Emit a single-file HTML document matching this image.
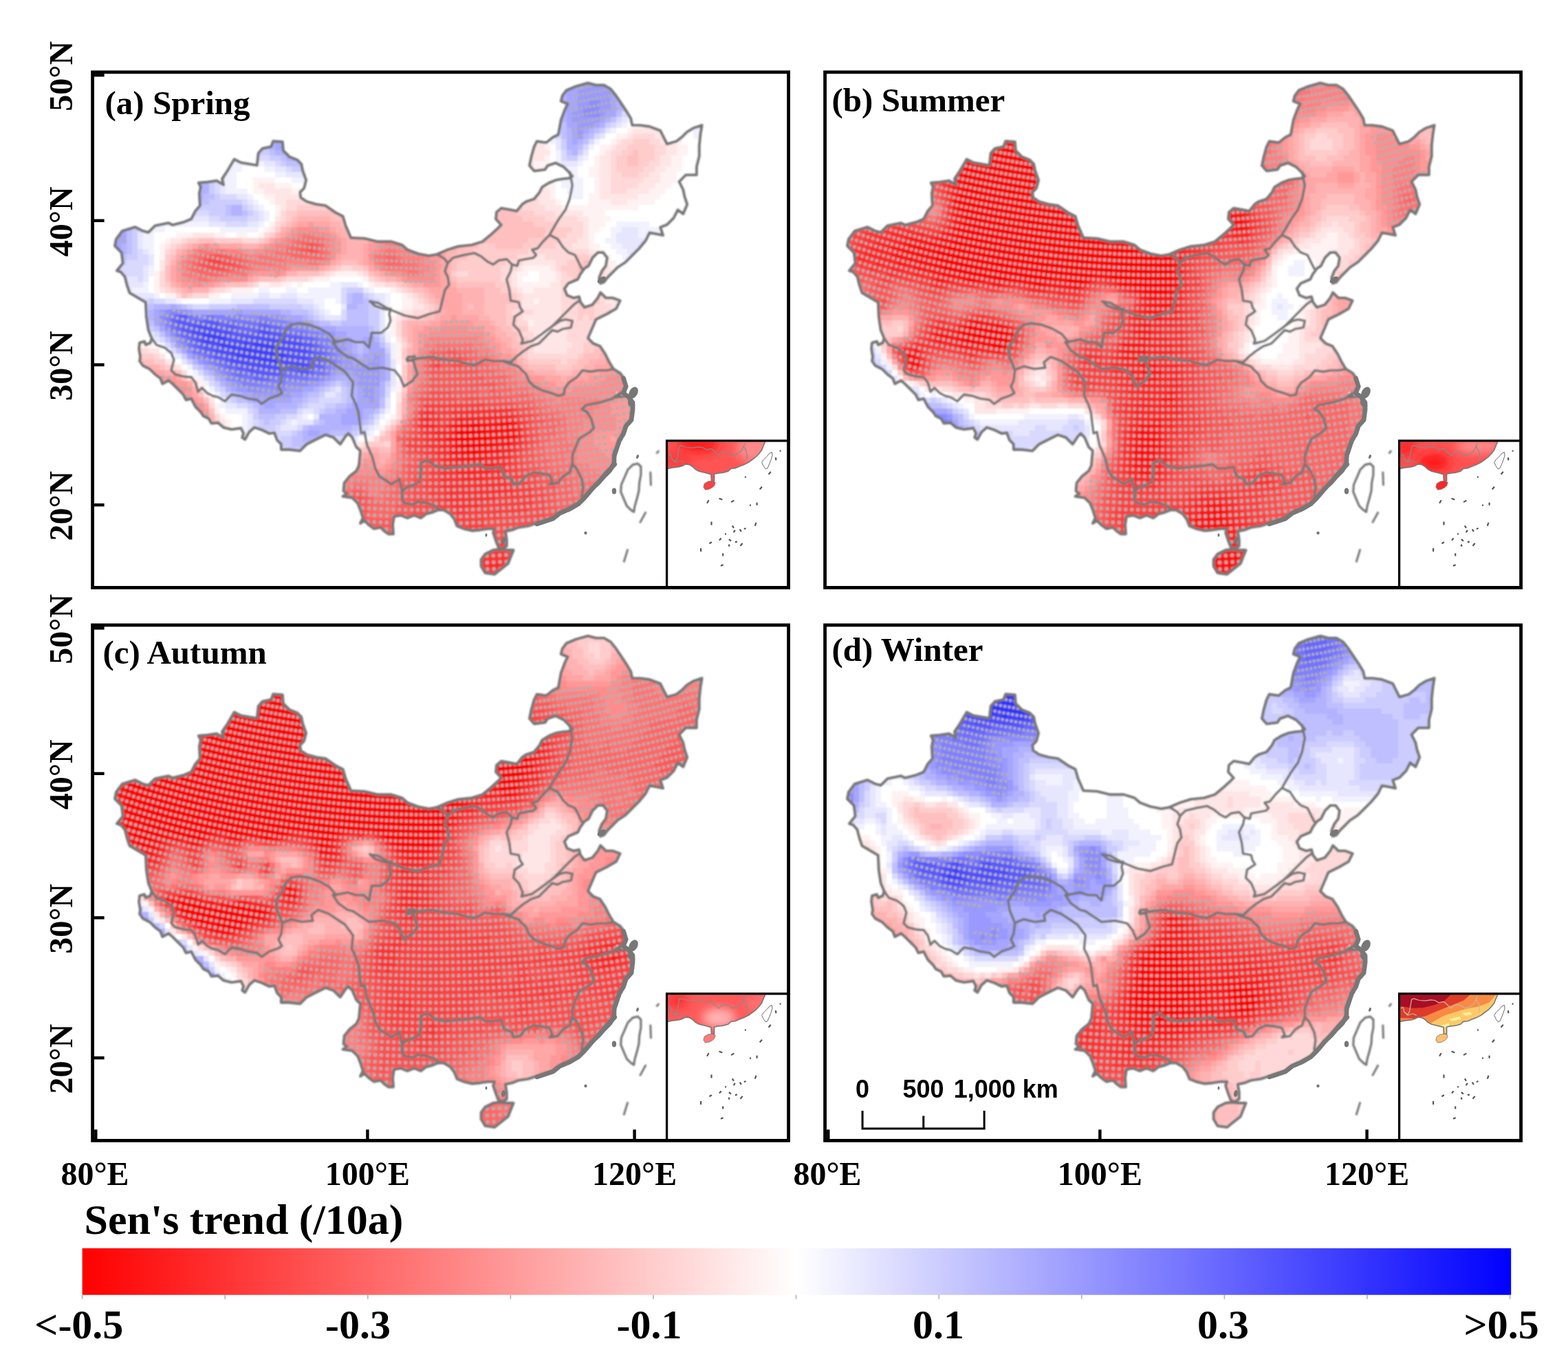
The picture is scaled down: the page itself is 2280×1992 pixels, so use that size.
<!DOCTYPE html>
<html lang="en"><head><meta charset="utf-8"><title>Sen's trend seasonal maps</title>
<style>html,body{margin:0;padding:0;background:#fff}svg{display:block}.ser{font-family:"Liberation Serif","Times New Roman",serif;font-weight:bold;fill:#000}.san{font-family:"Liberation Sans",Arial,sans-serif;font-weight:bold;fill:#000}</style></head><body>
<svg xmlns="http://www.w3.org/2000/svg" width="2280" height="1992" viewBox="0 0 2280 1992">
<rect width="2280" height="1992" fill="#fff"/>
<defs>
<clipPath id="cn"><path d="M215.8,480.0 212.9,460.8 211.9,439.4 188.5,425.7 184.6,414.0 181.7,402.3 175.8,395.5 170.0,393.6 178.8,382.8 176.8,367.2 167.1,357.5 169.0,347.7 177.8,336.0 196.3,330.2 208.0,336.0 215.8,338.0 225.6,328.2 235.3,326.3 245.1,324.3 250.9,327.2 266.5,323.3 278.2,318.5 284.1,306.8 290.9,299.0 289.9,281.4 291.9,271.7 288.9,265.8 301.6,264.8 315.3,262.9 325.0,268.7 323.1,260.0 330.9,248.3 340.6,231.7 350.4,236.6 373.8,240.5 375.7,222.9 381.6,216.1 394.3,213.2 397.2,205.4 410.8,206.3 411.8,219.0 420.6,227.8 432.3,232.7 438.1,238.5 440.1,248.3 445.0,261.9 442.0,273.6 436.2,279.5 437.2,287.3 445.9,293.1 459.6,297.0 473.2,299.0 488.8,309.7 498.6,314.6 502.5,328.2 510.3,345.8 530.0,346.7 549.5,351.4 569.0,351.4 584.6,356.3 592.4,363.1 608.0,369.0 623.6,371.9 635.3,369.9 650.9,363.1 666.5,358.2 686.0,356.3 701.6,351.4 713.3,341.7 725.0,330.9 728.9,327.0 721.1,318.3 722.1,308.5 728.9,302.7 741.7,305.0 751.5,307.0 759.3,297.2 765.1,293.3 776.8,289.4 784.6,279.7 788.5,271.9 798.3,266.0 808.0,262.1 817.8,260.2 827.5,259.2 832.4,256.3 827.5,250.4 819.7,242.6 808.0,236.8 796.3,240.7 792.4,246.5 776.8,248.5 770.0,240.7 772.9,227.0 776.8,213.4 780.7,205.6 794.4,207.5 804.1,199.7 811.9,195.8 815.8,174.4 821.7,158.8 825.6,151.0 815.8,147.1 817.8,139.3 823.6,131.5 837.3,125.6 854.8,120.7 866.5,123.7 878.2,123.7 888.0,129.5 895.8,139.3 903.6,151.0 911.4,162.7 917.2,172.4 919.2,182.2 930.9,182.2 944.5,184.1 960.1,190.0 964.0,197.8 969.9,209.5 983.5,205.6 991.3,199.7 999.1,191.9 1008.9,186.1 1020.6,182.2 1018.6,193.9 1016.7,211.4 1016.7,227.0 1012.8,242.6 1012.8,254.3 997.2,254.3 987.4,264.1 993.3,275.8 995.2,285.5 999.1,297.2 993.3,310.9 985.5,305.0 979.6,316.7 969.9,326.5 960.1,330.4 964.0,342.1 954.3,340.1 944.5,338.2 938.7,349.9 928.9,361.6 919.2,371.3 909.4,381.1 897.7,388.9 889.9,396.7 884.1,402.5 878.2,410.0 873.2,411.9 871.3,404.1 875.2,394.3 881.0,386.5 883.0,374.8 877.1,367.0 869.3,367.0 861.5,374.8 855.7,386.5 849.8,390.4 844.0,398.2 840.1,406.0 826.4,411.9 820.6,419.7 824.5,429.4 834.2,433.3 842.0,431.4 844.0,439.2 849.8,447.0 861.5,443.1 869.3,433.3 873.2,425.5 881.0,433.3 890.8,433.3 901.6,437.1 895.8,448.8 882.1,456.6 866.5,464.4 860.7,478.0 854.8,491.7 862.6,499.5 872.4,503.4 880.2,515.1 886.0,526.8 891.9,536.5 901.6,542.4 907.5,550.2 909.4,561.9 905.5,569.7 895.8,577.5 905.5,576.5 913.3,575.5 917.6,582.4 918.8,595.0 917.2,610.6 909.4,618.4 905.5,630.1 899.7,639.9 895.8,651.6 891.9,661.3 891.9,673.0 892.7,675.1 881.0,686.8 869.3,700.4 859.6,710.2 849.8,721.9 840.1,731.6 826.4,739.4 812.8,745.3 803.0,753.1 791.3,757.0 779.6,760.9 767.9,764.8 754.3,766.7 744.5,770.6 734.8,772.6 736.7,784.3 736.7,794.0 730.9,797.9 725.0,796.0 721.1,786.2 717.2,774.5 719.2,768.7 709.4,768.7 697.7,770.6 686.0,771.6 674.3,768.7 664.6,764.8 660.7,755.0 654.8,747.2 645.1,741.4 637.3,741.4 627.5,745.3 619.7,747.2 611.9,753.1 602.2,749.2 592.4,753.1 582.7,749.2 572.9,751.1 571.0,762.8 571.9,776.5 565.1,776.5 559.3,772.6 553.4,766.7 543.7,768.7 535.9,762.8 530.0,757.0 524.0,760.8 527.9,753.0 524.0,741.3 520.1,731.6 512.3,723.8 498.6,721.8 504.5,717.9 499.6,714.0 500.6,702.3 508.4,692.6 518.1,684.8 522.0,677.0 524.0,655.5 518.1,649.7 512.3,636.0 506.4,630.2 502.5,634.1 494.7,645.8 484.9,636.0 473.2,632.1 457.6,639.9 445.9,645.8 436.2,655.5 420.6,653.6 408.9,653.6 408.9,645.8 403.0,639.9 399.1,629.2 391.3,630.2 381.6,625.3 369.9,621.4 362.1,628.2 356.2,638.9 352.3,636.0 354.3,630.2 350.4,622.4 336.7,624.3 325.0,621.4 317.2,614.6 307.5,615.5 303.6,608.7 295.8,604.8 291.9,599.0 284.1,591.2 278.2,579.5 270.4,581.4 266.5,573.6 258.7,565.8 250.9,558.0 245.1,553.1 236.3,558.0 233.4,550.2 225.6,544.4 217.8,536.6 208.0,531.7 203.1,524.9 204.1,519.0 202.2,507.3 203.1,498.5 210.0,496.6 211.9,501.5 218.7,498.5 220.7,491.7Z"/><path d="M705.5,805.7 717.2,799.9 727.0,798.9 736.7,799.9 746.5,799.9 742.6,809.6 738.7,819.4 728.9,827.2 719.2,835.0 705.5,833.0 699.7,823.3 699.7,813.5Z"/></clipPath>
<clipPath id="fr"><rect x="134.6" y="104.9" width="1011.9999999999999" height="749.5"/></clipPath>
<filter id="ib" x="-50%" y="-50%" width="200%" height="200%"><feGaussianBlur stdDeviation="7"/></filter><filter id="sb" filterUnits="userSpaceOnUse" x="130" y="100" width="1020" height="760"><feGaussianBlur stdDeviation="0.9"/></filter>
</defs>
<g transform="translate(0,0)">
<g filter="url(#sb)">
<g clip-path="url(#cn)"><path fill="#ff0000" d="M680,618h16v8h-16zM664,626h40v8h-40zM664,634h48v8h-48zM672,642h32v8h-32zM680,650h16v8h-16z"/>
<path fill="#ff0d0d" d="M688,610h8v8h-8zM728,610h16v8h-16zM664,618h16v8h-16zM696,618h48v8h-48zM704,626h48v8h-48zM656,634h8v8h-8zM712,634h40v8h-40zM664,642h8v8h-8zM704,642h16v8h-16zM664,650h16v8h-16zM696,650h16v8h-16zM672,658h24v8h-24z"/>
<path fill="#ff1919" d="M664,610h24v8h-24zM696,610h32v8h-32zM744,610h8v8h-8zM656,618h8v8h-8zM744,618h8v8h-8zM656,626h8v8h-8zM648,634h8v8h-8zM656,642h8v8h-8zM720,642h24v8h-24zM656,650h8v8h-8zM712,650h16v8h-16zM656,658h16v8h-16zM696,658h16v8h-16zM664,666h40v8h-40z"/>
<path fill="#ff2626" d="M616,602h8v8h-8zM664,602h80v8h-80zM616,610h8v8h-8zM656,610h8v8h-8zM616,618h16v8h-16zM648,618h8v8h-8zM752,618h8v8h-8zM632,626h24v8h-24zM752,626h8v8h-8zM632,634h16v8h-16zM752,634h8v8h-8zM640,642h16v8h-16zM744,642h8v8h-8zM640,650h16v8h-16zM728,650h16v8h-16zM648,658h8v8h-8zM712,658h24v8h-24zM648,666h16v8h-16zM704,666h24v8h-24zM656,674h64v8h-64zM664,682h48v8h-48zM672,690h32v8h-32zM712,818h16v8h-16z"/>
<path fill="#ff3333" d="M616,594h16v8h-16zM656,594h88v8h-88zM608,602h8v8h-8zM624,602h16v8h-16zM656,602h8v8h-8zM744,602h8v8h-8zM608,610h8v8h-8zM624,610h16v8h-16zM648,610h8v8h-8zM752,610h8v8h-8zM608,618h8v8h-8zM632,618h16v8h-16zM616,626h16v8h-16zM616,634h16v8h-16zM616,642h24v8h-24zM752,642h8v8h-8zM624,650h16v8h-16zM744,650h8v8h-8zM632,658h16v8h-16zM736,658h8v8h-8zM640,666h8v8h-8zM728,666h16v8h-16zM640,674h16v8h-16zM720,674h16v8h-16zM640,682h24v8h-24zM712,682h24v8h-24zM640,690h32v8h-32zM704,690h32v8h-32zM640,698h96v8h-96zM640,706h104v8h-104zM648,714h104v8h-104zM648,722h72v8h-72zM656,730h40v8h-40zM664,738h16v8h-16zM704,802h32v8h-32zM696,810h48v8h-48zM696,818h16v8h-16zM728,818h16v8h-16zM696,826h32v8h-32zM712,834h8v8h-8z"/>
<path fill="#ff4040" d="M304,378h16v8h-16zM632,522h8v8h-8zM632,530h8v8h-8zM616,586h88v8h-88zM608,594h8v8h-8zM632,594h24v8h-24zM744,594h8v8h-8zM640,602h16v8h-16zM752,602h8v8h-8zM640,610h8v8h-8zM760,610h8v8h-8zM760,618h8v8h-8zM608,626h8v8h-8zM760,626h8v8h-8zM600,634h16v8h-16zM760,634h8v8h-8zM592,642h24v8h-24zM760,642h8v8h-8zM600,650h24v8h-24zM752,650h8v8h-8zM616,658h16v8h-16zM744,658h8v8h-8zM624,666h16v8h-16zM744,666h8v8h-8zM632,674h8v8h-8zM736,674h16v8h-16zM624,682h16v8h-16zM736,682h16v8h-16zM624,690h16v8h-16zM736,690h24v8h-24zM616,698h24v8h-24zM736,698h32v8h-32zM616,706h24v8h-24zM744,706h32v8h-32zM624,714h24v8h-24zM752,714h24v8h-24zM632,722h16v8h-16zM720,722h56v8h-56zM632,730h24v8h-24zM696,730h80v8h-80zM632,738h32v8h-32zM680,738h88v8h-88zM656,746h72v8h-72zM656,754h48v8h-48zM664,762h40v8h-40zM680,770h16v8h-16zM712,770h8v8h-8zM712,778h8v8h-8zM720,786h24v8h-24zM712,794h40v8h-40zM736,802h8v8h-8z"/>
<path fill="#ff4d4d" d="M448,354h8v8h-8zM448,362h8v8h-8zM304,370h16v8h-16zM296,378h8v8h-8zM320,378h24v8h-24zM304,386h24v8h-24zM640,514h8v8h-8zM656,514h16v8h-16zM624,522h8v8h-8zM640,522h32v8h-32zM624,530h8v8h-8zM656,530h16v8h-16zM624,570h32v8h-32zM616,578h48v8h-48zM672,578h24v8h-24zM704,586h48v8h-48zM752,594h16v8h-16zM760,602h16v8h-16zM600,610h8v8h-8zM768,610h8v8h-8zM600,618h8v8h-8zM768,618h8v8h-8zM600,626h8v8h-8zM768,626h8v8h-8zM592,634h8v8h-8zM768,634h8v8h-8zM768,642h8v8h-8zM592,650h8v8h-8zM760,650h8v8h-8zM608,658h8v8h-8zM752,658h8v8h-8zM608,666h16v8h-16zM752,666h8v8h-8zM608,674h24v8h-24zM752,674h8v8h-8zM608,682h16v8h-16zM752,682h16v8h-16zM600,690h24v8h-24zM760,690h24v8h-24zM600,698h16v8h-16zM768,698h16v8h-16zM600,706h16v8h-16zM776,706h16v8h-16zM600,714h24v8h-24zM776,714h16v8h-16zM520,722h8v8h-8zM600,722h32v8h-32zM776,722h16v8h-16zM600,730h32v8h-32zM776,730h16v8h-16zM600,738h32v8h-32zM768,738h24v8h-24zM600,746h24v8h-24zM728,746h64v8h-64zM704,754h96v8h-96zM704,762h72v8h-72zM720,770h24v8h-24zM720,778h16v8h-16z"/>
<path fill="#ff5959" d="M440,354h8v8h-8zM456,354h8v8h-8zM432,362h16v8h-16zM456,362h8v8h-8zM296,370h8v8h-8zM320,370h16v8h-16zM288,378h8v8h-8zM344,378h8v8h-8zM288,386h16v8h-16zM328,386h24v8h-24zM648,506h16v8h-16zM624,514h16v8h-16zM648,514h8v8h-8zM672,514h8v8h-8zM672,522h16v8h-16zM640,530h16v8h-16zM672,530h24v8h-24zM624,538h72v8h-72zM624,546h80v8h-80zM624,554h96v8h-96zM624,562h72v8h-72zM712,562h8v8h-8zM616,570h8v8h-8zM656,570h40v8h-40zM712,570h16v8h-16zM608,578h8v8h-8zM664,578h8v8h-8zM696,578h48v8h-48zM608,586h8v8h-8zM752,586h24v8h-24zM768,594h8v8h-8zM600,602h8v8h-8zM776,602h8v8h-8zM776,610h16v8h-16zM776,618h8v8h-8zM592,626h8v8h-8zM776,626h8v8h-8zM584,634h8v8h-8zM776,634h8v8h-8zM584,642h8v8h-8zM776,642h8v8h-8zM768,650h8v8h-8zM592,658h16v8h-16zM760,658h16v8h-16zM600,666h8v8h-8zM760,666h16v8h-16zM592,674h16v8h-16zM760,674h24v8h-24zM592,682h16v8h-16zM768,682h16v8h-16zM592,690h8v8h-8zM784,690h8v8h-8zM584,698h16v8h-16zM784,698h16v8h-16zM584,706h16v8h-16zM792,706h16v8h-16zM512,714h16v8h-16zM584,714h16v8h-16zM792,714h16v8h-16zM512,722h8v8h-8zM528,722h8v8h-8zM584,722h16v8h-16zM792,722h16v8h-16zM520,730h16v8h-16zM576,730h24v8h-24zM792,730h16v8h-16zM520,738h16v8h-16zM576,738h24v8h-24zM792,738h24v8h-24zM520,746h16v8h-16zM568,746h32v8h-32zM792,746h24v8h-24zM520,754h56v8h-56zM536,762h40v8h-40zM552,770h24v8h-24z"/>
<path fill="#ff6666" d="M432,346h32v8h-32zM424,354h16v8h-16zM464,354h8v8h-8zM416,362h16v8h-16zM464,362h8v8h-8zM288,370h8v8h-8zM336,370h16v8h-16zM424,370h48v8h-48zM560,370h16v8h-16zM280,378h8v8h-8zM352,378h8v8h-8zM560,378h24v8h-24zM280,386h8v8h-8zM352,386h8v8h-8zM288,394h48v8h-48zM624,506h24v8h-24zM664,506h24v8h-24zM680,514h16v8h-16zM616,522h8v8h-8zM688,522h16v8h-16zM616,530h8v8h-8zM696,530h16v8h-16zM616,538h8v8h-8zM696,538h24v8h-24zM704,546h32v8h-32zM616,554h8v8h-8zM720,554h16v8h-16zM616,562h8v8h-8zM696,562h16v8h-16zM720,562h24v8h-24zM608,570h8v8h-8zM696,570h16v8h-16zM728,570h40v8h-40zM744,578h32v8h-32zM776,586h8v8h-8zM600,594h8v8h-8zM776,594h16v8h-16zM784,602h24v8h-24zM592,610h8v8h-8zM792,610h24v8h-24zM592,618h8v8h-8zM784,618h24v8h-24zM584,626h8v8h-8zM784,626h24v8h-24zM576,634h8v8h-8zM784,634h16v8h-16zM784,642h8v8h-8zM584,650h8v8h-8zM776,650h16v8h-16zM584,658h8v8h-8zM776,658h16v8h-16zM592,666h8v8h-8zM776,666h24v8h-24zM584,674h8v8h-8zM784,674h16v8h-16zM584,682h8v8h-8zM784,682h32v8h-32zM576,690h16v8h-16zM792,690h32v8h-32zM576,698h8v8h-8zM800,698h32v8h-32zM512,706h16v8h-16zM576,706h8v8h-8zM808,706h24v8h-24zM504,714h8v8h-8zM528,714h8v8h-8zM568,714h16v8h-16zM808,714h24v8h-24zM504,722h8v8h-8zM536,722h8v8h-8zM560,722h24v8h-24zM808,722h32v8h-32zM536,730h40v8h-40zM808,730h32v8h-32zM536,738h40v8h-40zM816,738h16v8h-16zM536,746h32v8h-32z"/>
<path fill="#ff7373" d="M440,338h16v8h-16zM424,346h8v8h-8zM464,346h8v8h-8zM416,354h8v8h-8zM288,362h40v8h-40zM400,362h16v8h-16zM472,362h8v8h-8zM560,362h16v8h-16zM280,370h8v8h-8zM352,370h8v8h-8zM376,370h48v8h-48zM472,370h8v8h-8zM544,370h16v8h-16zM576,370h8v8h-8zM272,378h8v8h-8zM360,378h56v8h-56zM448,378h16v8h-16zM552,378h8v8h-8zM584,378h24v8h-24zM272,386h8v8h-8zM360,386h8v8h-8zM560,386h48v8h-48zM272,394h16v8h-16zM336,394h24v8h-24zM592,394h16v8h-16zM288,402h16v8h-16zM632,498h56v8h-56zM688,506h8v8h-8zM616,514h8v8h-8zM696,514h16v8h-16zM704,522h16v8h-16zM712,530h16v8h-16zM720,538h16v8h-16zM616,546h8v8h-8zM736,546h8v8h-8zM608,554h8v8h-8zM736,554h16v8h-16zM608,562h8v8h-8zM744,562h24v8h-24zM600,570h8v8h-8zM768,570h8v8h-8zM600,578h8v8h-8zM776,578h16v8h-16zM600,586h8v8h-8zM784,586h16v8h-16zM792,594h24v8h-24zM808,602h16v8h-16zM816,610h8v8h-8zM584,618h8v8h-8zM808,618h16v8h-16zM808,626h16v8h-16zM800,634h24v8h-24zM792,642h40v8h-40zM792,650h40v8h-40zM792,658h32v8h-32zM584,666h8v8h-8zM800,666h24v8h-24zM800,674h32v8h-32zM576,682h8v8h-8zM816,682h16v8h-16zM824,690h16v8h-16zM512,698h24v8h-24zM568,698h8v8h-8zM832,698h32v8h-32zM504,706h8v8h-8zM528,706h8v8h-8zM560,706h16v8h-16zM832,706h32v8h-32zM552,714h16v8h-16zM832,714h24v8h-24zM544,722h16v8h-16zM840,722h8v8h-8z"/>
<path fill="#ff8080" d="M432,338h8v8h-8zM456,338h16v8h-16zM416,346h8v8h-8zM472,346h8v8h-8zM400,354h16v8h-16zM472,354h8v8h-8zM560,354h32v8h-32zM280,362h8v8h-8zM328,362h24v8h-24zM384,362h16v8h-16zM552,362h8v8h-8zM576,362h32v8h-32zM272,370h8v8h-8zM360,370h16v8h-16zM584,370h32v8h-32zM264,378h8v8h-8zM416,378h32v8h-32zM464,378h8v8h-8zM544,378h8v8h-8zM608,378h8v8h-8zM264,386h8v8h-8zM368,386h48v8h-48zM552,386h8v8h-8zM608,386h16v8h-16zM264,394h8v8h-8zM584,394h8v8h-8zM608,394h8v8h-8zM272,402h16v8h-16zM304,402h16v8h-16zM624,490h72v8h-72zM616,498h16v8h-16zM688,498h16v8h-16zM616,506h8v8h-8zM696,506h16v8h-16zM608,514h8v8h-8zM712,514h8v8h-8zM608,522h8v8h-8zM720,522h8v8h-8zM608,530h8v8h-8zM728,530h16v8h-16zM608,538h8v8h-8zM736,538h16v8h-16zM608,546h8v8h-8zM744,546h8v8h-8zM752,554h16v8h-16zM600,562h8v8h-8zM768,562h16v8h-16zM776,570h16v8h-16zM592,578h8v8h-8zM792,578h16v8h-16zM816,578h56v8h-56zM800,586h72v8h-72zM816,594h48v8h-48zM592,602h8v8h-8zM824,602h32v8h-32zM824,610h24v8h-24zM824,618h24v8h-24zM576,626h8v8h-8zM824,626h16v8h-16zM824,634h16v8h-16zM576,642h8v8h-8zM832,642h8v8h-8zM576,650h8v8h-8zM832,650h8v8h-8zM576,658h8v8h-8zM824,658h16v8h-16zM576,666h8v8h-8zM824,666h16v8h-16zM576,674h8v8h-8zM832,674h24v8h-24zM568,682h8v8h-8zM832,682h40v8h-40zM512,690h40v8h-40zM560,690h16v8h-16zM840,690h40v8h-40zM504,698h8v8h-8zM536,698h32v8h-32zM864,698h8v8h-8zM496,706h8v8h-8zM536,706h24v8h-24zM496,714h8v8h-8zM536,714h16v8h-16z"/>
<path fill="#ff8c8c" d="M432,330h32v8h-32zM424,338h8v8h-8zM472,338h8v8h-8zM408,346h8v8h-8zM480,346h8v8h-8zM560,346h16v8h-16zM296,354h8v8h-8zM392,354h8v8h-8zM480,354h8v8h-8zM552,354h8v8h-8zM352,362h8v8h-8zM368,362h16v8h-16zM480,362h8v8h-8zM544,362h8v8h-8zM480,370h8v8h-8zM536,370h8v8h-8zM616,370h8v8h-8zM472,378h8v8h-8zM616,378h16v8h-16zM416,386h8v8h-8zM624,386h8v8h-8zM360,394h8v8h-8zM400,394h8v8h-8zM568,394h16v8h-16zM616,394h16v8h-16zM264,402h8v8h-8zM320,402h40v8h-40zM592,402h40v8h-40zM280,410h16v8h-16zM640,474h40v8h-40zM624,482h80v8h-80zM616,490h8v8h-8zM696,490h8v8h-8zM704,498h8v8h-8zM608,506h8v8h-8zM712,506h8v8h-8zM720,514h8v8h-8zM600,522h8v8h-8zM728,522h16v8h-16zM600,530h8v8h-8zM744,530h8v8h-8zM600,538h8v8h-8zM752,538h8v8h-8zM600,546h8v8h-8zM752,546h16v8h-16zM880,546h24v8h-24zM232,554h8v8h-8zM248,554h8v8h-8zM600,554h8v8h-8zM768,554h16v8h-16zM872,554h40v8h-40zM256,562h16v8h-16zM784,562h16v8h-16zM832,562h80v8h-80zM592,570h8v8h-8zM792,570h104v8h-104zM264,578h16v8h-16zM808,578h8v8h-8zM872,578h24v8h-24zM280,586h16v8h-16zM592,586h8v8h-8zM872,586h16v8h-16zM288,594h8v8h-8zM592,594h8v8h-8zM864,594h24v8h-24zM856,602h40v8h-40zM584,610h8v8h-8zM848,610h48v8h-48zM848,618h48v8h-48zM840,626h24v8h-24zM840,634h24v8h-24zM840,642h24v8h-24zM840,650h32v8h-32zM840,658h40v8h-40zM840,666h48v8h-48zM528,674h8v8h-8zM568,674h8v8h-8zM856,674h40v8h-40zM512,682h40v8h-40zM560,682h8v8h-8zM872,682h16v8h-16zM504,690h8v8h-8zM552,690h8v8h-8zM496,698h8v8h-8z"/>
<path fill="#ff9999" d="M448,322h8v8h-8zM424,330h8v8h-8zM464,330h16v8h-16zM416,338h8v8h-8zM480,338h8v8h-8zM400,346h8v8h-8zM488,346h8v8h-8zM544,346h16v8h-16zM288,354h8v8h-8zM304,354h16v8h-16zM384,354h8v8h-8zM488,354h8v8h-8zM536,354h16v8h-16zM272,362h8v8h-8zM360,362h8v8h-8zM488,362h8v8h-8zM536,362h8v8h-8zM632,362h8v8h-8zM264,370h8v8h-8zM624,370h16v8h-16zM256,378h8v8h-8zM536,378h8v8h-8zM632,378h8v8h-8zM256,386h8v8h-8zM424,386h40v8h-40zM544,386h8v8h-8zM632,386h8v8h-8zM256,394h8v8h-8zM368,394h32v8h-32zM408,394h8v8h-8zM560,394h8v8h-8zM632,394h8v8h-8zM256,402h8v8h-8zM584,402h8v8h-8zM632,402h8v8h-8zM264,410h16v8h-16zM296,410h16v8h-16zM616,410h24v8h-24zM656,458h8v8h-8zM640,466h48v8h-48zM616,474h24v8h-24zM680,474h24v8h-24zM608,482h16v8h-16zM704,482h8v8h-8zM608,490h8v8h-8zM704,490h16v8h-16zM608,498h8v8h-8zM712,498h16v8h-16zM720,506h8v8h-8zM600,514h8v8h-8zM728,514h16v8h-16zM744,522h8v8h-8zM872,538h32v8h-32zM224,546h32v8h-32zM768,546h24v8h-24zM856,546h24v8h-24zM904,546h8v8h-8zM256,554h16v8h-16zM784,554h24v8h-24zM824,554h48v8h-48zM272,562h8v8h-8zM592,562h8v8h-8zM800,562h32v8h-32zM264,570h16v8h-16zM904,570h16v8h-16zM280,578h8v8h-8zM896,578h24v8h-24zM888,586h32v8h-32zM296,594h8v8h-8zM888,594h32v8h-32zM296,602h8v8h-8zM896,602h24v8h-24zM896,610h24v8h-24zM576,618h8v8h-8zM896,618h16v8h-16zM864,626h48v8h-48zM864,634h24v8h-24zM896,634h8v8h-8zM864,642h40v8h-40zM872,650h24v8h-24zM568,658h8v8h-8zM880,658h16v8h-16zM528,666h16v8h-16zM568,666h8v8h-8zM888,666h8v8h-8zM520,674h8v8h-8zM536,674h8v8h-8zM560,674h8v8h-8zM552,682h8v8h-8z"/>
<path fill="#ffa6a6" d="M432,322h16v8h-16zM456,322h24v8h-24zM416,330h8v8h-8zM480,330h8v8h-8zM408,338h8v8h-8zM488,338h8v8h-8zM392,346h8v8h-8zM496,346h8v8h-8zM536,346h8v8h-8zM280,354h8v8h-8zM320,354h32v8h-32zM376,354h8v8h-8zM496,354h8v8h-8zM528,354h8v8h-8zM264,362h8v8h-8zM496,362h8v8h-8zM528,362h8v8h-8zM640,362h8v8h-8zM256,370h8v8h-8zM488,370h8v8h-8zM528,370h8v8h-8zM640,370h8v8h-8zM480,378h8v8h-8zM528,378h8v8h-8zM640,378h8v8h-8zM248,386h8v8h-8zM464,386h8v8h-8zM536,386h8v8h-8zM640,386h8v8h-8zM248,394h8v8h-8zM552,394h8v8h-8zM640,394h8v8h-8zM248,402h8v8h-8zM360,402h8v8h-8zM576,402h8v8h-8zM640,402h8v8h-8zM256,410h8v8h-8zM312,410h8v8h-8zM600,410h16v8h-16zM640,410h16v8h-16zM272,418h8v8h-8zM624,418h40v8h-40zM632,426h40v8h-40zM640,434h32v8h-32zM640,442h32v8h-32zM648,450h24v8h-24zM640,458h16v8h-16zM664,458h32v8h-32zM624,466h16v8h-16zM688,466h24v8h-24zM600,474h16v8h-16zM704,474h16v8h-16zM600,482h8v8h-8zM712,482h8v8h-8zM600,490h8v8h-8zM720,490h8v8h-8zM600,498h8v8h-8zM728,498h8v8h-8zM600,506h8v8h-8zM728,506h16v8h-16zM744,514h8v8h-8zM880,522h8v8h-8zM592,530h8v8h-8zM752,530h8v8h-8zM864,530h32v8h-32zM216,538h24v8h-24zM592,538h8v8h-8zM760,538h16v8h-16zM848,538h24v8h-24zM256,546h8v8h-8zM592,546h8v8h-8zM792,546h24v8h-24zM824,546h32v8h-32zM272,554h8v8h-8zM592,554h8v8h-8zM808,554h16v8h-16zM280,570h8v8h-8zM288,578h8v8h-8zM296,586h8v8h-8zM584,602h8v8h-8zM568,626h8v8h-8zM568,634h8v8h-8zM888,634h8v8h-8zM568,642h8v8h-8zM568,650h8v8h-8zM528,658h24v8h-24zM520,666h8v8h-8zM544,666h8v8h-8zM560,666h8v8h-8zM544,674h16v8h-16z"/>
<path fill="#ffb2b2" d="M432,314h48v8h-48zM424,322h8v8h-8zM480,322h16v8h-16zM408,330h8v8h-8zM488,330h24v8h-24zM400,338h8v8h-8zM496,338h16v8h-16zM504,346h32v8h-32zM272,354h8v8h-8zM352,354h24v8h-24zM504,354h24v8h-24zM656,354h16v8h-16zM256,362h8v8h-8zM504,362h24v8h-24zM648,362h16v8h-16zM496,370h32v8h-32zM648,370h8v8h-8zM248,378h8v8h-8zM488,378h8v8h-8zM520,378h8v8h-8zM648,378h8v8h-8zM472,386h8v8h-8zM648,386h8v8h-8zM416,394h16v8h-16zM544,394h8v8h-8zM648,394h8v8h-8zM368,402h8v8h-8zM560,402h16v8h-16zM648,402h8v8h-8zM248,410h8v8h-8zM320,410h8v8h-8zM592,410h8v8h-8zM656,410h8v8h-8zM264,418h8v8h-8zM280,418h24v8h-24zM616,418h8v8h-8zM664,418h40v8h-40zM624,426h8v8h-8zM672,426h32v8h-32zM632,434h8v8h-8zM672,434h32v8h-32zM672,442h8v8h-8zM688,442h16v8h-16zM632,450h16v8h-16zM672,450h32v8h-32zM632,458h8v8h-8zM696,458h16v8h-16zM592,466h32v8h-32zM712,466h8v8h-8zM592,474h8v8h-8zM720,474h8v8h-8zM592,482h8v8h-8zM720,482h16v8h-16zM592,490h8v8h-8zM728,490h16v8h-16zM736,498h8v8h-8zM592,506h8v8h-8zM744,506h8v8h-8zM592,514h8v8h-8zM872,514h16v8h-16zM592,522h8v8h-8zM752,522h8v8h-8zM856,522h24v8h-24zM208,530h24v8h-24zM760,530h8v8h-8zM848,530h16v8h-16zM240,538h16v8h-16zM776,538h32v8h-32zM832,538h16v8h-16zM816,546h8v8h-8zM280,562h8v8h-8zM584,578h8v8h-8zM584,586h8v8h-8zM584,594h8v8h-8zM304,602h8v8h-8zM304,610h8v8h-8zM536,650h16v8h-16zM520,658h8v8h-8zM552,658h16v8h-16zM552,666h8v8h-8z"/>
<path fill="#ffbfbf" d="M920,218h8v8h-8zM912,226h16v8h-16zM912,234h16v8h-16zM728,298h16v8h-16zM432,306h56v8h-56zM720,306h32v8h-32zM424,314h8v8h-8zM480,314h24v8h-24zM720,314h40v8h-40zM416,322h8v8h-8zM496,322h8v8h-8zM720,322h56v8h-56zM720,330h72v8h-72zM704,338h88v8h-88zM288,346h24v8h-24zM384,346h8v8h-8zM696,346h72v8h-72zM264,354h8v8h-8zM672,354h24v8h-24zM720,354h40v8h-40zM664,362h24v8h-24zM248,370h8v8h-8zM656,370h24v8h-24zM496,378h24v8h-24zM656,378h8v8h-8zM848,378h8v8h-8zM240,386h8v8h-8zM480,386h8v8h-8zM528,386h8v8h-8zM656,386h8v8h-8zM840,386h16v8h-16zM240,394h8v8h-8zM432,394h32v8h-32zM536,394h8v8h-8zM240,402h8v8h-8zM376,402h32v8h-32zM552,402h8v8h-8zM656,402h8v8h-8zM328,410h32v8h-32zM584,410h8v8h-8zM664,410h56v8h-56zM256,418h8v8h-8zM600,418h16v8h-16zM704,418h24v8h-24zM264,426h8v8h-8zM616,426h8v8h-8zM704,426h40v8h-40zM624,434h8v8h-8zM704,434h40v8h-40zM632,442h8v8h-8zM680,442h8v8h-8zM704,442h32v8h-32zM704,450h32v8h-32zM616,458h16v8h-16zM712,458h24v8h-24zM584,466h8v8h-8zM720,466h16v8h-16zM584,474h8v8h-8zM728,474h16v8h-16zM584,482h8v8h-8zM736,482h16v8h-16zM744,490h8v8h-8zM592,498h8v8h-8zM744,498h16v8h-16zM752,506h8v8h-8zM864,506h16v8h-16zM752,514h8v8h-8zM848,514h24v8h-24zM200,522h24v8h-24zM760,522h8v8h-8zM840,522h16v8h-16zM232,530h8v8h-8zM768,530h40v8h-40zM832,530h16v8h-16zM256,538h8v8h-8zM808,538h24v8h-24zM264,546h8v8h-8zM288,570h8v8h-8zM584,570h8v8h-8zM296,578h8v8h-8zM304,594h8v8h-8zM576,610h8v8h-8zM568,618h8v8h-8zM560,626h8v8h-8zM552,634h16v8h-16zM528,650h8v8h-8zM552,650h16v8h-16z"/>
<path fill="#ffcccc" d="M920,202h24v8h-24zM912,210h40v8h-40zM904,218h16v8h-16zM928,218h24v8h-24zM896,226h16v8h-16zM928,226h24v8h-24zM896,234h16v8h-16zM928,234h16v8h-16zM896,242h40v8h-40zM904,250h24v8h-24zM432,298h48v8h-48zM752,298h8v8h-8zM416,306h16v8h-16zM488,306h8v8h-8zM752,306h24v8h-24zM416,314h8v8h-8zM760,314h32v8h-32zM408,322h8v8h-8zM776,322h32v8h-32zM400,330h8v8h-8zM792,330h40v8h-40zM392,338h8v8h-8zM792,338h32v8h-32zM272,346h16v8h-16zM312,346h40v8h-40zM376,346h8v8h-8zM768,346h48v8h-48zM256,354h8v8h-8zM696,354h24v8h-24zM760,354h48v8h-48zM248,362h8v8h-8zM688,362h80v8h-80zM240,370h8v8h-8zM680,370h72v8h-72zM840,370h16v8h-16zM240,378h8v8h-8zM664,378h72v8h-72zM824,378h24v8h-24zM856,378h8v8h-8zM488,386h8v8h-8zM512,386h16v8h-16zM664,386h64v8h-64zM816,386h24v8h-24zM464,394h8v8h-8zM656,394h8v8h-8zM680,394h48v8h-48zM824,394h24v8h-24zM408,402h8v8h-8zM544,402h8v8h-8zM664,402h64v8h-64zM832,402h16v8h-16zM240,410h8v8h-8zM360,410h8v8h-8zM576,410h8v8h-8zM720,410h16v8h-16zM248,418h8v8h-8zM304,418h8v8h-8zM592,418h8v8h-8zM728,418h16v8h-16zM272,426h8v8h-8zM608,426h8v8h-8zM744,426h8v8h-8zM840,426h8v8h-8zM616,434h8v8h-8zM744,434h8v8h-8zM840,434h8v8h-8zM864,434h8v8h-8zM624,442h8v8h-8zM736,442h16v8h-16zM840,442h24v8h-24zM624,450h8v8h-8zM736,450h8v8h-8zM840,450h24v8h-24zM592,458h24v8h-24zM736,458h16v8h-16zM840,458h8v8h-8zM856,458h8v8h-8zM736,466h16v8h-16zM744,474h24v8h-24zM752,482h8v8h-8zM584,490h8v8h-8zM752,490h16v8h-16zM856,490h8v8h-8zM760,498h8v8h-8zM848,498h24v8h-24zM584,506h8v8h-8zM760,506h8v8h-8zM848,506h16v8h-16zM200,514h24v8h-24zM584,514h8v8h-8zM760,514h8v8h-8zM840,514h8v8h-8zM224,522h16v8h-16zM768,522h48v8h-48zM824,522h16v8h-16zM240,530h8v8h-8zM584,530h8v8h-8zM808,530h24v8h-24zM584,538h8v8h-8zM584,546h8v8h-8zM280,554h8v8h-8zM584,554h8v8h-8zM584,562h8v8h-8zM312,610h8v8h-8zM536,642h24v8h-24zM520,650h8v8h-8z"/>
<path fill="#ffd9d9" d="M920,194h32v8h-32zM904,202h16v8h-16zM944,202h16v8h-16zM896,210h16v8h-16zM952,210h16v8h-16zM888,218h16v8h-16zM952,218h16v8h-16zM888,226h8v8h-8zM952,226h8v8h-8zM888,234h8v8h-8zM944,234h16v8h-16zM888,242h8v8h-8zM936,242h16v8h-16zM888,250h16v8h-16zM928,250h16v8h-16zM888,258h48v8h-48zM888,266h40v8h-40zM888,274h24v8h-24zM416,290h48v8h-48zM760,290h24v8h-24zM416,298h16v8h-16zM760,298h32v8h-32zM408,306h8v8h-8zM776,306h32v8h-32zM408,314h8v8h-8zM792,314h48v8h-48zM400,322h8v8h-8zM808,322h40v8h-40zM832,330h16v8h-16zM384,338h8v8h-8zM824,338h24v8h-24zM264,346h8v8h-8zM352,346h24v8h-24zM816,346h24v8h-24zM248,354h8v8h-8zM808,354h24v8h-24zM240,362h8v8h-8zM768,362h88v8h-88zM752,370h24v8h-24zM792,370h48v8h-48zM856,370h8v8h-8zM736,378h24v8h-24zM808,378h16v8h-16zM496,386h16v8h-16zM728,386h24v8h-24zM808,386h8v8h-8zM872,386h8v8h-8zM232,394h8v8h-8zM472,394h8v8h-8zM528,394h8v8h-8zM664,394h16v8h-16zM728,394h16v8h-16zM816,394h8v8h-8zM872,394h8v8h-8zM232,402h8v8h-8zM416,402h32v8h-32zM536,402h8v8h-8zM728,402h16v8h-16zM816,402h16v8h-16zM872,402h8v8h-8zM232,410h8v8h-8zM368,410h8v8h-8zM560,410h16v8h-16zM736,410h8v8h-8zM816,410h16v8h-16zM872,410h8v8h-8zM240,418h8v8h-8zM312,418h16v8h-16zM584,418h8v8h-8zM744,418h8v8h-8zM816,418h8v8h-8zM256,426h8v8h-8zM280,426h24v8h-24zM600,426h8v8h-8zM752,426h8v8h-8zM816,426h24v8h-24zM864,426h16v8h-16zM608,434h8v8h-8zM752,434h8v8h-8zM816,434h24v8h-24zM872,434h8v8h-8zM616,442h8v8h-8zM752,442h8v8h-8zM816,442h24v8h-24zM864,442h24v8h-24zM600,450h24v8h-24zM744,450h32v8h-32zM816,450h24v8h-24zM864,450h24v8h-24zM584,458h8v8h-8zM752,458h8v8h-8zM816,458h24v8h-24zM848,458h8v8h-8zM864,458h16v8h-16zM576,466h8v8h-8zM752,466h16v8h-16zM824,466h48v8h-48zM576,474h8v8h-8zM824,474h40v8h-40zM576,482h8v8h-8zM760,482h16v8h-16zM824,482h40v8h-40zM768,490h8v8h-8zM824,490h32v8h-32zM584,498h8v8h-8zM768,498h8v8h-8zM832,498h16v8h-16zM200,506h16v8h-16zM768,506h8v8h-8zM824,506h24v8h-24zM224,514h8v8h-8zM768,514h72v8h-72zM584,522h8v8h-8zM816,522h8v8h-8zM248,530h8v8h-8zM264,538h8v8h-8zM272,546h8v8h-8zM288,562h8v8h-8zM304,586h8v8h-8zM576,586h8v8h-8zM576,594h8v8h-8zM312,602h8v8h-8zM576,602h8v8h-8zM568,610h8v8h-8zM320,618h8v8h-8zM560,618h8v8h-8zM552,626h8v8h-8zM544,634h8v8h-8zM528,642h8v8h-8zM560,642h8v8h-8z"/>
<path fill="#ffe6e6" d="M920,186h40v8h-40zM912,194h8v8h-8zM952,194h16v8h-16zM896,202h8v8h-8zM960,202h16v8h-16zM776,210h16v8h-16zM888,210h8v8h-8zM968,210h16v8h-16zM768,218h32v8h-32zM880,218h8v8h-8zM968,218h16v8h-16zM768,226h24v8h-24zM872,226h16v8h-16zM960,226h16v8h-16zM768,234h8v8h-8zM872,234h16v8h-16zM960,234h16v8h-16zM768,242h8v8h-8zM872,242h16v8h-16zM952,242h16v8h-16zM872,250h16v8h-16zM944,250h16v8h-16zM872,258h16v8h-16zM936,258h24v8h-24zM376,266h24v8h-24zM784,266h8v8h-8zM872,266h16v8h-16zM928,266h24v8h-24zM384,274h40v8h-40zM784,274h16v8h-16zM872,274h16v8h-16zM912,274h32v8h-32zM400,282h40v8h-40zM776,282h24v8h-24zM872,282h56v8h-56zM400,290h16v8h-16zM784,290h24v8h-24zM888,290h24v8h-24zM408,298h8v8h-8zM792,298h24v8h-24zM808,306h40v8h-40zM400,314h8v8h-8zM840,314h16v8h-16zM848,322h8v8h-8zM392,330h8v8h-8zM848,330h8v8h-8zM280,338h32v8h-32zM848,338h8v8h-8zM248,346h16v8h-16zM840,346h16v8h-16zM240,354h8v8h-8zM832,354h24v8h-24zM856,362h8v8h-8zM776,370h16v8h-16zM232,378h8v8h-8zM760,378h48v8h-48zM232,386h8v8h-8zM752,386h8v8h-8zM800,386h8v8h-8zM880,386h8v8h-8zM480,394h8v8h-8zM520,394h8v8h-8zM744,394h8v8h-8zM808,394h8v8h-8zM880,394h16v8h-16zM448,402h8v8h-8zM744,402h8v8h-8zM808,402h8v8h-8zM880,402h8v8h-8zM392,410h16v8h-16zM544,410h16v8h-16zM744,410h8v8h-8zM800,410h16v8h-16zM232,418h8v8h-8zM328,418h8v8h-8zM576,418h8v8h-8zM752,418h8v8h-8zM776,418h40v8h-40zM592,426h8v8h-8zM760,426h56v8h-56zM880,426h16v8h-16zM600,434h8v8h-8zM760,434h16v8h-16zM784,434h32v8h-32zM880,434h24v8h-24zM600,442h16v8h-16zM760,442h56v8h-56zM888,442h16v8h-16zM584,450h16v8h-16zM776,450h40v8h-40zM888,450h8v8h-8zM576,458h8v8h-8zM760,458h56v8h-56zM776,466h48v8h-48zM768,474h56v8h-56zM776,482h8v8h-8zM800,482h24v8h-24zM576,490h8v8h-8zM776,490h48v8h-48zM776,498h56v8h-56zM216,506h16v8h-16zM776,506h48v8h-48zM232,514h8v8h-8zM240,522h8v8h-8zM256,530h8v8h-8zM296,570h8v8h-8zM576,570h8v8h-8zM304,578h8v8h-8zM576,578h8v8h-8zM320,610h8v8h-8zM520,642h8v8h-8z"/>
<path fill="#fff2f2" d="M928,178h24v8h-24zM912,186h8v8h-8zM960,186h8v8h-8zM896,194h16v8h-16zM984,194h8v8h-8zM776,202h16v8h-16zM888,202h8v8h-8zM976,202h16v8h-16zM792,210h8v8h-8zM872,210h16v8h-16zM984,210h16v8h-16zM872,218h8v8h-8zM984,218h16v8h-16zM792,226h8v8h-8zM864,226h8v8h-8zM976,226h16v8h-16zM776,234h24v8h-24zM864,234h8v8h-8zM976,234h16v8h-16zM776,242h24v8h-24zM856,242h16v8h-16zM968,242h24v8h-24zM856,250h16v8h-16zM960,250h24v8h-24zM368,258h32v8h-32zM864,258h8v8h-8zM960,258h24v8h-24zM368,266h8v8h-8zM400,266h24v8h-24zM792,266h16v8h-16zM864,266h8v8h-8zM952,266h24v8h-24zM368,274h16v8h-16zM424,274h16v8h-16zM800,274h8v8h-8zM864,274h8v8h-8zM944,274h24v8h-24zM384,282h16v8h-16zM800,282h8v8h-8zM856,282h16v8h-16zM928,282h32v8h-32zM392,290h8v8h-8zM808,290h8v8h-8zM856,290h32v8h-32zM912,290h40v8h-40zM400,298h8v8h-8zM816,298h112v8h-112zM400,306h8v8h-8zM848,306h32v8h-32zM856,314h32v8h-32zM392,322h8v8h-8zM856,322h24v8h-24zM384,330h8v8h-8zM856,330h16v8h-16zM256,338h24v8h-24zM312,338h16v8h-16zM344,338h16v8h-16zM376,338h8v8h-8zM856,338h8v8h-8zM240,346h8v8h-8zM856,346h8v8h-8zM232,354h8v8h-8zM856,354h16v8h-16zM232,362h8v8h-8zM864,362h16v8h-16zM232,370h8v8h-8zM880,370h8v8h-8zM880,378h16v8h-16zM760,386h40v8h-40zM888,386h16v8h-16zM224,394h8v8h-8zM488,394h32v8h-32zM752,394h16v8h-16zM784,394h24v8h-24zM224,402h8v8h-8zM456,402h24v8h-24zM528,402h8v8h-8zM752,402h8v8h-8zM784,402h24v8h-24zM224,410h8v8h-8zM376,410h16v8h-16zM408,410h16v8h-16zM432,410h8v8h-8zM536,410h8v8h-8zM752,410h48v8h-48zM224,418h8v8h-8zM336,418h32v8h-32zM568,418h8v8h-8zM760,418h16v8h-16zM240,426h16v8h-16zM304,426h16v8h-16zM584,426h8v8h-8zM584,434h16v8h-16zM776,434h8v8h-8zM584,442h16v8h-16zM576,450h8v8h-8zM568,458h8v8h-8zM568,466h8v8h-8zM768,466h8v8h-8zM568,474h8v8h-8zM568,482h8v8h-8zM784,482h16v8h-16zM200,498h24v8h-24zM576,498h8v8h-8zM576,506h8v8h-8zM576,514h8v8h-8zM248,522h8v8h-8zM576,522h8v8h-8zM280,546h8v8h-8zM288,554h8v8h-8zM576,554h8v8h-8zM576,562h8v8h-8zM312,586h8v8h-8zM312,594h8v8h-8zM320,602h8v8h-8zM568,602h8v8h-8zM328,610h8v8h-8zM560,610h8v8h-8zM328,618h8v8h-8zM552,618h8v8h-8zM536,634h8v8h-8z"/>
<path fill="#ffffff" d="M912,178h16v8h-16zM896,186h16v8h-16zM992,186h16v8h-16zM880,194h16v8h-16zM992,194h16v8h-16zM792,202h8v8h-8zM872,202h16v8h-16zM992,202h24v8h-24zM800,210h8v8h-8zM864,210h8v8h-8zM1000,210h24v8h-24zM800,218h8v8h-8zM856,218h16v8h-16zM1000,218h24v8h-24zM800,226h8v8h-8zM856,226h8v8h-8zM992,226h24v8h-24zM800,234h8v8h-8zM848,234h16v8h-16zM992,234h24v8h-24zM352,242h32v8h-32zM840,242h16v8h-16zM992,242h24v8h-24zM344,250h56v8h-56zM840,250h16v8h-16zM984,250h32v8h-32zM344,258h24v8h-24zM400,258h24v8h-24zM800,258h16v8h-16zM848,258h16v8h-16zM984,258h8v8h-8zM344,266h24v8h-24zM424,266h24v8h-24zM808,266h8v8h-8zM848,266h16v8h-16zM976,266h16v8h-16zM360,274h8v8h-8zM808,274h16v8h-16zM848,274h16v8h-16zM968,274h32v8h-32zM368,282h16v8h-16zM808,282h24v8h-24zM848,282h8v8h-8zM960,282h40v8h-40zM376,290h16v8h-16zM816,290h40v8h-40zM952,290h48v8h-48zM384,298h16v8h-16zM928,298h72v8h-72zM392,306h8v8h-8zM880,306h120v8h-120zM392,314h8v8h-8zM888,314h96v8h-96zM384,322h8v8h-8zM880,322h16v8h-16zM944,322h32v8h-32zM240,330h80v8h-80zM376,330h8v8h-8zM872,330h16v8h-16zM224,338h32v8h-32zM328,338h16v8h-16zM360,338h16v8h-16zM864,338h24v8h-24zM224,346h16v8h-16zM864,346h16v8h-16zM224,354h8v8h-8zM872,354h16v8h-16zM224,362h8v8h-8zM880,362h16v8h-16zM224,370h8v8h-8zM888,370h16v8h-16zM224,378h8v8h-8zM896,378h16v8h-16zM224,386h8v8h-8zM768,394h16v8h-16zM216,402h8v8h-8zM480,402h48v8h-48zM760,402h24v8h-24zM216,410h8v8h-8zM424,410h8v8h-8zM440,410h40v8h-40zM528,410h8v8h-8zM216,418h8v8h-8zM368,418h8v8h-8zM392,418h24v8h-24zM432,418h16v8h-16zM544,418h24v8h-24zM232,426h8v8h-8zM320,426h16v8h-16zM568,426h16v8h-16zM264,434h40v8h-40zM472,434h16v8h-16zM568,434h16v8h-16zM472,442h24v8h-24zM568,442h16v8h-16zM480,450h16v8h-16zM560,450h16v8h-16zM560,458h8v8h-8zM560,466h8v8h-8zM560,474h8v8h-8zM208,490h8v8h-8zM568,490h8v8h-8zM224,498h8v8h-8zM232,506h8v8h-8zM240,514h8v8h-8zM256,522h8v8h-8zM264,530h8v8h-8zM576,530h8v8h-8zM272,538h8v8h-8zM576,538h8v8h-8zM576,546h8v8h-8zM296,562h8v8h-8zM304,570h8v8h-8zM568,570h8v8h-8zM312,578h8v8h-8zM568,578h8v8h-8zM568,586h8v8h-8zM320,594h8v8h-8zM568,594h8v8h-8zM328,602h24v8h-24zM448,602h8v8h-8zM560,602h8v8h-8zM336,610h16v8h-16zM552,610h8v8h-8zM336,618h16v8h-16zM544,626h8v8h-8zM352,634h8v8h-8zM520,634h16v8h-16zM512,642h8v8h-8z"/>
<path fill="#f2f2ff" d="M912,170h8v8h-8zM904,178h8v8h-8zM1008,178h16v8h-16zM888,186h8v8h-8zM1008,186h16v8h-16zM1008,194h16v8h-16zM800,202h8v8h-8zM864,202h8v8h-8zM1016,202h8v8h-8zM856,210h8v8h-8zM808,218h8v8h-8zM808,226h8v8h-8zM848,226h8v8h-8zM336,234h48v8h-48zM808,234h8v8h-8zM840,234h8v8h-8zM328,242h24v8h-24zM384,242h16v8h-16zM816,242h24v8h-24zM328,250h16v8h-16zM400,250h16v8h-16zM824,250h16v8h-16zM328,258h16v8h-16zM424,258h24v8h-24zM816,258h32v8h-32zM328,266h16v8h-16zM816,266h32v8h-32zM328,274h32v8h-32zM824,274h24v8h-24zM360,282h8v8h-8zM832,282h16v8h-16zM368,290h8v8h-8zM376,298h8v8h-8zM384,306h8v8h-8zM384,314h8v8h-8zM232,322h72v8h-72zM376,322h8v8h-8zM896,322h48v8h-48zM216,330h24v8h-24zM320,330h56v8h-56zM888,330h16v8h-16zM928,330h40v8h-40zM208,338h16v8h-16zM888,338h8v8h-8zM928,338h40v8h-40zM208,346h16v8h-16zM880,346h16v8h-16zM936,346h8v8h-8zM208,354h16v8h-16zM888,354h16v8h-16zM216,362h8v8h-8zM896,362h16v8h-16zM904,370h16v8h-16zM216,386h8v8h-8zM216,394h8v8h-8zM208,410h8v8h-8zM480,410h16v8h-16zM520,410h8v8h-8zM192,418h24v8h-24zM376,418h16v8h-16zM416,418h16v8h-16zM448,418h48v8h-48zM536,418h8v8h-8zM224,426h8v8h-8zM336,426h40v8h-40zM392,426h16v8h-16zM432,426h64v8h-64zM560,426h8v8h-8zM256,434h8v8h-8zM304,434h32v8h-32zM456,434h16v8h-16zM488,434h8v8h-8zM560,434h8v8h-8zM464,442h8v8h-8zM560,442h8v8h-8zM472,450h8v8h-8zM560,482h8v8h-8zM216,490h8v8h-8zM560,490h8v8h-8zM232,498h8v8h-8zM568,498h8v8h-8zM240,506h8v8h-8zM568,506h8v8h-8zM248,514h8v8h-8zM568,514h8v8h-8zM272,530h8v8h-8zM280,538h8v8h-8zM288,546h8v8h-8zM296,554h8v8h-8zM304,562h8v8h-8zM568,562h8v8h-8zM312,570h8v8h-8zM320,578h8v8h-8zM320,586h8v8h-8zM328,594h32v8h-32zM560,594h8v8h-8zM352,602h8v8h-8zM440,602h8v8h-8zM552,602h8v8h-8zM352,610h8v8h-8zM424,610h8v8h-8zM352,618h8v8h-8zM544,618h8v8h-8zM352,626h16v8h-16zM536,626h8v8h-8z"/>
<path fill="#e6e6ff" d="M912,162h8v8h-8zM904,170h8v8h-8zM896,178h8v8h-8zM880,186h8v8h-8zM800,194h8v8h-8zM872,194h8v8h-8zM808,202h8v8h-8zM808,210h8v8h-8zM848,218h8v8h-8zM336,226h8v8h-8zM368,226h8v8h-8zM840,226h8v8h-8zM384,234h16v8h-16zM816,234h24v8h-24zM400,242h16v8h-16zM320,250h8v8h-8zM416,250h32v8h-32zM320,258h8v8h-8zM320,266h8v8h-8zM320,274h8v8h-8zM344,282h16v8h-16zM360,290h8v8h-8zM368,298h8v8h-8zM376,306h8v8h-8zM272,314h32v8h-32zM376,314h8v8h-8zM224,322h8v8h-8zM304,322h24v8h-24zM360,322h16v8h-16zM208,330h8v8h-8zM904,330h24v8h-24zM200,338h8v8h-8zM896,338h32v8h-32zM200,346h8v8h-8zM896,346h40v8h-40zM200,354h8v8h-8zM904,354h32v8h-32zM208,362h8v8h-8zM912,362h16v8h-16zM216,370h8v8h-8zM216,378h8v8h-8zM208,386h8v8h-8zM208,394h8v8h-8zM176,402h24v8h-24zM208,402h8v8h-8zM184,410h24v8h-24zM496,410h24v8h-24zM184,418h8v8h-8zM528,418h8v8h-8zM192,426h32v8h-32zM376,426h16v8h-16zM408,426h24v8h-24zM544,426h16v8h-16zM240,434h16v8h-16zM336,434h32v8h-32zM432,434h24v8h-24zM552,434h8v8h-8zM456,442h8v8h-8zM496,442h8v8h-8zM552,442h8v8h-8zM464,450h8v8h-8zM552,450h8v8h-8zM472,458h24v8h-24zM552,458h8v8h-8zM552,466h8v8h-8zM552,474h8v8h-8zM216,482h8v8h-8zM224,490h8v8h-8zM256,514h8v8h-8zM264,522h8v8h-8zM568,522h8v8h-8zM568,530h8v8h-8zM568,538h8v8h-8zM568,546h8v8h-8zM568,554h8v8h-8zM488,562h8v8h-8zM472,570h16v8h-16zM560,578h8v8h-8zM328,586h16v8h-16zM560,586h8v8h-8zM440,594h16v8h-16zM360,602h8v8h-8zM432,602h8v8h-8zM456,602h8v8h-8zM360,610h8v8h-8zM416,610h8v8h-8zM432,610h24v8h-24zM544,610h8v8h-8zM360,618h8v8h-8zM408,618h24v8h-24zM536,618h8v8h-8zM528,626h8v8h-8zM512,634h8v8h-8zM488,642h8v8h-8z"/>
<path fill="#d9d9ff" d="M904,162h8v8h-8zM896,170h8v8h-8zM888,178h8v8h-8zM808,194h8v8h-8zM864,194h8v8h-8zM856,202h8v8h-8zM848,210h8v8h-8zM816,218h8v8h-8zM376,226h16v8h-16zM816,226h8v8h-8zM400,234h8v8h-8zM416,242h8v8h-8zM312,258h8v8h-8zM312,266h8v8h-8zM312,274h8v8h-8zM320,282h24v8h-24zM352,290h8v8h-8zM360,298h8v8h-8zM280,306h24v8h-24zM368,306h8v8h-8zM304,314h16v8h-16zM360,314h16v8h-16zM328,322h32v8h-32zM200,330h8v8h-8zM200,362h8v8h-8zM200,370h16v8h-16zM184,378h32v8h-32zM176,386h32v8h-32zM168,394h40v8h-40zM200,402h8v8h-8zM496,418h8v8h-8zM496,426h8v8h-8zM536,426h8v8h-8zM200,434h16v8h-16zM224,434h16v8h-16zM368,434h64v8h-64zM496,434h8v8h-8zM544,434h8v8h-8zM280,442h24v8h-24zM440,442h16v8h-16zM544,442h8v8h-8zM456,450h8v8h-8zM496,450h8v8h-8zM464,458h8v8h-8zM496,458h8v8h-8zM208,474h8v8h-8zM224,482h8v8h-8zM552,482h8v8h-8zM232,490h8v8h-8zM240,498h8v8h-8zM560,498h8v8h-8zM248,506h8v8h-8zM288,538h8v8h-8zM296,546h8v8h-8zM304,554h8v8h-8zM312,562h8v8h-8zM480,562h8v8h-8zM560,562h8v8h-8zM320,570h8v8h-8zM488,570h8v8h-8zM560,570h8v8h-8zM328,578h8v8h-8zM464,578h32v8h-32zM344,586h16v8h-16zM448,586h24v8h-24zM360,594h8v8h-8zM432,594h8v8h-8zM456,594h8v8h-8zM552,594h8v8h-8zM416,602h16v8h-16zM544,602h8v8h-8zM368,610h8v8h-8zM408,610h8v8h-8zM368,618h8v8h-8zM400,618h8v8h-8zM432,618h8v8h-8zM528,618h8v8h-8zM384,626h40v8h-40zM520,626h8v8h-8zM400,634h8v8h-8zM488,634h16v8h-16zM408,650h8v8h-8z"/>
<path fill="#ccccff" d="M808,178h8v8h-8zM880,178h8v8h-8zM808,186h8v8h-8zM872,186h8v8h-8zM816,202h8v8h-8zM816,210h8v8h-8zM376,218h16v8h-16zM840,218h8v8h-8zM392,226h16v8h-16zM824,226h16v8h-16zM408,234h8v8h-8zM424,242h16v8h-16zM304,258h8v8h-8zM304,266h8v8h-8zM304,274h8v8h-8zM312,282h8v8h-8zM304,290h48v8h-48zM280,298h48v8h-48zM352,298h8v8h-8zM304,306h24v8h-24zM360,306h8v8h-8zM320,314h40v8h-40zM192,330h8v8h-8zM192,338h8v8h-8zM192,346h8v8h-8zM192,354h8v8h-8zM192,362h8v8h-8zM184,370h16v8h-16zM176,378h8v8h-8zM168,386h8v8h-8zM504,418h24v8h-24zM528,426h8v8h-8zM216,434h8v8h-8zM536,434h8v8h-8zM208,442h8v8h-8zM272,442h8v8h-8zM304,442h40v8h-40zM392,442h48v8h-48zM536,442h8v8h-8zM208,450h8v8h-8zM448,450h8v8h-8zM536,450h16v8h-16zM208,458h8v8h-8zM456,458h8v8h-8zM536,458h16v8h-16zM208,466h8v8h-8zM480,466h16v8h-16zM536,466h16v8h-16zM216,474h8v8h-8zM544,474h8v8h-8zM552,490h8v8h-8zM560,506h8v8h-8zM264,514h8v8h-8zM272,522h8v8h-8zM280,530h8v8h-8zM304,546h8v8h-8zM312,554h8v8h-8zM488,554h8v8h-8zM560,554h8v8h-8zM320,562h8v8h-8zM472,562h8v8h-8zM496,562h8v8h-8zM328,570h8v8h-8zM464,570h8v8h-8zM496,570h8v8h-8zM336,578h8v8h-8zM448,578h16v8h-16zM496,578h8v8h-8zM360,586h8v8h-8zM440,586h8v8h-8zM472,586h16v8h-16zM368,594h8v8h-8zM464,594h8v8h-8zM368,602h8v8h-8zM400,602h16v8h-16zM376,610h8v8h-8zM392,610h16v8h-16zM456,610h8v8h-8zM536,610h8v8h-8zM376,618h24v8h-24zM520,618h8v8h-8zM424,626h8v8h-8zM512,626h8v8h-8zM408,634h16v8h-16zM480,634h8v8h-8zM408,642h16v8h-16zM416,650h24v8h-24z"/>
<path fill="#bfbfff" d="M904,154h8v8h-8zM896,162h8v8h-8zM888,170h8v8h-8zM816,178h8v8h-8zM816,186h8v8h-8zM864,186h8v8h-8zM816,194h8v8h-8zM856,194h8v8h-8zM848,202h8v8h-8zM376,210h16v8h-16zM840,210h8v8h-8zM392,218h8v8h-8zM824,218h8v8h-8zM408,226h8v8h-8zM416,234h24v8h-24zM296,258h8v8h-8zM296,282h16v8h-16zM288,290h16v8h-16zM328,298h8v8h-8zM328,306h8v8h-8zM352,306h8v8h-8zM184,330h8v8h-8zM184,338h8v8h-8zM184,346h8v8h-8zM184,354h8v8h-8zM184,362h8v8h-8zM176,370h8v8h-8zM504,426h8v8h-8zM504,434h8v8h-8zM528,434h8v8h-8zM216,442h8v8h-8zM264,442h8v8h-8zM344,442h48v8h-48zM520,442h16v8h-16zM424,450h24v8h-24zM504,450h32v8h-32zM448,458h8v8h-8zM504,458h32v8h-32zM216,466h8v8h-8zM464,466h16v8h-16zM496,466h40v8h-40zM224,474h8v8h-8zM536,474h8v8h-8zM232,482h8v8h-8zM544,482h8v8h-8zM240,490h8v8h-8zM248,498h8v8h-8zM520,498h8v8h-8zM552,498h8v8h-8zM256,506h8v8h-8zM520,506h8v8h-8zM560,514h8v8h-8zM560,522h8v8h-8zM288,530h8v8h-8zM560,530h8v8h-8zM296,538h8v8h-8zM480,554h8v8h-8zM496,554h8v8h-8zM464,562h8v8h-8zM504,562h8v8h-8zM336,570h8v8h-8zM448,570h16v8h-16zM504,570h8v8h-8zM344,578h16v8h-16zM440,578h8v8h-8zM504,578h8v8h-8zM552,578h8v8h-8zM368,586h8v8h-8zM432,586h8v8h-8zM488,586h16v8h-16zM552,586h8v8h-8zM408,594h24v8h-24zM472,594h16v8h-16zM544,594h8v8h-8zM376,602h24v8h-24zM536,602h8v8h-8zM384,610h8v8h-8zM464,610h8v8h-8zM528,610h8v8h-8zM440,618h8v8h-8zM512,618h8v8h-8zM432,626h8v8h-8zM480,626h32v8h-32zM424,634h16v8h-16zM464,634h8v8h-8zM424,642h32v8h-32z"/>
<path fill="#b2b2ff" d="M816,130h8v8h-8zM816,138h8v8h-8zM896,138h8v8h-8zM816,146h8v8h-8zM896,146h8v8h-8zM816,154h8v8h-8zM896,154h8v8h-8zM816,162h8v8h-8zM816,170h8v8h-8zM880,170h8v8h-8zM872,178h8v8h-8zM824,186h8v8h-8zM856,186h8v8h-8zM824,194h8v8h-8zM848,194h8v8h-8zM392,202h8v8h-8zM824,202h8v8h-8zM840,202h8v8h-8zM392,210h8v8h-8zM824,210h16v8h-16zM400,218h16v8h-16zM832,218h8v8h-8zM416,226h16v8h-16zM288,258h8v8h-8zM288,266h16v8h-16zM288,274h16v8h-16zM288,282h8v8h-8zM336,298h16v8h-16zM336,306h16v8h-16zM176,330h8v8h-8zM176,354h8v8h-8zM168,362h16v8h-16zM512,426h16v8h-16zM512,434h16v8h-16zM224,442h24v8h-24zM256,442h8v8h-8zM504,442h16v8h-16zM216,450h8v8h-8zM408,450h16v8h-16zM216,458h8v8h-8zM440,458h8v8h-8zM456,466h8v8h-8zM488,474h48v8h-48zM504,482h40v8h-40zM512,490h16v8h-16zM544,490h8v8h-8zM512,498h8v8h-8zM528,498h8v8h-8zM512,506h8v8h-8zM528,506h8v8h-8zM520,514h8v8h-8zM280,522h8v8h-8zM304,538h8v8h-8zM560,538h8v8h-8zM312,546h8v8h-8zM488,546h24v8h-24zM560,546h8v8h-8zM320,554h8v8h-8zM472,554h8v8h-8zM504,554h8v8h-8zM552,554h8v8h-8zM328,562h8v8h-8zM456,562h8v8h-8zM512,562h8v8h-8zM552,562h8v8h-8zM344,570h8v8h-8zM440,570h8v8h-8zM512,570h8v8h-8zM552,570h8v8h-8zM360,578h8v8h-8zM424,578h16v8h-16zM512,578h8v8h-8zM376,586h8v8h-8zM400,586h32v8h-32zM504,586h8v8h-8zM376,594h32v8h-32zM488,594h16v8h-16zM528,594h16v8h-16zM464,602h32v8h-32zM528,602h8v8h-8zM472,610h24v8h-24zM520,610h8v8h-8zM448,618h64v8h-64zM440,626h8v8h-8zM464,626h16v8h-16zM440,634h24v8h-24z"/>
<path fill="#a6a6ff" d="M848,114h8v8h-8zM824,122h24v8h-24zM880,122h8v8h-8zM824,130h16v8h-16zM888,130h8v8h-8zM824,138h16v8h-16zM888,138h8v8h-8zM824,146h16v8h-16zM888,146h8v8h-8zM824,154h16v8h-16zM888,154h8v8h-8zM824,162h8v8h-8zM880,162h16v8h-16zM824,170h8v8h-8zM872,170h8v8h-8zM824,178h16v8h-16zM864,178h8v8h-8zM832,186h8v8h-8zM848,186h8v8h-8zM832,194h8v8h-8zM400,202h16v8h-16zM832,202h8v8h-8zM400,210h16v8h-16zM176,338h8v8h-8zM168,346h16v8h-16zM160,354h16v8h-16zM248,442h8v8h-8zM224,450h8v8h-8zM280,450h64v8h-64zM352,450h56v8h-56zM224,458h8v8h-8zM416,458h24v8h-24zM224,466h8v8h-8zM448,466h8v8h-8zM232,474h8v8h-8zM464,474h24v8h-24zM240,482h8v8h-8zM488,482h16v8h-16zM248,490h8v8h-8zM496,490h16v8h-16zM528,490h8v8h-8zM504,498h8v8h-8zM536,498h16v8h-16zM264,506h8v8h-8zM504,506h8v8h-8zM536,506h24v8h-24zM272,514h8v8h-8zM512,514h8v8h-8zM528,514h16v8h-16zM552,514h8v8h-8zM512,522h24v8h-24zM552,522h8v8h-8zM296,530h8v8h-8zM552,530h8v8h-8zM488,538h24v8h-24zM552,538h8v8h-8zM320,546h8v8h-8zM480,546h8v8h-8zM512,546h8v8h-8zM552,546h8v8h-8zM328,554h8v8h-8zM464,554h8v8h-8zM512,554h8v8h-8zM336,562h8v8h-8zM440,562h16v8h-16zM520,562h8v8h-8zM544,562h8v8h-8zM352,570h16v8h-16zM424,570h16v8h-16zM520,570h8v8h-8zM544,570h8v8h-8zM368,578h56v8h-56zM520,578h16v8h-16zM544,578h8v8h-8zM384,586h16v8h-16zM512,586h40v8h-40zM504,594h24v8h-24zM496,602h32v8h-32zM496,610h24v8h-24zM448,626h16v8h-16z"/>
<path fill="#9999ff" d="M848,122h32v8h-32zM840,130h48v8h-48zM840,138h48v8h-48zM840,146h16v8h-16zM872,146h16v8h-16zM840,154h8v8h-8zM872,154h16v8h-16zM832,162h16v8h-16zM872,162h8v8h-8zM832,170h40v8h-40zM840,178h24v8h-24zM840,186h8v8h-8zM840,194h8v8h-8zM168,338h8v8h-8zM232,450h8v8h-8zM272,450h8v8h-8zM344,450h8v8h-8zM408,458h8v8h-8zM232,466h8v8h-8zM424,466h24v8h-24zM456,474h8v8h-8zM472,482h16v8h-16zM488,490h8v8h-8zM536,490h8v8h-8zM256,498h8v8h-8zM488,498h16v8h-16zM496,506h8v8h-8zM496,514h16v8h-16zM544,514h8v8h-8zM288,522h8v8h-8zM496,522h16v8h-16zM536,522h16v8h-16zM304,530h8v8h-8zM488,530h64v8h-64zM312,538h8v8h-8zM480,538h8v8h-8zM512,538h40v8h-40zM472,546h8v8h-8zM520,546h32v8h-32zM336,554h8v8h-8zM448,554h16v8h-16zM520,554h32v8h-32zM344,562h16v8h-16zM416,562h24v8h-24zM528,562h16v8h-16zM368,570h56v8h-56zM528,570h16v8h-16zM536,578h8v8h-8z"/>
<path fill="#8c8cff" d="M856,146h16v8h-16zM848,154h24v8h-24zM848,162h24v8h-24zM240,450h8v8h-8zM264,450h8v8h-8zM232,458h8v8h-8zM352,458h24v8h-24zM392,458h16v8h-16zM416,466h8v8h-8zM240,474h8v8h-8zM448,474h8v8h-8zM248,482h8v8h-8zM464,482h8v8h-8zM256,490h8v8h-8zM480,490h8v8h-8zM264,498h8v8h-8zM480,498h8v8h-8zM272,506h8v8h-8zM488,506h8v8h-8zM280,514h8v8h-8zM488,514h8v8h-8zM296,522h8v8h-8zM488,522h8v8h-8zM480,530h8v8h-8zM320,538h8v8h-8zM328,546h8v8h-8zM464,546h8v8h-8zM344,554h8v8h-8zM416,554h32v8h-32zM360,562h56v8h-56z"/>
<path fill="#8080ff" d="M248,450h16v8h-16zM240,458h8v8h-8zM288,458h8v8h-8zM312,458h40v8h-40zM376,458h16v8h-16zM240,466h8v8h-8zM400,466h16v8h-16zM424,474h24v8h-24zM448,482h16v8h-16zM464,490h16v8h-16zM472,498h8v8h-8zM480,506h8v8h-8zM288,514h8v8h-8zM480,514h8v8h-8zM304,522h8v8h-8zM480,522h8v8h-8zM312,530h8v8h-8zM472,530h8v8h-8zM328,538h8v8h-8zM472,538h8v8h-8zM336,546h8v8h-8zM448,546h16v8h-16zM352,554h64v8h-64z"/>
<path fill="#7373ff" d="M272,458h16v8h-16zM296,458h16v8h-16zM344,466h32v8h-32zM392,466h8v8h-8zM248,474h8v8h-8zM408,474h16v8h-16zM256,482h8v8h-8zM440,482h8v8h-8zM264,490h8v8h-8zM456,490h8v8h-8zM272,498h8v8h-8zM464,498h8v8h-8zM280,506h8v8h-8zM472,506h8v8h-8zM296,514h8v8h-8zM472,514h8v8h-8zM312,522h8v8h-8zM472,522h8v8h-8zM320,530h8v8h-8zM336,538h8v8h-8zM456,538h16v8h-16zM344,546h24v8h-24zM392,546h56v8h-56z"/>
<path fill="#6666ff" d="M248,458h8v8h-8zM248,466h8v8h-8zM320,466h24v8h-24zM376,466h16v8h-16zM256,474h8v8h-8zM344,474h32v8h-32zM392,474h16v8h-16zM264,482h8v8h-8zM416,482h24v8h-24zM272,490h8v8h-8zM440,490h16v8h-16zM280,498h8v8h-8zM456,498h8v8h-8zM288,506h8v8h-8zM456,506h16v8h-16zM304,514h8v8h-8zM464,514h8v8h-8zM320,522h8v8h-8zM464,522h8v8h-8zM328,530h16v8h-16zM456,530h16v8h-16zM344,538h16v8h-16zM408,538h24v8h-24zM448,538h8v8h-8zM368,546h24v8h-24z"/>
<path fill="#5959ff" d="M256,458h16v8h-16zM256,466h64v8h-64zM264,474h16v8h-16zM320,474h24v8h-24zM376,474h16v8h-16zM272,482h8v8h-8zM336,482h40v8h-40zM392,482h24v8h-24zM280,490h8v8h-8zM432,490h8v8h-8zM288,498h8v8h-8zM440,498h16v8h-16zM296,506h16v8h-16zM448,506h8v8h-8zM312,514h16v8h-16zM448,514h16v8h-16zM328,522h8v8h-8zM448,522h16v8h-16zM344,530h16v8h-16zM416,530h16v8h-16zM448,530h8v8h-8zM360,538h48v8h-48zM432,538h16v8h-16z"/>
<path fill="#4d4dff" d="M280,474h40v8h-40zM280,482h16v8h-16zM320,482h16v8h-16zM376,482h16v8h-16zM288,490h8v8h-8zM328,490h104v8h-104zM296,498h24v8h-24zM344,498h8v8h-8zM360,498h8v8h-8zM400,498h40v8h-40zM312,506h24v8h-24zM408,506h40v8h-40zM328,514h16v8h-16zM416,514h32v8h-32zM336,522h40v8h-40zM408,522h40v8h-40zM360,530h56v8h-56zM432,530h16v8h-16z"/>
<path fill="#4040ff" d="M296,482h24v8h-24zM296,490h32v8h-32zM320,498h24v8h-24zM352,498h8v8h-8zM368,498h32v8h-32zM336,506h72v8h-72zM344,514h72v8h-72zM376,522h32v8h-32z"/>
<path d="M840.7,128.4h0M846.6,127.4h0M852.4,126.3h0M858.3,125.2h0M864.1,124.0h0M836.5,139.0h0M842.4,138.0h0M848.3,137.0h0M854.2,135.9h0M860.1,134.7h0M866.0,133.6h0M871.9,132.4h0M877.8,131.2h0M883.7,130.0h0M832.1,149.7h0M838.1,148.6h0M844.1,147.6h0M850.0,146.5h0M856.0,145.5h0M861.9,144.3h0M867.9,143.2h0M873.8,142.0h0M879.8,140.8h0M885.7,139.5h0M891.6,138.3h0M833.7,159.3h0M839.7,158.3h0M845.8,157.2h0M851.8,156.1h0M857.8,155.0h0M863.8,153.9h0M869.8,152.7h0M875.8,151.5h0M881.7,150.3h0M887.7,149.1h0M893.7,147.8h0M835.3,168.9h0M841.4,167.9h0M847.5,166.8h0M853.5,165.7h0M859.6,164.6h0M865.6,163.5h0M871.7,162.3h0M877.7,161.1h0M883.7,159.9h0M889.7,158.6h0M895.8,157.3h0M836.9,178.5h0M843.0,177.5h0M849.1,176.4h0M855.3,175.3h0M861.4,174.2h0M867.4,173.1h0M873.5,171.9h0M879.6,170.7h0M885.7,169.4h0M832.3,189.1h0M838.5,188.1h0M844.7,187.1h0M850.8,186.0h0M857.0,184.9h0M863.1,183.8h0M833.9,198.8h0M840.1,197.7h0M846.3,196.7h0" fill="none" stroke="#b2aeae" stroke-width="4.5" stroke-linecap="round"/>
<path d="M453.9,330.5h0M460.8,331.4h0M467.7,332.2h0M474.5,333.0h0M425.0,336.4h0M431.9,337.4h0M438.9,338.4h0M445.8,339.3h0M452.7,340.2h0M459.6,341.1h0M466.5,341.9h0M473.4,342.7h0M480.4,343.4h0M487.3,344.2h0M416.7,345.0h0M423.6,346.1h0M430.6,347.1h0M437.5,348.0h0M444.5,349.0h0M451.4,349.9h0M458.4,350.7h0M465.4,351.6h0M472.4,352.4h0M479.3,353.1h0M486.3,353.9h0M493.3,354.6h0M549.3,358.9h0M556.3,359.3h0M563.3,359.6h0M570.3,360.0h0M577.3,360.2h0M584.4,360.5h0M401.3,352.4h0M408.2,353.6h0M415.2,354.6h0M422.2,355.7h0M429.2,356.7h0M436.2,357.7h0M443.2,358.6h0M450.2,359.5h0M457.2,360.4h0M464.2,361.3h0M471.3,362.1h0M478.3,362.8h0M485.3,363.6h0M492.4,364.3h0M541.7,368.2h0M548.7,368.6h0M555.8,369.0h0M562.8,369.4h0M569.9,369.7h0M577.0,370.0h0M584.0,370.2h0M591.1,370.4h0M598.2,370.6h0M605.2,370.8h0M612.3,370.9h0M385.7,359.7h0M392.7,360.9h0M399.7,362.1h0M406.7,363.2h0M413.7,364.3h0M420.8,365.3h0M427.8,366.4h0M434.9,367.3h0M441.9,368.3h0M449.0,369.2h0M456.0,370.1h0M463.1,370.9h0M470.2,371.8h0M477.3,372.5h0M484.3,373.3h0M541.1,377.9h0M548.2,378.4h0M555.3,378.8h0M562.4,379.1h0M569.5,379.4h0M576.6,379.7h0M583.7,380.0h0M590.8,380.2h0M597.9,380.4h0M605.1,380.5h0M612.2,380.6h0M619.3,380.7h0M626.4,380.7h0M633.5,380.7h0M313.7,355.4h0M348.8,362.8h0M355.8,364.2h0M362.8,365.5h0M369.9,366.8h0M376.9,368.1h0M384.0,369.3h0M391.1,370.5h0M398.1,371.7h0M405.2,372.8h0M412.3,373.9h0M419.4,375.0h0M426.5,376.0h0M433.5,377.0h0M440.6,378.0h0M447.8,378.9h0M454.9,379.8h0M462.0,380.6h0M469.1,381.4h0M476.2,382.2h0M547.6,388.1h0M554.8,388.5h0M561.9,388.9h0M569.1,389.2h0M576.2,389.5h0M583.4,389.7h0M590.6,389.9h0M597.7,390.1h0M604.9,390.3h0M612.0,390.4h0M619.2,390.5h0M626.4,390.5h0M633.5,390.5h0M290.5,360.0h0M297.5,361.7h0M304.6,363.3h0M311.6,364.9h0M318.6,366.5h0M325.7,368.0h0M332.7,369.5h0M339.8,370.9h0M346.9,372.4h0M354.0,373.7h0M361.0,375.1h0M368.1,376.4h0M375.2,377.7h0M382.3,378.9h0M389.4,380.1h0M396.6,381.3h0M403.7,382.5h0M410.8,383.6h0M417.9,384.6h0M425.1,385.7h0M432.2,386.7h0M439.4,387.6h0M446.5,388.6h0M453.7,389.5h0M460.8,390.3h0M561.5,398.6h0M568.7,398.9h0M575.9,399.2h0M583.1,399.5h0M590.3,399.7h0M597.5,399.9h0M604.7,400.0h0M611.9,400.1h0M619.1,400.2h0M626.3,400.2h0M633.6,400.2h0M274.1,366.1h0M281.2,367.8h0M288.2,369.5h0M295.3,371.2h0M302.4,372.8h0M309.5,374.4h0M316.5,376.0h0M323.6,377.5h0M330.7,379.0h0M337.9,380.5h0M345.0,381.9h0M352.1,383.3h0M359.2,384.7h0M366.4,386.0h0M373.5,387.3h0M380.7,388.5h0M387.8,389.8h0M395.0,390.9h0M402.2,392.1h0M409.3,393.2h0M590.0,409.4h0M597.3,409.6h0M604.5,409.8h0M611.8,409.9h0M619.0,410.0h0M626.3,410.0h0M633.6,410.0h0M173.4,347.3h0M180.4,349.5h0M264.7,373.7h0M271.8,375.5h0M278.9,377.3h0M286.0,379.0h0M293.1,380.7h0M300.2,382.3h0M307.3,383.9h0M314.5,385.5h0M321.6,387.1h0M328.8,388.6h0M335.9,390.1h0M343.1,391.5h0M350.3,392.9h0M357.4,394.3h0M364.6,395.6h0M371.8,396.9h0M393.4,400.6h0M400.6,401.7h0M262.3,383.2h0M269.4,385.0h0M276.5,386.7h0M283.7,388.5h0M290.9,390.2h0M298.0,391.8h0M305.2,393.5h0M312.4,395.0h0M319.6,396.6h0M326.8,398.1h0M334.0,399.6h0M341.2,401.1h0M348.4,402.5h0M355.6,403.8h0M259.9,392.6h0M267.0,394.4h0M274.2,396.2h0M281.4,398.0h0M288.6,399.7h0M295.8,401.3h0M303.1,403.0h0M310.3,404.6h0M317.5,406.1h0M324.8,407.7h0M332.0,409.2h0M264.7,403.9h0M271.9,405.7h0M279.2,407.4h0M286.4,409.2h0M293.7,410.8h0M300.9,412.5h0" fill="none" stroke="#b2aeae" stroke-width="4.75" stroke-linecap="round"/>
<path d="M276.9,416.9h0M648.8,468.4h0M656.3,468.3h0M663.9,468.1h0M671.4,468.0h0M679.0,467.7h0M339.2,450.3h0M346.6,451.8h0M369.1,455.8h0M376.5,457.1h0M384.0,458.3h0M391.5,459.5h0M399.1,460.7h0M406.6,461.8h0M414.1,462.9h0M421.6,463.9h0M444.2,466.9h0M451.8,467.8h0M626.1,478.2h0M633.7,478.2h0M641.3,478.2h0M648.9,478.1h0M656.5,478.0h0M664.1,477.9h0M671.7,477.7h0M679.3,477.5h0M686.9,477.2h0M694.4,476.9h0M702.0,476.6h0M307.3,453.8h0M329.8,458.4h0M337.3,459.9h0M344.8,461.3h0M352.3,462.7h0M359.9,464.1h0M367.4,465.4h0M374.9,466.7h0M382.5,467.9h0M390.0,469.1h0M397.6,470.3h0M405.1,471.4h0M412.7,472.5h0M420.3,473.6h0M427.9,474.6h0M435.4,475.6h0M443.0,476.6h0M450.6,477.5h0M458.2,478.3h0M610.8,487.9h0M618.4,487.9h0M626.1,488.0h0M633.7,488.0h0M641.3,488.0h0M649.0,487.9h0M656.6,487.8h0M664.3,487.6h0M671.9,487.5h0M679.6,487.2h0M687.2,487.0h0M694.8,486.7h0M702.5,486.3h0M710.1,486.0h0M252.8,451.2h0M260.3,453.0h0M267.8,454.8h0M275.3,456.6h0M282.8,458.4h0M290.3,460.1h0M297.8,461.7h0M305.3,463.3h0M312.8,464.9h0M320.4,466.5h0M327.9,468.0h0M335.5,469.5h0M343.0,470.9h0M350.6,472.3h0M358.2,473.7h0M365.7,475.0h0M373.3,476.3h0M380.9,477.6h0M388.5,478.8h0M396.1,480.0h0M403.7,481.1h0M411.3,482.2h0M419.0,483.3h0M426.6,484.3h0M434.2,485.3h0M441.8,486.2h0M449.5,487.1h0M457.1,488.0h0M464.8,488.9h0M472.4,489.7h0M480.1,490.4h0M487.7,491.2h0M495.4,491.8h0M503.1,492.5h0M541.4,495.2h0M610.6,497.6h0M618.3,497.7h0M626.0,497.7h0M633.7,497.7h0M641.4,497.7h0M649.1,497.6h0M656.8,497.5h0M664.5,497.4h0M672.2,497.2h0M679.9,497.0h0M687.6,496.7h0M695.3,496.4h0M702.9,496.1h0M710.6,495.7h0M235.5,456.8h0M243.0,458.7h0M250.5,460.6h0M258.0,462.5h0M265.5,464.3h0M273.1,466.1h0M280.6,467.9h0M288.1,469.6h0M295.7,471.2h0M303.3,472.9h0M310.8,474.5h0M318.4,476.0h0M326.0,477.6h0M333.6,479.1h0M341.2,480.5h0M348.8,481.9h0M356.5,483.3h0M364.1,484.6h0M371.7,485.9h0M379.4,487.2h0M387.0,488.4h0M394.6,489.6h0M402.3,490.7h0M410.0,491.8h0M417.6,492.9h0M425.3,494.0h0M433.0,495.0h0M440.7,495.9h0M448.3,496.8h0M456.0,497.7h0M463.7,498.6h0M471.4,499.4h0M479.1,500.1h0M486.8,500.9h0M494.6,501.6h0M502.3,502.2h0M610.5,507.4h0M618.3,507.4h0M626.0,507.5h0M633.7,507.5h0M641.5,507.5h0M649.2,507.4h0M657.0,507.3h0M664.7,507.1h0M672.4,507.0h0M680.2,506.7h0M687.9,506.5h0M695.7,506.2h0M703.4,505.8h0M711.1,505.5h0M718.9,505.0h0M225.5,464.3h0M233.0,466.2h0M240.6,468.2h0M248.1,470.1h0M255.7,472.0h0M263.3,473.8h0M270.8,475.6h0M278.4,477.4h0M286.0,479.1h0M293.6,480.8h0M301.2,482.4h0M308.9,484.0h0M316.5,485.6h0M324.1,487.1h0M331.8,488.6h0M339.4,490.1h0M347.1,491.5h0M354.7,492.9h0M362.4,494.2h0M370.1,495.5h0M377.8,496.8h0M385.5,498.0h0M393.2,499.2h0M400.9,500.4h0M408.6,501.5h0M416.3,502.6h0M424.0,503.6h0M431.7,504.6h0M439.5,505.6h0M447.2,506.5h0M455.0,507.4h0M462.7,508.3h0M470.4,509.1h0M478.2,509.8h0M486.0,510.6h0M493.7,511.3h0M501.5,511.9h0M509.2,512.5h0M540.3,514.6h0M548.1,515.1h0M555.9,515.5h0M602.6,517.0h0M610.4,517.1h0M618.2,517.2h0M626.0,517.2h0M633.8,517.2h0M641.5,517.2h0M649.3,517.1h0M657.1,517.0h0M664.9,516.9h0M672.7,516.7h0M680.5,516.5h0M688.3,516.2h0M696.1,515.9h0M703.8,515.6h0M711.6,515.2h0M719.4,514.8h0M727.2,514.3h0M245.8,479.6h0M253.4,481.4h0M261.0,483.3h0M268.6,485.1h0M276.2,486.9h0M283.9,488.6h0M291.5,490.3h0M299.2,491.9h0M306.9,493.6h0M314.5,495.1h0M322.2,496.7h0M329.9,498.2h0M337.6,499.7h0M345.3,501.1h0M353.0,502.5h0M360.8,503.8h0M368.5,505.2h0M376.2,506.4h0M384.0,507.7h0M391.7,508.9h0M399.5,510.0h0M407.2,511.2h0M415.0,512.2h0M422.7,513.3h0M430.5,514.3h0M438.3,515.3h0M446.1,516.2h0M453.9,517.1h0M461.7,517.9h0M469.5,518.8h0M477.3,519.5h0M485.1,520.3h0M492.9,521.0h0M500.7,521.6h0M508.5,522.3h0M516.3,522.9h0M524.1,523.4h0M531.9,523.9h0M539.8,524.4h0M547.6,524.8h0M602.4,526.7h0M610.3,526.9h0M618.1,526.9h0M625.9,527.0h0M633.8,527.0h0M641.6,527.0h0M649.4,526.9h0M657.3,526.8h0M665.1,526.6h0M673.0,526.4h0M680.8,526.2h0M688.6,526.0h0M696.5,525.7h0M704.3,525.3h0M712.1,524.9h0M719.9,524.5h0M727.8,524.0h0M735.6,523.6h0M743.4,523.0h0M251.0,490.9h0M258.7,492.8h0M266.4,494.6h0M274.1,496.4h0M281.8,498.1h0M289.5,499.8h0M297.2,501.5h0M304.9,503.1h0M312.6,504.7h0M320.3,506.3h0M328.1,507.8h0M335.8,509.2h0M343.6,510.7h0M351.3,512.1h0M359.1,513.4h0M366.9,514.8h0M374.7,516.1h0M382.4,517.3h0M390.2,518.5h0M398.0,519.7h0M405.8,520.8h0M413.7,521.9h0M421.5,523.0h0M429.3,524.0h0M437.1,524.9h0M444.9,525.9h0M452.8,526.8h0M460.6,527.6h0M468.5,528.5h0M476.3,529.2h0M484.2,530.0h0M492.0,530.7h0M499.9,531.4h0M507.7,532.0h0M515.6,532.6h0M523.5,533.1h0M531.3,533.6h0M539.2,534.1h0M547.1,534.5h0M602.2,536.5h0M610.1,536.6h0M618.0,536.7h0M625.9,536.7h0M633.8,536.7h0M641.7,536.7h0M649.6,536.6h0M657.4,536.5h0M665.3,536.4h0M673.2,536.2h0M681.1,536.0h0M689.0,535.7h0M696.9,535.4h0M704.7,535.0h0M712.6,534.7h0M720.5,534.2h0M728.4,533.8h0M736.2,533.3h0M744.1,532.7h0M752.0,532.2h0M256.4,502.3h0M264.2,504.1h0M271.9,505.9h0M279.6,507.6h0M287.4,509.3h0M295.1,511.0h0M302.9,512.7h0M310.7,514.3h0M318.4,515.8h0M326.2,517.3h0M334.0,518.8h0M341.8,520.3h0M349.6,521.7h0M357.4,523.1h0M365.3,524.4h0M373.1,525.7h0M380.9,526.9h0M388.8,528.1h0M396.6,529.3h0M404.5,530.5h0M412.3,531.6h0M420.2,532.6h0M428.1,533.6h0M435.9,534.6h0M443.8,535.6h0M451.7,536.5h0M459.6,537.3h0M467.5,538.2h0M475.4,538.9h0M483.3,539.7h0M491.2,540.4h0M499.1,541.1h0M507.0,541.7h0M514.9,542.3h0M522.8,542.9h0M530.7,543.4h0M538.6,543.8h0M546.6,544.3h0M554.5,544.7h0M602.1,546.2h0M610.0,546.4h0M617.9,546.4h0M625.9,546.5h0M633.8,546.5h0M641.7,546.5h0M649.7,546.4h0M657.6,546.3h0M665.5,546.1h0M673.5,545.9h0M681.4,545.7h0M689.3,545.4h0M697.3,545.1h0M705.2,544.8h0M713.1,544.4h0M721.0,544.0h0M729.0,543.5h0M736.9,543.0h0M744.8,542.5h0M752.7,541.9h0M285.3,518.9h0M293.1,520.6h0M300.9,522.2h0M308.7,523.8h0M316.5,525.4h0M324.4,526.9h0M332.2,528.4h0M340.1,529.9h0M347.9,531.3h0M355.8,532.7h0M363.7,534.0h0M371.5,535.3h0M379.4,536.6h0M387.3,537.8h0M395.2,539.0h0M403.1,540.1h0M411.0,541.2h0M418.9,542.3h0M426.8,543.3h0M434.7,544.3h0M442.7,545.2h0M450.6,546.2h0M458.5,547.0h0M466.5,547.9h0M474.4,548.7h0M514.2,552.0h0M522.2,552.6h0M530.1,553.1h0M538.1,553.6h0M546.1,554.0h0M601.9,556.0h0M609.9,556.1h0M617.9,556.2h0M625.8,556.2h0M633.8,556.2h0M641.8,556.2h0M649.8,556.1h0M657.8,556.0h0M665.7,555.9h0M673.7,555.7h0M681.7,555.5h0M689.7,555.2h0M697.7,554.9h0M705.6,554.5h0M713.6,554.1h0M721.6,553.7h0M729.6,553.2h0M737.5,552.7h0M745.5,552.2h0M753.4,551.6h0M761.4,551.0h0M769.4,550.3h0M306.8,533.4h0M314.6,534.9h0M322.5,536.5h0M330.4,538.0h0M338.3,539.5h0M346.2,540.9h0M354.1,542.3h0M362.0,543.6h0M370.0,544.9h0M377.9,546.2h0M385.8,547.4h0M393.8,548.6h0M401.7,549.8h0M409.7,550.9h0M417.6,551.9h0M425.6,553.0h0M433.6,554.0h0M441.5,554.9h0M449.5,555.8h0M457.5,556.7h0M521.5,562.3h0M529.5,562.8h0M537.5,563.3h0M545.5,563.8h0M601.7,565.7h0M609.7,565.9h0M617.8,565.9h0M625.8,566.0h0M633.8,566.0h0M641.9,566.0h0M649.9,565.9h0M657.9,565.8h0M666.0,565.6h0M674.0,565.4h0M682.0,565.2h0M690.0,564.9h0M698.1,564.6h0M706.1,564.3h0M714.1,563.9h0M722.1,563.4h0M730.1,563.0h0M738.2,562.5h0M746.2,561.9h0M754.2,561.3h0M762.2,560.7h0M770.2,560.0h0M778.2,559.3h0M786.2,558.6h0M794.2,557.8h0M865.9,549.0h0M873.8,547.8h0M881.8,546.6h0M889.7,545.3h0M897.6,544.0h0M312.8,544.5h0M320.7,546.1h0M328.6,547.6h0M336.6,549.0h0M344.5,550.5h0M352.5,551.9h0M360.4,553.2h0M368.4,554.5h0M376.4,555.8h0M384.4,557.1h0M392.4,558.3h0M400.3,559.4h0M408.3,560.5h0M416.4,561.6h0M424.4,562.7h0M432.4,563.7h0M440.4,564.6h0M528.9,572.6h0M537.0,573.0h0M545.0,573.5h0M593.5,575.3h0M601.5,575.5h0M609.6,575.6h0M617.7,575.7h0M625.8,575.7h0M633.9,575.7h0M641.9,575.7h0M650.0,575.6h0M658.1,575.5h0M666.2,575.4h0M674.2,575.2h0M682.3,574.9h0M690.4,574.7h0M698.5,574.4h0M706.5,574.0h0M714.6,573.6h0M722.7,573.2h0M730.7,572.7h0M738.8,572.2h0M746.9,571.6h0M754.9,571.1h0M763.0,570.4h0M771.0,569.7h0M779.1,569.0h0M787.1,568.3h0M795.2,567.5h0M803.2,566.7h0M811.2,565.8h0M819.2,564.9h0M827.3,563.9h0M835.3,563.0h0M843.3,561.9h0M851.3,560.9h0M859.3,559.7h0M867.3,558.6h0M875.3,557.4h0M883.3,556.2h0M891.3,554.9h0M899.2,553.6h0M907.2,552.3h0M334.8,558.6h0M342.8,560.1h0M350.8,561.5h0M358.8,562.8h0M366.8,564.2h0M374.9,565.5h0M382.9,566.7h0M390.9,567.9h0M399.0,569.1h0M407.0,570.2h0M415.1,571.3h0M423.1,572.3h0M528.3,582.3h0M536.4,582.8h0M544.5,583.2h0M593.2,585.1h0M601.4,585.2h0M609.5,585.4h0M617.6,585.4h0M625.7,585.5h0M633.9,585.5h0M642.0,585.5h0M650.1,585.4h0M658.3,585.3h0M666.4,585.1h0M674.5,584.9h0M682.6,584.7h0M690.7,584.4h0M698.9,584.1h0M707.0,583.7h0M715.1,583.4h0M723.2,582.9h0M731.3,582.4h0M739.4,581.9h0M747.6,581.4h0M755.7,580.8h0M763.8,580.1h0M771.9,579.5h0M780.0,578.7h0M788.0,578.0h0M796.1,577.2h0M804.2,576.4h0M812.3,575.5h0M820.4,574.6h0M828.4,573.6h0M836.5,572.6h0M844.6,571.6h0M852.6,570.5h0M860.7,569.4h0M868.7,568.2h0M876.8,567.1h0M884.8,565.8h0M892.8,564.6h0M900.8,563.2h0M908.8,561.9h0M237.1,547.7h0M245.1,549.7h0M365.3,573.8h0M373.3,575.1h0M381.4,576.3h0M389.5,577.5h0M397.6,578.7h0M405.7,579.9h0M413.8,580.9h0M544.0,593.0h0M593.0,594.8h0M601.2,595.0h0M609.4,595.1h0M617.5,595.2h0M625.7,595.2h0M633.9,595.2h0M642.1,595.2h0M650.2,595.1h0M658.4,595.0h0M666.6,594.9h0M674.8,594.7h0M682.9,594.4h0M691.1,594.2h0M699.3,593.8h0M707.4,593.5h0M715.6,593.1h0M723.8,592.7h0M731.9,592.2h0M740.1,591.7h0M748.2,591.1h0M756.4,590.5h0M764.5,589.9h0M772.7,589.2h0M780.8,588.5h0M789.0,587.7h0M797.1,586.9h0M805.2,586.1h0M813.4,585.2h0M821.5,584.3h0M829.6,583.3h0M837.7,582.3h0M845.8,581.3h0M853.9,580.2h0M862.0,579.1h0M870.1,577.9h0M878.2,576.7h0M886.3,575.5h0M894.4,574.2h0M258.8,562.9h0M266.8,564.7h0M274.9,566.5h0M380.0,586.0h0M518.9,601.2h0M592.8,604.6h0M601.0,604.7h0M609.2,604.9h0M617.5,604.9h0M625.7,605.0h0M633.9,605.0h0M642.1,605.0h0M650.4,604.9h0M658.6,604.8h0M666.8,604.6h0M675.0,604.4h0M683.2,604.2h0M691.5,603.9h0M699.7,603.6h0M707.9,603.2h0M716.1,602.8h0M724.3,602.4h0M732.5,601.9h0M740.7,601.4h0M748.9,600.8h0M757.1,600.2h0M765.3,599.6h0M773.5,598.9h0M781.7,598.2h0M789.9,597.4h0M798.1,596.6h0M806.3,595.8h0M814.4,594.9h0M822.6,593.9h0M830.8,593.0h0M838.9,592.0h0M847.1,590.9h0M855.2,589.8h0M863.4,588.7h0M871.5,587.5h0M879.7,586.3h0M887.8,585.1h0M895.9,583.8h0M904.0,582.5h0M912.1,581.1h0M272.8,576.0h0M584.3,614.1h0M592.6,614.3h0M600.8,614.5h0M609.1,614.6h0M617.4,614.7h0M625.7,614.7h0M633.9,614.7h0M642.2,614.7h0M650.5,614.6h0M658.7,614.5h0M667.0,614.4h0M675.3,614.2h0M683.5,613.9h0M691.8,613.6h0M700.1,613.3h0M708.3,613.0h0M716.6,612.6h0M724.9,612.1h0M733.1,611.6h0M741.4,611.1h0M749.6,610.5h0M757.9,609.9h0M766.1,609.3h0M774.4,608.6h0M782.6,607.9h0M790.8,607.1h0M799.1,606.3h0M807.3,605.5h0M815.5,604.6h0M823.7,603.6h0M831.9,602.7h0M840.2,601.6h0M848.4,600.6h0M856.6,599.5h0M864.8,598.4h0M872.9,597.2h0M881.1,596.0h0M889.3,594.7h0M897.5,593.4h0M905.6,592.1h0M913.8,590.7h0M287.0,589.0h0M295.1,590.7h0M584.0,623.8h0M592.3,624.1h0M600.7,624.2h0M609.0,624.4h0M617.3,624.4h0M625.6,624.5h0M633.9,624.5h0M642.3,624.5h0M650.6,624.4h0M658.9,624.3h0M667.2,624.1h0M675.5,623.9h0M683.8,623.7h0M692.2,623.4h0M700.5,623.1h0M708.8,622.7h0M717.1,622.3h0M725.4,621.9h0M733.7,621.4h0M742.0,620.8h0M750.3,620.3h0M758.6,619.7h0M766.9,619.0h0M775.2,618.3h0M783.5,617.6h0M791.8,616.8h0M800.0,616.0h0M808.3,615.1h0M816.6,614.3h0M824.9,613.3h0M833.1,612.3h0M841.4,611.3h0M849.6,610.3h0M857.9,609.2h0M866.1,608.0h0M874.3,606.8h0M882.6,605.6h0M890.8,604.4h0M899.0,603.1h0M907.2,601.7h0M915.4,600.3h0M293.2,600.2h0M301.4,601.9h0M583.8,633.6h0M592.1,633.8h0M600.5,634.0h0M608.9,634.1h0M617.2,634.2h0M625.6,634.2h0M634.0,634.2h0M642.3,634.2h0M650.7,634.1h0M659.1,634.0h0M667.4,633.9h0M675.8,633.7h0M684.2,633.4h0M692.5,633.1h0M700.9,632.8h0M709.2,632.4h0M717.6,632.0h0M726.0,631.6h0M734.3,631.1h0M742.7,630.6h0M751.0,630.0h0M759.3,629.4h0M767.7,628.7h0M776.0,628.0h0M784.4,627.3h0M792.7,626.5h0M801.0,625.7h0M809.3,624.8h0M817.7,623.9h0M826.0,623.0h0M834.3,622.0h0M842.6,621.0h0M850.9,619.9h0M859.2,618.8h0M867.5,617.7h0M875.8,616.5h0M884.0,615.3h0M892.3,614.0h0M900.6,612.7h0M908.8,611.3h0M917.1,609.9h0M583.5,643.3h0M591.9,643.6h0M600.3,643.7h0M608.7,643.9h0M617.1,643.9h0M625.6,644.0h0M634.0,644.0h0M642.4,644.0h0M650.8,643.9h0M659.2,643.8h0M667.6,643.6h0M676.0,643.4h0M684.5,643.2h0M692.9,642.9h0M701.3,642.6h0M709.7,642.2h0M718.1,641.8h0M726.5,641.3h0M734.9,640.8h0M743.3,640.3h0M751.7,639.7h0M760.1,639.1h0M768.5,638.4h0M776.9,637.7h0M785.2,637.0h0M793.6,636.2h0M802.0,635.4h0M810.4,634.5h0M818.7,633.6h0M827.1,632.7h0M835.5,631.7h0M843.8,630.7h0M852.2,629.6h0M860.5,628.5h0M868.8,627.3h0M877.2,626.1h0M885.5,624.9h0M893.8,623.6h0M902.1,622.3h0M583.2,653.1h0M591.7,653.3h0M600.1,653.5h0M608.6,653.6h0M617.1,653.7h0M625.5,653.7h0M634.0,653.7h0M642.5,653.7h0M650.9,653.6h0M659.4,653.5h0M667.8,653.4h0M676.3,653.2h0M684.8,652.9h0M693.2,652.6h0M701.7,652.3h0M710.1,651.9h0M718.6,651.5h0M727.0,651.1h0M735.5,650.6h0M743.9,650.0h0M752.4,649.4h0M760.8,648.8h0M769.3,648.2h0M777.7,647.5h0M786.1,646.7h0M794.6,645.9h0M803.0,645.1h0M811.4,644.2h0M819.8,643.3h0M828.2,642.4h0M836.6,641.4h0M845.0,640.3h0M853.4,639.3h0M861.8,638.1h0M870.2,637.0h0M878.6,635.8h0M895.3,633.3h0M903.7,631.9h0M582.9,662.8h0M591.5,663.0h0M600.0,663.2h0M608.5,663.4h0M617.0,663.4h0M625.5,663.5h0M634.0,663.5h0M642.5,663.5h0M651.0,663.4h0M659.5,663.3h0M668.1,663.1h0M676.6,662.9h0M685.1,662.7h0M693.6,662.4h0M702.1,662.0h0M710.6,661.7h0M719.1,661.2h0M727.6,660.8h0M736.1,660.3h0M744.6,659.8h0M753.1,659.2h0M761.6,658.6h0M770.0,657.9h0M778.5,657.2h0M787.0,656.4h0M795.5,655.6h0M804.0,654.8h0M812.4,653.9h0M820.9,653.0h0M829.3,652.1h0M837.8,651.1h0M846.2,650.0h0M854.7,648.9h0M863.1,647.8h0M871.6,646.6h0M880.0,645.4h0M531.4,670.4h0M574.1,672.3h0M582.7,672.6h0M591.2,672.8h0M599.8,673.0h0M608.3,673.1h0M616.9,673.2h0M625.5,673.2h0M634.0,673.2h0M642.6,673.2h0M651.1,673.1h0M659.7,673.0h0M668.3,672.8h0M676.8,672.6h0M685.4,672.4h0M693.9,672.1h0M702.5,671.8h0M711.0,671.4h0M719.6,671.0h0M728.1,670.5h0M736.7,670.0h0M745.2,669.5h0M753.8,668.9h0M762.3,668.3h0M770.8,667.6h0M779.4,666.9h0M787.9,666.1h0M796.4,665.3h0M804.9,664.5h0M813.4,663.6h0M822.0,662.7h0M830.5,661.7h0M839.0,660.7h0M847.5,659.7h0M855.9,658.6h0M864.4,657.5h0M872.9,656.3h0M881.4,655.1h0M889.9,653.8h0M522.2,679.6h0M530.8,680.1h0M539.4,680.6h0M573.8,682.1h0M582.4,682.3h0M591.0,682.5h0M599.6,682.7h0M608.2,682.9h0M616.8,682.9h0M625.4,683.0h0M634.0,683.0h0M642.7,683.0h0M651.3,682.9h0M659.9,682.8h0M668.5,682.6h0M677.1,682.4h0M685.7,682.1h0M694.3,681.9h0M702.9,681.5h0M711.5,681.1h0M720.1,680.7h0M728.7,680.3h0M737.3,679.8h0M745.9,679.2h0M754.5,678.6h0M763.0,678.0h0M771.6,677.3h0M780.2,676.6h0M788.8,675.8h0M797.3,675.0h0M805.9,674.2h0M814.5,673.3h0M823.0,672.4h0M831.6,671.4h0M840.1,670.4h0M848.7,669.4h0M857.2,668.3h0M865.7,667.1h0M874.3,665.9h0M882.8,664.7h0M891.3,663.5h0M521.6,689.3h0M530.2,689.9h0M538.9,690.3h0M547.5,690.8h0M556.2,691.2h0M564.8,691.5h0M573.5,691.8h0M582.1,692.1h0M590.8,692.3h0M599.4,692.5h0M608.1,692.6h0M616.7,692.7h0M625.4,692.7h0M634.1,692.7h0M642.7,692.7h0M651.4,692.6h0M660.0,692.5h0M668.7,692.3h0M677.3,692.1h0M686.0,691.9h0M694.6,691.6h0M703.3,691.3h0M711.9,690.9h0M720.6,690.5h0M729.2,690.0h0M737.9,689.5h0M746.5,688.9h0M755.1,688.4h0M763.8,687.7h0M772.4,687.0h0M781.0,686.3h0M789.7,685.6h0M798.3,684.8h0M806.9,683.9h0M815.5,683.0h0M824.1,682.1h0M832.7,681.1h0M841.3,680.1h0M849.9,679.0h0M858.5,677.9h0M867.1,676.8h0M875.6,675.6h0M884.2,674.4h0" fill="none" stroke="#b2aeae" stroke-width="5" stroke-linecap="round"/>
<path d="M512.3,698.5h0M521.0,699.1h0M529.7,699.6h0M538.4,700.1h0M547.1,700.5h0M555.8,700.9h0M564.5,701.2h0M573.2,701.6h0M581.9,701.8h0M590.6,702.0h0M599.3,702.2h0M608.0,702.3h0M616.7,702.4h0M625.4,702.5h0M634.1,702.5h0M642.8,702.5h0M651.5,702.4h0M660.2,702.3h0M668.9,702.1h0M677.6,701.9h0M686.3,701.6h0M695.0,701.3h0M703.7,701.0h0M712.4,700.6h0M721.1,700.2h0M729.8,699.7h0M738.5,699.2h0M747.1,698.7h0M755.8,698.1h0M764.5,697.4h0M773.2,696.8h0M781.9,696.0h0M790.5,695.3h0M799.2,694.5h0M807.9,693.6h0M816.5,692.7h0M825.2,691.8h0M833.8,690.8h0M842.5,689.8h0M851.1,688.7h0M859.7,687.6h0M868.4,686.5h0M877.0,685.3h0M502.9,707.6h0M511.7,708.2h0M520.4,708.8h0M529.1,709.3h0M537.9,709.8h0M546.6,710.2h0M555.3,710.6h0M564.1,711.0h0M572.8,711.3h0M581.6,711.6h0M590.3,711.8h0M599.1,712.0h0M607.8,712.1h0M616.6,712.2h0M625.3,712.2h0M634.1,712.2h0M642.8,712.2h0M651.6,712.1h0M660.4,712.0h0M669.1,711.8h0M677.9,711.6h0M686.6,711.4h0M695.3,711.1h0M704.1,710.7h0M712.8,710.4h0M721.6,709.9h0M730.3,709.5h0M739.1,709.0h0M747.8,708.4h0M756.5,707.8h0M765.3,707.2h0M774.0,706.5h0M782.7,705.7h0M791.4,705.0h0M800.1,704.2h0M808.8,703.3h0M817.5,702.4h0M826.3,701.5h0M834.9,700.5h0M843.6,699.5h0M852.3,698.4h0M861.0,697.3h0M869.7,696.1h0M511.0,718.0h0M519.8,718.5h0M528.6,719.1h0M537.3,719.5h0M546.1,720.0h0M554.9,720.4h0M563.7,720.7h0M572.5,721.0h0M581.3,721.3h0M590.1,721.5h0M598.9,721.7h0M607.7,721.8h0M616.5,721.9h0M625.3,722.0h0M634.1,722.0h0M642.9,722.0h0M651.7,721.9h0M660.5,721.8h0M669.3,721.6h0M678.1,721.4h0M686.9,721.1h0M695.7,720.8h0M704.5,720.5h0M713.3,720.1h0M722.1,719.7h0M730.9,719.2h0M739.7,718.7h0M748.4,718.1h0M757.2,717.5h0M766.0,716.9h0M774.8,716.2h0M783.5,715.5h0M792.3,714.7h0M801.1,713.9h0M809.8,713.0h0M818.6,712.1h0M827.3,711.2h0M836.1,710.2h0M844.8,709.1h0M853.5,708.1h0M862.3,706.9h0M519.2,728.3h0M528.0,728.8h0M536.8,729.3h0M545.7,729.7h0M554.5,730.1h0M563.4,730.5h0M572.2,730.8h0M581.0,731.1h0M589.9,731.3h0M598.7,731.5h0M607.6,731.6h0M616.4,731.7h0M625.3,731.7h0M634.1,731.7h0M643.0,731.7h0M651.8,731.6h0M660.7,731.5h0M669.5,731.3h0M678.4,731.1h0M687.2,730.9h0M696.1,730.6h0M704.9,730.2h0M713.7,729.8h0M722.6,729.4h0M731.4,728.9h0M740.2,728.4h0M749.1,727.9h0M757.9,727.3h0M766.7,726.6h0M775.6,725.9h0M784.4,725.2h0M793.2,724.4h0M802.0,723.6h0M810.8,722.7h0M819.6,721.8h0M828.4,720.8h0M837.2,719.9h0M846.0,718.8h0M527.4,738.5h0M536.3,739.0h0M545.2,739.5h0M554.1,739.9h0M563.0,740.2h0M571.9,740.5h0M580.8,740.8h0M589.7,741.0h0M598.6,741.2h0M607.5,741.3h0M616.4,741.4h0M625.2,741.5h0M634.1,741.5h0M651.9,741.4h0M660.8,741.3h0M669.7,741.1h0M678.6,740.9h0M687.5,740.6h0M696.4,740.3h0M705.3,740.0h0M714.2,739.6h0M723.1,739.1h0M732.0,738.7h0M740.8,738.2h0M749.7,737.6h0M758.6,737.0h0M767.5,736.3h0M776.3,735.6h0M785.2,734.9h0M794.1,734.1h0M802.9,733.3h0M811.8,732.4h0M820.6,731.5h0M829.5,730.5h0M838.3,729.5h0M526.9,748.3h0M535.8,748.7h0M544.7,749.2h0M553.7,749.6h0M562.6,750.0h0M571.6,750.3h0M589.4,750.8h0M607.3,751.1h0M661.0,751.0h0M669.9,750.8h0M678.9,750.6h0M687.8,750.4h0M696.8,750.1h0M705.7,749.7h0M714.6,749.3h0M723.6,748.9h0M732.5,748.4h0M741.4,747.9h0M750.4,747.3h0M759.3,746.7h0M768.2,746.0h0M777.1,745.3h0M786.0,744.6h0M794.9,743.8h0M803.9,743.0h0M812.8,742.1h0M821.7,741.2h0M526.3,758.0h0M535.3,758.5h0M544.3,758.9h0M553.3,759.3h0M562.3,759.7h0M571.2,760.0h0M670.1,760.6h0M679.1,760.4h0M688.1,760.1h0M697.1,759.8h0M706.1,759.5h0M715.1,759.1h0M724.1,758.6h0M733.0,758.1h0M742.0,757.6h0M751.0,757.0h0M760.0,756.4h0M768.9,755.8h0M777.9,755.1h0M786.9,754.3h0M795.8,753.5h0M543.8,768.7h0M561.9,769.4h0M570.9,769.8h0M688.4,769.8h0M697.5,769.5h0M724.6,768.4h0M733.6,767.9h0M742.6,767.3h0M751.6,766.8h0M725.1,778.1h0M734.1,777.6h0M725.6,787.8h0M734.7,787.3h0M708.1,808.2h0M717.3,807.8h0M726.6,807.3h0M735.8,806.8h0M708.5,817.9h0M717.8,817.5h0M727.1,817.0h0M736.3,816.5h0M708.9,827.6h0M718.2,827.2h0M727.6,826.8h0" fill="none" stroke="#b2aeae" stroke-width="5.25" stroke-linecap="round"/></g>
<path d="M537.8,438.2 549.5,440.2 561.2,447.0 569.0,450.9 588.5,458.7 608.0,462.6 623.6,456.7 639.2,452.8 643.1,437.2 647.0,421.6 652.9,413.8 650.9,402.1 647.0,394.3 650.9,382.6 658.7,374.8 674.3,370.9 689.9,368.0 699.7,372.9 709.4,380.7 717.2,384.6 725.0,378.7 736.7,376.8 744.5,384.6 742.6,394.3 736.7,406.0 740.6,421.6 742.6,437.2 754.3,439.2 756.2,447.0 760.1,452.8 748.4,460.6 746.5,472.3 754.3,480.1 760.1,493.8 758.2,499.6 773.8,495.7 787.4,486.0 803.0,474.3 812.8,464.5 822.5,454.8 834.2,443.1 842.0,437.2" fill="none" stroke="#777777" stroke-width="3.7" stroke-linejoin="round" stroke-linecap="round"/>
<path d="M537.8,438.2 545.6,445.0 557.3,448.9 569.0,450.9" fill="none" stroke="#777777" stroke-width="3.7" stroke-linejoin="round" stroke-linecap="round"/>
<path d="M828.4,250.0 832.3,269.5 828.4,289.0 822.5,304.6 812.8,318.3 806.9,328.0 799.1,341.7 789.4,351.4 781.6,361.2 773.8,363.1 779.6,370.9 775.7,374.8 754.3,378.7 752.3,386.5 744.5,384.6" fill="none" stroke="#777777" stroke-width="3.7" stroke-linejoin="round" stroke-linecap="round"/>
<path d="M799.1,341.7 810.8,347.5 818.6,359.2 826.4,367.0 836.2,370.9 842.0,382.6 845.9,390.4" fill="none" stroke="#777777" stroke-width="3.7" stroke-linejoin="round" stroke-linecap="round"/>
<path d="M742.6,526.9 750.4,519.1 760.1,511.3 771.8,503.5 783.5,499.6 793.3,489.9 803.0,480.1 810.8,482.1 818.6,478.2 830.3,476.2 832.3,466.5 822.5,464.5 814.7,466.5 803.0,474.3" fill="none" stroke="#777777" stroke-width="3.7" stroke-linejoin="round" stroke-linecap="round"/>
<path d="M592.4,525.0 608.0,521.1 627.5,519.1 647.0,523.0 666.5,525.0 678.2,528.9 689.9,530.8 705.5,523.0 717.2,525.0 732.8,525.0 742.6,526.9" fill="none" stroke="#777777" stroke-width="3.7" stroke-linejoin="round" stroke-linecap="round"/>
<path d="M484.1,497.5 495.8,495.6 505.5,493.6 517.2,497.5 528.9,497.5 536.7,505.3 538.7,493.6 540.6,483.9 554.3,483.9 564.0,476.1 567.9,466.3 566.0,456.6 567.9,448.8" fill="none" stroke="#777777" stroke-width="3.7" stroke-linejoin="round" stroke-linecap="round"/>
<path d="M484.1,497.5 491.9,509.2 505.5,519.0 513.3,520.9 525.0,528.7 536.7,536.5 556.2,534.6 573.8,538.5 581.6,548.2 587.4,561.9 599.1,554.1 606.9,544.3 601.1,524.8 591.3,522.9 593.3,519.0 603.0,518.6" fill="none" stroke="#777777" stroke-width="3.7" stroke-linejoin="round" stroke-linecap="round"/>
<path d="M413.9,536.5 423.6,532.6 439.2,536.5 454.8,534.6 452.9,526.8 462.6,519.0 478.2,524.8 489.9,532.6 501.6,540.4 513.3,556.0 511.4,575.5 517.2,587.2 521.1,598.9 523.1,614.5 525.0,630.1 529.9,628.2" fill="none" stroke="#777777" stroke-width="3.7" stroke-linejoin="round" stroke-linecap="round"/>
<path d="M220.7,491.7 227.5,501.5 239.2,505.4 249.0,513.2 252.9,522.9 249.0,538.5 254.8,544.4 266.5,547.3 278.2,548.3 284.1,556.1 288.0,569.7 293.8,563.9 301.6,571.7 309.4,575.6 317.2,577.5 327.0,583.4 336.7,573.6 348.4,575.6 360.1,579.5 373.8,581.4 380.6,587.3 391.3,579.5 403.0,575.6 409.9,571.7 405.0,561.9 408.9,554.1 410.8,538.5 403.0,519.0 401.1,505.4 410.8,491.7 412.8,483.9 422.5,472.2 434.2,470.2 449.8,472.2 465.4,478.0 479.1,485.9 488.8,497.6" fill="none" stroke="#777777" stroke-width="3.7" stroke-linejoin="round" stroke-linecap="round"/>
<path d="M530.0,628.3 533.9,647.8 541.7,665.3 545.6,680.9 551.5,692.6 561.2,698.5 569.0,704.3 580.7,696.5 584.6,714.1" fill="none" stroke="#777777" stroke-width="3.7" stroke-linejoin="round" stroke-linecap="round"/>
<path d="M611.9,673.1 611.9,686.8 610.0,700.4 604.1,704.3 592.4,708.2 584.6,714.1 584.6,725.8 588.5,731.6 600.2,733.6 608.0,729.7 621.7,731.6 631.4,735.5 639.2,741.4" fill="none" stroke="#777777" stroke-width="3.7" stroke-linejoin="round" stroke-linecap="round"/>
<path d="M611.9,673.1 621.7,669.2 631.4,677.0 647.0,680.9 666.5,679.0 686.0,677.0 697.7,675.1 705.5,680.9 717.2,680.9 728.9,679.0 732.8,692.6 744.5,696.5 746.5,704.3 756.2,702.4 764.0,692.6 775.7,686.8 789.4,688.7 799.1,690.7 803.0,700.4 799.1,704.3 810.8,702.4 818.6,692.6 828.4,686.8 832.3,675.1 832.3,661.4 838.1,647.8 842.0,638.0 857.6,628.3 863.5,622.4 859.6,608.8 853.7,599.0 845.9,595.1 851.8,589.3 871.3,585.4 890.8,579.5 900.6,571.7" fill="none" stroke="#777777" stroke-width="3.7" stroke-linejoin="round" stroke-linecap="round"/>
<path d="M832.3,675.1 838.1,680.9 845.9,696.5 847.9,708.2 845.9,721.9" fill="none" stroke="#777777" stroke-width="3.7" stroke-linejoin="round" stroke-linecap="round"/>
<path d="M730.0,524.8 741.7,528.7 753.4,532.6 765.1,544.3 769.0,554.1 776.8,561.9 788.5,567.7 802.2,571.6 811.9,575.5 819.7,573.6 821.7,563.8 827.5,556.0 839.2,548.2 847.0,538.5 858.7,540.4 870.4,538.5 882.1,538.5 891.9,536.5" fill="none" stroke="#777777" stroke-width="3.7" stroke-linejoin="round" stroke-linecap="round"/>
<path d="M650.9,382.6 647.0,376.8 639.2,371.9 635.3,369.9" fill="none" stroke="#777777" stroke-width="3.7" stroke-linejoin="round" stroke-linecap="round"/>
<path d="M215.8,480.0 212.9,460.8 211.9,439.4 188.5,425.7 184.6,414.0 181.7,402.3 175.8,395.5 170.0,393.6 178.8,382.8 176.8,367.2 167.1,357.5 169.0,347.7 177.8,336.0 196.3,330.2 208.0,336.0 215.8,338.0 225.6,328.2 235.3,326.3 245.1,324.3 250.9,327.2 266.5,323.3 278.2,318.5 284.1,306.8 290.9,299.0 289.9,281.4 291.9,271.7 288.9,265.8 301.6,264.8 315.3,262.9 325.0,268.7 323.1,260.0 330.9,248.3 340.6,231.7 350.4,236.6 373.8,240.5 375.7,222.9 381.6,216.1 394.3,213.2 397.2,205.4 410.8,206.3 411.8,219.0 420.6,227.8 432.3,232.7 438.1,238.5 440.1,248.3 445.0,261.9 442.0,273.6 436.2,279.5 437.2,287.3 445.9,293.1 459.6,297.0 473.2,299.0 488.8,309.7 498.6,314.6 502.5,328.2 510.3,345.8 530.0,346.7 549.5,351.4 569.0,351.4 584.6,356.3 592.4,363.1 608.0,369.0 623.6,371.9 635.3,369.9 650.9,363.1 666.5,358.2 686.0,356.3 701.6,351.4 713.3,341.7 725.0,330.9 728.9,327.0 721.1,318.3 722.1,308.5 728.9,302.7 741.7,305.0 751.5,307.0 759.3,297.2 765.1,293.3 776.8,289.4 784.6,279.7 788.5,271.9 798.3,266.0 808.0,262.1 817.8,260.2 827.5,259.2 832.4,256.3 827.5,250.4 819.7,242.6 808.0,236.8 796.3,240.7 792.4,246.5 776.8,248.5 770.0,240.7 772.9,227.0 776.8,213.4 780.7,205.6 794.4,207.5 804.1,199.7 811.9,195.8 815.8,174.4 821.7,158.8 825.6,151.0 815.8,147.1 817.8,139.3 823.6,131.5 837.3,125.6 854.8,120.7 866.5,123.7 878.2,123.7 888.0,129.5 895.8,139.3 903.6,151.0 911.4,162.7 917.2,172.4 919.2,182.2 930.9,182.2 944.5,184.1 960.1,190.0 964.0,197.8 969.9,209.5 983.5,205.6 991.3,199.7 999.1,191.9 1008.9,186.1 1020.6,182.2 1018.6,193.9 1016.7,211.4 1016.7,227.0 1012.8,242.6 1012.8,254.3 997.2,254.3 987.4,264.1 993.3,275.8 995.2,285.5 999.1,297.2 993.3,310.9 985.5,305.0 979.6,316.7 969.9,326.5 960.1,330.4 964.0,342.1 954.3,340.1 944.5,338.2 938.7,349.9 928.9,361.6 919.2,371.3 909.4,381.1 897.7,388.9 889.9,396.7 884.1,402.5 878.2,410.0 873.2,411.9 871.3,404.1 875.2,394.3 881.0,386.5 883.0,374.8 877.1,367.0 869.3,367.0 861.5,374.8 855.7,386.5 849.8,390.4 844.0,398.2 840.1,406.0 826.4,411.9 820.6,419.7 824.5,429.4 834.2,433.3 842.0,431.4 844.0,439.2 849.8,447.0 861.5,443.1 869.3,433.3 873.2,425.5 881.0,433.3 890.8,433.3 901.6,437.1 895.8,448.8 882.1,456.6 866.5,464.4 860.7,478.0 854.8,491.7 862.6,499.5 872.4,503.4 880.2,515.1 886.0,526.8 891.9,536.5 901.6,542.4 907.5,550.2 909.4,561.9 905.5,569.7 895.8,577.5 905.5,576.5 913.3,575.5 917.6,582.4 918.8,595.0 917.2,610.6 909.4,618.4 905.5,630.1 899.7,639.9 895.8,651.6 891.9,661.3 891.9,673.0 892.7,675.1 881.0,686.8 869.3,700.4 859.6,710.2 849.8,721.9 840.1,731.6 826.4,739.4 812.8,745.3 803.0,753.1 791.3,757.0 779.6,760.9 767.9,764.8 754.3,766.7 744.5,770.6 734.8,772.6 736.7,784.3 736.7,794.0 730.9,797.9 725.0,796.0 721.1,786.2 717.2,774.5 719.2,768.7 709.4,768.7 697.7,770.6 686.0,771.6 674.3,768.7 664.6,764.8 660.7,755.0 654.8,747.2 645.1,741.4 637.3,741.4 627.5,745.3 619.7,747.2 611.9,753.1 602.2,749.2 592.4,753.1 582.7,749.2 572.9,751.1 571.0,762.8 571.9,776.5 565.1,776.5 559.3,772.6 553.4,766.7 543.7,768.7 535.9,762.8 530.0,757.0 524.0,760.8 527.9,753.0 524.0,741.3 520.1,731.6 512.3,723.8 498.6,721.8 504.5,717.9 499.6,714.0 500.6,702.3 508.4,692.6 518.1,684.8 522.0,677.0 524.0,655.5 518.1,649.7 512.3,636.0 506.4,630.2 502.5,634.1 494.7,645.8 484.9,636.0 473.2,632.1 457.6,639.9 445.9,645.8 436.2,655.5 420.6,653.6 408.9,653.6 408.9,645.8 403.0,639.9 399.1,629.2 391.3,630.2 381.6,625.3 369.9,621.4 362.1,628.2 356.2,638.9 352.3,636.0 354.3,630.2 350.4,622.4 336.7,624.3 325.0,621.4 317.2,614.6 307.5,615.5 303.6,608.7 295.8,604.8 291.9,599.0 284.1,591.2 278.2,579.5 270.4,581.4 266.5,573.6 258.7,565.8 250.9,558.0 245.1,553.1 236.3,558.0 233.4,550.2 225.6,544.4 217.8,536.6 208.0,531.7 203.1,524.9 204.1,519.0 202.2,507.3 203.1,498.5 210.0,496.6 211.9,501.5 218.7,498.5 220.7,491.7Z" fill="none" stroke="#777777" stroke-width="4.1" stroke-linejoin="round"/>
<path d="M705.5,805.7 717.2,799.9 727.0,798.9 736.7,799.9 746.5,799.9 742.6,809.6 738.7,819.4 728.9,827.2 719.2,835.0 705.5,833.0 699.7,823.3 699.7,813.5Z" fill="none" stroke="#777777" stroke-width="4.1" stroke-linejoin="round"/>
<path d="M927.5,674.1 931.9,678.5 931.9,690.2 929.7,701.9 929.0,713.6 926.1,725.3 923.1,735.6 921.7,744.3 917.3,741.4 911.4,735.6 907.0,725.3 902.7,715.1 903.4,704.8 908.5,693.1 912.9,682.9 920.2,675.6Z" fill="none" stroke="#777777" stroke-width="3.2" stroke-linejoin="round"/>
<path d="M945.8,685.8 946.5,706.3" fill="none" stroke="#777777" stroke-width="3"/>
<path d="M939.2,744.3 930.4,760.4" fill="none" stroke="#777777" stroke-width="3"/>
<path d="M912.9,798.4 907.0,817.5" fill="none" stroke="#777777" stroke-width="3"/>
<path d="M958.2,655.1 954.6,659.5" fill="none" stroke="#777777" stroke-width="3"/>
</g>
<path d="M906.5,550.2 910.4,561.9 906.5,571.6 913.3,576.5 920.2,585.3 920.2,595.0 918.2,610.6 910.4,619.4 906.5,631.1 900.6,640.9 896.7,652.6 893.4,662.3 893.0,673.0 887.2,683.8 879.4,691.6 871.6,700.3" fill="none" stroke="#777777" stroke-width="6.5" stroke-linejoin="round" stroke-linecap="round" stroke-dasharray="9 2.5 5 1.5 12 3"/>
<path d="M893.9,675.1 882.2,687.7 870.5,701.6 860.8,711.3 851.0,723.0 841.3,732.8 827.6,740.6 814.0,746.4 804.2,754.2 792.5,758.1 780.8,762.0" fill="none" stroke="#777777" stroke-width="6.5" stroke-linejoin="round" stroke-linecap="round" stroke-dasharray="9 2.5 5 1.5 12 3"/>
<ellipse cx="921" cy="571" rx="6" ry="9" fill="#777777" transform="rotate(30 921 571)"/>
<ellipse cx="917" cy="585" rx="4" ry="6" fill="#777777" transform="rotate(0 917 585)"/>
<ellipse cx="875" cy="407" rx="7" ry="4" fill="#777777" transform="rotate(-30 875 407)"/>
<ellipse cx="893" cy="714" rx="3.2" ry="4.5" fill="#777777" transform="rotate(0 893 714)"/>
<ellipse cx="851.5" cy="775" rx="2.2" ry="2.2" fill="#777777" transform="rotate(0 851.5 775)"/>
<ellipse cx="732" cy="786" rx="3" ry="5" fill="#777777" transform="rotate(10 732 786)"/>
<ellipse cx="707" cy="778" rx="1.5" ry="2.5" fill="#777777" transform="rotate(0 707 778)"/>
<ellipse cx="927" cy="664" rx="1.8" ry="3" fill="#777777" transform="rotate(20 927 664)"/>
<rect x="969.6" y="640.9" width="176.9999999999999" height="213.5" fill="#fff"/>
<clipPath id="ila"><polygon points="971.3,642.5 1112.8,642.5 1110.2,648.0 1107.6,654.4 1103.8,659.5 1098.7,664.7 1093.5,668.5 1088.4,672.4 1082.0,675.6 1075.5,678.1 1069.1,680.7 1062.7,681.4 1058.9,685.2 1052.4,687.1 1047.3,687.8 1042.2,688.4 1038.6,689.3 1038.6,699.3 1034.5,699.3 1033.8,689.3 1031.9,689.1 1026.8,687.8 1021.6,686.5 1016.5,685.2 1011.4,682.6 1007.5,678.8 1002.4,675.6 997.2,674.9 993.4,676.9 988.2,678.8 983.1,679.4 976.7,680.1 971.3,681.4"/></clipPath>
<g clip-path="url(#ila)"><rect x="968" y="640" width="180" height="60" fill="#ff5454"/><ellipse cx="1015" cy="645" rx="30" ry="14" fill="#ff1c1c" filter="url(#ib)"/><ellipse cx="1100" cy="652" rx="30" ry="22" fill="#ff8888" filter="url(#ib)"/><ellipse cx="985" cy="668" rx="22" ry="14" fill="#ff3c3c" filter="url(#ib)"/>
<polyline points="971.3,662.1 975.4,660.8 976.7,667.2 981.8,671.1 984.4,667.2 987.6,649.3 990.8,648.0 998.5,650.5 1007.5,651.2 1015.2,649.9 1021.6,650.5 1026.8,653.8 1034.5,652.5 1039.6,657.0 1044.7,662.1 1049.9,657.6 1057.6,657.0 1065.3,662.1 1071.7,660.2 1078.1,655.7 1081.3,649.3 1083.3,644.1" fill="none" stroke="#8a8a8a" stroke-width="1.2"/>
<polyline points="1081.3,649.3 1085.2,655.7 1086.5,663.4 1085.2,668.5" fill="none" stroke="#8a8a8a" stroke-width="1.2"/>
<polyline points="976.7,667.2 981.8,672.4 989.5,669.8 994.7,672.4" fill="none" stroke="#8a8a8a" stroke-width="1.2"/>
</g>
<polyline points="1112.8,642.5 1110.2,648.0 1107.6,654.4 1103.8,659.5 1098.7,664.7 1093.5,668.5 1088.4,672.4 1082.0,675.6 1075.5,678.1 1069.1,680.7 1062.7,681.4 1058.9,685.2 1052.4,687.1 1047.3,687.8 1042.2,688.4 1038.6,689.3 1038.6,699.3 1034.5,699.3 1033.8,689.3 1031.9,689.1 1026.8,687.8 1021.6,686.5 1016.5,685.2 1011.4,682.6 1007.5,678.8 1002.4,675.6 997.2,674.9 993.4,676.9 988.2,678.8 983.1,679.4 976.7,680.1 971.3,681.4" fill="none" stroke="#777777" stroke-width="1.6" stroke-linejoin="round"/>
<polygon points="1024.2,703.2 1029.3,700.0 1035.7,699.3 1040.2,701.3 1039.0,705.7 1035.7,709.0 1030.6,711.5 1025.5,712.2 1022.9,708.3" fill="#ff4040" stroke="#777777" stroke-width="0.8"/>
<polygon points="1122.4,657.6 1123.1,662.1 1121.1,668.5 1118.6,674.9 1116.0,680.7 1113.4,682.0 1110.2,677.5 1107.6,672.4 1110.2,668.5 1115.3,663.4 1119.2,658.9" fill="none" stroke="#666" stroke-width="1"/>
<path d="M1028.1,731.7L1030.6,727.3M1045.6,724.8L1050.3,726.5M1063.1,730.1L1067.4,727.6M1090.0,734.6L1092.0,734.6M1100.6,730.7L1100.6,734.7M1104.8,711.5L1108.0,707.7M1117.6,689.7L1120.8,685.9M1082.9,693.6L1084.9,693.6M1127.8,665.3L1128.5,669.2M1133.6,655.7L1135.6,655.7M1034.5,758.5L1034.5,763.5M1064.9,764.4L1066.9,767.8M1066.8,774.2L1068.8,770.8M1075.8,769.5L1077.8,773.0M1082.0,769.4L1084.5,767.9M1097.8,764.6L1099.5,759.9M1054.0,776.4L1056.0,776.4M1046.0,785.6L1048.6,782.5M1031.4,790.2L1034.9,788.2M1059.9,784.1L1063.0,786.6M1059.6,791.6L1060.7,794.5M1069.0,788.4L1071.8,787.4M1076.5,793.7L1079.7,789.9M1019.1,797.0L1019.1,802.0M1051.2,804.5L1051.2,808.5M1048.0,822.6L1051.7,821.3" stroke="#555" stroke-width="2.2" fill="none"/>
<rect x="969.6" y="640.9" width="176.9999999999999" height="213.5" fill="none" stroke="#000" stroke-width="3.3"/>
<rect x="134.6" y="104.9" width="1011.9999999999999" height="749.5" fill="none" stroke="#000" stroke-width="4.8"/>
</g>
<g transform="translate(1065,0)">
<g filter="url(#sb)">
<g clip-path="url(#cn)"><path fill="#ff0000" d="M392,202h24v8h-24zM376,210h40v8h-40zM376,218h40v8h-40zM368,226h64v8h-64zM336,234h104v8h-104zM336,242h104v8h-104zM336,250h112v8h-112zM336,258h112v8h-112zM336,266h112v8h-112zM336,274h104v8h-104zM328,282h112v8h-112zM328,290h136v8h-136zM328,298h152v8h-152zM336,306h160v8h-160zM336,314h168v8h-168zM336,322h168v8h-168zM328,330h184v8h-184zM328,338h184v8h-184zM320,346h256v8h-256zM312,354h280v8h-280zM296,362h312v8h-312zM632,362h8v8h-8zM296,370h344v8h-344zM296,378h344v8h-344zM304,386h336v8h-336zM328,394h200v8h-200zM536,394h104v8h-104zM344,402h8v8h-8zM376,402h24v8h-24zM416,402h48v8h-48zM488,402h32v8h-32zM552,402h88v8h-88zM440,410h8v8h-8zM496,410h16v8h-16zM568,410h8v8h-8zM584,410h56v8h-56zM600,418h32v8h-32zM608,426h8v8h-8zM344,474h48v8h-48zM336,482h64v8h-64zM336,490h64v8h-64zM376,498h16v8h-16z"/>
<path fill="#ff0d0d" d="M336,226h8v8h-8zM328,242h8v8h-8zM328,250h8v8h-8zM328,258h8v8h-8zM328,266h8v8h-8zM328,274h8v8h-8zM320,290h8v8h-8zM328,306h8v8h-8zM328,314h8v8h-8zM720,314h24v8h-24zM328,322h8v8h-8zM720,322h24v8h-24zM320,330h8v8h-8zM736,330h8v8h-8zM320,338h8v8h-8zM304,346h16v8h-16zM256,354h56v8h-56zM248,362h48v8h-48zM640,362h8v8h-8zM256,370h40v8h-40zM640,370h8v8h-8zM272,378h24v8h-24zM640,378h8v8h-8zM288,386h16v8h-16zM640,386h8v8h-8zM304,394h24v8h-24zM528,394h8v8h-8zM640,394h8v8h-8zM336,402h8v8h-8zM352,402h24v8h-24zM400,402h16v8h-16zM464,402h24v8h-24zM544,402h8v8h-8zM640,402h8v8h-8zM432,410h8v8h-8zM448,410h8v8h-8zM480,410h16v8h-16zM560,410h8v8h-8zM576,410h8v8h-8zM640,410h8v8h-8zM592,418h8v8h-8zM632,418h8v8h-8zM600,426h8v8h-8zM616,426h24v8h-24zM608,434h8v8h-8zM624,442h8v8h-8zM344,466h16v8h-16zM336,474h8v8h-8zM392,474h8v8h-8zM304,482h8v8h-8zM328,482h8v8h-8zM328,490h8v8h-8zM336,498h40v8h-40zM392,498h8v8h-8zM256,514h8v8h-8zM256,522h16v8h-16zM264,530h8v8h-8zM592,626h24v8h-24zM592,634h24v8h-24zM592,642h24v8h-24zM584,650h24v8h-24zM584,658h24v8h-24zM592,666h16v8h-16zM696,738h16v8h-16zM688,746h24v8h-24zM688,754h24v8h-24zM696,762h8v8h-8zM712,794h8v8h-8zM704,802h24v8h-24zM696,810h40v8h-40zM696,818h40v8h-40zM696,826h32v8h-32zM712,834h8v8h-8z"/>
<path fill="#ff1919" d="M320,250h8v8h-8zM320,258h8v8h-8zM320,266h8v8h-8zM320,274h8v8h-8zM320,282h8v8h-8zM320,298h8v8h-8zM728,298h8v8h-8zM320,306h8v8h-8zM720,306h24v8h-24zM320,314h8v8h-8zM320,322h8v8h-8zM744,322h8v8h-8zM720,330h16v8h-16zM744,330h8v8h-8zM304,338h16v8h-16zM248,346h56v8h-56zM232,354h24v8h-24zM656,354h8v8h-8zM232,362h16v8h-16zM648,362h8v8h-8zM232,370h24v8h-24zM648,370h8v8h-8zM240,378h32v8h-32zM264,386h24v8h-24zM288,394h16v8h-16zM648,394h8v8h-8zM296,402h40v8h-40zM520,402h24v8h-24zM648,402h8v8h-8zM376,410h16v8h-16zM424,410h8v8h-8zM456,410h24v8h-24zM512,410h8v8h-8zM488,418h16v8h-16zM584,418h8v8h-8zM640,418h8v8h-8zM592,426h8v8h-8zM640,426h8v8h-8zM600,434h8v8h-8zM616,434h24v8h-24zM600,442h24v8h-24zM632,442h8v8h-8zM600,450h40v8h-40zM592,458h32v8h-32zM360,466h32v8h-32zM592,466h16v8h-16zM328,474h8v8h-8zM584,474h24v8h-24zM296,482h8v8h-8zM312,482h16v8h-16zM400,482h8v8h-8zM584,482h24v8h-24zM296,490h32v8h-32zM400,490h8v8h-8zM592,490h16v8h-16zM328,498h8v8h-8zM400,498h8v8h-8zM568,498h32v8h-32zM264,506h8v8h-8zM384,506h8v8h-8zM568,506h32v8h-32zM248,514h8v8h-8zM264,514h8v8h-8zM568,514h40v8h-40zM584,522h32v8h-32zM256,530h8v8h-8zM592,530h24v8h-24zM592,538h32v8h-32zM600,546h16v8h-16zM632,570h8v8h-8zM624,578h16v8h-16zM608,610h16v8h-16zM592,618h32v8h-32zM584,626h8v8h-8zM616,626h8v8h-8zM584,634h8v8h-8zM616,634h8v8h-8zM584,642h8v8h-8zM616,642h8v8h-8zM608,650h16v8h-16zM608,658h8v8h-8zM584,666h8v8h-8zM608,666h8v8h-8zM584,674h32v8h-32zM592,682h16v8h-16zM688,730h24v8h-24zM680,738h16v8h-16zM712,738h8v8h-8zM680,746h8v8h-8zM712,746h8v8h-8zM672,754h16v8h-16zM712,754h16v8h-16zM664,762h32v8h-32zM704,762h24v8h-24zM680,770h16v8h-16zM712,770h16v8h-16zM712,778h16v8h-16zM720,786h8v8h-8zM720,794h24v8h-24zM728,802h16v8h-16zM736,810h8v8h-8zM736,818h8v8h-8z"/>
<path fill="#ff2626" d="M312,258h8v8h-8zM312,266h8v8h-8zM312,274h8v8h-8zM736,298h8v8h-8zM744,306h8v8h-8zM744,314h8v8h-8zM312,330h8v8h-8zM232,338h48v8h-48zM288,338h16v8h-16zM728,338h24v8h-24zM208,346h40v8h-40zM200,354h32v8h-32zM664,354h8v8h-8zM192,362h40v8h-40zM656,362h8v8h-8zM184,370h48v8h-48zM656,370h8v8h-8zM208,378h32v8h-32zM648,378h8v8h-8zM232,386h32v8h-32zM648,386h8v8h-8zM264,394h24v8h-24zM288,402h8v8h-8zM296,410h16v8h-16zM344,410h32v8h-32zM392,410h32v8h-32zM552,410h8v8h-8zM648,410h8v8h-8zM432,418h24v8h-24zM472,418h16v8h-16zM504,418h8v8h-8zM576,418h8v8h-8zM648,418h8v8h-8zM648,426h8v8h-8zM592,434h8v8h-8zM640,434h8v8h-8zM592,442h8v8h-8zM640,442h8v8h-8zM592,450h8v8h-8zM640,450h8v8h-8zM584,458h8v8h-8zM624,458h24v8h-24zM336,466h8v8h-8zM584,466h8v8h-8zM608,466h32v8h-32zM296,474h32v8h-32zM400,474h8v8h-8zM608,474h16v8h-16zM288,482h8v8h-8zM608,482h16v8h-16zM288,490h8v8h-8zM584,490h8v8h-8zM608,490h24v8h-24zM296,498h32v8h-32zM600,498h40v8h-40zM248,506h16v8h-16zM336,506h48v8h-48zM392,506h8v8h-8zM560,506h8v8h-8zM600,506h40v8h-40zM560,514h8v8h-8zM608,514h40v8h-40zM248,522h8v8h-8zM568,522h16v8h-16zM616,522h32v8h-32zM568,530h24v8h-24zM616,530h32v8h-32zM576,538h16v8h-16zM624,538h24v8h-24zM576,546h24v8h-24zM616,546h32v8h-32zM584,554h64v8h-64zM584,562h64v8h-64zM592,570h40v8h-40zM640,570h8v8h-8zM592,578h32v8h-32zM640,578h8v8h-8zM584,586h64v8h-64zM584,594h64v8h-64zM584,602h56v8h-56zM584,610h24v8h-24zM624,610h16v8h-16zM576,618h16v8h-16zM624,618h16v8h-16zM576,626h8v8h-8zM624,626h8v8h-8zM576,634h8v8h-8zM624,634h8v8h-8zM576,642h8v8h-8zM624,642h8v8h-8zM576,650h8v8h-8zM624,650h8v8h-8zM576,658h8v8h-8zM616,658h16v8h-16zM576,666h8v8h-8zM616,666h16v8h-16zM576,674h8v8h-8zM616,674h8v8h-8zM576,682h16v8h-16zM608,682h16v8h-16zM584,690h32v8h-32zM600,698h8v8h-8zM680,722h40v8h-40zM672,730h16v8h-16zM712,730h16v8h-16zM664,738h16v8h-16zM720,738h8v8h-8zM656,746h24v8h-24zM720,746h16v8h-16zM656,754h16v8h-16zM728,754h8v8h-8zM728,762h16v8h-16zM728,770h16v8h-16zM728,778h8v8h-8zM728,786h16v8h-16zM744,794h8v8h-8z"/>
<path fill="#ff3333" d="M304,258h8v8h-8zM304,266h8v8h-8zM312,282h8v8h-8zM312,290h8v8h-8zM312,298h8v8h-8zM312,306h8v8h-8zM312,314h8v8h-8zM752,314h8v8h-8zM312,322h8v8h-8zM752,322h8v8h-8zM208,330h56v8h-56zM304,330h8v8h-8zM752,330h8v8h-8zM192,338h40v8h-40zM280,338h8v8h-8zM704,338h24v8h-24zM192,346h16v8h-16zM696,346h8v8h-8zM736,346h8v8h-8zM184,354h16v8h-16zM672,354h16v8h-16zM176,362h16v8h-16zM664,362h16v8h-16zM176,370h8v8h-8zM664,370h8v8h-8zM184,378h24v8h-24zM656,378h8v8h-8zM200,386h32v8h-32zM656,386h8v8h-8zM224,394h40v8h-40zM656,394h8v8h-8zM272,402h16v8h-16zM656,402h8v8h-8zM288,410h8v8h-8zM312,410h32v8h-32zM520,410h8v8h-8zM544,410h8v8h-8zM656,410h8v8h-8zM424,418h8v8h-8zM456,418h16v8h-16zM568,418h8v8h-8zM656,418h8v8h-8zM472,426h32v8h-32zM648,434h8v8h-8zM584,442h8v8h-8zM648,442h8v8h-8zM584,450h8v8h-8zM648,450h8v8h-8zM344,458h24v8h-24zM576,458h8v8h-8zM648,458h8v8h-8zM296,466h16v8h-16zM328,466h8v8h-8zM392,466h8v8h-8zM576,466h8v8h-8zM640,466h16v8h-16zM288,474h8v8h-8zM576,474h8v8h-8zM624,474h32v8h-32zM408,482h8v8h-8zM576,482h8v8h-8zM624,482h32v8h-32zM280,490h8v8h-8zM408,490h8v8h-8zM568,490h16v8h-16zM632,490h24v8h-24zM264,498h32v8h-32zM560,498h8v8h-8zM640,498h16v8h-16zM272,506h8v8h-8zM328,506h8v8h-8zM400,506h8v8h-8zM640,506h16v8h-16zM272,514h8v8h-8zM344,514h8v8h-8zM512,514h24v8h-24zM552,514h8v8h-8zM648,514h8v8h-8zM272,522h8v8h-8zM512,522h24v8h-24zM552,522h16v8h-16zM648,522h8v8h-8zM552,530h16v8h-16zM648,530h8v8h-8zM552,538h24v8h-24zM648,538h8v8h-8zM552,546h24v8h-24zM648,546h8v8h-8zM560,554h24v8h-24zM648,554h8v8h-8zM568,562h16v8h-16zM648,562h8v8h-8zM576,570h16v8h-16zM648,570h8v8h-8zM576,578h16v8h-16zM648,578h8v8h-8zM568,586h16v8h-16zM648,586h8v8h-8zM568,594h16v8h-16zM648,594h8v8h-8zM576,602h8v8h-8zM640,602h16v8h-16zM576,610h8v8h-8zM640,610h16v8h-16zM640,618h8v8h-8zM568,626h8v8h-8zM632,626h16v8h-16zM568,634h8v8h-8zM632,634h8v8h-8zM568,642h8v8h-8zM632,642h8v8h-8zM568,650h8v8h-8zM632,650h8v8h-8zM568,658h8v8h-8zM632,658h8v8h-8zM568,666h8v8h-8zM632,666h8v8h-8zM568,674h8v8h-8zM624,674h8v8h-8zM568,682h8v8h-8zM624,682h8v8h-8zM576,690h8v8h-8zM616,690h16v8h-16zM768,690h16v8h-16zM576,698h24v8h-24zM608,698h16v8h-16zM760,698h24v8h-24zM584,706h32v8h-32zM680,714h40v8h-40zM664,722h16v8h-16zM720,722h16v8h-16zM656,730h16v8h-16zM728,730h8v8h-8zM640,738h24v8h-24zM728,738h16v8h-16zM616,746h8v8h-8zM736,746h16v8h-16zM736,754h16v8h-16zM744,762h16v8h-16z"/>
<path fill="#ff4040" d="M296,258h8v8h-8zM304,274h8v8h-8zM304,282h8v8h-8zM752,298h8v8h-8zM752,306h8v8h-8zM760,314h8v8h-8zM224,322h40v8h-40zM304,322h8v8h-8zM760,322h8v8h-8zM184,330h24v8h-24zM264,330h40v8h-40zM760,330h8v8h-8zM176,338h16v8h-16zM752,338h8v8h-8zM176,346h16v8h-16zM704,346h32v8h-32zM744,346h8v8h-8zM168,354h16v8h-16zM688,354h24v8h-24zM168,362h8v8h-8zM680,362h16v8h-16zM672,370h8v8h-8zM176,378h8v8h-8zM664,378h8v8h-8zM184,386h16v8h-16zM664,386h8v8h-8zM200,394h24v8h-24zM664,394h8v8h-8zM216,402h56v8h-56zM664,402h16v8h-16zM272,410h16v8h-16zM528,410h16v8h-16zM664,410h16v8h-16zM288,418h24v8h-24zM368,418h24v8h-24zM416,418h8v8h-8zM512,418h8v8h-8zM560,418h8v8h-8zM664,418h8v8h-8zM456,426h16v8h-16zM504,426h8v8h-8zM584,426h8v8h-8zM656,426h8v8h-8zM488,434h16v8h-16zM656,434h8v8h-8zM656,442h8v8h-8zM576,450h8v8h-8zM656,450h8v8h-8zM336,458h8v8h-8zM368,458h16v8h-16zM656,458h16v8h-16zM288,466h8v8h-8zM312,466h16v8h-16zM400,466h8v8h-8zM568,466h8v8h-8zM656,466h8v8h-8zM280,474h8v8h-8zM408,474h8v8h-8zM568,474h8v8h-8zM656,474h8v8h-8zM280,482h8v8h-8zM568,482h8v8h-8zM656,482h8v8h-8zM272,490h8v8h-8zM656,490h8v8h-8zM256,498h8v8h-8zM408,498h8v8h-8zM656,498h8v8h-8zM240,506h8v8h-8zM280,506h48v8h-48zM512,506h24v8h-24zM552,506h8v8h-8zM656,506h8v8h-8zM240,514h8v8h-8zM336,514h8v8h-8zM352,514h8v8h-8zM384,514h16v8h-16zM536,514h16v8h-16zM656,514h16v8h-16zM504,522h8v8h-8zM536,522h16v8h-16zM656,522h16v8h-16zM248,530h8v8h-8zM272,530h8v8h-8zM504,530h48v8h-48zM656,530h16v8h-16zM504,538h48v8h-48zM656,538h16v8h-16zM496,546h56v8h-56zM656,546h16v8h-16zM496,554h64v8h-64zM656,554h16v8h-16zM552,562h16v8h-16zM656,562h16v8h-16zM560,570h16v8h-16zM656,570h8v8h-8zM560,578h16v8h-16zM656,578h16v8h-16zM560,586h8v8h-8zM656,586h16v8h-16zM560,594h8v8h-8zM656,594h16v8h-16zM568,602h8v8h-8zM656,602h24v8h-24zM568,610h8v8h-8zM656,610h24v8h-24zM568,618h8v8h-8zM648,618h32v8h-32zM648,626h24v8h-24zM640,634h24v8h-24zM640,642h24v8h-24zM640,650h24v8h-24zM640,658h16v8h-16zM560,666h8v8h-8zM640,666h8v8h-8zM560,674h8v8h-8zM632,674h16v8h-16zM560,682h8v8h-8zM632,682h8v8h-8zM760,682h16v8h-16zM560,690h16v8h-16zM632,690h8v8h-8zM744,690h24v8h-24zM784,690h8v8h-8zM568,698h8v8h-8zM624,698h8v8h-8zM744,698h16v8h-16zM784,698h8v8h-8zM560,706h24v8h-24zM616,706h16v8h-16zM672,706h120v8h-120zM560,714h72v8h-72zM656,714h24v8h-24zM720,714h56v8h-56zM560,722h104v8h-104zM736,722h32v8h-32zM560,730h96v8h-96zM736,730h32v8h-32zM552,738h88v8h-88zM744,738h24v8h-24zM552,746h64v8h-64zM752,746h24v8h-24zM552,754h24v8h-24zM752,754h32v8h-32zM560,762h16v8h-16zM760,762h16v8h-16zM560,770h16v8h-16z"/>
<path fill="#ff4d4d" d="M288,258h8v8h-8zM288,266h16v8h-16zM296,274h8v8h-8zM304,290h8v8h-8zM760,290h8v8h-8zM760,306h8v8h-8zM304,314h8v8h-8zM768,314h8v8h-8zM264,322h16v8h-16zM296,322h8v8h-8zM768,322h8v8h-8zM176,330h8v8h-8zM768,330h8v8h-8zM168,338h8v8h-8zM760,338h8v8h-8zM168,346h8v8h-8zM752,346h8v8h-8zM160,354h8v8h-8zM712,354h40v8h-40zM696,362h24v8h-24zM680,370h16v8h-16zM672,378h16v8h-16zM176,386h8v8h-8zM672,386h8v8h-8zM184,394h16v8h-16zM672,394h8v8h-8zM200,402h16v8h-16zM208,410h24v8h-24zM256,410h16v8h-16zM216,418h8v8h-8zM272,418h16v8h-16zM312,418h16v8h-16zM352,418h16v8h-16zM392,418h24v8h-24zM520,418h8v8h-8zM672,418h8v8h-8zM288,426h16v8h-16zM432,426h24v8h-24zM576,426h8v8h-8zM664,426h16v8h-16zM216,434h8v8h-8zM464,434h24v8h-24zM504,434h8v8h-8zM584,434h8v8h-8zM664,434h8v8h-8zM664,442h8v8h-8zM568,450h8v8h-8zM664,450h16v8h-16zM288,458h24v8h-24zM328,458h8v8h-8zM384,458h8v8h-8zM560,458h16v8h-16zM672,458h8v8h-8zM280,466h8v8h-8zM552,466h16v8h-16zM664,466h16v8h-16zM544,474h24v8h-24zM664,474h16v8h-16zM272,482h8v8h-8zM416,482h8v8h-8zM544,482h8v8h-8zM560,482h8v8h-8zM664,482h8v8h-8zM264,490h8v8h-8zM416,490h8v8h-8zM560,490h8v8h-8zM664,490h8v8h-8zM248,498h8v8h-8zM512,498h24v8h-24zM552,498h8v8h-8zM664,498h8v8h-8zM408,506h8v8h-8zM504,506h8v8h-8zM536,506h16v8h-16zM664,506h16v8h-16zM280,514h8v8h-8zM328,514h8v8h-8zM360,514h24v8h-24zM400,514h8v8h-8zM504,514h8v8h-8zM672,514h8v8h-8zM280,522h8v8h-8zM344,522h8v8h-8zM672,522h8v8h-8zM672,530h8v8h-8zM256,538h16v8h-16zM488,538h16v8h-16zM672,538h8v8h-8zM672,546h16v8h-16zM672,554h16v8h-16zM512,562h16v8h-16zM536,562h16v8h-16zM672,562h16v8h-16zM544,570h16v8h-16zM664,570h16v8h-16zM552,578h8v8h-8zM672,578h16v8h-16zM552,586h8v8h-8zM672,586h16v8h-16zM552,594h8v8h-8zM672,594h16v8h-16zM560,602h8v8h-8zM680,602h16v8h-16zM560,610h8v8h-8zM680,610h16v8h-16zM560,618h8v8h-8zM680,618h16v8h-16zM560,626h8v8h-8zM672,626h16v8h-16zM560,634h8v8h-8zM664,634h16v8h-16zM560,642h8v8h-8zM664,642h8v8h-8zM560,650h8v8h-8zM664,650h8v8h-8zM560,658h8v8h-8zM656,658h8v8h-8zM648,666h8v8h-8zM648,674h8v8h-8zM760,674h16v8h-16zM552,682h8v8h-8zM640,682h16v8h-16zM744,682h16v8h-16zM776,682h8v8h-8zM552,690h8v8h-8zM640,690h40v8h-40zM736,690h8v8h-8zM792,690h8v8h-8zM552,698h16v8h-16zM632,698h72v8h-72zM712,698h32v8h-32zM792,698h8v8h-8zM552,706h8v8h-8zM632,706h40v8h-40zM792,706h8v8h-8zM552,714h8v8h-8zM632,714h24v8h-24zM776,714h24v8h-24zM544,722h16v8h-16zM768,722h24v8h-24zM544,730h16v8h-16zM768,730h24v8h-24zM544,738h8v8h-8zM768,738h32v8h-32zM544,746h8v8h-8zM776,746h32v8h-32zM544,754h8v8h-8zM784,754h16v8h-16zM544,762h16v8h-16zM552,770h8v8h-8z"/>
<path fill="#ff5959" d="M288,274h8v8h-8zM296,282h8v8h-8zM768,290h8v8h-8zM304,298h8v8h-8zM760,298h24v8h-24zM304,306h8v8h-8zM768,306h16v8h-16zM776,314h8v8h-8zM280,322h16v8h-16zM776,322h8v8h-8zM776,330h8v8h-8zM768,338h8v8h-8zM760,346h8v8h-8zM752,354h8v8h-8zM720,362h32v8h-32zM696,370h48v8h-48zM688,378h16v8h-16zM168,386h8v8h-8zM680,386h16v8h-16zM168,394h16v8h-16zM680,394h8v8h-8zM184,402h16v8h-16zM680,402h8v8h-8zM200,410h8v8h-8zM232,410h24v8h-24zM680,410h8v8h-8zM200,418h16v8h-16zM224,418h8v8h-8zM264,418h8v8h-8zM328,418h24v8h-24zM528,418h8v8h-8zM552,418h8v8h-8zM680,418h8v8h-8zM200,426h32v8h-32zM272,426h16v8h-16zM304,426h8v8h-8zM424,426h8v8h-8zM512,426h8v8h-8zM568,426h8v8h-8zM208,434h8v8h-8zM280,434h24v8h-24zM456,434h8v8h-8zM672,434h8v8h-8zM216,442h8v8h-8zM288,442h8v8h-8zM488,442h16v8h-16zM576,442h8v8h-8zM672,442h16v8h-16zM280,450h32v8h-32zM344,450h32v8h-32zM560,450h8v8h-8zM280,458h8v8h-8zM312,458h16v8h-16zM392,458h8v8h-8zM552,458h8v8h-8zM408,466h8v8h-8zM544,466h8v8h-8zM272,474h8v8h-8zM416,474h8v8h-8zM680,474h8v8h-8zM536,482h8v8h-8zM552,482h8v8h-8zM672,482h16v8h-16zM520,490h24v8h-24zM672,490h8v8h-8zM416,498h8v8h-8zM504,498h8v8h-8zM536,498h16v8h-16zM672,498h8v8h-8zM232,506h8v8h-8zM680,506h8v8h-8zM288,514h40v8h-40zM408,514h8v8h-8zM496,514h8v8h-8zM680,514h8v8h-8zM240,522h8v8h-8zM336,522h8v8h-8zM352,522h8v8h-8zM496,522h8v8h-8zM680,522h16v8h-16zM280,530h8v8h-8zM488,530h16v8h-16zM680,530h16v8h-16zM272,538h8v8h-8zM680,538h24v8h-24zM488,546h8v8h-8zM688,546h24v8h-24zM488,554h8v8h-8zM688,554h16v8h-16zM496,562h16v8h-16zM528,562h8v8h-8zM688,562h16v8h-16zM680,570h16v8h-16zM688,578h16v8h-16zM688,586h16v8h-16zM688,594h24v8h-24zM696,602h24v8h-24zM832,602h8v8h-8zM696,610h32v8h-32zM696,618h32v8h-32zM688,626h24v8h-24zM680,634h32v8h-32zM672,642h40v8h-40zM672,650h8v8h-8zM696,650h8v8h-8zM768,650h8v8h-8zM664,658h8v8h-8zM760,658h24v8h-24zM552,666h8v8h-8zM656,666h16v8h-16zM752,666h32v8h-32zM552,674h8v8h-8zM656,674h24v8h-24zM736,674h24v8h-24zM776,674h24v8h-24zM544,682h8v8h-8zM656,682h32v8h-32zM728,682h16v8h-16zM784,682h56v8h-56zM544,690h8v8h-8zM680,690h16v8h-16zM712,690h24v8h-24zM800,690h48v8h-48zM544,698h8v8h-8zM704,698h8v8h-8zM800,698h48v8h-48zM544,706h8v8h-8zM800,706h48v8h-48zM544,714h8v8h-8zM800,714h48v8h-48zM536,722h8v8h-8zM792,722h56v8h-56zM536,730h8v8h-8zM792,730h48v8h-48zM536,738h8v8h-8zM800,738h32v8h-32zM536,746h8v8h-8zM808,746h8v8h-8zM528,754h16v8h-16zM536,762h8v8h-8z"/>
<path fill="#ff6666" d="M800,258h8v8h-8zM784,266h32v8h-32zM784,274h24v8h-24zM288,282h8v8h-8zM776,282h32v8h-32zM976,282h16v8h-16zM296,290h8v8h-8zM776,290h24v8h-24zM976,290h16v8h-16zM784,298h8v8h-8zM784,306h8v8h-8zM272,314h16v8h-16zM296,314h8v8h-8zM784,314h8v8h-8zM784,322h8v8h-8zM776,338h8v8h-8zM768,346h8v8h-8zM760,354h8v8h-8zM752,362h8v8h-8zM744,370h16v8h-16zM704,378h48v8h-48zM696,386h16v8h-16zM688,394h8v8h-8zM176,402h8v8h-8zM688,402h8v8h-8zM184,410h16v8h-16zM688,410h8v8h-8zM192,418h8v8h-8zM232,418h8v8h-8zM256,418h8v8h-8zM536,418h16v8h-16zM192,426h8v8h-8zM232,426h8v8h-8zM264,426h8v8h-8zM312,426h8v8h-8zM360,426h24v8h-24zM408,426h16v8h-16zM680,426h8v8h-8zM200,434h8v8h-8zM224,434h8v8h-8zM272,434h8v8h-8zM304,434h8v8h-8zM440,434h16v8h-16zM680,434h8v8h-8zM208,442h8v8h-8zM272,442h16v8h-16zM296,442h16v8h-16zM464,442h24v8h-24zM504,442h8v8h-8zM560,442h16v8h-16zM272,450h8v8h-8zM312,450h8v8h-8zM336,450h8v8h-8zM376,450h8v8h-8zM552,450h8v8h-8zM680,450h8v8h-8zM272,458h8v8h-8zM400,458h8v8h-8zM544,458h8v8h-8zM680,458h8v8h-8zM272,466h8v8h-8zM416,466h8v8h-8zM536,466h8v8h-8zM680,466h8v8h-8zM536,474h8v8h-8zM264,482h8v8h-8zM528,482h8v8h-8zM256,490h8v8h-8zM512,490h8v8h-8zM544,490h8v8h-8zM680,490h8v8h-8zM240,498h8v8h-8zM680,498h8v8h-8zM416,506h8v8h-8zM496,506h8v8h-8zM688,514h8v8h-8zM288,522h8v8h-8zM320,522h16v8h-16zM360,522h8v8h-8zM384,522h24v8h-24zM488,522h8v8h-8zM696,522h8v8h-8zM344,530h16v8h-16zM696,530h24v8h-24zM704,538h24v8h-24zM712,546h16v8h-16zM704,554h16v8h-16zM488,562h8v8h-8zM704,562h16v8h-16zM536,570h8v8h-8zM696,570h16v8h-16zM544,578h8v8h-8zM704,578h8v8h-8zM832,578h48v8h-48zM704,586h16v8h-16zM824,586h72v8h-72zM712,594h24v8h-24zM784,594h8v8h-8zM808,594h88v8h-88zM552,602h8v8h-8zM720,602h40v8h-40zM768,602h64v8h-64zM840,602h56v8h-56zM728,610h168v8h-168zM728,618h168v8h-168zM712,626h184v8h-184zM712,634h184v8h-184zM712,642h184v8h-184zM680,650h16v8h-16zM704,650h64v8h-64zM776,650h120v8h-120zM552,658h8v8h-8zM672,658h8v8h-8zM720,658h40v8h-40zM784,658h112v8h-112zM672,666h8v8h-8zM720,666h32v8h-32zM784,666h112v8h-112zM544,674h8v8h-8zM680,674h8v8h-8zM720,674h16v8h-16zM800,674h96v8h-96zM688,682h40v8h-40zM840,682h48v8h-48zM696,690h16v8h-16zM848,690h32v8h-32zM536,698h8v8h-8zM848,698h24v8h-24zM536,706h8v8h-8zM848,706h16v8h-16zM536,714h8v8h-8zM848,714h8v8h-8zM528,730h8v8h-8zM528,738h8v8h-8zM528,746h8v8h-8zM520,754h8v8h-8z"/>
<path fill="#ff7373" d="M848,114h8v8h-8zM824,122h24v8h-24zM816,130h24v8h-24zM816,138h16v8h-16zM776,210h8v8h-8zM768,218h16v8h-16zM768,226h8v8h-8zM768,234h8v8h-8zM768,242h32v8h-32zM808,258h8v8h-8zM968,266h24v8h-24zM968,274h32v8h-32zM968,282h8v8h-8zM992,282h8v8h-8zM288,290h8v8h-8zM800,290h8v8h-8zM968,290h8v8h-8zM992,290h8v8h-8zM792,298h16v8h-16zM968,298h32v8h-32zM792,306h8v8h-8zM968,306h32v8h-32zM288,314h8v8h-8zM792,314h8v8h-8zM784,330h8v8h-8zM784,338h8v8h-8zM776,346h8v8h-8zM768,354h8v8h-8zM760,362h8v8h-8zM760,370h8v8h-8zM752,378h8v8h-8zM712,386h40v8h-40zM696,394h16v8h-16zM696,402h8v8h-8zM184,418h8v8h-8zM240,418h16v8h-16zM688,418h8v8h-8zM240,426h8v8h-8zM256,426h8v8h-8zM320,426h24v8h-24zM352,426h8v8h-8zM384,426h24v8h-24zM520,426h8v8h-8zM560,426h8v8h-8zM688,426h8v8h-8zM232,434h8v8h-8zM264,434h8v8h-8zM312,434h8v8h-8zM360,434h8v8h-8zM432,434h8v8h-8zM512,434h8v8h-8zM568,434h16v8h-16zM224,442h8v8h-8zM264,442h8v8h-8zM312,442h8v8h-8zM352,442h24v8h-24zM456,442h8v8h-8zM552,442h8v8h-8zM688,442h8v8h-8zM320,450h16v8h-16zM384,450h16v8h-16zM488,450h16v8h-16zM544,450h8v8h-8zM688,450h8v8h-8zM408,458h8v8h-8zM536,458h8v8h-8zM688,458h8v8h-8zM688,466h8v8h-8zM264,474h8v8h-8zM424,474h8v8h-8zM688,474h8v8h-8zM424,482h8v8h-8zM520,482h8v8h-8zM688,482h8v8h-8zM424,490h8v8h-8zM504,490h8v8h-8zM552,490h8v8h-8zM688,490h8v8h-8zM424,498h8v8h-8zM496,498h8v8h-8zM688,498h8v8h-8zM688,506h8v8h-8zM232,514h8v8h-8zM488,514h8v8h-8zM696,514h8v8h-8zM296,522h24v8h-24zM368,522h8v8h-8zM704,522h8v8h-8zM288,530h8v8h-8zM328,530h16v8h-16zM360,530h8v8h-8zM480,530h8v8h-8zM720,530h8v8h-8zM280,538h8v8h-8zM480,538h8v8h-8zM728,538h8v8h-8zM480,546h8v8h-8zM728,546h8v8h-8zM480,554h8v8h-8zM720,554h16v8h-16zM720,562h8v8h-8zM512,570h24v8h-24zM712,570h16v8h-16zM832,570h56v8h-56zM712,578h16v8h-16zM824,578h8v8h-8zM880,578h24v8h-24zM544,586h8v8h-8zM720,586h32v8h-32zM784,586h8v8h-8zM808,586h16v8h-16zM896,586h24v8h-24zM736,594h48v8h-48zM792,594h16v8h-16zM896,594h24v8h-24zM760,602h8v8h-8zM896,602h24v8h-24zM552,610h8v8h-8zM896,610h24v8h-24zM552,618h8v8h-8zM896,618h16v8h-16zM552,626h8v8h-8zM896,626h16v8h-16zM552,634h8v8h-8zM896,634h8v8h-8zM896,642h8v8h-8zM552,650h8v8h-8zM680,658h8v8h-8zM704,658h16v8h-16zM544,666h8v8h-8zM680,666h8v8h-8zM704,666h16v8h-16zM688,674h32v8h-32zM536,682h8v8h-8zM536,690h8v8h-8zM528,706h8v8h-8zM528,714h8v8h-8zM528,722h8v8h-8zM520,730h8v8h-8zM520,738h8v8h-8zM520,746h8v8h-8z"/>
<path fill="#ff8080" d="M848,122h40v8h-40zM840,130h56v8h-56zM832,138h64v8h-64zM816,146h40v8h-40zM816,154h32v8h-32zM776,202h16v8h-16zM784,210h8v8h-8zM784,218h8v8h-8zM776,226h24v8h-24zM976,226h16v8h-16zM776,234h24v8h-24zM968,234h24v8h-24zM960,242h32v8h-32zM960,250h32v8h-32zM816,258h8v8h-8zM960,258h32v8h-32zM816,266h8v8h-8zM960,266h8v8h-8zM808,274h8v8h-8zM960,274h8v8h-8zM808,282h8v8h-8zM960,282h8v8h-8zM808,290h8v8h-8zM960,290h8v8h-8zM280,298h8v8h-8zM296,298h8v8h-8zM808,298h8v8h-8zM960,298h8v8h-8zM280,306h8v8h-8zM296,306h8v8h-8zM800,306h8v8h-8zM960,306h8v8h-8zM960,314h24v8h-24zM792,322h8v8h-8zM968,322h8v8h-8zM792,330h8v8h-8zM768,362h8v8h-8zM768,370h8v8h-8zM760,378h8v8h-8zM752,386h8v8h-8zM712,394h40v8h-40zM704,402h8v8h-8zM696,410h8v8h-8zM696,418h8v8h-8zM248,426h8v8h-8zM344,426h8v8h-8zM528,426h8v8h-8zM240,434h24v8h-24zM352,434h8v8h-8zM368,434h8v8h-8zM424,434h8v8h-8zM520,434h8v8h-8zM560,434h8v8h-8zM688,434h8v8h-8zM232,442h8v8h-8zM256,442h8v8h-8zM336,442h16v8h-16zM440,442h16v8h-16zM512,442h8v8h-8zM208,450h16v8h-16zM264,450h8v8h-8zM400,450h8v8h-8zM472,450h16v8h-16zM504,450h8v8h-8zM536,450h8v8h-8zM264,458h8v8h-8zM416,458h8v8h-8zM496,458h8v8h-8zM696,458h8v8h-8zM264,466h8v8h-8zM424,466h8v8h-8zM696,466h8v8h-8zM432,474h8v8h-8zM528,474h8v8h-8zM696,474h8v8h-8zM432,482h8v8h-8zM512,482h8v8h-8zM696,482h8v8h-8zM248,490h8v8h-8zM232,498h8v8h-8zM488,506h8v8h-8zM696,506h8v8h-8zM416,514h8v8h-8zM480,514h8v8h-8zM376,522h8v8h-8zM408,522h8v8h-8zM480,522h8v8h-8zM712,522h8v8h-8zM296,530h8v8h-8zM312,530h16v8h-16zM368,530h8v8h-8zM392,530h16v8h-16zM728,530h8v8h-8zM248,538h8v8h-8zM328,538h32v8h-32zM736,538h8v8h-8zM344,546h8v8h-8zM736,546h16v8h-16zM736,554h16v8h-16zM880,554h24v8h-24zM480,562h8v8h-8zM728,562h8v8h-8zM840,562h72v8h-72zM496,570h16v8h-16zM728,570h8v8h-8zM824,570h8v8h-8zM888,570h8v8h-8zM904,570h16v8h-16zM728,578h24v8h-24zM768,578h16v8h-16zM816,578h8v8h-8zM904,578h16v8h-16zM752,586h32v8h-32zM792,586h16v8h-16zM544,594h8v8h-8zM552,642h8v8h-8zM688,658h16v8h-16zM688,666h16v8h-16zM536,674h8v8h-8zM528,698h8v8h-8zM520,714h8v8h-8zM520,722h8v8h-8z"/>
<path fill="#ff8c8c" d="M896,138h8v8h-8zM856,146h40v8h-40zM848,154h16v8h-16zM816,162h32v8h-32zM816,170h8v8h-8zM936,194h24v8h-24zM792,202h8v8h-8zM936,202h32v8h-32zM792,210h8v8h-8zM936,210h48v8h-48zM792,218h8v8h-8zM936,218h64v8h-64zM800,226h8v8h-8zM936,226h40v8h-40zM992,226h8v8h-8zM800,234h8v8h-8zM944,234h24v8h-24zM992,234h8v8h-8zM944,242h16v8h-16zM992,242h8v8h-8zM944,250h16v8h-16zM992,250h16v8h-16zM944,258h16v8h-16zM944,266h16v8h-16zM816,274h8v8h-8zM944,274h16v8h-16zM816,282h8v8h-8zM944,282h16v8h-16zM816,290h8v8h-8zM944,290h16v8h-16zM288,298h8v8h-8zM816,298h8v8h-8zM952,298h8v8h-8zM288,306h8v8h-8zM808,306h8v8h-8zM952,306h8v8h-8zM800,314h8v8h-8zM952,314h8v8h-8zM800,322h8v8h-8zM952,322h16v8h-16zM960,330h8v8h-8zM792,338h8v8h-8zM960,338h8v8h-8zM784,346h8v8h-8zM776,354h8v8h-8zM752,394h8v8h-8zM712,402h32v8h-32zM704,410h8v8h-8zM536,426h8v8h-8zM696,426h8v8h-8zM320,434h32v8h-32zM376,434h8v8h-8zM392,434h32v8h-32zM528,434h8v8h-8zM240,442h16v8h-16zM320,442h16v8h-16zM376,442h32v8h-32zM432,442h8v8h-8zM520,442h32v8h-32zM696,442h8v8h-8zM224,450h8v8h-8zM256,450h8v8h-8zM408,450h8v8h-8zM464,450h8v8h-8zM512,450h8v8h-8zM528,450h8v8h-8zM696,450h8v8h-8zM424,458h16v8h-16zM488,458h8v8h-8zM504,458h8v8h-8zM528,458h8v8h-8zM432,466h8v8h-8zM528,466h8v8h-8zM520,474h8v8h-8zM256,482h8v8h-8zM504,482h8v8h-8zM432,490h8v8h-8zM496,490h8v8h-8zM696,490h8v8h-8zM432,498h8v8h-8zM456,498h8v8h-8zM488,498h8v8h-8zM696,498h8v8h-8zM424,506h8v8h-8zM480,506h8v8h-8zM704,514h8v8h-8zM720,522h8v8h-8zM240,530h8v8h-8zM304,530h8v8h-8zM376,530h16v8h-16zM408,530h8v8h-8zM736,530h8v8h-8zM288,538h8v8h-8zM320,538h8v8h-8zM360,538h16v8h-16zM392,538h8v8h-8zM744,538h8v8h-8zM328,546h16v8h-16zM352,546h8v8h-8zM880,546h32v8h-32zM344,554h8v8h-8zM752,554h8v8h-8zM840,554h40v8h-40zM904,554h8v8h-8zM736,562h8v8h-8zM832,562h8v8h-8zM488,570h8v8h-8zM736,570h8v8h-8zM760,570h24v8h-24zM816,570h8v8h-8zM536,578h8v8h-8zM752,578h16v8h-16zM784,578h32v8h-32zM544,602h8v8h-8zM544,658h8v8h-8zM528,690h8v8h-8zM520,706h8v8h-8zM512,714h8v8h-8zM512,722h8v8h-8z"/>
<path fill="#ff9999" d="M896,146h8v8h-8zM864,154h32v8h-32zM848,162h16v8h-16zM824,170h16v8h-16zM808,178h16v8h-16zM928,178h24v8h-24zM808,186h8v8h-8zM928,186h40v8h-40zM800,194h8v8h-8zM920,194h16v8h-16zM960,194h8v8h-8zM800,202h8v8h-8zM920,202h16v8h-16zM968,202h16v8h-16zM800,210h8v8h-8zM920,210h16v8h-16zM984,210h16v8h-16zM800,218h8v8h-8zM920,218h16v8h-16zM1000,218h8v8h-8zM928,226h8v8h-8zM1000,226h8v8h-8zM808,234h8v8h-8zM928,234h16v8h-16zM1000,234h16v8h-16zM816,242h8v8h-8zM928,242h16v8h-16zM1000,242h16v8h-16zM824,250h8v8h-8zM880,250h24v8h-24zM936,250h8v8h-8zM1008,250h8v8h-8zM824,258h8v8h-8zM880,258h24v8h-24zM936,258h8v8h-8zM824,266h8v8h-8zM936,266h8v8h-8zM824,274h8v8h-8zM936,274h8v8h-8zM824,282h8v8h-8zM936,282h8v8h-8zM824,290h8v8h-8zM936,290h8v8h-8zM824,298h8v8h-8zM936,298h16v8h-16zM816,306h16v8h-16zM944,306h8v8h-8zM808,314h16v8h-16zM944,314h8v8h-8zM808,322h8v8h-8zM944,322h8v8h-8zM800,330h8v8h-8zM952,330h8v8h-8zM952,338h8v8h-8zM776,362h8v8h-8zM768,378h8v8h-8zM760,386h8v8h-8zM744,402h8v8h-8zM712,410h8v8h-8zM704,418h8v8h-8zM544,426h16v8h-16zM704,426h8v8h-8zM384,434h8v8h-8zM536,434h8v8h-8zM696,434h8v8h-8zM408,442h8v8h-8zM424,442h8v8h-8zM232,450h24v8h-24zM416,450h48v8h-48zM520,450h8v8h-8zM704,450h8v8h-8zM208,458h8v8h-8zM256,458h8v8h-8zM440,458h16v8h-16zM472,458h16v8h-16zM512,458h8v8h-8zM704,458h8v8h-8zM440,466h8v8h-8zM496,466h16v8h-16zM704,466h8v8h-8zM256,474h8v8h-8zM440,474h8v8h-8zM504,474h16v8h-16zM704,474h8v8h-8zM440,482h16v8h-16zM704,482h8v8h-8zM240,490h8v8h-8zM440,490h32v8h-32zM488,490h8v8h-8zM464,498h24v8h-24zM432,506h8v8h-8zM472,506h8v8h-8zM704,506h8v8h-8zM424,514h8v8h-8zM472,514h8v8h-8zM416,522h8v8h-8zM472,522h8v8h-8zM472,530h8v8h-8zM296,538h24v8h-24zM376,538h16v8h-16zM400,538h8v8h-8zM472,538h8v8h-8zM888,538h16v8h-16zM264,546h32v8h-32zM320,546h8v8h-8zM360,546h8v8h-8zM376,546h32v8h-32zM472,546h8v8h-8zM752,546h8v8h-8zM864,546h16v8h-16zM336,554h8v8h-8zM352,554h8v8h-8zM384,554h24v8h-24zM472,554h8v8h-8zM760,554h8v8h-8zM832,554h8v8h-8zM472,562h8v8h-8zM744,562h40v8h-40zM824,562h8v8h-8zM480,570h8v8h-8zM744,570h16v8h-16zM784,570h8v8h-8zM808,570h8v8h-8zM520,578h16v8h-16zM544,626h8v8h-8zM544,650h8v8h-8zM536,666h8v8h-8zM528,682h8v8h-8zM520,690h8v8h-8zM520,698h8v8h-8zM512,706h8v8h-8zM504,714h8v8h-8zM504,722h8v8h-8z"/>
<path fill="#ffa6a6" d="M896,154h16v8h-16zM864,162h24v8h-24zM904,162h16v8h-16zM840,170h24v8h-24zM912,170h8v8h-8zM824,178h16v8h-16zM912,178h16v8h-16zM816,186h8v8h-8zM912,186h16v8h-16zM808,194h8v8h-8zM912,194h8v8h-8zM984,194h8v8h-8zM808,202h8v8h-8zM912,202h8v8h-8zM984,202h16v8h-16zM808,210h8v8h-8zM912,210h8v8h-8zM1000,210h8v8h-8zM808,218h8v8h-8zM912,218h8v8h-8zM1008,218h8v8h-8zM808,226h8v8h-8zM912,226h16v8h-16zM1008,226h8v8h-8zM816,234h8v8h-8zM912,234h16v8h-16zM824,242h8v8h-8zM872,242h32v8h-32zM912,242h16v8h-16zM832,250h8v8h-8zM864,250h16v8h-16zM904,250h8v8h-8zM920,250h16v8h-16zM832,258h48v8h-48zM904,258h8v8h-8zM920,258h16v8h-16zM832,266h16v8h-16zM880,266h24v8h-24zM928,266h8v8h-8zM832,274h16v8h-16zM920,274h16v8h-16zM832,282h8v8h-8zM920,282h16v8h-16zM832,290h8v8h-8zM928,290h8v8h-8zM832,298h8v8h-8zM928,298h8v8h-8zM832,306h8v8h-8zM936,306h8v8h-8zM824,314h8v8h-8zM936,314h8v8h-8zM816,322h8v8h-8zM936,322h8v8h-8zM808,330h8v8h-8zM936,330h16v8h-16zM800,338h8v8h-8zM944,338h8v8h-8zM792,346h8v8h-8zM784,354h8v8h-8zM760,394h8v8h-8zM752,402h8v8h-8zM720,410h24v8h-24zM712,418h8v8h-8zM712,426h8v8h-8zM544,434h16v8h-16zM704,434h8v8h-8zM880,434h24v8h-24zM416,442h8v8h-8zM704,442h8v8h-8zM880,442h24v8h-24zM880,450h16v8h-16zM216,458h16v8h-16zM456,458h16v8h-16zM520,458h8v8h-8zM712,458h8v8h-8zM256,466h8v8h-8zM448,466h48v8h-48zM512,466h16v8h-16zM712,466h8v8h-8zM448,474h16v8h-16zM712,474h8v8h-8zM456,482h16v8h-16zM496,482h8v8h-8zM232,490h8v8h-8zM472,490h16v8h-16zM704,490h8v8h-8zM224,498h8v8h-8zM440,498h16v8h-16zM704,498h8v8h-8zM224,506h8v8h-8zM456,506h16v8h-16zM464,514h8v8h-8zM712,514h8v8h-8zM232,522h8v8h-8zM728,522h8v8h-8zM416,530h8v8h-8zM744,530h8v8h-8zM888,530h8v8h-8zM408,538h8v8h-8zM752,538h8v8h-8zM872,538h16v8h-16zM256,546h8v8h-8zM296,546h24v8h-24zM368,546h8v8h-8zM408,546h8v8h-8zM760,546h8v8h-8zM840,546h24v8h-24zM328,554h8v8h-8zM376,554h8v8h-8zM408,554h8v8h-8zM768,554h8v8h-8zM824,554h8v8h-8zM384,562h32v8h-32zM784,562h8v8h-8zM816,562h8v8h-8zM464,570h16v8h-16zM792,570h16v8h-16zM512,578h8v8h-8zM528,586h16v8h-16zM536,594h8v8h-8zM544,610h8v8h-8zM544,618h8v8h-8zM544,634h8v8h-8zM544,642h8v8h-8zM536,658h8v8h-8zM528,674h8v8h-8zM512,698h8v8h-8zM504,706h8v8h-8zM496,714h8v8h-8z"/>
<path fill="#ffb2b2" d="M888,162h16v8h-16zM864,170h48v8h-48zM840,178h16v8h-16zM896,178h16v8h-16zM824,186h8v8h-8zM904,186h8v8h-8zM992,186h8v8h-8zM816,194h8v8h-8zM904,194h8v8h-8zM992,194h8v8h-8zM816,202h8v8h-8zM904,202h8v8h-8zM1000,202h8v8h-8zM816,210h8v8h-8zM904,210h8v8h-8zM1008,210h16v8h-16zM816,218h8v8h-8zM896,218h16v8h-16zM1016,218h8v8h-8zM816,226h8v8h-8zM888,226h24v8h-24zM824,234h16v8h-16zM872,234h40v8h-40zM832,242h40v8h-40zM904,242h8v8h-8zM840,250h24v8h-24zM912,250h8v8h-8zM912,258h8v8h-8zM848,266h32v8h-32zM904,266h24v8h-24zM848,274h72v8h-72zM840,282h24v8h-24zM904,282h16v8h-16zM840,290h16v8h-16zM904,290h24v8h-24zM840,298h16v8h-16zM912,298h16v8h-16zM840,306h8v8h-8zM920,306h16v8h-16zM832,314h8v8h-8zM928,314h8v8h-8zM824,322h16v8h-16zM928,322h8v8h-8zM816,330h8v8h-8zM928,330h8v8h-8zM808,338h8v8h-8zM928,338h16v8h-16zM800,346h8v8h-8zM936,346h8v8h-8zM776,370h8v8h-8zM768,386h8v8h-8zM760,402h8v8h-8zM744,410h8v8h-8zM720,418h24v8h-24zM720,426h16v8h-16zM880,426h16v8h-16zM712,434h8v8h-8zM872,434h8v8h-8zM712,442h8v8h-8zM872,442h8v8h-8zM712,450h8v8h-8zM872,450h8v8h-8zM232,458h24v8h-24zM864,458h16v8h-16zM720,466h8v8h-8zM864,466h8v8h-8zM464,474h40v8h-40zM720,474h8v8h-8zM248,482h8v8h-8zM472,482h24v8h-24zM712,482h8v8h-8zM712,490h8v8h-8zM712,498h8v8h-8zM440,506h16v8h-16zM712,506h8v8h-8zM432,514h8v8h-8zM456,514h8v8h-8zM720,514h8v8h-8zM424,522h8v8h-8zM464,522h8v8h-8zM736,522h8v8h-8zM464,530h8v8h-8zM880,530h8v8h-8zM416,538h8v8h-8zM760,538h8v8h-8zM856,538h16v8h-16zM768,546h8v8h-8zM832,546h8v8h-8zM320,554h8v8h-8zM360,554h16v8h-16zM464,554h8v8h-8zM776,554h16v8h-16zM816,554h8v8h-8zM344,562h8v8h-8zM376,562h8v8h-8zM416,562h8v8h-8zM464,562h8v8h-8zM792,562h24v8h-24zM384,570h40v8h-40zM440,570h24v8h-24zM488,578h24v8h-24zM520,586h8v8h-8zM528,594h8v8h-8zM536,602h8v8h-8zM528,666h8v8h-8zM520,682h8v8h-8zM512,690h8v8h-8zM504,698h8v8h-8zM496,706h8v8h-8z"/>
<path fill="#ffbfbf" d="M856,178h40v8h-40zM1008,178h16v8h-16zM832,186h16v8h-16zM880,186h24v8h-24zM1000,186h24v8h-24zM824,194h8v8h-8zM888,194h16v8h-16zM1000,194h24v8h-24zM824,202h8v8h-8zM888,202h16v8h-16zM1008,202h16v8h-16zM824,210h8v8h-8zM888,210h16v8h-16zM824,218h8v8h-8zM880,218h16v8h-16zM824,226h24v8h-24zM864,226h24v8h-24zM840,234h32v8h-32zM864,282h40v8h-40zM856,290h48v8h-48zM856,298h8v8h-8zM896,298h16v8h-16zM848,306h8v8h-8zM912,306h8v8h-8zM840,314h16v8h-16zM920,314h8v8h-8zM840,322h8v8h-8zM912,322h16v8h-16zM824,330h16v8h-16zM912,330h16v8h-16zM816,338h8v8h-8zM920,338h8v8h-8zM808,346h8v8h-8zM928,346h8v8h-8zM792,354h8v8h-8zM920,354h16v8h-16zM784,362h8v8h-8zM920,362h8v8h-8zM776,378h8v8h-8zM768,394h8v8h-8zM752,410h8v8h-8zM744,418h8v8h-8zM736,426h8v8h-8zM872,426h8v8h-8zM720,434h24v8h-24zM864,434h8v8h-8zM864,442h8v8h-8zM720,450h8v8h-8zM856,450h16v8h-16zM720,458h16v8h-16zM856,458h8v8h-8zM208,466h24v8h-24zM248,466h8v8h-8zM728,466h8v8h-8zM856,466h8v8h-8zM248,474h8v8h-8zM728,474h8v8h-8zM720,482h8v8h-8zM224,490h8v8h-8zM720,490h8v8h-8zM720,506h8v8h-8zM224,514h8v8h-8zM440,514h16v8h-16zM728,514h8v8h-8zM880,514h8v8h-8zM432,522h8v8h-8zM456,522h8v8h-8zM872,522h16v8h-16zM424,530h8v8h-8zM752,530h8v8h-8zM864,530h16v8h-16zM464,538h8v8h-8zM768,538h8v8h-8zM832,538h24v8h-24zM248,546h8v8h-8zM416,546h8v8h-8zM464,546h8v8h-8zM776,546h16v8h-16zM816,546h16v8h-16zM280,554h40v8h-40zM416,554h8v8h-8zM792,554h24v8h-24zM328,562h16v8h-16zM352,562h24v8h-24zM424,562h8v8h-8zM456,562h8v8h-8zM376,570h8v8h-8zM424,570h16v8h-16zM384,578h48v8h-48zM440,578h48v8h-48zM536,650h8v8h-8zM520,674h8v8h-8zM512,682h8v8h-8zM504,690h8v8h-8zM496,698h8v8h-8z"/>
<path fill="#ffcccc" d="M848,186h32v8h-32zM832,194h16v8h-16zM864,194h24v8h-24zM832,202h8v8h-8zM872,202h16v8h-16zM832,210h8v8h-8zM872,210h16v8h-16zM832,218h48v8h-48zM848,226h16v8h-16zM864,298h32v8h-32zM856,306h56v8h-56zM856,314h8v8h-8zM896,314h24v8h-24zM848,322h8v8h-8zM904,322h8v8h-8zM840,330h8v8h-8zM904,330h8v8h-8zM824,338h16v8h-16zM904,338h16v8h-16zM816,346h8v8h-8zM912,346h16v8h-16zM800,354h8v8h-8zM912,354h8v8h-8zM912,362h8v8h-8zM904,370h16v8h-16zM896,378h16v8h-16zM776,386h8v8h-8zM896,386h8v8h-8zM880,394h16v8h-16zM768,402h8v8h-8zM880,402h8v8h-8zM760,410h8v8h-8zM872,410h8v8h-8zM752,418h8v8h-8zM744,426h8v8h-8zM864,426h8v8h-8zM744,434h8v8h-8zM720,442h24v8h-24zM856,442h8v8h-8zM728,450h16v8h-16zM848,450h8v8h-8zM736,458h8v8h-8zM848,458h8v8h-8zM232,466h16v8h-16zM736,466h8v8h-8zM848,466h8v8h-8zM208,474h32v8h-32zM736,474h8v8h-8zM848,474h16v8h-16zM216,482h32v8h-32zM728,482h8v8h-8zM840,482h24v8h-24zM216,490h8v8h-8zM728,490h8v8h-8zM216,498h8v8h-8zM720,498h16v8h-16zM728,506h8v8h-8zM872,506h8v8h-8zM864,514h16v8h-16zM440,522h16v8h-16zM744,522h8v8h-8zM856,522h16v8h-16zM432,530h8v8h-8zM456,530h8v8h-8zM848,530h16v8h-16zM240,538h8v8h-8zM424,538h8v8h-8zM456,538h8v8h-8zM776,538h16v8h-16zM816,538h16v8h-16zM792,546h24v8h-24zM272,554h8v8h-8zM424,554h8v8h-8zM456,554h8v8h-8zM320,562h8v8h-8zM432,562h24v8h-24zM368,570h8v8h-8zM376,578h8v8h-8zM432,578h8v8h-8zM392,586h16v8h-16zM416,586h8v8h-8zM512,586h8v8h-8zM520,594h8v8h-8zM536,626h8v8h-8zM536,634h8v8h-8zM528,658h8v8h-8zM520,666h8v8h-8z"/>
<path fill="#ffd9d9" d="M848,194h16v8h-16zM840,202h32v8h-32zM840,210h32v8h-32zM864,314h32v8h-32zM856,322h16v8h-16zM880,322h24v8h-24zM848,330h8v8h-8zM888,330h16v8h-16zM840,338h8v8h-8zM896,338h8v8h-8zM824,346h8v8h-8zM904,346h8v8h-8zM808,354h16v8h-16zM904,354h8v8h-8zM792,362h8v8h-8zM896,362h16v8h-16zM784,370h8v8h-8zM888,370h16v8h-16zM880,378h16v8h-16zM872,386h24v8h-24zM776,394h8v8h-8zM872,394h8v8h-8zM872,402h8v8h-8zM768,410h8v8h-8zM760,418h8v8h-8zM752,426h8v8h-8zM752,434h8v8h-8zM744,442h8v8h-8zM848,442h8v8h-8zM744,450h8v8h-8zM840,450h8v8h-8zM744,458h8v8h-8zM840,458h8v8h-8zM744,466h8v8h-8zM840,466h8v8h-8zM240,474h8v8h-8zM744,474h8v8h-8zM832,474h16v8h-16zM736,482h8v8h-8zM832,482h8v8h-8zM736,490h8v8h-8zM832,490h32v8h-32zM736,498h8v8h-8zM856,498h16v8h-16zM216,506h8v8h-8zM848,506h24v8h-24zM736,514h8v8h-8zM832,514h32v8h-32zM752,522h8v8h-8zM832,522h24v8h-24zM232,530h8v8h-8zM440,530h16v8h-16zM760,530h24v8h-24zM816,530h32v8h-32zM432,538h8v8h-8zM792,538h24v8h-24zM424,546h8v8h-8zM456,546h8v8h-8zM432,554h8v8h-8zM304,562h16v8h-16zM336,570h32v8h-32zM368,578h8v8h-8zM368,586h24v8h-24zM408,586h8v8h-8zM424,586h8v8h-8zM448,586h24v8h-24zM488,586h24v8h-24zM528,602h8v8h-8zM536,610h8v8h-8zM536,618h8v8h-8zM536,642h8v8h-8zM528,650h8v8h-8zM520,658h8v8h-8z"/>
<path fill="#ffe6e6" d="M872,322h8v8h-8zM856,330h32v8h-32zM848,338h16v8h-16zM880,338h16v8h-16zM832,346h24v8h-24zM880,346h24v8h-24zM824,354h16v8h-16zM880,354h24v8h-24zM800,362h16v8h-16zM872,362h24v8h-24zM792,370h8v8h-8zM880,370h8v8h-8zM784,378h8v8h-8zM856,378h8v8h-8zM776,402h8v8h-8zM776,410h8v8h-8zM768,418h8v8h-8zM760,426h8v8h-8zM840,426h8v8h-8zM760,434h8v8h-8zM840,434h8v8h-8zM752,442h8v8h-8zM840,442h8v8h-8zM752,450h8v8h-8zM832,450h8v8h-8zM752,458h8v8h-8zM832,458h8v8h-8zM752,466h8v8h-8zM832,466h8v8h-8zM824,474h8v8h-8zM744,482h8v8h-8zM824,482h8v8h-8zM208,490h8v8h-8zM744,490h8v8h-8zM824,490h8v8h-8zM824,498h32v8h-32zM736,506h8v8h-8zM824,506h24v8h-24zM744,514h8v8h-8zM824,514h8v8h-8zM224,522h8v8h-8zM760,522h8v8h-8zM816,522h16v8h-16zM784,530h32v8h-32zM440,538h16v8h-16zM432,546h8v8h-8zM448,546h8v8h-8zM264,554h8v8h-8zM440,554h8v8h-8zM280,562h24v8h-24zM320,570h16v8h-16zM352,578h16v8h-16zM352,586h16v8h-16zM432,586h16v8h-16zM472,586h16v8h-16zM352,594h32v8h-32zM512,594h8v8h-8zM520,602h8v8h-8z"/>
<path fill="#fff2f2" d="M864,338h16v8h-16zM856,346h24v8h-24zM840,354h40v8h-40zM816,362h56v8h-56zM800,370h8v8h-8zM840,370h24v8h-24zM792,378h8v8h-8zM848,378h8v8h-8zM784,386h8v8h-8zM848,386h8v8h-8zM784,394h8v8h-8zM784,402h8v8h-8zM840,402h8v8h-8zM784,410h8v8h-8zM776,418h8v8h-8zM768,426h8v8h-8zM832,426h8v8h-8zM768,434h8v8h-8zM832,434h8v8h-8zM760,442h16v8h-16zM824,442h16v8h-16zM760,450h8v8h-8zM824,450h8v8h-8zM760,458h8v8h-8zM824,458h8v8h-8zM760,466h8v8h-8zM816,466h16v8h-16zM752,474h8v8h-8zM816,474h8v8h-8zM752,482h8v8h-8zM808,482h16v8h-16zM752,490h8v8h-8zM808,490h16v8h-16zM208,498h8v8h-8zM744,498h8v8h-8zM800,498h24v8h-24zM744,506h8v8h-8zM800,506h24v8h-24zM216,514h8v8h-8zM752,514h16v8h-16zM792,514h32v8h-32zM768,522h48v8h-48zM240,546h8v8h-8zM440,546h8v8h-8zM256,554h8v8h-8zM448,554h8v8h-8zM312,570h8v8h-8zM336,578h16v8h-16zM384,594h48v8h-48zM528,610h8v8h-8zM528,626h8v8h-8zM528,634h8v8h-8zM528,642h8v8h-8zM520,650h8v8h-8z"/>
<path fill="#ffffff" d="M808,370h32v8h-32zM800,378h16v8h-16zM832,378h16v8h-16zM792,386h16v8h-16zM832,386h16v8h-16zM792,394h16v8h-16zM832,394h16v8h-16zM792,402h48v8h-48zM792,410h40v8h-40zM784,418h40v8h-40zM776,426h16v8h-16zM800,426h32v8h-32zM776,434h8v8h-8zM808,434h24v8h-24zM776,442h8v8h-8zM816,442h8v8h-8zM768,450h16v8h-16zM808,450h16v8h-16zM768,458h24v8h-24zM808,458h16v8h-16zM768,466h48v8h-48zM760,474h56v8h-56zM760,482h48v8h-48zM760,490h48v8h-48zM752,498h8v8h-8zM768,498h32v8h-32zM752,506h48v8h-48zM768,514h24v8h-24zM232,538h8v8h-8zM248,554h8v8h-8zM272,562h8v8h-8zM280,570h8v8h-8zM296,570h16v8h-16zM320,578h16v8h-16zM336,586h16v8h-16zM344,594h8v8h-8zM432,594h80v8h-80zM352,602h72v8h-72zM512,602h8v8h-8zM520,610h8v8h-8zM520,618h16v8h-16zM520,626h8v8h-8zM520,634h8v8h-8zM520,642h8v8h-8z"/>
<path fill="#f2f2ff" d="M816,378h16v8h-16zM808,386h24v8h-24zM808,394h24v8h-24zM792,426h8v8h-8zM784,434h24v8h-24zM784,442h8v8h-8zM800,442h16v8h-16zM784,450h24v8h-24zM792,458h16v8h-16zM200,498h8v8h-8zM760,498h8v8h-8zM208,506h8v8h-8zM216,522h8v8h-8zM224,530h8v8h-8zM272,570h8v8h-8zM288,570h8v8h-8zM312,578h8v8h-8zM328,586h8v8h-8zM344,602h8v8h-8zM424,602h64v8h-64zM504,602h8v8h-8zM360,610h56v8h-56zM512,610h8v8h-8zM512,634h8v8h-8zM512,642h8v8h-8z"/>
<path fill="#e6e6ff" d="M792,442h8v8h-8zM208,514h8v8h-8zM232,546h8v8h-8zM256,562h16v8h-16zM304,578h8v8h-8zM320,586h8v8h-8zM336,594h8v8h-8zM488,602h16v8h-16zM352,610h8v8h-8zM416,610h72v8h-72zM360,618h80v8h-80zM456,618h24v8h-24zM512,618h8v8h-8zM408,626h24v8h-24zM512,626h8v8h-8zM488,642h8v8h-8zM432,650h8v8h-8z"/>
<path fill="#d9d9ff" d="M200,506h8v8h-8zM208,522h8v8h-8zM216,530h8v8h-8zM224,538h8v8h-8zM232,554h8v8h-8zM264,570h8v8h-8zM280,578h8v8h-8zM296,578h8v8h-8zM312,586h8v8h-8zM328,594h8v8h-8zM336,602h8v8h-8zM344,610h8v8h-8zM488,610h24v8h-24zM352,618h8v8h-8zM440,618h16v8h-16zM480,618h16v8h-16zM504,618h8v8h-8zM360,626h8v8h-8zM384,626h24v8h-24zM432,626h80v8h-80zM400,634h72v8h-72zM480,634h24v8h-24zM408,642h48v8h-48zM416,650h16v8h-16z"/>
<path fill="#ccccff" d="M200,514h8v8h-8zM200,522h8v8h-8zM208,530h8v8h-8zM224,546h8v8h-8zM272,578h8v8h-8zM288,578h8v8h-8zM304,586h8v8h-8zM320,594h8v8h-8zM336,610h8v8h-8zM344,618h8v8h-8zM496,618h8v8h-8zM352,626h8v8h-8zM408,650h8v8h-8z"/>
<path fill="#bfbfff" d="M216,538h8v8h-8zM264,578h8v8h-8zM288,586h16v8h-16zM328,602h8v8h-8zM328,610h8v8h-8zM336,618h8v8h-8zM352,634h8v8h-8z"/>
<path fill="#b2b2ff" d="M280,586h8v8h-8zM312,594h8v8h-8zM320,602h8v8h-8zM328,618h8v8h-8z"/>
<path fill="#a6a6ff" d="M288,594h24v8h-24zM320,610h8v8h-8z"/>
<path fill="#9999ff" d="M312,602h8v8h-8zM320,618h8v8h-8z"/>
<path fill="#8c8cff" d="M296,602h16v8h-16zM312,610h8v8h-8z"/>
<path fill="#8080ff" d="M304,610h8v8h-8z"/>
<path d="M828.9,130.4h0M834.8,129.4h0M840.7,128.4h0M846.6,127.4h0M852.4,126.3h0M858.3,125.2h0M864.1,124.0h0M818.7,142.0h0M824.6,141.0h0M830.5,140.0h0M836.5,139.0h0M842.4,138.0h0M848.3,137.0h0M854.2,135.9h0M860.1,134.7h0M866.0,133.6h0M871.9,132.4h0M877.8,131.2h0M883.7,130.0h0M826.1,150.6h0M832.1,149.7h0M838.1,148.6h0M844.1,147.6h0M850.0,146.5h0M856.0,145.5h0M861.9,144.3h0M867.9,143.2h0M873.8,142.0h0M879.8,140.8h0M885.7,139.5h0M891.6,138.3h0M821.7,161.2h0M827.7,160.3h0M833.7,159.3h0M839.7,158.3h0M845.8,157.2h0M851.8,156.1h0M857.8,155.0h0M863.8,153.9h0M869.8,152.7h0M875.8,151.5h0M881.7,150.3h0M887.7,149.1h0M893.7,147.8h0M899.6,146.5h0M817.1,171.8h0M823.2,170.9h0M829.2,169.9h0M835.3,168.9h0M841.4,167.9h0M847.5,166.8h0" fill="none" stroke="#b2aeae" stroke-width="4.5" stroke-linecap="round"/>
<path d="M778.9,216.2h0M785.2,215.5h0M791.5,214.7h0M797.8,213.9h0M941.1,186.8h0M397.9,213.4h0M404.2,214.5h0M410.5,215.6h0M773.6,226.6h0M780.0,225.9h0M786.3,225.2h0M792.7,224.4h0M799.0,223.6h0M805.4,222.7h0M931.0,199.3h0M937.3,197.8h0M943.5,196.3h0M949.7,194.7h0M383.5,220.6h0M389.9,221.8h0M396.2,223.0h0M402.5,224.1h0M408.9,225.2h0M415.2,226.3h0M774.7,236.3h0M781.1,235.6h0M787.5,234.8h0M793.9,234.0h0M800.3,233.2h0M806.7,232.4h0M933.3,208.8h0M939.6,207.3h0M945.8,205.7h0M952.1,204.1h0M958.3,202.5h0M375.3,228.9h0M381.7,230.1h0M388.1,231.4h0M394.4,232.5h0M400.8,233.7h0M407.2,234.8h0M413.6,235.9h0M420.0,237.0h0M426.4,238.0h0M432.8,239.0h0M775.8,246.0h0M782.2,245.3h0M788.7,244.5h0M941.9,216.7h0M948.2,215.2h0M954.5,213.6h0M960.8,212.0h0M967.0,210.3h0M973.3,208.7h0M379.8,239.7h0M386.3,240.9h0M392.7,242.1h0M399.1,243.3h0M405.6,244.4h0M412.0,245.5h0M418.5,246.6h0M424.9,247.6h0M431.4,248.6h0M437.8,249.6h0M937.8,227.7h0M944.2,226.2h0M950.5,224.6h0M956.9,223.0h0M963.2,221.4h0M969.5,219.8h0M975.8,218.1h0M982.2,216.4h0M339.3,241.2h0M345.7,242.7h0M352.2,244.0h0M358.6,245.4h0M365.1,246.7h0M371.5,248.0h0M378.0,249.3h0M384.5,250.5h0M390.9,251.7h0M397.4,252.9h0M403.9,254.0h0M410.4,255.1h0M416.9,256.2h0M423.4,257.3h0M429.9,258.3h0M436.4,259.2h0M442.9,260.2h0M817.2,260.5h0M830.2,258.6h0M940.1,237.2h0M946.5,235.7h0M952.9,234.1h0M959.3,232.5h0M965.6,230.9h0M972.0,229.2h0M978.4,227.5h0M984.7,225.8h0M991.1,224.0h0M997.4,222.2h0M330.7,249.3h0M337.2,250.7h0M343.6,252.2h0M350.1,253.6h0M356.6,254.9h0M363.1,256.3h0M369.6,257.6h0M376.1,258.9h0M382.7,260.1h0M389.2,261.3h0M395.7,262.5h0M402.2,263.6h0M408.8,264.8h0M415.3,265.8h0M421.9,266.9h0M428.4,267.9h0M435.0,268.9h0M441.6,269.8h0M792.2,273.6h0M798.8,272.7h0M805.4,271.9h0M811.9,271.0h0M818.5,270.1h0M825.1,269.2h0M831.6,268.2h0M948.8,245.1h0M955.2,243.6h0M961.7,241.9h0M968.1,240.3h0M974.5,238.6h0M980.9,236.9h0M987.3,235.2h0M993.7,233.4h0M328.5,258.8h0M335.0,260.3h0M341.6,261.7h0M348.1,263.1h0M354.6,264.5h0M361.2,265.8h0M367.7,267.2h0M374.3,268.4h0M380.9,269.7h0M387.4,270.9h0M394.0,272.1h0M400.6,273.3h0M407.2,274.4h0M413.8,275.5h0M420.4,276.5h0M427.0,277.5h0M433.6,278.5h0M786.7,284.0h0M793.4,283.2h0M800.0,282.4h0M806.6,281.6h0M813.3,280.7h0M819.9,279.8h0M944.6,256.2h0M951.1,254.6h0M957.6,253.0h0M964.1,251.4h0M970.5,249.7h0M977.0,248.0h0M983.5,246.3h0M989.9,244.6h0M996.3,242.8h0M313.2,265.2h0M319.8,266.8h0M326.3,268.3h0M332.9,269.8h0M339.5,271.2h0M346.1,272.6h0M352.6,274.0h0M359.2,275.4h0M365.8,276.7h0M372.4,278.0h0M379.1,279.3h0M385.7,280.5h0M392.3,281.7h0M398.9,282.9h0M405.6,284.0h0M412.2,285.1h0M418.8,286.1h0M425.5,287.2h0M432.2,288.2h0M438.8,289.1h0M761.1,296.5h0M767.8,295.9h0M774.5,295.2h0M781.2,294.5h0M787.8,293.7h0M794.5,292.9h0M801.2,292.1h0M807.9,291.2h0M814.6,290.3h0M821.2,289.4h0M946.9,265.7h0M953.4,264.1h0M959.9,262.5h0M966.5,260.8h0M973.0,259.2h0M979.5,257.5h0M986.0,255.7h0M992.5,254.0h0M999.0,252.2h0M1005.5,250.3h0M291.2,269.8h0M297.8,271.5h0M304.4,273.1h0M311.0,274.7h0M317.6,276.3h0M324.2,277.8h0M330.8,279.3h0M337.4,280.8h0M344.0,282.2h0M350.7,283.6h0M357.3,285.0h0M363.9,286.3h0M370.6,287.6h0M377.2,288.9h0M383.9,290.1h0M390.6,291.3h0M397.3,292.5h0M403.9,293.6h0M410.6,294.7h0M417.3,295.8h0M424.0,296.8h0M430.7,297.8h0M437.4,298.8h0M444.2,299.7h0M450.9,300.6h0M457.6,301.5h0M464.3,302.3h0M471.1,303.2h0M477.8,303.9h0M728.2,309.1h0M735.0,308.6h0M741.7,308.0h0M748.5,307.5h0M755.3,306.9h0M762.0,306.2h0M768.8,305.6h0M775.5,304.9h0M782.2,304.1h0M789.0,303.4h0M795.7,302.6h0M802.4,301.8h0M809.2,300.9h0M815.9,300.0h0M822.6,299.1h0M949.1,275.2h0M955.7,273.6h0M962.3,271.9h0M968.9,270.3h0M975.4,268.6h0M982.0,266.9h0M295.4,280.9h0M302.1,282.6h0M308.7,284.2h0M315.3,285.7h0M322.0,287.3h0M328.6,288.8h0M335.3,290.3h0M342.0,291.7h0M348.7,293.1h0M355.3,294.5h0M362.0,295.8h0M368.7,297.2h0M375.4,298.4h0M382.2,299.7h0M388.9,300.9h0M395.6,302.1h0M402.3,303.2h0M409.1,304.3h0M415.8,305.4h0M422.6,306.5h0M429.3,307.5h0M436.1,308.4h0M442.8,309.4h0M449.6,310.3h0M456.4,311.2h0M463.1,312.0h0M469.9,312.8h0M476.7,313.6h0M483.5,314.4h0M490.3,315.1h0M497.1,315.8h0M722.1,319.2h0M728.9,318.8h0M735.7,318.3h0M742.5,317.7h0M749.3,317.2h0M756.1,316.6h0M762.9,315.9h0M769.7,315.3h0M776.5,314.6h0M783.3,313.8h0M790.1,313.1h0M796.9,312.3h0M803.6,311.4h0M810.4,310.6h0M944.7,286.2h0M951.4,284.6h0M958.0,283.0h0M964.6,281.4h0M971.3,279.7h0M977.9,278.1h0M984.5,276.3h0M991.1,274.6h0M293.1,290.4h0M299.7,292.0h0M306.4,293.7h0M313.1,295.2h0M319.8,296.8h0M326.5,298.3h0M333.2,299.8h0M339.9,301.3h0M346.7,302.7h0M353.4,304.1h0M360.1,305.4h0M366.9,306.7h0M373.6,308.0h0M380.4,309.3h0M387.2,310.5h0M393.9,311.7h0M400.7,312.8h0M407.5,314.0h0M414.3,315.0h0M421.1,316.1h0M427.9,317.1h0M434.7,318.1h0M441.5,319.1h0M448.3,320.0h0M455.1,320.9h0M462.0,321.7h0M468.8,322.5h0M475.6,323.3h0M482.5,324.1h0M489.3,324.8h0M496.1,325.5h0M729.6,328.5h0M736.5,328.0h0M743.3,327.5h0M750.2,326.9h0M757.0,326.3h0M763.9,325.6h0M770.7,325.0h0M777.5,324.3h0M784.4,323.5h0M791.2,322.8h0M798.0,321.9h0M804.9,321.1h0M811.7,320.2h0M946.9,295.7h0M953.6,294.1h0M960.3,292.5h0M967.0,290.9h0M973.7,289.2h0M980.3,287.5h0M987.0,285.8h0M993.6,284.0h0M290.7,299.8h0M297.4,301.5h0M304.1,303.1h0M310.9,304.7h0M317.6,306.3h0M324.4,307.8h0M331.1,309.3h0M337.9,310.8h0M344.7,312.2h0M351.5,313.6h0M358.2,315.0h0M365.0,316.3h0M371.8,317.6h0M378.7,318.9h0M385.5,320.1h0M392.3,321.3h0M399.1,322.5h0M405.9,323.6h0M412.8,324.7h0M419.6,325.7h0M426.5,326.8h0M433.3,327.8h0M440.2,328.7h0M447.0,329.6h0M453.9,330.5h0M460.8,331.4h0M467.7,332.2h0M474.5,333.0h0M481.4,333.8h0M488.3,334.5h0M495.2,335.2h0M502.1,335.8h0M716.5,339.1h0M723.4,338.7h0M730.3,338.2h0M737.2,337.7h0M744.1,337.2h0M751.0,336.6h0M757.9,336.0h0M764.8,335.4h0M771.7,334.7h0M778.6,334.0h0M785.5,333.2h0M792.3,332.4h0M799.2,331.6h0M806.1,330.8h0M955.9,303.6h0M962.6,302.0h0M969.3,300.3h0M976.1,298.6h0M982.8,296.9h0M989.5,295.2h0M996.1,293.4h0M288.3,309.3h0M295.1,311.0h0M301.9,312.6h0M308.7,314.2h0M315.4,315.8h0M322.2,317.3h0M329.1,318.8h0M335.9,320.3h0M342.7,321.8h0M349.5,323.2h0M356.4,324.5h0M363.2,325.9h0M370.0,327.2h0M376.9,328.5h0M383.8,329.7h0M390.6,330.9h0M397.5,332.1h0M404.4,333.2h0M411.3,334.3h0M418.2,335.4h0M425.0,336.4h0M431.9,337.4h0M438.9,338.4h0M445.8,339.3h0M452.7,340.2h0M459.6,341.1h0M466.5,341.9h0M473.4,342.7h0M480.4,343.4h0M487.3,344.2h0M494.2,344.9h0M501.2,345.5h0M508.1,346.1h0M515.1,346.7h0M522.0,347.3h0M529.0,347.8h0M535.9,348.3h0M710.1,349.3h0M717.1,348.9h0M724.0,348.4h0M731.0,348.0h0M737.9,347.4h0M744.9,346.9h0M751.8,346.3h0M758.8,345.7h0M765.7,345.1h0M772.7,344.4h0M779.6,343.7h0M786.5,342.9h0M793.5,342.1h0M958.1,313.1h0M964.9,311.5h0M971.7,309.8h0M978.5,308.1h0M992.0,304.6h0M279.2,317.0h0M286.0,318.8h0M292.8,320.4h0M299.6,322.1h0M306.4,323.7h0M313.3,325.3h0M320.1,326.9h0M327.0,328.4h0M333.8,329.9h0M340.7,331.3h0M347.6,332.7h0M354.5,334.1h0M361.3,335.5h0M368.2,336.8h0M375.1,338.0h0M382.1,339.3h0M389.0,340.5h0M395.9,341.7h0M402.8,342.8h0M409.7,343.9h0M416.7,345.0h0M423.6,346.1h0M430.6,347.1h0M437.5,348.0h0M444.5,349.0h0M451.4,349.9h0M458.4,350.7h0M465.4,351.6h0M472.4,352.4h0M479.3,353.1h0M486.3,353.9h0M493.3,354.6h0M500.3,355.2h0M507.3,355.9h0M514.3,356.5h0M521.3,357.0h0M528.3,357.5h0M535.3,358.0h0M542.3,358.5h0M549.3,358.9h0M556.3,359.3h0M563.3,359.6h0M570.3,360.0h0M577.3,360.2h0M584.4,360.5h0M661.6,360.9h0M668.6,360.8h0M675.6,360.6h0M682.6,360.3h0M689.6,360.0h0M696.6,359.7h0M703.6,359.4h0M710.7,359.0h0M717.7,358.6h0M724.7,358.2h0M731.7,357.7h0M738.7,357.2h0M745.7,356.6h0M752.7,356.0h0M759.7,355.4h0M766.7,354.8h0M773.6,354.1h0M780.6,353.4h0M787.6,352.6h0M953.6,324.2h0M960.4,322.6h0M967.2,320.9h0M974.0,319.3h0M269.9,324.7h0M276.7,326.5h0M283.6,328.2h0M290.5,329.9h0M297.3,331.6h0M304.2,333.2h0M311.1,334.8h0M318.0,336.4h0M324.9,337.9h0M331.8,339.4h0M338.7,340.9h0M345.6,342.3h0M352.6,343.7h0M359.5,345.0h0M366.4,346.3h0M373.4,347.6h0M380.3,348.9h0M387.3,350.1h0M394.3,351.3h0M401.3,352.4h0M408.2,353.6h0M415.2,354.6h0M422.2,355.7h0M429.2,356.7h0M436.2,357.7h0M443.2,358.6h0M450.2,359.5h0M457.2,360.4h0M464.2,361.3h0M471.3,362.1h0M478.3,362.8h0M485.3,363.6h0M492.4,364.3h0M499.4,364.9h0M506.4,365.6h0M513.5,366.2h0M520.5,366.7h0M527.6,367.3h0M534.6,367.8h0M541.7,368.2h0M548.7,368.6h0M555.8,369.0h0M562.8,369.4h0M569.9,369.7h0M577.0,370.0h0M584.0,370.2h0M591.1,370.4h0M598.2,370.6h0M605.2,370.8h0M612.3,370.9h0M633.5,371.0h0M640.6,371.0h0M647.6,370.9h0M654.7,370.8h0M661.8,370.7h0M668.8,370.5h0M675.9,370.3h0M683.0,370.1h0M690.0,369.8h0M697.1,369.5h0M704.1,369.1h0M711.2,368.8h0M718.3,368.3h0M725.3,367.9h0M732.4,367.4h0M739.4,366.9h0M746.5,366.3h0M753.5,365.8h0M760.5,365.1h0M767.6,364.5h0M774.6,363.8h0M240.0,326.7h0M246.8,328.6h0M253.7,330.5h0M260.6,332.3h0M267.4,334.2h0M274.3,335.9h0M281.2,337.7h0M288.1,339.4h0M295.1,341.1h0M302.0,342.7h0M308.9,344.3h0M315.9,345.9h0M322.8,347.4h0M329.8,348.9h0M336.7,350.4h0M343.7,351.8h0M350.7,353.2h0M357.7,354.6h0M364.6,355.9h0M371.6,357.2h0M378.6,358.5h0M385.7,359.7h0M392.7,360.9h0M399.7,362.1h0M406.7,363.2h0M413.7,364.3h0M420.8,365.3h0M427.8,366.4h0M434.9,367.3h0M441.9,368.3h0M449.0,369.2h0M456.0,370.1h0M463.1,370.9h0M470.2,371.8h0M477.3,372.5h0M484.3,373.3h0M491.4,374.0h0M498.5,374.6h0M505.6,375.3h0M512.7,375.9h0M519.8,376.5h0M526.9,377.0h0M534.0,377.5h0M541.1,377.9h0M548.2,378.4h0M555.3,378.8h0M562.4,379.1h0M569.5,379.4h0M576.6,379.7h0M583.7,380.0h0M590.8,380.2h0M597.9,380.4h0M605.1,380.5h0M612.2,380.6h0M619.3,380.7h0M626.4,380.7h0M633.5,380.7h0M640.6,380.7h0M647.7,380.7h0M654.9,380.6h0M662.0,380.4h0M669.1,380.2h0M676.2,380.0h0M683.3,379.8h0M690.4,379.5h0M697.5,379.2h0M704.6,378.9h0M711.8,378.5h0M718.9,378.1h0M726.0,377.6h0M733.1,377.1h0M740.2,376.6h0M747.2,376.1h0M754.3,375.5h0M761.4,374.8h0M768.5,374.2h0M775.6,373.5h0M223.6,332.1h0M230.4,334.1h0M237.3,336.1h0M244.2,338.0h0M251.1,339.9h0M258.1,341.8h0M265.0,343.6h0M271.9,345.4h0M278.9,347.1h0M285.8,348.9h0M292.8,350.5h0M299.8,352.2h0M306.7,353.8h0M313.7,355.4h0M320.7,356.9h0M327.7,358.5h0M334.7,359.9h0M341.7,361.4h0M348.8,362.8h0M355.8,364.2h0M362.8,365.5h0M369.9,366.8h0M376.9,368.1h0M384.0,369.3h0M391.1,370.5h0M398.1,371.7h0M405.2,372.8h0M412.3,373.9h0M419.4,375.0h0M426.5,376.0h0M433.5,377.0h0M440.6,378.0h0M447.8,378.9h0M454.9,379.8h0M462.0,380.6h0M469.1,381.4h0M476.2,382.2h0M483.3,383.0h0M490.5,383.7h0M497.6,384.4h0M504.7,385.0h0M511.9,385.6h0M519.0,386.2h0M526.2,386.7h0M533.3,387.2h0M540.5,387.7h0M547.6,388.1h0M554.8,388.5h0M561.9,388.9h0M569.1,389.2h0M576.2,389.5h0M583.4,389.7h0M590.6,389.9h0M597.7,390.1h0M604.9,390.3h0M612.0,390.4h0M619.2,390.5h0M626.4,390.5h0M633.5,390.5h0M640.7,390.5h0M647.9,390.4h0M655.0,390.3h0M662.2,390.2h0M669.4,390.0h0M676.5,389.8h0M683.7,389.5h0M690.8,389.3h0M698.0,389.0h0M705.1,388.6h0M712.3,388.2h0M719.5,387.8h0M726.6,387.3h0M733.7,386.9h0M740.9,386.3h0M748.0,385.8h0M755.2,385.2h0M762.3,384.5h0M193.2,333.1h0M200.1,335.3h0M207.0,337.4h0M213.9,339.5h0M220.8,341.5h0M227.7,343.5h0M234.7,345.5h0M241.6,347.4h0M248.6,349.3h0M255.6,351.2h0M262.5,353.0h0M269.5,354.8h0M276.5,356.6h0M283.5,358.3h0M290.5,360.0h0M297.5,361.7h0M304.6,363.3h0M311.6,364.9h0M318.6,366.5h0M325.7,368.0h0M332.7,369.5h0M339.8,370.9h0M346.9,372.4h0M354.0,373.7h0M361.0,375.1h0M368.1,376.4h0M375.2,377.7h0M382.3,378.9h0M389.4,380.1h0M396.6,381.3h0M403.7,382.5h0M410.8,383.6h0M417.9,384.6h0M425.1,385.7h0M432.2,386.7h0M439.4,387.6h0M446.5,388.6h0M453.7,389.5h0M460.8,390.3h0M468.0,391.1h0M475.2,391.9h0M482.3,392.7h0M489.5,393.4h0M496.7,394.1h0M503.9,394.7h0M511.1,395.3h0M518.3,395.9h0M525.5,396.4h0M532.7,396.9h0M539.8,397.4h0M547.0,397.8h0M554.2,398.2h0M561.5,398.6h0M568.7,398.9h0M575.9,399.2h0M583.1,399.5h0M590.3,399.7h0M597.5,399.9h0M604.7,400.0h0M611.9,400.1h0M619.1,400.2h0M626.3,400.2h0M633.6,400.2h0M640.8,400.2h0M648.0,400.2h0M655.2,400.0h0M662.4,399.9h0M669.6,399.7h0M676.8,399.5h0M684.0,399.3h0M691.2,399.0h0M698.4,398.7h0M705.6,398.3h0M712.8,398.0h0M720.0,397.5h0M727.2,397.1h0M734.4,396.6h0M741.6,396.1h0M748.8,395.5h0M756.0,394.9h0M176.5,338.0h0M183.4,340.2h0M190.3,342.4h0M197.2,344.6h0M204.2,346.7h0M211.1,348.8h0M218.1,350.9h0M225.1,352.9h0M232.0,354.9h0M239.0,356.8h0M246.0,358.7h0M253.0,360.6h0M260.1,362.5h0M267.1,364.3h0M274.1,366.1h0M281.2,367.8h0M288.2,369.5h0M295.3,371.2h0M302.4,372.8h0M309.5,374.4h0M316.5,376.0h0M323.6,377.5h0M330.7,379.0h0M337.9,380.5h0M345.0,381.9h0M352.1,383.3h0M359.2,384.7h0M366.4,386.0h0M373.5,387.3h0M380.7,388.5h0M387.8,389.8h0M395.0,390.9h0M402.2,392.1h0M409.3,393.2h0M416.5,394.3h0M423.7,395.3h0M430.9,396.3h0M438.1,397.3h0M445.3,398.2h0M452.5,399.1h0M459.7,400.0h0M466.9,400.8h0M474.1,401.6h0M481.4,402.4h0M488.6,403.1h0M495.8,403.8h0M503.0,404.4h0M510.3,405.0h0M517.5,405.6h0M524.8,406.2h0M532.0,406.7h0M539.2,407.1h0M546.5,407.6h0M553.7,408.0h0M561.0,408.3h0M568.2,408.7h0M575.5,409.0h0M582.8,409.2h0M590.0,409.4h0M597.3,409.6h0M604.5,409.8h0M611.8,409.9h0M619.0,410.0h0M626.3,410.0h0M633.6,410.0h0M640.8,410.0h0M648.1,409.9h0M655.3,409.8h0M662.6,409.7h0M669.9,409.5h0M677.1,409.3h0M684.4,409.0h0M691.6,408.7h0M698.9,408.4h0M706.1,408.1h0M713.4,407.7h0M720.6,407.3h0M727.9,406.8h0M735.1,406.3h0M742.4,405.8h0M173.4,347.3h0M180.4,349.5h0M187.4,351.7h0M194.3,353.9h0M201.3,356.0h0M208.3,358.1h0M215.3,360.2h0M222.4,362.2h0M229.4,364.2h0M236.4,366.2h0M243.5,368.1h0M250.5,370.0h0M257.6,371.9h0M264.7,373.7h0M271.8,375.5h0M278.9,377.3h0M286.0,379.0h0M293.1,380.7h0M300.2,382.3h0M307.3,383.9h0M314.5,385.5h0M321.6,387.1h0M328.8,388.6h0M335.9,390.1h0M343.1,391.5h0M350.3,392.9h0M357.4,394.3h0M364.6,395.6h0M371.8,396.9h0M379.0,398.2h0M386.2,399.4h0M393.4,400.6h0M400.6,401.7h0M407.9,402.8h0M415.1,403.9h0M422.3,405.0h0M429.6,406.0h0M436.8,407.0h0M444.1,407.9h0M451.3,408.8h0M458.6,409.7h0M465.8,410.5h0M473.1,411.3h0M480.4,412.1h0M487.6,412.8h0M494.9,413.5h0M502.2,414.1h0M509.5,414.8h0M516.8,415.3h0M524.0,415.9h0M531.3,416.4h0M538.6,416.9h0M545.9,417.3h0M553.2,417.7h0M560.5,418.1h0M567.8,418.4h0M575.1,418.7h0M582.4,419.0h0M589.7,419.2h0M597.0,419.4h0M604.4,419.5h0M611.7,419.6h0M619.0,419.7h0M626.3,419.7h0M633.6,419.7h0M640.9,419.7h0M648.2,419.7h0M655.5,419.5h0M662.8,419.4h0M670.1,419.2h0M677.4,419.0h0M684.7,418.8h0M692.0,418.5h0M699.3,418.2h0M706.6,417.8h0M170.4,356.6h0M177.4,358.8h0M184.4,361.0h0M191.5,363.2h0M198.5,365.4h0M205.6,367.5h0M212.6,369.6h0M219.7,371.6h0M226.7,373.6h0M233.8,375.6h0M240.9,377.6h0M248.0,379.5h0M255.1,381.3h0M262.3,383.2h0M269.4,385.0h0M276.5,386.7h0M283.7,388.5h0M290.9,390.2h0M298.0,391.8h0M305.2,393.5h0M312.4,395.0h0M319.6,396.6h0M326.8,398.1h0M334.0,399.6h0M341.2,401.1h0M348.4,402.5h0M355.6,403.8h0M362.9,405.2h0M370.1,406.5h0M377.4,407.8h0M384.6,409.0h0M391.9,410.2h0M399.1,411.4h0M406.4,412.5h0M413.7,413.6h0M421.0,414.6h0M428.2,415.6h0M435.5,416.6h0M442.8,417.6h0M450.1,418.5h0M457.4,419.4h0M464.7,420.2h0M472.1,421.0h0M479.4,421.8h0M486.7,422.5h0M494.0,423.2h0M501.3,423.8h0M508.7,424.5h0M516.0,425.1h0M523.3,425.6h0M530.7,426.1h0M538.0,426.6h0M560.1,427.8h0M567.4,428.1h0M574.8,428.4h0M582.1,428.7h0M589.5,428.9h0M596.8,429.1h0M604.2,429.3h0M611.5,429.4h0M618.9,429.5h0M626.2,429.5h0M633.6,429.5h0M641.0,429.5h0M648.3,429.4h0M655.7,429.3h0M663.0,429.2h0M670.4,429.0h0M677.7,428.8h0M685.1,428.5h0M692.4,428.2h0M699.8,427.9h0M181.5,370.3h0M188.6,372.5h0M195.7,374.7h0M202.8,376.8h0M209.9,378.9h0M217.0,381.0h0M224.1,383.0h0M231.2,385.0h0M238.4,387.0h0M245.5,388.9h0M252.7,390.8h0M259.9,392.6h0M267.0,394.4h0M274.2,396.2h0M281.4,398.0h0M288.6,399.7h0M295.8,401.3h0M303.1,403.0h0M310.3,404.6h0M317.5,406.1h0M324.8,407.7h0M332.0,409.2h0M339.3,410.6h0M346.6,412.0h0M353.8,413.4h0M361.1,414.8h0M368.4,416.1h0M375.7,417.4h0M383.0,418.6h0M390.3,419.8h0M397.6,421.0h0M404.9,422.1h0M412.3,423.2h0M419.6,424.3h0M426.9,425.3h0M434.3,426.3h0M441.6,427.2h0M448.9,428.2h0M456.3,429.0h0M463.7,429.9h0M471.0,430.7h0M478.4,431.5h0M485.7,432.2h0M493.1,432.9h0M500.5,433.6h0M507.9,434.2h0M515.3,434.8h0M522.6,435.3h0M530.0,435.8h0M567.0,437.9h0M574.4,438.2h0M581.8,438.4h0M589.2,438.7h0M596.6,438.9h0M604.0,439.0h0M611.4,439.1h0M618.8,439.2h0M626.2,439.2h0M633.6,439.2h0M641.0,439.2h0M648.4,439.1h0M655.8,439.0h0M663.2,438.9h0M670.6,438.7h0M678.0,438.5h0M685.4,438.3h0M692.8,438.0h0M178.6,379.6h0M185.7,381.9h0M192.8,384.0h0M200.0,386.2h0M207.1,388.3h0M214.3,390.4h0M221.5,392.4h0M228.6,394.4h0M235.8,396.4h0M243.0,398.3h0M250.2,400.2h0M257.4,402.1h0M264.7,403.9h0M271.9,405.7h0M279.2,407.4h0M286.4,409.2h0M293.7,410.8h0M300.9,412.5h0M308.2,414.1h0M315.5,415.7h0M322.8,417.2h0M330.1,418.7h0M337.4,420.2h0M344.7,421.6h0M352.0,423.0h0M359.4,424.4h0M366.7,425.7h0M374.0,427.0h0M381.4,428.2h0M388.7,429.4h0M396.1,430.6h0M403.5,431.8h0M410.8,432.9h0M418.2,433.9h0M425.6,435.0h0M433.0,436.0h0M440.4,436.9h0M447.8,437.8h0M455.2,438.7h0M462.6,439.6h0M470.0,440.4h0M477.4,441.2h0M484.8,441.9h0M492.2,442.6h0M499.6,443.3h0M507.1,443.9h0M514.5,444.5h0M521.9,445.1h0M529.4,445.6h0M536.8,446.1h0M544.2,446.5h0M551.7,446.9h0M559.1,447.3h0M566.6,447.6h0M574.0,447.9h0M581.5,448.2h0M588.9,448.4h0M596.4,448.6h0M603.8,448.8h0M611.3,448.9h0M618.7,449.0h0M626.2,449.0h0M633.6,449.0h0M641.1,449.0h0M648.5,448.9h0M656.0,448.8h0M663.4,448.7h0M670.9,448.5h0M678.3,448.3h0M685.8,448.0h0M693.2,447.7h0M700.7,447.4h0" fill="none" stroke="#b2aeae" stroke-width="4.75" stroke-linecap="round"/>
<path d="M175.7,388.9h0M182.8,391.2h0M190.0,393.4h0M197.2,395.5h0M204.4,397.6h0M211.6,399.7h0M218.8,401.8h0M226.0,403.8h0M233.3,405.8h0M240.5,407.7h0M247.8,409.6h0M255.0,411.5h0M262.3,413.3h0M269.6,415.2h0M276.9,416.9h0M284.2,418.6h0M291.5,420.3h0M298.8,422.0h0M306.1,423.6h0M313.5,425.2h0M320.8,426.8h0M328.1,428.3h0M335.5,429.7h0M342.9,431.2h0M350.2,432.6h0M357.6,434.0h0M365.0,435.3h0M372.4,436.6h0M379.8,437.8h0M394.6,440.2h0M402.0,441.4h0M439.1,446.6h0M446.6,447.5h0M454.0,448.4h0M461.5,449.3h0M468.9,450.1h0M476.4,450.9h0M483.9,451.6h0M491.3,452.3h0M498.8,453.0h0M506.3,453.6h0M513.8,454.2h0M521.2,454.8h0M528.7,455.3h0M536.2,455.8h0M543.7,456.2h0M551.2,456.7h0M558.7,457.0h0M566.2,457.4h0M573.7,457.7h0M581.2,457.9h0M588.7,458.2h0M596.1,458.4h0M603.6,458.5h0M611.1,458.6h0M618.7,458.7h0M626.2,458.7h0M633.7,458.7h0M641.2,458.7h0M648.7,458.6h0M656.2,458.5h0M663.7,458.4h0M671.2,458.2h0M678.7,458.0h0M686.1,457.7h0M693.6,457.5h0M701.1,457.1h0M187.2,402.7h0M194.4,404.9h0M201.7,407.0h0M208.9,409.1h0M216.2,411.2h0M223.4,413.2h0M230.7,415.2h0M238.0,417.2h0M245.3,419.1h0M252.6,421.0h0M259.9,422.8h0M267.3,424.6h0M274.6,426.4h0M282.0,428.1h0M289.3,429.8h0M296.7,431.5h0M304.0,433.1h0M311.4,434.7h0M318.8,436.3h0M326.2,437.8h0M333.6,439.3h0M341.0,440.8h0M348.4,442.2h0M355.9,443.5h0M363.3,444.9h0M370.7,446.2h0M378.2,447.5h0M385.6,448.7h0M393.1,449.9h0M400.5,451.0h0M408.0,452.2h0M415.5,453.2h0M422.9,454.3h0M437.9,456.3h0M445.4,457.2h0M482.9,461.3h0M490.4,462.0h0M498.0,462.7h0M505.5,463.3h0M528.1,465.0h0M535.6,465.5h0M543.1,466.0h0M550.7,466.4h0M558.2,466.8h0M565.7,467.1h0M573.3,467.4h0M580.8,467.7h0M588.4,467.9h0M595.9,468.1h0M603.5,468.3h0M611.0,468.4h0M618.6,468.4h0M626.1,468.5h0M633.7,468.5h0M641.2,468.5h0M648.8,468.4h0M656.3,468.3h0M663.9,468.1h0M671.4,468.0h0M679.0,467.7h0M686.5,467.5h0M694.0,467.2h0M701.6,466.9h0M709.1,466.5h0M184.4,412.0h0M191.6,414.2h0M198.9,416.4h0M206.2,418.5h0M213.5,420.6h0M220.8,422.6h0M228.2,424.6h0M235.5,426.6h0M242.9,428.5h0M250.2,430.4h0M257.6,432.3h0M265.0,434.1h0M272.3,435.9h0M279.7,437.6h0M287.1,439.3h0M294.5,441.0h0M302.0,442.7h0M309.4,444.3h0M316.8,445.8h0M324.3,447.4h0M331.7,448.9h0M339.2,450.3h0M346.6,451.8h0M354.1,453.1h0M361.6,454.5h0M369.1,455.8h0M376.5,457.1h0M384.0,458.3h0M391.5,459.5h0M399.1,460.7h0M406.6,461.8h0M414.1,462.9h0M421.6,463.9h0M429.1,465.0h0M436.7,465.9h0M527.4,474.8h0M535.0,475.3h0M542.6,475.7h0M550.2,476.1h0M557.7,476.5h0M565.3,476.8h0M572.9,477.2h0M580.5,477.4h0M588.1,477.7h0M595.7,477.8h0M603.3,478.0h0M610.9,478.1h0M618.5,478.2h0M626.1,478.2h0M633.7,478.2h0M641.3,478.2h0M648.9,478.1h0M656.5,478.0h0M664.1,477.9h0M671.7,477.7h0M679.3,477.5h0M686.9,477.2h0M694.4,476.9h0M702.0,476.6h0M709.6,476.2h0M188.9,423.6h0M196.2,425.7h0M203.5,427.8h0M210.9,429.9h0M218.2,432.0h0M225.6,434.0h0M233.0,436.0h0M240.4,437.9h0M247.8,439.9h0M255.2,441.7h0M262.6,443.6h0M270.1,445.4h0M277.5,447.1h0M285.0,448.9h0M292.4,450.5h0M299.9,452.2h0M307.3,453.8h0M314.8,455.4h0M322.3,456.9h0M329.8,458.4h0M337.3,459.9h0M344.8,461.3h0M352.3,462.7h0M359.9,464.1h0M367.4,465.4h0M374.9,466.7h0M382.5,467.9h0M390.0,469.1h0M397.6,470.3h0M405.1,471.4h0M412.7,472.5h0M420.3,473.6h0M427.9,474.6h0M435.4,475.6h0M511.5,483.4h0M519.1,484.0h0M526.7,484.5h0M534.4,485.0h0M542.0,485.4h0M549.6,485.9h0M557.3,486.2h0M564.9,486.6h0M572.6,486.9h0M580.2,487.2h0M587.8,487.4h0M595.5,487.6h0M603.1,487.7h0M610.8,487.9h0M618.4,487.9h0M626.1,488.0h0M633.7,488.0h0M641.3,488.0h0M649.0,487.9h0M656.6,487.8h0M664.3,487.6h0M671.9,487.5h0M679.6,487.2h0M687.2,487.0h0M694.8,486.7h0M702.5,486.3h0M215.6,441.4h0M223.1,443.4h0M230.5,445.4h0M237.9,447.4h0M245.4,449.3h0M260.3,453.0h0M267.8,454.8h0M275.3,456.6h0M282.8,458.4h0M290.3,460.1h0M297.8,461.7h0M305.3,463.3h0M312.8,464.9h0M320.4,466.5h0M327.9,468.0h0M335.5,469.5h0M343.0,470.9h0M350.6,472.3h0M358.2,473.7h0M365.7,475.0h0M373.3,476.3h0M380.9,477.6h0M388.5,478.8h0M396.1,480.0h0M403.7,481.1h0M411.3,482.2h0M419.0,483.3h0M426.6,484.3h0M434.2,485.3h0M441.8,486.2h0M503.1,492.5h0M510.7,493.1h0M518.4,493.7h0M526.1,494.2h0M533.8,494.7h0M541.4,495.2h0M549.1,495.6h0M556.8,496.0h0M564.5,496.3h0M572.2,496.6h0M579.9,496.9h0M587.6,497.1h0M595.3,497.3h0M602.9,497.5h0M610.6,497.6h0M618.3,497.7h0M626.0,497.7h0M633.7,497.7h0M641.4,497.7h0M649.1,497.6h0M656.8,497.5h0M664.5,497.4h0M672.2,497.2h0M679.9,497.0h0M687.6,496.7h0M695.3,496.4h0M702.9,496.1h0M213.1,450.8h0M220.5,452.8h0M228.0,454.8h0M265.5,464.3h0M273.1,466.1h0M280.6,467.9h0M288.1,469.6h0M295.7,471.2h0M303.3,472.9h0M310.8,474.5h0M318.4,476.0h0M326.0,477.6h0M333.6,479.1h0M341.2,480.5h0M348.8,481.9h0M356.5,483.3h0M364.1,484.6h0M371.7,485.9h0M379.4,487.2h0M387.0,488.4h0M394.6,489.6h0M402.3,490.7h0M410.0,491.8h0M417.6,492.9h0M425.3,494.0h0M433.0,495.0h0M456.0,497.7h0M463.7,498.6h0M494.6,501.6h0M502.3,502.2h0M510.0,502.8h0M517.7,503.4h0M525.4,503.9h0M533.2,504.4h0M540.9,504.9h0M548.6,505.3h0M556.3,505.7h0M564.1,506.1h0M571.8,506.4h0M579.6,506.7h0M587.3,506.9h0M595.0,507.1h0M602.8,507.2h0M610.5,507.4h0M618.3,507.4h0M626.0,507.5h0M633.7,507.5h0M641.5,507.5h0M649.2,507.4h0M657.0,507.3h0M664.7,507.1h0M672.4,507.0h0M680.2,506.7h0M687.9,506.5h0M695.7,506.2h0M703.4,505.8h0M270.8,475.6h0M278.4,477.4h0M286.0,479.1h0M293.6,480.8h0M301.2,482.4h0M308.9,484.0h0M316.5,485.6h0M324.1,487.1h0M331.8,488.6h0M339.4,490.1h0M347.1,491.5h0M354.7,492.9h0M362.4,494.2h0M370.1,495.5h0M377.8,496.8h0M385.5,498.0h0M393.2,499.2h0M400.9,500.4h0M408.6,501.5h0M416.3,502.6h0M424.0,503.6h0M431.7,504.6h0M439.5,505.6h0M486.0,510.6h0M493.7,511.3h0M501.5,511.9h0M509.2,512.5h0M517.0,513.1h0M524.8,513.7h0M532.5,514.2h0M540.3,514.6h0M548.1,515.1h0M555.9,515.5h0M563.7,515.8h0M571.4,516.1h0M579.2,516.4h0M587.0,516.6h0M594.8,516.8h0M602.6,517.0h0M610.4,517.1h0M618.2,517.2h0M626.0,517.2h0M633.8,517.2h0M641.5,517.2h0M649.3,517.1h0M657.1,517.0h0M664.9,516.9h0M672.7,516.7h0M680.5,516.5h0M688.3,516.2h0M696.1,515.9h0M703.8,515.6h0M711.6,515.2h0M261.0,483.3h0M268.6,485.1h0M276.2,486.9h0M283.9,488.6h0M291.5,490.3h0M299.2,491.9h0M306.9,493.6h0M314.5,495.1h0M322.2,496.7h0M329.9,498.2h0M337.6,499.7h0M345.3,501.1h0M353.0,502.5h0M360.8,503.8h0M368.5,505.2h0M376.2,506.4h0M384.0,507.7h0M391.7,508.9h0M399.5,510.0h0M407.2,511.2h0M415.0,512.2h0M422.7,513.3h0M485.1,520.3h0M492.9,521.0h0M500.7,521.6h0M508.5,522.3h0M516.3,522.9h0M524.1,523.4h0M531.9,523.9h0M539.8,524.4h0M547.6,524.8h0M555.4,525.2h0M563.2,525.6h0M571.1,525.9h0M578.9,526.1h0M586.7,526.4h0M594.6,526.6h0M602.4,526.7h0M610.3,526.9h0M618.1,526.9h0M625.9,527.0h0M633.8,527.0h0M641.6,527.0h0M649.4,526.9h0M657.3,526.8h0M665.1,526.6h0M673.0,526.4h0M680.8,526.2h0M688.6,526.0h0M696.5,525.7h0M704.3,525.3h0M712.1,524.9h0M719.9,524.5h0M727.8,524.0h0M251.0,490.9h0M258.7,492.8h0M266.4,494.6h0M274.1,496.4h0M281.8,498.1h0M289.5,499.8h0M297.2,501.5h0M304.9,503.1h0M312.6,504.7h0M320.3,506.3h0M328.1,507.8h0M335.8,509.2h0M343.6,510.7h0M351.3,512.1h0M359.1,513.4h0M366.9,514.8h0M374.7,516.1h0M382.4,517.3h0M390.2,518.5h0M398.0,519.7h0M405.8,520.8h0M413.7,521.9h0M421.5,523.0h0M476.3,529.2h0M484.2,530.0h0M492.0,530.7h0M499.9,531.4h0M507.7,532.0h0M515.6,532.6h0M523.5,533.1h0M531.3,533.6h0M539.2,534.1h0M547.1,534.5h0M555.0,534.9h0M562.8,535.3h0M570.7,535.6h0M578.6,535.9h0M586.5,536.1h0M594.4,536.3h0M602.2,536.5h0M610.1,536.6h0M618.0,536.7h0M625.9,536.7h0M633.8,536.7h0M641.7,536.7h0M649.6,536.6h0M657.4,536.5h0M665.3,536.4h0M673.2,536.2h0M681.1,536.0h0M689.0,535.7h0M696.9,535.4h0M704.7,535.0h0M712.6,534.7h0M720.5,534.2h0M728.4,533.8h0M736.2,533.3h0M241.0,498.5h0M248.7,500.4h0M256.4,502.3h0M264.2,504.1h0M271.9,505.9h0M279.6,507.6h0M287.4,509.3h0M295.1,511.0h0M302.9,512.7h0M310.7,514.3h0M318.4,515.8h0M326.2,517.3h0M334.0,518.8h0M341.8,520.3h0M349.6,521.7h0M357.4,523.1h0M365.3,524.4h0M373.1,525.7h0M380.9,526.9h0M388.8,528.1h0M396.6,529.3h0M404.5,530.5h0M412.3,531.6h0M483.3,539.7h0M491.2,540.4h0M499.1,541.1h0M507.0,541.7h0M514.9,542.3h0M522.8,542.9h0M530.7,543.4h0M538.6,543.8h0M546.6,544.3h0M554.5,544.7h0M562.4,545.0h0M570.3,545.4h0M578.3,545.6h0M586.2,545.9h0M594.1,546.1h0M602.1,546.2h0M610.0,546.4h0M617.9,546.4h0M625.9,546.5h0M633.8,546.5h0M641.7,546.5h0M649.7,546.4h0M657.6,546.3h0M665.5,546.1h0M673.5,545.9h0M681.4,545.7h0M689.3,545.4h0M697.3,545.1h0M705.2,544.8h0M713.1,544.4h0M721.0,544.0h0M729.0,543.5h0M736.9,543.0h0M744.8,542.5h0M238.7,507.9h0M246.4,509.9h0M254.2,511.7h0M261.9,513.6h0M269.7,515.4h0M277.5,517.1h0M285.3,518.9h0M293.1,520.6h0M300.9,522.2h0M308.7,523.8h0M316.5,525.4h0M324.4,526.9h0M332.2,528.4h0M340.1,529.9h0M347.9,531.3h0M355.8,532.7h0M363.7,534.0h0M371.5,535.3h0M379.4,536.6h0M387.3,537.8h0M395.2,539.0h0M403.1,540.1h0M482.4,549.4h0M490.3,550.1h0M498.3,550.8h0M506.2,551.4h0M514.2,552.0h0M522.2,552.6h0M530.1,553.1h0M538.1,553.6h0M546.1,554.0h0M554.0,554.4h0M562.0,554.8h0M570.0,555.1h0M578.0,555.4h0M585.9,555.6h0M593.9,555.8h0M601.9,556.0h0M609.9,556.1h0M617.9,556.2h0M625.8,556.2h0M633.8,556.2h0M641.8,556.2h0M649.8,556.1h0M657.8,556.0h0M665.7,555.9h0M673.7,555.7h0M681.7,555.5h0M689.7,555.2h0M697.7,554.9h0M705.6,554.5h0M713.6,554.1h0M721.6,553.7h0M729.6,553.2h0M737.5,552.7h0M745.5,552.2h0M236.3,517.4h0M244.1,519.3h0M251.9,521.2h0M259.7,523.1h0M267.5,524.9h0M275.4,526.7h0M283.2,528.4h0M291.1,530.1h0M298.9,531.7h0M306.8,533.4h0M314.6,534.9h0M322.5,536.5h0M330.4,538.0h0M338.3,539.5h0M346.2,540.9h0M354.1,542.3h0M362.0,543.6h0M370.0,544.9h0M481.5,559.1h0M489.5,559.8h0M497.5,560.5h0M505.5,561.2h0M513.5,561.8h0M521.5,562.3h0M529.5,562.8h0M537.5,563.3h0M545.5,563.8h0M553.6,564.2h0M561.6,564.5h0M569.6,564.8h0M577.6,565.1h0M585.7,565.4h0M593.7,565.6h0M601.7,565.7h0M609.7,565.9h0M617.8,565.9h0M625.8,566.0h0M633.8,566.0h0M641.9,566.0h0M649.9,565.9h0M657.9,565.8h0M666.0,565.6h0M674.0,565.4h0M682.0,565.2h0M690.0,564.9h0M698.1,564.6h0M706.1,564.3h0M714.1,563.9h0M722.1,563.4h0M730.1,563.0h0M738.2,562.5h0M746.2,561.9h0M754.2,561.3h0M881.8,546.6h0M241.8,528.8h0M249.6,530.7h0M257.5,532.6h0M265.4,534.4h0M273.2,536.2h0M281.1,537.9h0M289.0,539.6h0M312.8,544.5h0M328.6,547.6h0M336.6,549.0h0M344.5,550.5h0M352.5,551.9h0M480.6,568.8h0M488.6,569.5h0M496.7,570.2h0M504.7,570.9h0M512.8,571.5h0M520.8,572.0h0M528.9,572.6h0M537.0,573.0h0M545.0,573.5h0M553.1,573.9h0M561.2,574.3h0M569.2,574.6h0M577.3,574.9h0M585.4,575.1h0M593.5,575.3h0M601.5,575.5h0M609.6,575.6h0M617.7,575.7h0M625.8,575.7h0M633.9,575.7h0M641.9,575.7h0M650.0,575.6h0M658.1,575.5h0M666.2,575.4h0M674.2,575.2h0M682.3,574.9h0M690.4,574.7h0M698.5,574.4h0M706.5,574.0h0M714.6,573.6h0M722.7,573.2h0M730.7,572.7h0M738.8,572.2h0M746.9,571.6h0M754.9,571.1h0M763.0,570.4h0M827.3,563.9h0M835.3,563.0h0M843.3,561.9h0M851.3,560.9h0M859.3,559.7h0M867.3,558.6h0M875.3,557.4h0M883.3,556.2h0M891.3,554.9h0M899.2,553.6h0M907.2,552.3h0M255.3,542.1h0M263.2,543.9h0M271.1,545.7h0M350.8,561.5h0M536.4,582.8h0M544.5,583.2h0M552.6,583.6h0M560.8,584.0h0M568.9,584.3h0M577.0,584.6h0M585.1,584.9h0M593.2,585.1h0M601.4,585.2h0M609.5,585.4h0M617.6,585.4h0M625.7,585.5h0M633.9,585.5h0M642.0,585.5h0M650.1,585.4h0M658.3,585.3h0M666.4,585.1h0M674.5,584.9h0M682.6,584.7h0M690.7,584.4h0M698.9,584.1h0M707.0,583.7h0M715.1,583.4h0M723.2,582.9h0M731.3,582.4h0M739.4,581.9h0M747.6,581.4h0M755.7,580.8h0M763.8,580.1h0M771.9,579.5h0M780.0,578.7h0M820.4,574.6h0M828.4,573.6h0M836.5,572.6h0M844.6,571.6h0M852.6,570.5h0M860.7,569.4h0M868.7,568.2h0M876.8,567.1h0M884.8,565.8h0M892.8,564.6h0M900.8,563.2h0M908.8,561.9h0M544.0,593.0h0M552.2,593.4h0M560.3,593.7h0M568.5,594.1h0M576.7,594.4h0M584.8,594.6h0M593.0,594.8h0M601.2,595.0h0M609.4,595.1h0M617.5,595.2h0M625.7,595.2h0M633.9,595.2h0M642.1,595.2h0M650.2,595.1h0M658.4,595.0h0M666.6,594.9h0M674.8,594.7h0M682.9,594.4h0M691.1,594.2h0M699.3,593.8h0M707.4,593.5h0M715.6,593.1h0M723.8,592.7h0M731.9,592.2h0M740.1,591.7h0M748.2,591.1h0M756.4,590.5h0M764.5,589.9h0M772.7,589.2h0M780.8,588.5h0M789.0,587.7h0M797.1,586.9h0M805.2,586.1h0M813.4,585.2h0M821.5,584.3h0M829.6,583.3h0M837.7,582.3h0M845.8,581.3h0M853.9,580.2h0M862.0,579.1h0M870.1,577.9h0M878.2,576.7h0M886.3,575.5h0M894.4,574.2h0M551.7,603.1h0M559.9,603.5h0M568.1,603.8h0M576.4,604.1h0M584.6,604.4h0M592.8,604.6h0M601.0,604.7h0M609.2,604.9h0M617.5,604.9h0M625.7,605.0h0M633.9,605.0h0M642.1,605.0h0M650.4,604.9h0M658.6,604.8h0M666.8,604.6h0M675.0,604.4h0M683.2,604.2h0M691.5,603.9h0M699.7,603.6h0M707.9,603.2h0M716.1,602.8h0M724.3,602.4h0M732.5,601.9h0M740.7,601.4h0M748.9,600.8h0M757.1,600.2h0M765.3,599.6h0M773.5,598.9h0M781.7,598.2h0M789.9,597.4h0M798.1,596.6h0M806.3,595.8h0M814.4,594.9h0M822.6,593.9h0M830.8,593.0h0M838.9,592.0h0M847.1,590.9h0M855.2,589.8h0M863.4,588.7h0M871.5,587.5h0M879.7,586.3h0M887.8,585.1h0M895.9,583.8h0M904.0,582.5h0M912.1,581.1h0M559.5,613.2h0M567.8,613.6h0M576.0,613.8h0M584.3,614.1h0M592.6,614.3h0M600.8,614.5h0M609.1,614.6h0M617.4,614.7h0M625.7,614.7h0M633.9,614.7h0M642.2,614.7h0M650.5,614.6h0M658.7,614.5h0M667.0,614.4h0M675.3,614.2h0M683.5,613.9h0M691.8,613.6h0M700.1,613.3h0M708.3,613.0h0M716.6,612.6h0M724.9,612.1h0M733.1,611.6h0M741.4,611.1h0M749.6,610.5h0M757.9,609.9h0M766.1,609.3h0M774.4,608.6h0M782.6,607.9h0M790.8,607.1h0M799.1,606.3h0M807.3,605.5h0M815.5,604.6h0M823.7,603.6h0M831.9,602.7h0M840.2,601.6h0M848.4,600.6h0M856.6,599.5h0M864.8,598.4h0M872.9,597.2h0M881.1,596.0h0M889.3,594.7h0M897.5,593.4h0M905.6,592.1h0M913.8,590.7h0M559.1,623.0h0M567.4,623.3h0M575.7,623.6h0M584.0,623.8h0M592.3,624.1h0M600.7,624.2h0M609.0,624.4h0M617.3,624.4h0M625.6,624.5h0M633.9,624.5h0M642.3,624.5h0M650.6,624.4h0M658.9,624.3h0M667.2,624.1h0M675.5,623.9h0M683.8,623.7h0M692.2,623.4h0M700.5,623.1h0M708.8,622.7h0M717.1,622.3h0M725.4,621.9h0M733.7,621.4h0M742.0,620.8h0M750.3,620.3h0M758.6,619.7h0M766.9,619.0h0M775.2,618.3h0M783.5,617.6h0M791.8,616.8h0M800.0,616.0h0M808.3,615.1h0M816.6,614.3h0M824.9,613.3h0M833.1,612.3h0M841.4,611.3h0M849.6,610.3h0M857.9,609.2h0M866.1,608.0h0M874.3,606.8h0M882.6,605.6h0M890.8,604.4h0M899.0,603.1h0M907.2,601.7h0M915.4,600.3h0M558.7,632.7h0M567.0,633.0h0M575.4,633.3h0M583.8,633.6h0M592.1,633.8h0M600.5,634.0h0M608.9,634.1h0M617.2,634.2h0M625.6,634.2h0M634.0,634.2h0M642.3,634.2h0M650.7,634.1h0M659.1,634.0h0M667.4,633.9h0M675.8,633.7h0M684.2,633.4h0M692.5,633.1h0M700.9,632.8h0M709.2,632.4h0M717.6,632.0h0M726.0,631.6h0M734.3,631.1h0M742.7,630.6h0M751.0,630.0h0M759.3,629.4h0M767.7,628.7h0M776.0,628.0h0M784.4,627.3h0M792.7,626.5h0M801.0,625.7h0M809.3,624.8h0M817.7,623.9h0M826.0,623.0h0M834.3,622.0h0M842.6,621.0h0M850.9,619.9h0M859.2,618.8h0M867.5,617.7h0M875.8,616.5h0M884.0,615.3h0M892.3,614.0h0M900.6,612.7h0M908.8,611.3h0M917.1,609.9h0M558.3,642.4h0M566.7,642.8h0M575.1,643.1h0M583.5,643.3h0M591.9,643.6h0M600.3,643.7h0M608.7,643.9h0M617.1,643.9h0M625.6,644.0h0M634.0,644.0h0M642.4,644.0h0M650.8,643.9h0M659.2,643.8h0M667.6,643.6h0M676.0,643.4h0M684.5,643.2h0M692.9,642.9h0M701.3,642.6h0M709.7,642.2h0M718.1,641.8h0M726.5,641.3h0M734.9,640.8h0M743.3,640.3h0M751.7,639.7h0M760.1,639.1h0M768.5,638.4h0M776.9,637.7h0M785.2,637.0h0M793.6,636.2h0M802.0,635.4h0M810.4,634.5h0M818.7,633.6h0M827.1,632.7h0M835.5,631.7h0M843.8,630.7h0M852.2,629.6h0M860.5,628.5h0M868.8,627.3h0M877.2,626.1h0M885.5,624.9h0M893.8,623.6h0M902.1,622.3h0M557.8,652.2h0M566.3,652.5h0M574.8,652.8h0M583.2,653.1h0M591.7,653.3h0M600.1,653.5h0M608.6,653.6h0M617.1,653.7h0M625.5,653.7h0M634.0,653.7h0M642.5,653.7h0M650.9,653.6h0M659.4,653.5h0M667.8,653.4h0M676.3,653.2h0M684.8,652.9h0M693.2,652.6h0M701.7,652.3h0M710.1,651.9h0M718.6,651.5h0M727.0,651.1h0M735.5,650.6h0M743.9,650.0h0M752.4,649.4h0M760.8,648.8h0M769.3,648.2h0M777.7,647.5h0M786.1,646.7h0M794.6,645.9h0M803.0,645.1h0M811.4,644.2h0M819.8,643.3h0M828.2,642.4h0M836.6,641.4h0M845.0,640.3h0M853.4,639.3h0M861.8,638.1h0M870.2,637.0h0M878.6,635.8h0M886.9,634.5h0M895.3,633.3h0M903.7,631.9h0M548.9,661.5h0M557.4,661.9h0M565.9,662.3h0M574.4,662.6h0M582.9,662.8h0M591.5,663.0h0M600.0,663.2h0M608.5,663.4h0M617.0,663.4h0M625.5,663.5h0M634.0,663.5h0M642.5,663.5h0M651.0,663.4h0M659.5,663.3h0M668.1,663.1h0M676.6,662.9h0M685.1,662.7h0M693.6,662.4h0M702.1,662.0h0M710.6,661.7h0M719.1,661.2h0M727.6,660.8h0M736.1,660.3h0M744.6,659.8h0M753.1,659.2h0M761.6,658.6h0M770.0,657.9h0M778.5,657.2h0M787.0,656.4h0M795.5,655.6h0M804.0,654.8h0M812.4,653.9h0M820.9,653.0h0M829.3,652.1h0M837.8,651.1h0M846.2,650.0h0M854.7,648.9h0M863.1,647.8h0M871.6,646.6h0M880.0,645.4h0M888.4,644.2h0M896.8,642.9h0M539.9,670.9h0M548.5,671.3h0M557.0,671.7h0M565.6,672.0h0M574.1,672.3h0M582.7,672.6h0M591.2,672.8h0M599.8,673.0h0M608.3,673.1h0M616.9,673.2h0M625.5,673.2h0M634.0,673.2h0M642.6,673.2h0M651.1,673.1h0M659.7,673.0h0M668.3,672.8h0M676.8,672.6h0M685.4,672.4h0M693.9,672.1h0M702.5,671.8h0M711.0,671.4h0M719.6,671.0h0M728.1,670.5h0M736.7,670.0h0M745.2,669.5h0M753.8,668.9h0M762.3,668.3h0M770.8,667.6h0M779.4,666.9h0M787.9,666.1h0M796.4,665.3h0M804.9,664.5h0M813.4,663.6h0M822.0,662.7h0M830.5,661.7h0M839.0,660.7h0M847.5,659.7h0M855.9,658.6h0M864.4,657.5h0M872.9,656.3h0M881.4,655.1h0M889.9,653.8h0M539.4,680.6h0M548.0,681.0h0M556.6,681.4h0M565.2,681.8h0M573.8,682.1h0M582.4,682.3h0M591.0,682.5h0M599.6,682.7h0M608.2,682.9h0M616.8,682.9h0M625.4,683.0h0M634.0,683.0h0M642.7,683.0h0M651.3,682.9h0M659.9,682.8h0M668.5,682.6h0M677.1,682.4h0M685.7,682.1h0M694.3,681.9h0M702.9,681.5h0M711.5,681.1h0M720.1,680.7h0M728.7,680.3h0M737.3,679.8h0M745.9,679.2h0M754.5,678.6h0M763.0,678.0h0M771.6,677.3h0M780.2,676.6h0M788.8,675.8h0M797.3,675.0h0M805.9,674.2h0M814.5,673.3h0M823.0,672.4h0M831.6,671.4h0M840.1,670.4h0M848.7,669.4h0M857.2,668.3h0M865.7,667.1h0M874.3,665.9h0M882.8,664.7h0M891.3,663.5h0M538.9,690.3h0M547.5,690.8h0M556.2,691.2h0M564.8,691.5h0M573.5,691.8h0M582.1,692.1h0M590.8,692.3h0M599.4,692.5h0M608.1,692.6h0M616.7,692.7h0M625.4,692.7h0M634.1,692.7h0M642.7,692.7h0M651.4,692.6h0M660.0,692.5h0M668.7,692.3h0M677.3,692.1h0M686.0,691.9h0M694.6,691.6h0M703.3,691.3h0M711.9,690.9h0M720.6,690.5h0M729.2,690.0h0M737.9,689.5h0M746.5,688.9h0M755.1,688.4h0M763.8,687.7h0M772.4,687.0h0M781.0,686.3h0M789.7,685.6h0M798.3,684.8h0M806.9,683.9h0M815.5,683.0h0M824.1,682.1h0M832.7,681.1h0M841.3,680.1h0M849.9,679.0h0M858.5,677.9h0M867.1,676.8h0M875.6,675.6h0M884.2,674.4h0" fill="none" stroke="#b2aeae" stroke-width="5" stroke-linecap="round"/>
<path d="M521.0,699.1h0M529.7,699.6h0M538.4,700.1h0M547.1,700.5h0M555.8,700.9h0M564.5,701.2h0M573.2,701.6h0M581.9,701.8h0M590.6,702.0h0M599.3,702.2h0M608.0,702.3h0M616.7,702.4h0M625.4,702.5h0M634.1,702.5h0M642.8,702.5h0M651.5,702.4h0M660.2,702.3h0M668.9,702.1h0M677.6,701.9h0M686.3,701.6h0M695.0,701.3h0M703.7,701.0h0M712.4,700.6h0M721.1,700.2h0M729.8,699.7h0M738.5,699.2h0M747.1,698.7h0M755.8,698.1h0M764.5,697.4h0M773.2,696.8h0M781.9,696.0h0M790.5,695.3h0M799.2,694.5h0M807.9,693.6h0M816.5,692.7h0M825.2,691.8h0M833.8,690.8h0M842.5,689.8h0M851.1,688.7h0M859.7,687.6h0M868.4,686.5h0M877.0,685.3h0M520.4,708.8h0M529.1,709.3h0M537.9,709.8h0M546.6,710.2h0M555.3,710.6h0M564.1,711.0h0M572.8,711.3h0M581.6,711.6h0M590.3,711.8h0M599.1,712.0h0M607.8,712.1h0M616.6,712.2h0M625.3,712.2h0M634.1,712.2h0M642.8,712.2h0M651.6,712.1h0M660.4,712.0h0M669.1,711.8h0M677.9,711.6h0M686.6,711.4h0M695.3,711.1h0M704.1,710.7h0M712.8,710.4h0M721.6,709.9h0M730.3,709.5h0M739.1,709.0h0M747.8,708.4h0M756.5,707.8h0M765.3,707.2h0M774.0,706.5h0M782.7,705.7h0M791.4,705.0h0M800.1,704.2h0M808.8,703.3h0M817.5,702.4h0M826.3,701.5h0M834.9,700.5h0M843.6,699.5h0M852.3,698.4h0M861.0,697.3h0M869.7,696.1h0M519.8,718.5h0M528.6,719.1h0M537.3,719.5h0M546.1,720.0h0M554.9,720.4h0M563.7,720.7h0M572.5,721.0h0M581.3,721.3h0M590.1,721.5h0M598.9,721.7h0M607.7,721.8h0M616.5,721.9h0M625.3,722.0h0M634.1,722.0h0M642.9,722.0h0M651.7,721.9h0M660.5,721.8h0M669.3,721.6h0M678.1,721.4h0M686.9,721.1h0M695.7,720.8h0M704.5,720.5h0M713.3,720.1h0M722.1,719.7h0M730.9,719.2h0M739.7,718.7h0M748.4,718.1h0M757.2,717.5h0M766.0,716.9h0M774.8,716.2h0M783.5,715.5h0M792.3,714.7h0M801.1,713.9h0M809.8,713.0h0M818.6,712.1h0M827.3,711.2h0M836.1,710.2h0M844.8,709.1h0M853.5,708.1h0M862.3,706.9h0M519.2,728.3h0M528.0,728.8h0M536.8,729.3h0M545.7,729.7h0M554.5,730.1h0M563.4,730.5h0M572.2,730.8h0M581.0,731.1h0M589.9,731.3h0M598.7,731.5h0M607.6,731.6h0M616.4,731.7h0M625.3,731.7h0M634.1,731.7h0M643.0,731.7h0M651.8,731.6h0M660.7,731.5h0M669.5,731.3h0M678.4,731.1h0M687.2,730.9h0M696.1,730.6h0M704.9,730.2h0M713.7,729.8h0M722.6,729.4h0M731.4,728.9h0M740.2,728.4h0M749.1,727.9h0M757.9,727.3h0M766.7,726.6h0M775.6,725.9h0M784.4,725.2h0M793.2,724.4h0M802.0,723.6h0M810.8,722.7h0M819.6,721.8h0M828.4,720.8h0M837.2,719.9h0M846.0,718.8h0M527.4,738.5h0M536.3,739.0h0M545.2,739.5h0M554.1,739.9h0M563.0,740.2h0M571.9,740.5h0M580.8,740.8h0M589.7,741.0h0M598.6,741.2h0M607.5,741.3h0M616.4,741.4h0M625.2,741.5h0M634.1,741.5h0M651.9,741.4h0M660.8,741.3h0M669.7,741.1h0M678.6,740.9h0M687.5,740.6h0M696.4,740.3h0M705.3,740.0h0M714.2,739.6h0M723.1,739.1h0M732.0,738.7h0M740.8,738.2h0M749.7,737.6h0M758.6,737.0h0M767.5,736.3h0M776.3,735.6h0M785.2,734.9h0M794.1,734.1h0M802.9,733.3h0M811.8,732.4h0M820.6,731.5h0M829.5,730.5h0M838.3,729.5h0M526.9,748.3h0M535.8,748.7h0M544.7,749.2h0M553.7,749.6h0M562.6,750.0h0M571.6,750.3h0M589.4,750.8h0M607.3,751.1h0M661.0,751.0h0M669.9,750.8h0M678.9,750.6h0M687.8,750.4h0M696.8,750.1h0M705.7,749.7h0M714.6,749.3h0M723.6,748.9h0M732.5,748.4h0M741.4,747.9h0M750.4,747.3h0M759.3,746.7h0M768.2,746.0h0M777.1,745.3h0M786.0,744.6h0M794.9,743.8h0M803.9,743.0h0M812.8,742.1h0M821.7,741.2h0M526.3,758.0h0M535.3,758.5h0M544.3,758.9h0M553.3,759.3h0M562.3,759.7h0M571.2,760.0h0M670.1,760.6h0M679.1,760.4h0M688.1,760.1h0M697.1,759.8h0M706.1,759.5h0M715.1,759.1h0M724.1,758.6h0M733.0,758.1h0M742.0,757.6h0M751.0,757.0h0M760.0,756.4h0M768.9,755.8h0M777.9,755.1h0M786.9,754.3h0M795.8,753.5h0M543.8,768.7h0M561.9,769.4h0M570.9,769.8h0M688.4,769.8h0M697.5,769.5h0M724.6,768.4h0M733.6,767.9h0M742.6,767.3h0M751.6,766.8h0M725.1,778.1h0M734.1,777.6h0M725.6,787.8h0M734.7,787.3h0M708.1,808.2h0M717.3,807.8h0M726.6,807.3h0M735.8,806.8h0M708.5,817.9h0M717.8,817.5h0M727.1,817.0h0M736.3,816.5h0M708.9,827.6h0M718.2,827.2h0M727.6,826.8h0" fill="none" stroke="#b2aeae" stroke-width="5.25" stroke-linecap="round"/></g>
<path d="M537.8,438.2 549.5,440.2 561.2,447.0 569.0,450.9 588.5,458.7 608.0,462.6 623.6,456.7 639.2,452.8 643.1,437.2 647.0,421.6 652.9,413.8 650.9,402.1 647.0,394.3 650.9,382.6 658.7,374.8 674.3,370.9 689.9,368.0 699.7,372.9 709.4,380.7 717.2,384.6 725.0,378.7 736.7,376.8 744.5,384.6 742.6,394.3 736.7,406.0 740.6,421.6 742.6,437.2 754.3,439.2 756.2,447.0 760.1,452.8 748.4,460.6 746.5,472.3 754.3,480.1 760.1,493.8 758.2,499.6 773.8,495.7 787.4,486.0 803.0,474.3 812.8,464.5 822.5,454.8 834.2,443.1 842.0,437.2" fill="none" stroke="#777777" stroke-width="3.7" stroke-linejoin="round" stroke-linecap="round"/>
<path d="M537.8,438.2 545.6,445.0 557.3,448.9 569.0,450.9" fill="none" stroke="#777777" stroke-width="3.7" stroke-linejoin="round" stroke-linecap="round"/>
<path d="M828.4,250.0 832.3,269.5 828.4,289.0 822.5,304.6 812.8,318.3 806.9,328.0 799.1,341.7 789.4,351.4 781.6,361.2 773.8,363.1 779.6,370.9 775.7,374.8 754.3,378.7 752.3,386.5 744.5,384.6" fill="none" stroke="#777777" stroke-width="3.7" stroke-linejoin="round" stroke-linecap="round"/>
<path d="M799.1,341.7 810.8,347.5 818.6,359.2 826.4,367.0 836.2,370.9 842.0,382.6 845.9,390.4" fill="none" stroke="#777777" stroke-width="3.7" stroke-linejoin="round" stroke-linecap="round"/>
<path d="M742.6,526.9 750.4,519.1 760.1,511.3 771.8,503.5 783.5,499.6 793.3,489.9 803.0,480.1 810.8,482.1 818.6,478.2 830.3,476.2 832.3,466.5 822.5,464.5 814.7,466.5 803.0,474.3" fill="none" stroke="#777777" stroke-width="3.7" stroke-linejoin="round" stroke-linecap="round"/>
<path d="M592.4,525.0 608.0,521.1 627.5,519.1 647.0,523.0 666.5,525.0 678.2,528.9 689.9,530.8 705.5,523.0 717.2,525.0 732.8,525.0 742.6,526.9" fill="none" stroke="#777777" stroke-width="3.7" stroke-linejoin="round" stroke-linecap="round"/>
<path d="M484.1,497.5 495.8,495.6 505.5,493.6 517.2,497.5 528.9,497.5 536.7,505.3 538.7,493.6 540.6,483.9 554.3,483.9 564.0,476.1 567.9,466.3 566.0,456.6 567.9,448.8" fill="none" stroke="#777777" stroke-width="3.7" stroke-linejoin="round" stroke-linecap="round"/>
<path d="M484.1,497.5 491.9,509.2 505.5,519.0 513.3,520.9 525.0,528.7 536.7,536.5 556.2,534.6 573.8,538.5 581.6,548.2 587.4,561.9 599.1,554.1 606.9,544.3 601.1,524.8 591.3,522.9 593.3,519.0 603.0,518.6" fill="none" stroke="#777777" stroke-width="3.7" stroke-linejoin="round" stroke-linecap="round"/>
<path d="M413.9,536.5 423.6,532.6 439.2,536.5 454.8,534.6 452.9,526.8 462.6,519.0 478.2,524.8 489.9,532.6 501.6,540.4 513.3,556.0 511.4,575.5 517.2,587.2 521.1,598.9 523.1,614.5 525.0,630.1 529.9,628.2" fill="none" stroke="#777777" stroke-width="3.7" stroke-linejoin="round" stroke-linecap="round"/>
<path d="M220.7,491.7 227.5,501.5 239.2,505.4 249.0,513.2 252.9,522.9 249.0,538.5 254.8,544.4 266.5,547.3 278.2,548.3 284.1,556.1 288.0,569.7 293.8,563.9 301.6,571.7 309.4,575.6 317.2,577.5 327.0,583.4 336.7,573.6 348.4,575.6 360.1,579.5 373.8,581.4 380.6,587.3 391.3,579.5 403.0,575.6 409.9,571.7 405.0,561.9 408.9,554.1 410.8,538.5 403.0,519.0 401.1,505.4 410.8,491.7 412.8,483.9 422.5,472.2 434.2,470.2 449.8,472.2 465.4,478.0 479.1,485.9 488.8,497.6" fill="none" stroke="#777777" stroke-width="3.7" stroke-linejoin="round" stroke-linecap="round"/>
<path d="M530.0,628.3 533.9,647.8 541.7,665.3 545.6,680.9 551.5,692.6 561.2,698.5 569.0,704.3 580.7,696.5 584.6,714.1" fill="none" stroke="#777777" stroke-width="3.7" stroke-linejoin="round" stroke-linecap="round"/>
<path d="M611.9,673.1 611.9,686.8 610.0,700.4 604.1,704.3 592.4,708.2 584.6,714.1 584.6,725.8 588.5,731.6 600.2,733.6 608.0,729.7 621.7,731.6 631.4,735.5 639.2,741.4" fill="none" stroke="#777777" stroke-width="3.7" stroke-linejoin="round" stroke-linecap="round"/>
<path d="M611.9,673.1 621.7,669.2 631.4,677.0 647.0,680.9 666.5,679.0 686.0,677.0 697.7,675.1 705.5,680.9 717.2,680.9 728.9,679.0 732.8,692.6 744.5,696.5 746.5,704.3 756.2,702.4 764.0,692.6 775.7,686.8 789.4,688.7 799.1,690.7 803.0,700.4 799.1,704.3 810.8,702.4 818.6,692.6 828.4,686.8 832.3,675.1 832.3,661.4 838.1,647.8 842.0,638.0 857.6,628.3 863.5,622.4 859.6,608.8 853.7,599.0 845.9,595.1 851.8,589.3 871.3,585.4 890.8,579.5 900.6,571.7" fill="none" stroke="#777777" stroke-width="3.7" stroke-linejoin="round" stroke-linecap="round"/>
<path d="M832.3,675.1 838.1,680.9 845.9,696.5 847.9,708.2 845.9,721.9" fill="none" stroke="#777777" stroke-width="3.7" stroke-linejoin="round" stroke-linecap="round"/>
<path d="M730.0,524.8 741.7,528.7 753.4,532.6 765.1,544.3 769.0,554.1 776.8,561.9 788.5,567.7 802.2,571.6 811.9,575.5 819.7,573.6 821.7,563.8 827.5,556.0 839.2,548.2 847.0,538.5 858.7,540.4 870.4,538.5 882.1,538.5 891.9,536.5" fill="none" stroke="#777777" stroke-width="3.7" stroke-linejoin="round" stroke-linecap="round"/>
<path d="M650.9,382.6 647.0,376.8 639.2,371.9 635.3,369.9" fill="none" stroke="#777777" stroke-width="3.7" stroke-linejoin="round" stroke-linecap="round"/>
<path d="M215.8,480.0 212.9,460.8 211.9,439.4 188.5,425.7 184.6,414.0 181.7,402.3 175.8,395.5 170.0,393.6 178.8,382.8 176.8,367.2 167.1,357.5 169.0,347.7 177.8,336.0 196.3,330.2 208.0,336.0 215.8,338.0 225.6,328.2 235.3,326.3 245.1,324.3 250.9,327.2 266.5,323.3 278.2,318.5 284.1,306.8 290.9,299.0 289.9,281.4 291.9,271.7 288.9,265.8 301.6,264.8 315.3,262.9 325.0,268.7 323.1,260.0 330.9,248.3 340.6,231.7 350.4,236.6 373.8,240.5 375.7,222.9 381.6,216.1 394.3,213.2 397.2,205.4 410.8,206.3 411.8,219.0 420.6,227.8 432.3,232.7 438.1,238.5 440.1,248.3 445.0,261.9 442.0,273.6 436.2,279.5 437.2,287.3 445.9,293.1 459.6,297.0 473.2,299.0 488.8,309.7 498.6,314.6 502.5,328.2 510.3,345.8 530.0,346.7 549.5,351.4 569.0,351.4 584.6,356.3 592.4,363.1 608.0,369.0 623.6,371.9 635.3,369.9 650.9,363.1 666.5,358.2 686.0,356.3 701.6,351.4 713.3,341.7 725.0,330.9 728.9,327.0 721.1,318.3 722.1,308.5 728.9,302.7 741.7,305.0 751.5,307.0 759.3,297.2 765.1,293.3 776.8,289.4 784.6,279.7 788.5,271.9 798.3,266.0 808.0,262.1 817.8,260.2 827.5,259.2 832.4,256.3 827.5,250.4 819.7,242.6 808.0,236.8 796.3,240.7 792.4,246.5 776.8,248.5 770.0,240.7 772.9,227.0 776.8,213.4 780.7,205.6 794.4,207.5 804.1,199.7 811.9,195.8 815.8,174.4 821.7,158.8 825.6,151.0 815.8,147.1 817.8,139.3 823.6,131.5 837.3,125.6 854.8,120.7 866.5,123.7 878.2,123.7 888.0,129.5 895.8,139.3 903.6,151.0 911.4,162.7 917.2,172.4 919.2,182.2 930.9,182.2 944.5,184.1 960.1,190.0 964.0,197.8 969.9,209.5 983.5,205.6 991.3,199.7 999.1,191.9 1008.9,186.1 1020.6,182.2 1018.6,193.9 1016.7,211.4 1016.7,227.0 1012.8,242.6 1012.8,254.3 997.2,254.3 987.4,264.1 993.3,275.8 995.2,285.5 999.1,297.2 993.3,310.9 985.5,305.0 979.6,316.7 969.9,326.5 960.1,330.4 964.0,342.1 954.3,340.1 944.5,338.2 938.7,349.9 928.9,361.6 919.2,371.3 909.4,381.1 897.7,388.9 889.9,396.7 884.1,402.5 878.2,410.0 873.2,411.9 871.3,404.1 875.2,394.3 881.0,386.5 883.0,374.8 877.1,367.0 869.3,367.0 861.5,374.8 855.7,386.5 849.8,390.4 844.0,398.2 840.1,406.0 826.4,411.9 820.6,419.7 824.5,429.4 834.2,433.3 842.0,431.4 844.0,439.2 849.8,447.0 861.5,443.1 869.3,433.3 873.2,425.5 881.0,433.3 890.8,433.3 901.6,437.1 895.8,448.8 882.1,456.6 866.5,464.4 860.7,478.0 854.8,491.7 862.6,499.5 872.4,503.4 880.2,515.1 886.0,526.8 891.9,536.5 901.6,542.4 907.5,550.2 909.4,561.9 905.5,569.7 895.8,577.5 905.5,576.5 913.3,575.5 917.6,582.4 918.8,595.0 917.2,610.6 909.4,618.4 905.5,630.1 899.7,639.9 895.8,651.6 891.9,661.3 891.9,673.0 892.7,675.1 881.0,686.8 869.3,700.4 859.6,710.2 849.8,721.9 840.1,731.6 826.4,739.4 812.8,745.3 803.0,753.1 791.3,757.0 779.6,760.9 767.9,764.8 754.3,766.7 744.5,770.6 734.8,772.6 736.7,784.3 736.7,794.0 730.9,797.9 725.0,796.0 721.1,786.2 717.2,774.5 719.2,768.7 709.4,768.7 697.7,770.6 686.0,771.6 674.3,768.7 664.6,764.8 660.7,755.0 654.8,747.2 645.1,741.4 637.3,741.4 627.5,745.3 619.7,747.2 611.9,753.1 602.2,749.2 592.4,753.1 582.7,749.2 572.9,751.1 571.0,762.8 571.9,776.5 565.1,776.5 559.3,772.6 553.4,766.7 543.7,768.7 535.9,762.8 530.0,757.0 524.0,760.8 527.9,753.0 524.0,741.3 520.1,731.6 512.3,723.8 498.6,721.8 504.5,717.9 499.6,714.0 500.6,702.3 508.4,692.6 518.1,684.8 522.0,677.0 524.0,655.5 518.1,649.7 512.3,636.0 506.4,630.2 502.5,634.1 494.7,645.8 484.9,636.0 473.2,632.1 457.6,639.9 445.9,645.8 436.2,655.5 420.6,653.6 408.9,653.6 408.9,645.8 403.0,639.9 399.1,629.2 391.3,630.2 381.6,625.3 369.9,621.4 362.1,628.2 356.2,638.9 352.3,636.0 354.3,630.2 350.4,622.4 336.7,624.3 325.0,621.4 317.2,614.6 307.5,615.5 303.6,608.7 295.8,604.8 291.9,599.0 284.1,591.2 278.2,579.5 270.4,581.4 266.5,573.6 258.7,565.8 250.9,558.0 245.1,553.1 236.3,558.0 233.4,550.2 225.6,544.4 217.8,536.6 208.0,531.7 203.1,524.9 204.1,519.0 202.2,507.3 203.1,498.5 210.0,496.6 211.9,501.5 218.7,498.5 220.7,491.7Z" fill="none" stroke="#777777" stroke-width="4.1" stroke-linejoin="round"/>
<path d="M705.5,805.7 717.2,799.9 727.0,798.9 736.7,799.9 746.5,799.9 742.6,809.6 738.7,819.4 728.9,827.2 719.2,835.0 705.5,833.0 699.7,823.3 699.7,813.5Z" fill="none" stroke="#777777" stroke-width="4.1" stroke-linejoin="round"/>
<path d="M927.5,674.1 931.9,678.5 931.9,690.2 929.7,701.9 929.0,713.6 926.1,725.3 923.1,735.6 921.7,744.3 917.3,741.4 911.4,735.6 907.0,725.3 902.7,715.1 903.4,704.8 908.5,693.1 912.9,682.9 920.2,675.6Z" fill="none" stroke="#777777" stroke-width="3.2" stroke-linejoin="round"/>
<path d="M945.8,685.8 946.5,706.3" fill="none" stroke="#777777" stroke-width="3"/>
<path d="M939.2,744.3 930.4,760.4" fill="none" stroke="#777777" stroke-width="3"/>
<path d="M912.9,798.4 907.0,817.5" fill="none" stroke="#777777" stroke-width="3"/>
<path d="M958.2,655.1 954.6,659.5" fill="none" stroke="#777777" stroke-width="3"/>
</g>
<path d="M906.5,550.2 910.4,561.9 906.5,571.6 913.3,576.5 920.2,585.3 920.2,595.0 918.2,610.6 910.4,619.4 906.5,631.1 900.6,640.9 896.7,652.6 893.4,662.3 893.0,673.0 887.2,683.8 879.4,691.6 871.6,700.3" fill="none" stroke="#777777" stroke-width="6.5" stroke-linejoin="round" stroke-linecap="round" stroke-dasharray="9 2.5 5 1.5 12 3"/>
<path d="M893.9,675.1 882.2,687.7 870.5,701.6 860.8,711.3 851.0,723.0 841.3,732.8 827.6,740.6 814.0,746.4 804.2,754.2 792.5,758.1 780.8,762.0" fill="none" stroke="#777777" stroke-width="6.5" stroke-linejoin="round" stroke-linecap="round" stroke-dasharray="9 2.5 5 1.5 12 3"/>
<ellipse cx="921" cy="571" rx="6" ry="9" fill="#777777" transform="rotate(30 921 571)"/>
<ellipse cx="917" cy="585" rx="4" ry="6" fill="#777777" transform="rotate(0 917 585)"/>
<ellipse cx="875" cy="407" rx="7" ry="4" fill="#777777" transform="rotate(-30 875 407)"/>
<ellipse cx="893" cy="714" rx="3.2" ry="4.5" fill="#777777" transform="rotate(0 893 714)"/>
<ellipse cx="851.5" cy="775" rx="2.2" ry="2.2" fill="#777777" transform="rotate(0 851.5 775)"/>
<ellipse cx="732" cy="786" rx="3" ry="5" fill="#777777" transform="rotate(10 732 786)"/>
<ellipse cx="707" cy="778" rx="1.5" ry="2.5" fill="#777777" transform="rotate(0 707 778)"/>
<ellipse cx="927" cy="664" rx="1.8" ry="3" fill="#777777" transform="rotate(20 927 664)"/>
<rect x="969.6" y="640.9" width="176.9999999999999" height="213.5" fill="#fff"/>
<clipPath id="ilb"><polygon points="971.3,642.5 1112.8,642.5 1110.2,648.0 1107.6,654.4 1103.8,659.5 1098.7,664.7 1093.5,668.5 1088.4,672.4 1082.0,675.6 1075.5,678.1 1069.1,680.7 1062.7,681.4 1058.9,685.2 1052.4,687.1 1047.3,687.8 1042.2,688.4 1038.6,689.3 1038.6,699.3 1034.5,699.3 1033.8,689.3 1031.9,689.1 1026.8,687.8 1021.6,686.5 1016.5,685.2 1011.4,682.6 1007.5,678.8 1002.4,675.6 997.2,674.9 993.4,676.9 988.2,678.8 983.1,679.4 976.7,680.1 971.3,681.4"/></clipPath>
<g clip-path="url(#ilb)"><rect x="968" y="640" width="180" height="60" fill="#ff5050"/><ellipse cx="1020" cy="672" rx="22" ry="12" fill="#ff1616" filter="url(#ib)"/><ellipse cx="980" cy="650" rx="14" ry="14" fill="#ff2828" filter="url(#ib)"/><ellipse cx="1085" cy="648" rx="34" ry="12" fill="#ff8a8a" filter="url(#ib)"/>
<polyline points="971.3,662.1 975.4,660.8 976.7,667.2 981.8,671.1 984.4,667.2 987.6,649.3 990.8,648.0 998.5,650.5 1007.5,651.2 1015.2,649.9 1021.6,650.5 1026.8,653.8 1034.5,652.5 1039.6,657.0 1044.7,662.1 1049.9,657.6 1057.6,657.0 1065.3,662.1 1071.7,660.2 1078.1,655.7 1081.3,649.3 1083.3,644.1" fill="none" stroke="#8a8a8a" stroke-width="1.2"/>
<polyline points="1081.3,649.3 1085.2,655.7 1086.5,663.4 1085.2,668.5" fill="none" stroke="#8a8a8a" stroke-width="1.2"/>
<polyline points="976.7,667.2 981.8,672.4 989.5,669.8 994.7,672.4" fill="none" stroke="#8a8a8a" stroke-width="1.2"/>
</g>
<polyline points="1112.8,642.5 1110.2,648.0 1107.6,654.4 1103.8,659.5 1098.7,664.7 1093.5,668.5 1088.4,672.4 1082.0,675.6 1075.5,678.1 1069.1,680.7 1062.7,681.4 1058.9,685.2 1052.4,687.1 1047.3,687.8 1042.2,688.4 1038.6,689.3 1038.6,699.3 1034.5,699.3 1033.8,689.3 1031.9,689.1 1026.8,687.8 1021.6,686.5 1016.5,685.2 1011.4,682.6 1007.5,678.8 1002.4,675.6 997.2,674.9 993.4,676.9 988.2,678.8 983.1,679.4 976.7,680.1 971.3,681.4" fill="none" stroke="#777777" stroke-width="1.6" stroke-linejoin="round"/>
<polygon points="1024.2,703.2 1029.3,700.0 1035.7,699.3 1040.2,701.3 1039.0,705.7 1035.7,709.0 1030.6,711.5 1025.5,712.2 1022.9,708.3" fill="#ff2626" stroke="#777777" stroke-width="0.8"/>
<polygon points="1122.4,657.6 1123.1,662.1 1121.1,668.5 1118.6,674.9 1116.0,680.7 1113.4,682.0 1110.2,677.5 1107.6,672.4 1110.2,668.5 1115.3,663.4 1119.2,658.9" fill="none" stroke="#666" stroke-width="1"/>
<path d="M1028.1,731.7L1030.6,727.3M1045.6,724.8L1050.3,726.5M1063.1,730.1L1067.4,727.6M1090.0,734.6L1092.0,734.6M1100.6,730.7L1100.6,734.7M1104.8,711.5L1108.0,707.7M1117.6,689.7L1120.8,685.9M1082.9,693.6L1084.9,693.6M1127.8,665.3L1128.5,669.2M1133.6,655.7L1135.6,655.7M1034.5,758.5L1034.5,763.5M1064.9,764.4L1066.9,767.8M1066.8,774.2L1068.8,770.8M1075.8,769.5L1077.8,773.0M1082.0,769.4L1084.5,767.9M1097.8,764.6L1099.5,759.9M1054.0,776.4L1056.0,776.4M1046.0,785.6L1048.6,782.5M1031.4,790.2L1034.9,788.2M1059.9,784.1L1063.0,786.6M1059.6,791.6L1060.7,794.5M1069.0,788.4L1071.8,787.4M1076.5,793.7L1079.7,789.9M1019.1,797.0L1019.1,802.0M1051.2,804.5L1051.2,808.5M1048.0,822.6L1051.7,821.3" stroke="#555" stroke-width="2.2" fill="none"/>
<rect x="969.6" y="640.9" width="176.9999999999999" height="213.5" fill="none" stroke="#000" stroke-width="3.3"/>
<rect x="134.6" y="104.9" width="1011.9999999999999" height="749.5" fill="none" stroke="#000" stroke-width="4.8"/>
</g>
<g transform="translate(0,804)">
<g filter="url(#sb)">
<g clip-path="url(#cn)"><path fill="#ff0000" d="M392,202h24v8h-24zM376,210h40v8h-40zM376,218h40v8h-40zM336,226h8v8h-8zM368,226h64v8h-64zM336,234h104v8h-104zM328,242h112v8h-112zM320,250h128v8h-128zM288,258h160v8h-160zM288,266h160v8h-160zM288,274h152v8h-152zM288,282h152v8h-152zM288,290h176v8h-176zM280,298h200v8h-200zM728,298h16v8h-16zM752,298h16v8h-16zM280,306h216v8h-216zM720,306h48v8h-48zM272,314h232v8h-232zM720,314h40v8h-40zM224,322h280v8h-280zM720,322h40v8h-40zM184,330h328v8h-328zM720,330h32v8h-32zM184,338h328v8h-328zM728,338h24v8h-24zM184,346h392v8h-392zM184,354h408v8h-408zM656,354h8v8h-8zM184,362h424v8h-424zM632,362h32v8h-32zM184,370h472v8h-472zM184,378h464v8h-464zM184,386h464v8h-464zM184,394h456v8h-456zM192,402h112v8h-112zM328,402h96v8h-96zM448,402h40v8h-40zM520,402h8v8h-8zM544,402h96v8h-96zM192,410h40v8h-40zM272,410h24v8h-24zM384,410h8v8h-8zM464,410h16v8h-16zM560,410h72v8h-72zM200,418h24v8h-24zM464,418h16v8h-16zM576,418h48v8h-48zM264,506h32v8h-32zM264,514h120v8h-120zM264,522h120v8h-120zM288,530h72v8h-72zM312,538h40v8h-40z"/>
<path fill="#ff0d0d" d="M760,290h16v8h-16zM768,298h8v8h-8zM768,306h8v8h-8zM760,314h8v8h-8zM176,330h8v8h-8zM752,330h8v8h-8zM168,338h16v8h-16zM704,338h24v8h-24zM168,346h16v8h-16zM728,346h16v8h-16zM168,354h16v8h-16zM664,354h16v8h-16zM176,362h8v8h-8zM664,362h8v8h-8zM176,370h8v8h-8zM656,370h8v8h-8zM176,378h8v8h-8zM648,378h8v8h-8zM176,386h8v8h-8zM648,386h8v8h-8zM176,394h8v8h-8zM640,394h8v8h-8zM184,402h8v8h-8zM304,402h24v8h-24zM424,402h24v8h-24zM488,402h8v8h-8zM528,402h16v8h-16zM184,410h8v8h-8zM232,410h16v8h-16zM256,410h16v8h-16zM336,410h16v8h-16zM376,410h8v8h-8zM392,410h24v8h-24zM456,410h8v8h-8zM480,410h8v8h-8zM632,410h8v8h-8zM192,418h8v8h-8zM224,418h8v8h-8zM280,418h8v8h-8zM568,418h8v8h-8zM624,418h8v8h-8zM200,426h24v8h-24zM464,426h16v8h-16zM584,426h40v8h-40zM464,434h16v8h-16zM416,482h8v8h-8zM416,490h16v8h-16zM256,506h8v8h-8zM344,506h8v8h-8zM384,522h8v8h-8zM280,530h8v8h-8zM360,530h16v8h-16zM296,538h16v8h-16zM312,546h32v8h-32z"/>
<path fill="#ff1919" d="M776,282h8v8h-8zM776,290h8v8h-8zM776,298h8v8h-8zM768,314h8v8h-8zM760,322h8v8h-8zM760,330h8v8h-8zM752,338h8v8h-8zM696,346h24v8h-24zM744,346h8v8h-8zM160,354h8v8h-8zM680,354h16v8h-16zM168,362h8v8h-8zM672,362h8v8h-8zM664,370h8v8h-8zM656,378h8v8h-8zM168,386h8v8h-8zM656,386h8v8h-8zM168,394h8v8h-8zM648,394h8v8h-8zM176,402h8v8h-8zM496,402h24v8h-24zM640,402h8v8h-8zM248,410h8v8h-8zM296,410h8v8h-8zM328,410h8v8h-8zM352,410h24v8h-24zM448,410h8v8h-8zM488,410h8v8h-8zM552,410h8v8h-8zM184,418h8v8h-8zM232,418h8v8h-8zM272,418h8v8h-8zM288,418h8v8h-8zM456,418h8v8h-8zM480,418h8v8h-8zM632,418h8v8h-8zM192,426h8v8h-8zM224,426h8v8h-8zM480,426h8v8h-8zM576,426h8v8h-8zM624,426h8v8h-8zM208,434h16v8h-16zM480,434h8v8h-8zM584,434h40v8h-40zM592,442h24v8h-24zM240,498h48v8h-48zM416,498h16v8h-16zM248,506h8v8h-8zM296,506h16v8h-16zM320,506h24v8h-24zM352,506h8v8h-8zM256,514h8v8h-8zM384,514h8v8h-8zM272,530h8v8h-8zM376,530h8v8h-8zM288,538h8v8h-8zM352,538h8v8h-8zM304,546h8v8h-8zM344,546h8v8h-8zM888,586h8v8h-8z"/>
<path fill="#ff2626" d="M784,274h8v8h-8zM784,282h8v8h-8zM784,290h8v8h-8zM784,298h8v8h-8zM776,306h8v8h-8zM776,314h8v8h-8zM768,322h16v8h-16zM768,330h16v8h-16zM760,338h8v8h-8zM720,346h8v8h-8zM752,346h8v8h-8zM696,354h56v8h-56zM680,362h16v8h-16zM672,370h16v8h-16zM664,378h8v8h-8zM664,386h8v8h-8zM656,394h8v8h-8zM648,402h8v8h-8zM304,410h24v8h-24zM416,410h32v8h-32zM640,410h8v8h-8zM240,418h8v8h-8zM256,418h16v8h-16zM560,418h8v8h-8zM640,418h8v8h-8zM232,426h8v8h-8zM632,426h8v8h-8zM200,434h8v8h-8zM224,434h8v8h-8zM488,434h8v8h-8zM576,434h8v8h-8zM624,434h8v8h-8zM208,442h24v8h-24zM472,442h16v8h-16zM584,442h8v8h-8zM616,442h16v8h-16zM584,450h32v8h-32zM584,458h24v8h-24zM584,466h24v8h-24zM592,474h8v8h-8zM424,482h8v8h-8zM592,482h24v8h-24zM408,490h8v8h-8zM584,490h24v8h-24zM288,498h8v8h-8zM408,498h8v8h-8zM584,498h24v8h-24zM312,506h8v8h-8zM360,506h24v8h-24zM416,506h8v8h-8zM584,506h24v8h-24zM592,514h16v8h-16zM256,522h8v8h-8zM592,522h16v8h-16zM264,530h8v8h-8zM384,530h8v8h-8zM360,538h8v8h-8zM296,546h8v8h-8zM320,554h16v8h-16zM880,570h16v8h-16zM864,578h40v8h-40zM864,586h24v8h-24zM896,586h8v8h-8zM872,594h16v8h-16z"/>
<path fill="#ff3333" d="M768,242h8v8h-8zM784,266h16v8h-16zM792,274h8v8h-8zM792,282h8v8h-8zM792,290h8v8h-8zM792,298h8v8h-8zM784,306h8v8h-8zM784,314h8v8h-8zM768,338h8v8h-8zM760,346h8v8h-8zM752,354h8v8h-8zM696,362h40v8h-40zM688,370h8v8h-8zM672,378h16v8h-16zM672,386h8v8h-8zM496,410h8v8h-8zM520,410h8v8h-8zM544,410h8v8h-8zM648,410h8v8h-8zM248,418h8v8h-8zM296,418h8v8h-8zM328,418h24v8h-24zM448,418h8v8h-8zM488,418h8v8h-8zM272,426h16v8h-16zM456,426h8v8h-8zM488,426h8v8h-8zM568,426h8v8h-8zM640,426h8v8h-8zM232,434h8v8h-8zM632,434h16v8h-16zM464,442h8v8h-8zM488,442h8v8h-8zM576,442h8v8h-8zM632,442h8v8h-8zM216,450h16v8h-16zM344,450h8v8h-8zM472,450h8v8h-8zM576,450h8v8h-8zM616,450h16v8h-16zM576,458h8v8h-8zM608,458h16v8h-16zM576,466h8v8h-8zM608,466h16v8h-16zM576,474h16v8h-16zM600,474h24v8h-24zM408,482h8v8h-8zM576,482h16v8h-16zM616,482h8v8h-8zM576,490h8v8h-8zM608,490h16v8h-16zM576,498h8v8h-8zM608,498h16v8h-16zM240,506h8v8h-8zM384,506h8v8h-8zM408,506h8v8h-8zM424,506h8v8h-8zM576,506h8v8h-8zM608,506h16v8h-16zM248,514h8v8h-8zM392,514h8v8h-8zM576,514h16v8h-16zM608,514h16v8h-16zM392,522h8v8h-8zM584,522h8v8h-8zM608,522h8v8h-8zM584,530h24v8h-24zM280,538h8v8h-8zM368,538h8v8h-8zM352,546h8v8h-8zM312,554h8v8h-8zM336,554h8v8h-8zM576,554h16v8h-16zM568,562h24v8h-24zM872,562h32v8h-32zM552,570h32v8h-32zM856,570h24v8h-24zM904,570h8v8h-8zM544,578h32v8h-32zM848,578h16v8h-16zM904,578h16v8h-16zM552,586h24v8h-24zM848,586h16v8h-16zM904,586h16v8h-16zM552,594h24v8h-24zM848,594h24v8h-24zM888,594h24v8h-24zM560,602h8v8h-8zM856,602h32v8h-32zM744,634h16v8h-16zM784,634h8v8h-8zM576,650h24v8h-24zM576,658h24v8h-24zM624,682h8v8h-8zM616,690h16v8h-16zM624,698h8v8h-8z"/>
<path fill="#ff4040" d="M768,234h16v8h-16zM776,242h16v8h-16zM800,258h8v8h-8zM800,266h16v8h-16zM800,274h8v8h-8zM800,282h8v8h-8zM800,290h8v8h-8zM800,298h8v8h-8zM792,306h8v8h-8zM792,314h8v8h-8zM784,322h8v8h-8zM784,330h8v8h-8zM776,338h8v8h-8zM768,346h8v8h-8zM760,354h8v8h-8zM736,362h16v8h-16zM696,370h32v8h-32zM688,378h8v8h-8zM680,386h8v8h-8zM664,394h8v8h-8zM656,402h8v8h-8zM504,410h16v8h-16zM656,410h8v8h-8zM304,418h24v8h-24zM384,418h24v8h-24zM440,418h8v8h-8zM648,418h8v8h-8zM240,426h8v8h-8zM264,426h8v8h-8zM288,426h8v8h-8zM648,426h8v8h-8zM272,434h16v8h-16zM568,434h8v8h-8zM648,434h16v8h-16zM232,442h8v8h-8zM280,442h8v8h-8zM640,442h16v8h-16zM208,450h8v8h-8zM280,450h8v8h-8zM384,450h8v8h-8zM464,450h8v8h-8zM480,450h8v8h-8zM632,450h16v8h-16zM384,458h8v8h-8zM568,458h8v8h-8zM624,458h24v8h-24zM568,466h8v8h-8zM624,466h16v8h-16zM416,474h16v8h-16zM568,474h8v8h-8zM624,474h16v8h-16zM432,482h8v8h-8zM568,482h8v8h-8zM624,482h16v8h-16zM240,490h40v8h-40zM432,490h8v8h-8zM624,490h16v8h-16zM232,498h8v8h-8zM296,498h8v8h-8zM400,498h8v8h-8zM432,498h8v8h-8zM624,498h8v8h-8zM392,506h16v8h-16zM568,506h8v8h-8zM624,506h16v8h-16zM400,514h24v8h-24zM568,514h8v8h-8zM624,514h24v8h-24zM568,522h16v8h-16zM616,522h32v8h-32zM392,530h8v8h-8zM576,530h8v8h-8zM608,530h48v8h-48zM376,538h8v8h-8zM568,538h96v8h-96zM288,546h8v8h-8zM360,546h8v8h-8zM568,546h112v8h-112zM296,554h16v8h-16zM344,554h8v8h-8zM560,554h16v8h-16zM592,554h120v8h-120zM872,554h40v8h-40zM552,562h16v8h-16zM592,562h120v8h-120zM856,562h16v8h-16zM904,562h8v8h-8zM544,570h8v8h-8zM584,570h136v8h-136zM840,570h16v8h-16zM912,570h8v8h-8zM576,578h144v8h-144zM744,578h8v8h-8zM784,578h8v8h-8zM816,578h32v8h-32zM544,586h8v8h-8zM576,586h184v8h-184zM776,586h24v8h-24zM808,586h40v8h-40zM544,594h8v8h-8zM576,594h272v8h-272zM912,594h8v8h-8zM544,602h16v8h-16zM568,602h160v8h-160zM752,602h16v8h-16zM824,602h32v8h-32zM888,602h32v8h-32zM544,610h184v8h-184zM752,610h16v8h-16zM832,610h88v8h-88zM552,618h184v8h-184zM744,618h32v8h-32zM784,618h24v8h-24zM840,618h72v8h-72zM560,626h256v8h-256zM824,626h88v8h-88zM560,634h184v8h-184zM760,634h24v8h-24zM792,634h48v8h-48zM856,634h48v8h-48zM560,642h136v8h-136zM720,642h96v8h-96zM872,642h24v8h-24zM560,650h16v8h-16zM600,650h88v8h-88zM752,650h24v8h-24zM792,650h16v8h-16zM560,658h16v8h-16zM600,658h88v8h-88zM752,658h16v8h-16zM800,658h8v8h-8zM560,666h128v8h-128zM744,666h24v8h-24zM848,666h8v8h-8zM560,674h120v8h-120zM568,682h56v8h-56zM632,682h24v8h-24zM576,690h40v8h-40zM632,690h24v8h-24zM576,698h48v8h-48zM632,698h16v8h-16zM584,706h56v8h-56zM608,714h16v8h-16z"/>
<path fill="#ff4d4d" d="M768,218h8v8h-8zM768,226h24v8h-24zM784,234h16v8h-16zM792,242h8v8h-8zM808,258h16v8h-16zM816,266h8v8h-8zM808,274h8v8h-8zM808,282h8v8h-8zM808,290h8v8h-8zM808,298h8v8h-8zM800,306h16v8h-16zM800,314h8v8h-8zM792,322h8v8h-8zM776,346h8v8h-8zM768,354h8v8h-8zM752,362h8v8h-8zM728,370h24v8h-24zM696,378h16v8h-16zM688,386h8v8h-8zM672,394h8v8h-8zM664,402h8v8h-8zM528,410h16v8h-16zM352,418h8v8h-8zM376,418h8v8h-8zM408,418h32v8h-32zM496,418h8v8h-8zM552,418h8v8h-8zM656,418h8v8h-8zM248,426h16v8h-16zM328,426h16v8h-16zM448,426h8v8h-8zM560,426h8v8h-8zM656,426h8v8h-8zM240,434h8v8h-8zM272,442h8v8h-8zM344,442h8v8h-8zM496,442h8v8h-8zM568,442h8v8h-8zM656,442h8v8h-8zM232,450h8v8h-8zM488,450h8v8h-8zM512,450h8v8h-8zM568,450h8v8h-8zM648,450h16v8h-16zM208,458h24v8h-24zM464,458h24v8h-24zM512,458h8v8h-8zM648,458h8v8h-8zM560,466h8v8h-8zM640,466h16v8h-16zM560,474h8v8h-8zM640,474h16v8h-16zM560,482h8v8h-8zM640,482h8v8h-8zM232,490h8v8h-8zM280,490h8v8h-8zM400,490h8v8h-8zM568,490h8v8h-8zM640,490h8v8h-8zM304,498h24v8h-24zM344,498h16v8h-16zM392,498h8v8h-8zM568,498h8v8h-8zM632,498h16v8h-16zM432,506h8v8h-8zM640,506h16v8h-16zM424,514h8v8h-8zM560,514h8v8h-8zM648,514h40v8h-40zM400,522h16v8h-16zM560,522h8v8h-8zM648,522h40v8h-40zM560,530h16v8h-16zM656,530h32v8h-32zM272,538h8v8h-8zM384,538h8v8h-8zM560,538h8v8h-8zM664,538h64v8h-64zM560,546h8v8h-8zM680,546h56v8h-56zM880,546h32v8h-32zM352,554h8v8h-8zM552,554h8v8h-8zM712,554h32v8h-32zM856,554h16v8h-16zM320,562h24v8h-24zM544,562h8v8h-8zM712,562h40v8h-40zM840,562h16v8h-16zM720,570h48v8h-48zM776,570h24v8h-24zM808,570h32v8h-32zM536,578h8v8h-8zM720,578h24v8h-24zM752,578h32v8h-32zM792,578h24v8h-24zM536,586h8v8h-8zM760,586h16v8h-16zM800,586h8v8h-8zM536,594h8v8h-8zM440,602h8v8h-8zM536,602h8v8h-8zM728,602h24v8h-24zM768,602h56v8h-56zM536,610h8v8h-8zM728,610h24v8h-24zM768,610h64v8h-64zM536,618h16v8h-16zM736,618h8v8h-8zM776,618h8v8h-8zM808,618h32v8h-32zM544,626h16v8h-16zM816,626h8v8h-8zM544,634h16v8h-16zM840,634h16v8h-16zM544,642h16v8h-16zM696,642h24v8h-24zM816,642h56v8h-56zM896,642h8v8h-8zM544,650h16v8h-16zM688,650h64v8h-64zM776,650h16v8h-16zM808,650h88v8h-88zM544,658h16v8h-16zM688,658h64v8h-64zM768,658h32v8h-32zM808,658h88v8h-88zM544,666h16v8h-16zM688,666h56v8h-56zM768,666h80v8h-80zM856,666h40v8h-40zM544,674h16v8h-16zM680,674h216v8h-216zM544,682h24v8h-24zM656,682h64v8h-64zM744,682h48v8h-48zM832,682h32v8h-32zM552,690h24v8h-24zM656,690h48v8h-48zM744,690h8v8h-8zM776,690h8v8h-8zM840,690h16v8h-16zM552,698h24v8h-24zM648,698h32v8h-32zM552,706h32v8h-32zM640,706h24v8h-24zM552,714h56v8h-56zM624,714h32v8h-32zM552,722h96v8h-96zM552,730h72v8h-72zM552,738h56v8h-56zM552,746h8v8h-8z"/>
<path fill="#ff5959" d="M776,210h8v8h-8zM776,218h24v8h-24zM792,226h16v8h-16zM800,234h24v8h-24zM816,242h16v8h-16zM824,250h8v8h-8zM824,258h8v8h-8zM824,266h8v8h-8zM984,266h8v8h-8zM816,274h16v8h-16zM976,274h24v8h-24zM816,282h16v8h-16zM968,282h32v8h-32zM816,290h16v8h-16zM960,290h40v8h-40zM816,298h16v8h-16zM960,298h40v8h-40zM816,306h16v8h-16zM952,306h48v8h-48zM808,314h16v8h-16zM960,314h24v8h-24zM800,322h16v8h-16zM968,322h8v8h-8zM792,330h8v8h-8zM784,338h8v8h-8zM760,362h16v8h-16zM752,370h8v8h-8zM712,378h24v8h-24zM696,386h8v8h-8zM680,394h8v8h-8zM672,402h8v8h-8zM664,410h8v8h-8zM360,418h16v8h-16zM296,426h8v8h-8zM320,426h8v8h-8zM344,426h8v8h-8zM664,426h8v8h-8zM264,434h8v8h-8zM288,434h8v8h-8zM328,434h16v8h-16zM456,434h8v8h-8zM496,434h8v8h-8zM664,434h8v8h-8zM240,442h8v8h-8zM288,442h8v8h-8zM336,442h8v8h-8zM456,442h8v8h-8zM664,442h8v8h-8zM272,450h8v8h-8zM288,450h8v8h-8zM336,450h8v8h-8zM352,450h8v8h-8zM496,450h16v8h-16zM520,450h8v8h-8zM560,450h8v8h-8zM664,450h8v8h-8zM376,458h8v8h-8zM488,458h8v8h-8zM504,458h8v8h-8zM520,458h8v8h-8zM560,458h8v8h-8zM656,458h8v8h-8zM216,466h8v8h-8zM512,466h8v8h-8zM656,466h8v8h-8zM408,474h8v8h-8zM432,474h8v8h-8zM656,474h16v8h-16zM648,482h16v8h-16zM224,490h8v8h-8zM288,490h8v8h-8zM560,490h8v8h-8zM648,490h8v8h-8zM224,498h8v8h-8zM328,498h16v8h-16zM360,498h16v8h-16zM648,498h16v8h-16zM232,506h8v8h-8zM560,506h8v8h-8zM656,506h32v8h-32zM240,514h8v8h-8zM720,514h8v8h-8zM248,522h8v8h-8zM416,522h8v8h-8zM688,522h8v8h-8zM712,522h16v8h-16zM256,530h8v8h-8zM400,530h8v8h-8zM688,530h48v8h-48zM392,538h8v8h-8zM552,538h8v8h-8zM728,538h16v8h-16zM888,538h16v8h-16zM280,546h8v8h-8zM368,546h8v8h-8zM552,546h8v8h-8zM736,546h16v8h-16zM864,546h16v8h-16zM360,554h8v8h-8zM544,554h8v8h-8zM744,554h16v8h-16zM848,554h8v8h-8zM312,562h8v8h-8zM344,562h8v8h-8zM752,562h88v8h-88zM536,570h8v8h-8zM768,570h8v8h-8zM800,570h8v8h-8zM528,578h8v8h-8zM528,586h8v8h-8zM528,594h8v8h-8zM432,602h8v8h-8zM448,602h24v8h-24zM520,602h16v8h-16zM432,610h24v8h-24zM520,610h16v8h-16zM424,618h16v8h-16zM520,618h16v8h-16zM512,626h32v8h-32zM512,634h32v8h-32zM520,642h24v8h-24zM520,650h24v8h-24zM536,658h8v8h-8zM536,666h8v8h-8zM536,674h8v8h-8zM536,682h8v8h-8zM720,682h24v8h-24zM792,682h40v8h-40zM864,682h24v8h-24zM536,690h16v8h-16zM704,690h24v8h-24zM752,690h24v8h-24zM832,690h8v8h-8zM856,690h24v8h-24zM536,698h16v8h-16zM680,698h32v8h-32zM840,698h32v8h-32zM544,706h8v8h-8zM664,706h32v8h-32zM544,714h8v8h-8zM656,714h32v8h-32zM544,722h8v8h-8zM648,722h32v8h-32zM536,730h16v8h-16zM624,730h40v8h-40zM536,738h16v8h-16zM608,738h48v8h-48zM536,746h16v8h-16zM560,746h64v8h-64zM544,754h32v8h-32zM544,762h32v8h-32z"/>
<path fill="#ff6666" d="M776,202h16v8h-16zM784,210h24v8h-24zM800,218h24v8h-24zM992,218h16v8h-16zM808,226h40v8h-40zM984,226h32v8h-32zM824,234h24v8h-24zM984,234h32v8h-32zM832,242h16v8h-16zM944,242h72v8h-72zM832,250h16v8h-16zM944,250h72v8h-72zM832,258h16v8h-16zM936,258h56v8h-56zM832,266h16v8h-16zM928,266h56v8h-56zM832,274h24v8h-24zM880,274h8v8h-8zM920,274h56v8h-56zM832,282h32v8h-32zM872,282h16v8h-16zM912,282h56v8h-56zM832,290h128v8h-128zM832,298h128v8h-128zM832,306h120v8h-120zM824,314h40v8h-40zM880,314h24v8h-24zM912,314h48v8h-48zM816,322h40v8h-40zM912,322h56v8h-56zM800,330h24v8h-24zM920,330h48v8h-48zM792,338h8v8h-8zM920,338h48v8h-48zM784,346h8v8h-8zM928,346h16v8h-16zM776,354h8v8h-8zM928,354h8v8h-8zM736,378h8v8h-8zM704,386h16v8h-16zM688,394h8v8h-8zM680,402h8v8h-8zM672,410h8v8h-8zM664,418h8v8h-8zM304,426h16v8h-16zM440,426h8v8h-8zM496,426h8v8h-8zM248,434h16v8h-16zM344,434h8v8h-8zM560,434h8v8h-8zM264,442h8v8h-8zM328,442h8v8h-8zM352,442h8v8h-8zM504,442h8v8h-8zM560,442h8v8h-8zM672,442h8v8h-8zM240,450h8v8h-8zM264,450h8v8h-8zM376,450h8v8h-8zM456,450h8v8h-8zM672,450h8v8h-8zM232,458h8v8h-8zM280,458h8v8h-8zM344,458h8v8h-8zM392,458h8v8h-8zM456,458h8v8h-8zM496,458h8v8h-8zM552,458h8v8h-8zM664,458h16v8h-16zM208,466h8v8h-8zM224,466h8v8h-8zM464,466h24v8h-24zM504,466h8v8h-8zM520,466h8v8h-8zM552,466h8v8h-8zM664,466h16v8h-16zM216,474h16v8h-16zM440,474h8v8h-8zM552,474h8v8h-8zM672,474h8v8h-8zM224,482h16v8h-16zM256,482h24v8h-24zM400,482h8v8h-8zM440,482h8v8h-8zM552,482h8v8h-8zM664,482h16v8h-16zM440,490h8v8h-8zM656,490h24v8h-24zM376,498h16v8h-16zM440,498h8v8h-8zM560,498h8v8h-8zM664,498h24v8h-24zM440,506h8v8h-8zM688,506h8v8h-8zM432,514h8v8h-8zM552,514h8v8h-8zM688,514h8v8h-8zM712,514h8v8h-8zM424,522h8v8h-8zM552,522h8v8h-8zM696,522h16v8h-16zM728,522h8v8h-8zM408,530h8v8h-8zM552,530h8v8h-8zM736,530h8v8h-8zM888,530h8v8h-8zM264,538h8v8h-8zM744,538h8v8h-8zM880,538h8v8h-8zM376,546h8v8h-8zM544,546h8v8h-8zM752,546h8v8h-8zM848,546h16v8h-16zM288,554h8v8h-8zM760,554h88v8h-88zM304,562h8v8h-8zM352,562h8v8h-8zM536,562h8v8h-8zM336,570h16v8h-16zM464,586h32v8h-32zM520,586h8v8h-8zM440,594h56v8h-56zM512,594h16v8h-16zM472,602h24v8h-24zM512,602h8v8h-8zM416,610h16v8h-16zM456,610h32v8h-32zM512,610h8v8h-8zM408,618h16v8h-16zM440,618h16v8h-16zM464,618h24v8h-24zM504,618h16v8h-16zM408,626h40v8h-40zM472,626h8v8h-8zM488,626h24v8h-24zM408,634h16v8h-16zM496,634h8v8h-8zM512,642h8v8h-8zM520,658h16v8h-16zM528,666h8v8h-8zM528,674h8v8h-8zM528,682h8v8h-8zM528,690h8v8h-8zM728,690h16v8h-16zM784,690h16v8h-16zM816,690h16v8h-16zM528,698h8v8h-8zM712,698h16v8h-16zM832,698h8v8h-8zM536,706h8v8h-8zM696,706h16v8h-16zM840,706h24v8h-24zM536,714h8v8h-8zM688,714h16v8h-16zM536,722h8v8h-8zM680,722h16v8h-16zM528,730h8v8h-8zM664,730h32v8h-32zM528,738h8v8h-8zM656,738h24v8h-24zM528,746h8v8h-8zM656,746h16v8h-16zM528,754h16v8h-16zM656,754h8v8h-8zM536,762h8v8h-8zM552,770h24v8h-24zM704,802h16v8h-16zM696,810h32v8h-32zM696,818h40v8h-40zM696,826h32v8h-32zM712,834h8v8h-8z"/>
<path fill="#ff7373" d="M920,186h32v8h-32zM920,194h32v8h-32zM792,202h16v8h-16zM920,202h40v8h-40zM976,202h48v8h-48zM808,210h56v8h-56zM920,210h104v8h-104zM824,218h40v8h-40zM928,218h64v8h-64zM1008,218h16v8h-16zM848,226h16v8h-16zM928,226h56v8h-56zM848,234h24v8h-24zM920,234h64v8h-64zM848,242h24v8h-24zM920,242h24v8h-24zM848,250h40v8h-40zM904,250h40v8h-40zM848,258h88v8h-88zM848,266h80v8h-80zM856,274h24v8h-24zM888,274h32v8h-32zM864,282h8v8h-8zM888,282h24v8h-24zM864,314h16v8h-16zM904,314h8v8h-8zM856,322h56v8h-56zM824,330h96v8h-96zM800,338h120v8h-120zM872,346h40v8h-40zM920,346h8v8h-8zM872,354h24v8h-24zM904,354h24v8h-24zM872,362h56v8h-56zM760,370h8v8h-8zM880,370h40v8h-40zM744,378h8v8h-8zM888,378h24v8h-24zM720,386h8v8h-8zM896,386h8v8h-8zM696,394h8v8h-8zM688,402h8v8h-8zM504,418h8v8h-8zM544,418h8v8h-8zM672,418h8v8h-8zM352,426h8v8h-8zM392,426h8v8h-8zM432,426h8v8h-8zM552,426h8v8h-8zM672,426h8v8h-8zM320,434h8v8h-8zM448,434h8v8h-8zM672,434h8v8h-8zM248,442h16v8h-16zM512,442h8v8h-8zM256,450h8v8h-8zM328,450h8v8h-8zM360,450h16v8h-16zM392,450h8v8h-8zM528,450h8v8h-8zM552,450h8v8h-8zM264,458h16v8h-16zM288,458h8v8h-8zM336,458h8v8h-8zM352,458h8v8h-8zM528,458h8v8h-8zM232,466h8v8h-8zM384,466h8v8h-8zM416,466h24v8h-24zM456,466h8v8h-8zM496,466h8v8h-8zM680,466h8v8h-8zM208,474h8v8h-8zM232,474h8v8h-8zM512,474h8v8h-8zM680,474h8v8h-8zM216,482h8v8h-8zM248,482h8v8h-8zM280,482h8v8h-8zM448,482h8v8h-8zM680,482h8v8h-8zM216,490h8v8h-8zM296,490h8v8h-8zM392,490h8v8h-8zM552,490h8v8h-8zM680,490h8v8h-8zM688,498h8v8h-8zM552,506h8v8h-8zM440,514h8v8h-8zM696,514h16v8h-16zM728,514h8v8h-8zM432,522h8v8h-8zM416,530h8v8h-8zM744,530h8v8h-8zM880,530h8v8h-8zM400,538h8v8h-8zM544,538h8v8h-8zM752,538h8v8h-8zM856,538h24v8h-24zM760,546h88v8h-88zM368,554h8v8h-8zM536,554h8v8h-8zM360,562h8v8h-8zM328,570h8v8h-8zM352,570h16v8h-16zM528,570h8v8h-8zM464,578h40v8h-40zM512,578h16v8h-16zM448,586h16v8h-16zM496,586h24v8h-24zM432,594h8v8h-8zM496,594h16v8h-16zM424,602h8v8h-8zM496,602h16v8h-16zM400,610h16v8h-16zM488,610h24v8h-24zM392,618h16v8h-16zM456,618h8v8h-8zM488,618h16v8h-16zM400,626h8v8h-8zM448,626h24v8h-24zM480,626h8v8h-8zM400,634h8v8h-8zM424,634h48v8h-48zM480,634h16v8h-16zM408,642h8v8h-8zM488,642h8v8h-8zM520,666h8v8h-8zM520,674h8v8h-8zM520,690h8v8h-8zM800,690h16v8h-16zM520,698h8v8h-8zM728,698h32v8h-32zM824,698h8v8h-8zM520,706h16v8h-16zM712,706h8v8h-8zM832,706h8v8h-8zM528,714h8v8h-8zM704,714h8v8h-8zM840,714h16v8h-16zM528,722h8v8h-8zM696,722h16v8h-16zM520,730h8v8h-8zM696,730h8v8h-8zM520,738h8v8h-8zM680,738h16v8h-16zM520,746h8v8h-8zM672,746h16v8h-16zM520,754h8v8h-8zM664,754h16v8h-16zM664,762h16v8h-16zM680,770h8v8h-8zM720,786h8v8h-8zM712,794h24v8h-24zM720,802h24v8h-24zM728,810h16v8h-16zM736,818h8v8h-8z"/>
<path fill="#ff8080" d="M904,178h48v8h-48zM1008,178h16v8h-16zM904,186h16v8h-16zM952,186h16v8h-16zM992,186h32v8h-32zM800,194h16v8h-16zM896,194h24v8h-24zM952,194h16v8h-16zM984,194h40v8h-40zM808,202h64v8h-64zM904,202h16v8h-16zM960,202h16v8h-16zM864,210h16v8h-16zM904,210h16v8h-16zM864,218h16v8h-16zM912,218h16v8h-16zM864,226h16v8h-16zM912,226h16v8h-16zM872,234h16v8h-16zM904,234h16v8h-16zM872,242h48v8h-48zM888,250h16v8h-16zM792,346h16v8h-16zM816,346h56v8h-56zM912,346h8v8h-8zM784,354h8v8h-8zM856,354h16v8h-16zM896,354h8v8h-8zM776,362h8v8h-8zM864,362h8v8h-8zM768,370h8v8h-8zM856,370h8v8h-8zM752,378h8v8h-8zM880,378h8v8h-8zM728,386h8v8h-8zM872,386h24v8h-24zM704,394h8v8h-8zM888,394h8v8h-8zM680,410h8v8h-8zM384,426h8v8h-8zM400,426h32v8h-32zM296,434h8v8h-8zM312,434h8v8h-8zM352,434h8v8h-8zM440,434h8v8h-8zM504,434h8v8h-8zM552,434h8v8h-8zM680,434h8v8h-8zM296,442h8v8h-8zM320,442h8v8h-8zM376,442h16v8h-16zM448,442h8v8h-8zM520,442h8v8h-8zM552,442h8v8h-8zM680,442h8v8h-8zM248,450h8v8h-8zM296,450h8v8h-8zM320,450h8v8h-8zM536,450h16v8h-16zM680,450h8v8h-8zM240,458h8v8h-8zM256,458h8v8h-8zM328,458h8v8h-8zM360,458h16v8h-16zM536,458h16v8h-16zM680,458h8v8h-8zM264,466h16v8h-16zM376,466h8v8h-8zM440,466h8v8h-8zM488,466h8v8h-8zM528,466h24v8h-24zM256,474h24v8h-24zM448,474h32v8h-32zM504,474h8v8h-8zM544,474h8v8h-8zM240,482h8v8h-8zM288,482h8v8h-8zM392,482h8v8h-8zM456,482h16v8h-16zM544,482h8v8h-8zM688,482h8v8h-8zM304,490h24v8h-24zM448,490h16v8h-16zM536,490h16v8h-16zM688,490h8v8h-8zM448,498h16v8h-16zM528,498h32v8h-32zM696,498h8v8h-8zM224,506h8v8h-8zM448,506h8v8h-8zM528,506h24v8h-24zM696,506h8v8h-8zM720,506h8v8h-8zM872,506h8v8h-8zM544,514h8v8h-8zM864,514h24v8h-24zM544,522h8v8h-8zM736,522h8v8h-8zM864,522h24v8h-24zM424,530h8v8h-8zM544,530h8v8h-8zM752,530h8v8h-8zM848,530h32v8h-32zM408,538h8v8h-8zM760,538h40v8h-40zM808,538h24v8h-24zM848,538h8v8h-8zM272,546h8v8h-8zM384,546h8v8h-8zM536,546h8v8h-8zM296,562h8v8h-8zM368,562h8v8h-8zM528,562h8v8h-8zM320,570h8v8h-8zM368,570h16v8h-16zM464,570h40v8h-40zM512,570h16v8h-16zM344,578h24v8h-24zM448,578h16v8h-16zM504,578h8v8h-8zM440,586h8v8h-8zM392,602h32v8h-32zM384,610h16v8h-16zM384,618h8v8h-8zM392,626h8v8h-8zM416,642h40v8h-40zM408,650h16v8h-16zM432,650h8v8h-8zM512,682h16v8h-16zM504,690h16v8h-16zM496,698h24v8h-24zM760,698h64v8h-64zM496,706h24v8h-24zM720,706h16v8h-16zM824,706h8v8h-8zM496,714h32v8h-32zM712,714h8v8h-8zM832,714h8v8h-8zM504,722h24v8h-24zM712,722h8v8h-8zM832,722h16v8h-16zM704,730h8v8h-8zM696,738h16v8h-16zM688,746h16v8h-16zM680,754h24v8h-24zM680,762h24v8h-24zM688,770h8v8h-8zM712,778h16v8h-16zM728,786h8v8h-8zM736,794h8v8h-8z"/>
<path fill="#ff8c8c" d="M912,162h8v8h-8zM904,170h16v8h-16zM896,178h8v8h-8zM808,186h16v8h-16zM888,186h16v8h-16zM816,194h80v8h-80zM872,202h32v8h-32zM880,210h24v8h-24zM880,218h32v8h-32zM880,226h32v8h-32zM888,234h16v8h-16zM808,346h8v8h-8zM792,354h8v8h-8zM824,354h32v8h-32zM840,362h24v8h-24zM840,370h16v8h-16zM760,378h8v8h-8zM848,378h16v8h-16zM736,386h16v8h-16zM712,394h16v8h-16zM872,394h16v8h-16zM696,402h8v8h-8zM872,402h16v8h-16zM688,410h8v8h-8zM512,418h8v8h-8zM680,418h8v8h-8zM360,426h24v8h-24zM504,426h8v8h-8zM680,426h8v8h-8zM888,426h8v8h-8zM304,434h8v8h-8zM384,434h8v8h-8zM896,434h8v8h-8zM312,442h8v8h-8zM360,442h16v8h-16zM544,442h8v8h-8zM880,442h24v8h-24zM304,450h16v8h-16zM448,450h8v8h-8zM880,450h16v8h-16zM248,458h8v8h-8zM296,458h8v8h-8zM320,458h8v8h-8zM440,458h16v8h-16zM240,466h8v8h-8zM256,466h8v8h-8zM280,466h8v8h-8zM392,466h8v8h-8zM408,466h8v8h-8zM448,466h8v8h-8zM688,466h8v8h-8zM240,474h16v8h-16zM280,474h8v8h-8zM392,474h16v8h-16zM496,474h8v8h-8zM536,474h8v8h-8zM688,474h8v8h-8zM848,474h16v8h-16zM472,482h8v8h-8zM504,482h16v8h-16zM536,482h8v8h-8zM696,482h8v8h-8zM848,482h16v8h-16zM328,490h8v8h-8zM384,490h8v8h-8zM464,490h8v8h-8zM512,490h24v8h-24zM696,490h8v8h-8zM856,490h8v8h-8zM216,498h8v8h-8zM464,498h8v8h-8zM512,498h16v8h-16zM704,498h8v8h-8zM856,498h16v8h-16zM456,506h16v8h-16zM520,506h8v8h-8zM704,506h16v8h-16zM728,506h8v8h-8zM856,506h16v8h-16zM232,514h8v8h-8zM448,514h8v8h-8zM528,514h16v8h-16zM856,514h8v8h-8zM240,522h8v8h-8zM440,522h8v8h-8zM536,522h8v8h-8zM744,522h16v8h-16zM840,522h24v8h-24zM248,530h8v8h-8zM432,530h8v8h-8zM536,530h8v8h-8zM776,530h16v8h-16zM808,530h40v8h-40zM256,538h8v8h-8zM416,538h8v8h-8zM536,538h8v8h-8zM800,538h8v8h-8zM832,538h16v8h-16zM392,546h16v8h-16zM376,554h8v8h-8zM376,562h8v8h-8zM488,562h8v8h-8zM520,562h8v8h-8zM312,570h8v8h-8zM456,570h8v8h-8zM504,570h8v8h-8zM336,578h8v8h-8zM368,578h16v8h-16zM432,586h8v8h-8zM384,594h16v8h-16zM424,594h8v8h-8zM384,602h8v8h-8zM376,610h8v8h-8zM384,626h8v8h-8zM424,650h8v8h-8zM736,706h24v8h-24zM784,706h8v8h-8zM808,706h16v8h-16zM720,714h8v8h-8zM824,714h8v8h-8zM720,722h8v8h-8zM824,722h8v8h-8zM712,730h8v8h-8zM816,730h24v8h-24zM712,738h8v8h-8zM816,738h16v8h-16zM704,746h8v8h-8zM704,754h8v8h-8zM704,762h16v8h-16zM712,770h16v8h-16zM728,778h8v8h-8zM736,786h8v8h-8zM744,794h8v8h-8z"/>
<path fill="#ff9999" d="M904,154h8v8h-8zM896,162h16v8h-16zM888,170h16v8h-16zM808,178h16v8h-16zM888,178h8v8h-8zM824,186h64v8h-64zM800,354h8v8h-8zM816,354h8v8h-8zM784,362h8v8h-8zM824,362h16v8h-16zM776,370h8v8h-8zM832,370h8v8h-8zM840,378h8v8h-8zM752,386h8v8h-8zM848,386h8v8h-8zM728,394h16v8h-16zM704,402h8v8h-8zM872,410h8v8h-8zM520,418h8v8h-8zM536,418h8v8h-8zM688,418h8v8h-8zM544,426h8v8h-8zM864,426h24v8h-24zM392,434h8v8h-8zM432,434h8v8h-8zM512,434h8v8h-8zM544,434h8v8h-8zM688,434h8v8h-8zM864,434h32v8h-32zM304,442h8v8h-8zM392,442h8v8h-8zM440,442h8v8h-8zM528,442h16v8h-16zM688,442h8v8h-8zM864,442h16v8h-16zM400,450h8v8h-8zM440,450h8v8h-8zM688,450h8v8h-8zM856,450h24v8h-24zM304,458h16v8h-16zM400,458h8v8h-8zM416,458h24v8h-24zM688,458h8v8h-8zM848,458h32v8h-32zM248,466h8v8h-8zM288,466h16v8h-16zM320,466h24v8h-24zM368,466h8v8h-8zM840,466h32v8h-32zM288,474h8v8h-8zM384,474h8v8h-8zM480,474h16v8h-16zM528,474h8v8h-8zM696,474h8v8h-8zM840,474h8v8h-8zM296,482h8v8h-8zM312,482h16v8h-16zM384,482h8v8h-8zM496,482h8v8h-8zM520,482h16v8h-16zM704,482h8v8h-8zM840,482h8v8h-8zM208,490h8v8h-8zM336,490h48v8h-48zM472,490h40v8h-40zM704,490h16v8h-16zM840,490h16v8h-16zM472,498h40v8h-40zM712,498h24v8h-24zM840,498h16v8h-16zM472,506h24v8h-24zM504,506h16v8h-16zM840,506h16v8h-16zM456,514h32v8h-32zM520,514h8v8h-8zM736,514h8v8h-8zM816,514h40v8h-40zM448,522h8v8h-8zM528,522h8v8h-8zM760,522h8v8h-8zM784,522h56v8h-56zM440,530h8v8h-8zM760,530h16v8h-16zM792,530h16v8h-16zM424,538h8v8h-8zM408,546h8v8h-8zM528,546h8v8h-8zM280,554h8v8h-8zM528,554h8v8h-8zM288,562h8v8h-8zM464,562h24v8h-24zM496,562h24v8h-24zM384,570h8v8h-8zM448,570h8v8h-8zM328,578h8v8h-8zM384,578h8v8h-8zM440,578h8v8h-8zM344,586h56v8h-56zM376,594h8v8h-8zM400,594h24v8h-24zM376,602h8v8h-8zM376,618h8v8h-8zM760,706h24v8h-24zM792,706h16v8h-16zM728,714h8v8h-8zM808,714h16v8h-16zM808,722h16v8h-16zM720,730h8v8h-8zM800,730h16v8h-16zM720,738h8v8h-8zM800,738h16v8h-16zM712,746h8v8h-8zM800,746h16v8h-16zM712,754h8v8h-8zM720,762h8v8h-8zM728,770h8v8h-8z"/>
<path fill="#ffa6a6" d="M816,154h8v8h-8zM896,154h8v8h-8zM816,162h8v8h-8zM888,162h8v8h-8zM816,170h16v8h-16zM880,170h8v8h-8zM824,178h24v8h-24zM864,178h24v8h-24zM808,354h8v8h-8zM816,362h8v8h-8zM824,370h8v8h-8zM768,378h8v8h-8zM760,386h8v8h-8zM840,386h8v8h-8zM744,394h8v8h-8zM712,402h16v8h-16zM696,410h8v8h-8zM528,418h8v8h-8zM688,426h8v8h-8zM360,434h24v8h-24zM400,434h32v8h-32zM840,442h24v8h-24zM840,450h16v8h-16zM408,458h8v8h-8zM832,458h16v8h-16zM304,466h16v8h-16zM344,466h24v8h-24zM400,466h8v8h-8zM696,466h8v8h-8zM832,466h8v8h-8zM296,474h40v8h-40zM376,474h8v8h-8zM520,474h8v8h-8zM704,474h8v8h-8zM832,474h8v8h-8zM304,482h8v8h-8zM328,482h8v8h-8zM480,482h16v8h-16zM712,482h16v8h-16zM832,482h8v8h-8zM728,490h16v8h-16zM832,490h8v8h-8zM736,498h8v8h-8zM824,498h16v8h-16zM496,506h8v8h-8zM736,506h8v8h-8zM808,506h32v8h-32zM488,514h32v8h-32zM744,514h32v8h-32zM784,514h32v8h-32zM456,522h32v8h-32zM520,522h8v8h-8zM768,522h16v8h-16zM448,530h8v8h-8zM528,530h8v8h-8zM432,538h8v8h-8zM528,538h8v8h-8zM264,546h8v8h-8zM416,546h8v8h-8zM384,554h24v8h-24zM472,554h40v8h-40zM384,562h16v8h-16zM448,562h16v8h-16zM304,570h8v8h-8zM392,570h8v8h-8zM440,570h8v8h-8zM320,578h8v8h-8zM392,578h8v8h-8zM432,578h8v8h-8zM400,586h8v8h-8zM424,586h8v8h-8zM352,594h24v8h-24zM368,602h8v8h-8zM368,610h8v8h-8zM368,618h8v8h-8zM736,714h72v8h-72zM728,722h8v8h-8zM776,722h32v8h-32zM728,730h8v8h-8zM776,730h24v8h-24zM784,738h16v8h-16zM720,746h8v8h-8zM784,746h16v8h-16zM720,754h8v8h-8zM784,754h16v8h-16zM728,762h8v8h-8zM736,770h8v8h-8z"/>
<path fill="#ffb2b2" d="M816,130h8v8h-8zM816,138h16v8h-16zM896,138h8v8h-8zM816,146h16v8h-16zM888,146h16v8h-16zM824,154h16v8h-16zM888,154h8v8h-8zM824,162h24v8h-24zM880,162h8v8h-8zM832,170h24v8h-24zM864,170h16v8h-16zM848,178h16v8h-16zM792,362h24v8h-24zM784,370h8v8h-8zM816,370h8v8h-8zM776,378h8v8h-8zM832,378h8v8h-8zM752,394h8v8h-8zM840,394h8v8h-8zM728,402h16v8h-16zM840,402h8v8h-8zM704,410h8v8h-8zM696,418h8v8h-8zM512,426h8v8h-8zM832,426h16v8h-16zM520,434h8v8h-8zM832,434h16v8h-16zM400,442h8v8h-8zM432,442h8v8h-8zM832,442h8v8h-8zM408,450h16v8h-16zM432,450h8v8h-8zM696,450h8v8h-8zM832,450h8v8h-8zM696,458h8v8h-8zM824,458h8v8h-8zM704,466h8v8h-8zM824,466h8v8h-8zM336,474h8v8h-8zM368,474h8v8h-8zM712,474h32v8h-32zM824,474h8v8h-8zM368,482h16v8h-16zM728,482h16v8h-16zM824,482h8v8h-8zM720,490h8v8h-8zM744,490h8v8h-8zM816,490h16v8h-16zM744,498h8v8h-8zM800,498h24v8h-24zM744,506h64v8h-64zM224,514h8v8h-8zM776,514h8v8h-8zM232,522h8v8h-8zM488,522h32v8h-32zM456,530h48v8h-48zM520,530h8v8h-8zM440,538h16v8h-16zM472,538h24v8h-24zM424,546h24v8h-24zM472,546h40v8h-40zM520,546h8v8h-8zM408,554h8v8h-8zM440,554h32v8h-32zM512,554h16v8h-16zM400,562h8v8h-8zM440,562h8v8h-8zM400,570h8v8h-8zM432,570h8v8h-8zM312,578h8v8h-8zM400,578h8v8h-8zM328,586h16v8h-16zM408,586h16v8h-16zM360,602h8v8h-8zM360,610h8v8h-8zM736,722h40v8h-40zM768,730h8v8h-8zM728,738h8v8h-8zM776,738h8v8h-8zM728,746h8v8h-8zM776,746h8v8h-8zM728,754h8v8h-8zM776,754h8v8h-8zM736,762h16v8h-16zM768,762h8v8h-8z"/>
<path fill="#ffbfbf" d="M824,122h16v8h-16zM824,130h16v8h-16zM888,130h8v8h-8zM832,138h16v8h-16zM888,138h8v8h-8zM832,146h16v8h-16zM840,154h16v8h-16zM880,154h8v8h-8zM848,162h32v8h-32zM856,170h8v8h-8zM808,370h8v8h-8zM784,378h8v8h-8zM816,378h16v8h-16zM768,386h8v8h-8zM824,386h16v8h-16zM760,394h8v8h-8zM832,394h8v8h-8zM744,402h8v8h-8zM832,402h8v8h-8zM712,410h8v8h-8zM728,410h16v8h-16zM704,418h8v8h-8zM520,426h8v8h-8zM536,426h8v8h-8zM696,426h8v8h-8zM824,426h8v8h-8zM528,434h16v8h-16zM696,434h8v8h-8zM824,434h8v8h-8zM408,442h24v8h-24zM696,442h8v8h-8zM824,442h8v8h-8zM424,450h8v8h-8zM816,450h16v8h-16zM704,458h8v8h-8zM816,458h8v8h-8zM712,466h40v8h-40zM816,466h8v8h-8zM352,474h16v8h-16zM744,474h8v8h-8zM808,474h16v8h-16zM336,482h8v8h-8zM352,482h16v8h-16zM744,482h16v8h-16zM800,482h24v8h-24zM752,490h16v8h-16zM792,490h24v8h-24zM208,498h8v8h-8zM752,498h48v8h-48zM216,506h8v8h-8zM240,530h8v8h-8zM504,530h16v8h-16zM248,538h8v8h-8zM456,538h16v8h-16zM496,538h32v8h-32zM256,546h8v8h-8zM448,546h24v8h-24zM512,546h8v8h-8zM272,554h8v8h-8zM416,554h24v8h-24zM408,562h32v8h-32zM296,570h8v8h-8zM408,570h8v8h-8zM424,570h8v8h-8zM408,578h24v8h-24zM320,586h8v8h-8zM344,594h8v8h-8zM352,602h8v8h-8zM360,618h8v8h-8zM360,626h8v8h-8zM736,730h32v8h-32zM736,738h8v8h-8zM760,738h16v8h-16zM736,746h8v8h-8zM760,746h16v8h-16zM736,754h16v8h-16zM760,754h16v8h-16zM752,762h16v8h-16z"/>
<path fill="#ffcccc" d="M848,114h8v8h-8zM840,122h48v8h-48zM840,130h16v8h-16zM872,130h16v8h-16zM848,138h8v8h-8zM872,138h16v8h-16zM848,146h16v8h-16zM872,146h16v8h-16zM856,154h24v8h-24zM792,370h16v8h-16zM808,378h8v8h-8zM776,386h8v8h-8zM816,386h8v8h-8zM824,394h8v8h-8zM752,402h16v8h-16zM824,402h8v8h-8zM720,410h8v8h-8zM744,410h16v8h-16zM816,410h16v8h-16zM736,418h8v8h-8zM808,418h16v8h-16zM528,426h8v8h-8zM704,426h8v8h-8zM808,426h16v8h-16zM704,434h8v8h-8zM808,434h16v8h-16zM704,442h8v8h-8zM808,442h16v8h-16zM704,450h16v8h-16zM736,450h8v8h-8zM808,450h8v8h-8zM712,458h40v8h-40zM808,458h8v8h-8zM752,466h8v8h-8zM800,466h16v8h-16zM344,474h8v8h-8zM752,474h16v8h-16zM792,474h16v8h-16zM344,482h8v8h-8zM760,482h8v8h-8zM784,482h16v8h-16zM768,490h24v8h-24zM280,562h8v8h-8zM416,570h8v8h-8zM336,594h8v8h-8zM344,602h8v8h-8zM352,610h8v8h-8zM744,738h16v8h-16zM744,746h16v8h-16zM752,754h8v8h-8z"/>
<path fill="#ffd9d9" d="M856,130h16v8h-16zM856,138h16v8h-16zM864,146h8v8h-8zM792,378h16v8h-16zM784,386h16v8h-16zM808,386h8v8h-8zM768,394h16v8h-16zM816,394h8v8h-8zM768,402h8v8h-8zM808,402h16v8h-16zM760,410h8v8h-8zM800,410h16v8h-16zM712,418h24v8h-24zM744,418h24v8h-24zM800,418h8v8h-8zM712,426h8v8h-8zM728,426h40v8h-40zM800,426h8v8h-8zM712,434h48v8h-48zM800,434h8v8h-8zM712,442h40v8h-40zM800,442h8v8h-8zM720,450h16v8h-16zM744,450h8v8h-8zM792,450h16v8h-16zM752,458h16v8h-16zM792,458h16v8h-16zM760,466h40v8h-40zM768,474h24v8h-24zM768,482h16v8h-16zM288,570h8v8h-8zM304,578h8v8h-8zM312,586h8v8h-8zM328,594h8v8h-8zM344,610h8v8h-8zM352,618h8v8h-8zM352,626h8v8h-8z"/>
<path fill="#ffe6e6" d="M800,386h8v8h-8zM784,394h32v8h-32zM776,402h32v8h-32zM768,410h32v8h-32zM768,418h32v8h-32zM720,426h8v8h-8zM768,426h32v8h-32zM760,434h40v8h-40zM752,442h48v8h-48zM752,450h40v8h-40zM768,458h24v8h-24zM200,498h8v8h-8zM224,522h8v8h-8zM232,530h8v8h-8zM248,546h8v8h-8zM264,554h8v8h-8zM320,594h8v8h-8zM336,602h8v8h-8zM344,618h8v8h-8zM352,634h8v8h-8z"/>
<path fill="#fff2f2" d="M208,506h8v8h-8zM216,514h8v8h-8zM280,570h8v8h-8zM296,578h8v8h-8zM312,594h8v8h-8zM328,602h8v8h-8zM336,610h8v8h-8z"/>
<path fill="#ffffff" d="M240,538h8v8h-8zM256,554h8v8h-8zM272,562h8v8h-8zM304,586h8v8h-8zM320,602h8v8h-8zM328,610h8v8h-8zM336,618h8v8h-8z"/>
<path fill="#f2f2ff" d="M200,506h8v8h-8zM224,530h8v8h-8zM248,554h8v8h-8zM288,578h8v8h-8zM312,602h8v8h-8zM320,610h8v8h-8zM328,618h8v8h-8z"/>
<path fill="#e6e6ff" d="M208,514h8v8h-8zM216,522h8v8h-8zM240,546h8v8h-8zM272,570h8v8h-8zM280,578h8v8h-8zM296,586h8v8h-8zM304,594h8v8h-8z"/>
<path fill="#d9d9ff" d="M232,538h8v8h-8zM264,562h8v8h-8zM312,610h8v8h-8zM320,618h8v8h-8z"/>
<path fill="#ccccff" d="M200,514h8v8h-8zM216,530h8v8h-8zM256,562h8v8h-8zM304,602h8v8h-8z"/>
<path fill="#bfbfff" d="M224,538h8v8h-8zM264,570h8v8h-8zM272,578h8v8h-8zM296,594h8v8h-8z"/>
<path fill="#b2b2ff" d="M200,522h16v8h-16zM216,538h8v8h-8zM232,546h8v8h-8zM280,586h16v8h-16z"/>
<path fill="#a6a6ff" d="M208,530h8v8h-8zM232,554h8v8h-8zM264,578h8v8h-8zM288,594h8v8h-8zM296,602h8v8h-8zM304,610h8v8h-8z"/>
<path fill="#9999ff" d="M224,546h8v8h-8z"/>
<path d="M813.8,192.0h0M906.0,175.0h0M912.1,173.7h0M802.8,203.4h0M809.0,202.5h0M815.2,201.6h0M821.5,200.7h0M827.7,199.8h0M833.9,198.8h0M840.1,197.7h0M846.3,196.7h0M852.5,195.6h0M858.7,194.5h0M889.6,188.5h0M895.8,187.2h0M902.0,185.9h0M908.1,184.5h0M914.3,183.2h0" fill="none" stroke="#b2aeae" stroke-width="4.5" stroke-linecap="round"/>
<path d="M778.9,216.2h0M785.2,215.5h0M791.5,214.7h0M797.8,213.9h0M804.1,213.0h0M810.4,212.2h0M816.6,211.3h0M822.9,210.3h0M829.2,209.4h0M835.5,208.4h0M841.7,207.4h0M848.0,206.3h0M854.2,205.2h0M860.5,204.1h0M866.7,203.0h0M885.4,199.3h0M891.6,198.1h0M897.8,196.8h0M904.0,195.4h0M910.2,194.1h0M916.4,192.7h0M922.6,191.2h0M928.8,189.8h0M935.0,188.3h0M941.1,186.8h0M947.3,185.2h0M397.9,213.4h0M404.2,214.5h0M410.5,215.6h0M773.6,226.6h0M780.0,225.9h0M786.3,225.2h0M792.7,224.4h0M799.0,223.6h0M805.4,222.7h0M811.7,221.8h0M818.0,220.9h0M824.4,220.0h0M830.7,219.0h0M837.0,218.0h0M843.3,217.0h0M849.6,215.9h0M855.9,214.8h0M862.2,213.7h0M868.5,212.5h0M874.8,211.4h0M881.1,210.1h0M887.3,208.9h0M893.6,207.6h0M899.9,206.3h0M906.1,205.0h0M912.4,203.6h0M918.6,202.2h0M924.8,200.7h0M931.0,199.3h0M937.3,197.8h0M943.5,196.3h0M949.7,194.7h0M955.9,193.1h0M383.5,220.6h0M389.9,221.8h0M396.2,223.0h0M402.5,224.1h0M408.9,225.2h0M415.2,226.3h0M774.7,236.3h0M781.1,235.6h0M787.5,234.8h0M793.9,234.0h0M800.3,233.2h0M806.7,232.4h0M813.1,231.5h0M819.4,230.6h0M825.8,229.6h0M832.2,228.7h0M838.6,227.6h0M844.9,226.6h0M851.3,225.5h0M857.6,224.4h0M864.0,223.3h0M870.3,222.1h0M876.6,220.9h0M882.9,219.7h0M895.6,217.2h0M901.9,215.8h0M908.2,214.5h0M914.5,213.1h0M920.8,211.7h0M927.0,210.2h0M933.3,208.8h0M939.6,207.3h0M945.8,205.7h0M952.1,204.1h0M958.3,202.5h0M964.5,200.9h0M1001.8,190.5h0M1007.9,188.6h0M1014.1,186.8h0M375.3,228.9h0M381.7,230.1h0M388.1,231.4h0M394.4,232.5h0M400.8,233.7h0M407.2,234.8h0M413.6,235.9h0M420.0,237.0h0M426.4,238.0h0M432.8,239.0h0M775.8,246.0h0M782.2,245.3h0M788.7,244.5h0M820.9,240.2h0M827.3,239.3h0M833.7,238.3h0M840.1,237.3h0M846.5,236.2h0M852.9,235.1h0M859.3,234.0h0M865.7,232.9h0M872.1,231.7h0M878.5,230.5h0M884.8,229.3h0M910.2,224.0h0M916.6,222.6h0M922.9,221.2h0M929.2,219.7h0M935.6,218.2h0M941.9,216.7h0M948.2,215.2h0M954.5,213.6h0M960.8,212.0h0M967.0,210.3h0M973.3,208.7h0M979.6,207.0h0M985.8,205.2h0M992.1,203.5h0M998.3,201.7h0M1004.5,199.8h0M1010.8,198.0h0M1017.0,196.1h0M379.8,239.7h0M386.3,240.9h0M392.7,242.1h0M399.1,243.3h0M405.6,244.4h0M412.0,245.5h0M418.5,246.6h0M424.9,247.6h0M431.4,248.6h0M437.8,249.6h0M828.7,248.9h0M835.2,247.9h0M841.7,246.9h0M848.1,245.8h0M854.6,244.8h0M861.0,243.6h0M867.4,242.5h0M873.9,241.3h0M880.3,240.1h0M886.7,238.8h0M893.1,237.6h0M899.5,236.2h0M905.9,234.9h0M912.3,233.5h0M918.7,232.1h0M925.1,230.7h0M931.5,229.2h0M937.8,227.7h0M944.2,226.2h0M950.5,224.6h0M956.9,223.0h0M963.2,221.4h0M969.5,219.8h0M975.8,218.1h0M982.2,216.4h0M988.5,214.6h0M994.7,212.8h0M1001.0,211.0h0M1007.3,209.2h0M1013.6,207.3h0M339.3,241.2h0M345.7,242.7h0M352.2,244.0h0M358.6,245.4h0M365.1,246.7h0M371.5,248.0h0M378.0,249.3h0M384.5,250.5h0M390.9,251.7h0M397.4,252.9h0M403.9,254.0h0M410.4,255.1h0M416.9,256.2h0M423.4,257.3h0M429.9,258.3h0M436.4,259.2h0M442.9,260.2h0M817.2,260.5h0M830.2,258.6h0M836.7,257.6h0M843.2,256.5h0M849.7,255.5h0M856.2,254.4h0M862.7,253.2h0M869.2,252.1h0M875.6,250.9h0M882.1,249.7h0M888.6,248.4h0M895.0,247.1h0M901.5,245.8h0M907.9,244.4h0M914.4,243.1h0M920.8,241.6h0M927.2,240.2h0M933.7,238.7h0M940.1,237.2h0M946.5,235.7h0M952.9,234.1h0M959.3,232.5h0M965.6,230.9h0M972.0,229.2h0M978.4,227.5h0M984.7,225.8h0M991.1,224.0h0M997.4,222.2h0M1003.8,220.4h0M1010.1,218.5h0M1016.4,216.6h0M330.7,249.3h0M337.2,250.7h0M343.6,252.2h0M350.1,253.6h0M356.6,254.9h0M363.1,256.3h0M369.6,257.6h0M376.1,258.9h0M382.7,260.1h0M389.2,261.3h0M395.7,262.5h0M402.2,263.6h0M408.8,264.8h0M415.3,265.8h0M421.9,266.9h0M428.4,267.9h0M435.0,268.9h0M441.6,269.8h0M792.2,273.6h0M798.8,272.7h0M805.4,271.9h0M811.9,271.0h0M818.5,270.1h0M825.1,269.2h0M831.6,268.2h0M838.2,267.2h0M844.8,266.1h0M851.3,265.1h0M857.8,264.0h0M864.4,262.8h0M870.9,261.7h0M877.4,260.5h0M884.0,259.2h0M890.5,258.0h0M897.0,256.7h0M903.5,255.3h0M910.0,254.0h0M916.5,252.6h0M922.9,251.2h0M929.4,249.7h0M935.9,248.2h0M942.3,246.7h0M948.8,245.1h0M955.2,243.6h0M961.7,241.9h0M968.1,240.3h0M974.5,238.6h0M980.9,236.9h0M987.3,235.2h0M993.7,233.4h0M1000.1,231.6h0M1006.5,229.7h0M1012.8,227.9h0M328.5,258.8h0M335.0,260.3h0M341.6,261.7h0M348.1,263.1h0M354.6,264.5h0M361.2,265.8h0M367.7,267.2h0M374.3,268.4h0M380.9,269.7h0M387.4,270.9h0M394.0,272.1h0M400.6,273.3h0M407.2,274.4h0M413.8,275.5h0M420.4,276.5h0M427.0,277.5h0M433.6,278.5h0M786.7,284.0h0M793.4,283.2h0M800.0,282.4h0M806.6,281.6h0M813.3,280.7h0M819.9,279.8h0M826.5,278.8h0M833.1,277.8h0M839.7,276.8h0M846.3,275.8h0M852.9,274.7h0M859.5,273.6h0M866.1,272.4h0M872.7,271.3h0M879.2,270.1h0M885.8,268.8h0M892.4,267.5h0M898.9,266.2h0M905.5,264.9h0M912.0,263.5h0M918.5,262.1h0M925.1,260.7h0M931.6,259.2h0M938.1,257.7h0M944.6,256.2h0M951.1,254.6h0M957.6,253.0h0M964.1,251.4h0M970.5,249.7h0M977.0,248.0h0M983.5,246.3h0M989.9,244.6h0M996.3,242.8h0M1002.8,241.0h0M1009.2,239.1h0M313.2,265.2h0M319.8,266.8h0M326.3,268.3h0M332.9,269.8h0M339.5,271.2h0M346.1,272.6h0M352.6,274.0h0M359.2,275.4h0M365.8,276.7h0M372.4,278.0h0M379.1,279.3h0M385.7,280.5h0M392.3,281.7h0M398.9,282.9h0M405.6,284.0h0M412.2,285.1h0M418.8,286.1h0M425.5,287.2h0M432.2,288.2h0M438.8,289.1h0M761.1,296.5h0M767.8,295.9h0M774.5,295.2h0M781.2,294.5h0M787.8,293.7h0M794.5,292.9h0M801.2,292.1h0M807.9,291.2h0M814.6,290.3h0M821.2,289.4h0M827.9,288.5h0M834.6,287.5h0M841.2,286.5h0M847.9,285.4h0M854.5,284.3h0M861.1,283.2h0M867.8,282.0h0M874.4,280.9h0M881.0,279.6h0M887.6,278.4h0M894.2,277.1h0M900.8,275.8h0M907.4,274.4h0M914.0,273.1h0M920.6,271.6h0M927.2,270.2h0M933.7,268.7h0M940.3,267.2h0M946.9,265.7h0M953.4,264.1h0M959.9,262.5h0M966.5,260.8h0M973.0,259.2h0M979.5,257.5h0M986.0,255.7h0M992.5,254.0h0M999.0,252.2h0M1005.5,250.3h0M1011.9,248.5h0M291.2,269.8h0M297.8,271.5h0M304.4,273.1h0M311.0,274.7h0M317.6,276.3h0M324.2,277.8h0M330.8,279.3h0M337.4,280.8h0M344.0,282.2h0M350.7,283.6h0M357.3,285.0h0M363.9,286.3h0M370.6,287.6h0M377.2,288.9h0M383.9,290.1h0M390.6,291.3h0M397.3,292.5h0M403.9,293.6h0M410.6,294.7h0M417.3,295.8h0M424.0,296.8h0M430.7,297.8h0M437.4,298.8h0M444.2,299.7h0M450.9,300.6h0M457.6,301.5h0M464.3,302.3h0M471.1,303.2h0M477.8,303.9h0M728.2,309.1h0M735.0,308.6h0M741.7,308.0h0M748.5,307.5h0M755.3,306.9h0M762.0,306.2h0M768.8,305.6h0M775.5,304.9h0M782.2,304.1h0M789.0,303.4h0M795.7,302.6h0M802.4,301.8h0M809.2,300.9h0M815.9,300.0h0M822.6,299.1h0M829.3,298.1h0M836.0,297.1h0M842.7,296.1h0M849.4,295.0h0M856.1,293.9h0M862.8,292.8h0M869.5,291.6h0M876.1,290.4h0M882.8,289.2h0M889.5,288.0h0M896.1,286.7h0M902.8,285.3h0M909.4,284.0h0M916.0,282.6h0M922.7,281.2h0M929.3,279.7h0M935.9,278.2h0M942.5,276.7h0M949.1,275.2h0M955.7,273.6h0M962.3,271.9h0M968.9,270.3h0M975.4,268.6h0M982.0,266.9h0M295.4,280.9h0M302.1,282.6h0M308.7,284.2h0M315.3,285.7h0M322.0,287.3h0M328.6,288.8h0M335.3,290.3h0M342.0,291.7h0M348.7,293.1h0M355.3,294.5h0M362.0,295.8h0M368.7,297.2h0M375.4,298.4h0M382.2,299.7h0M388.9,300.9h0M395.6,302.1h0M402.3,303.2h0M409.1,304.3h0M415.8,305.4h0M422.6,306.5h0M429.3,307.5h0M436.1,308.4h0M442.8,309.4h0M449.6,310.3h0M456.4,311.2h0M463.1,312.0h0M469.9,312.8h0M476.7,313.6h0M483.5,314.4h0M490.3,315.1h0M497.1,315.8h0M722.1,319.2h0M728.9,318.8h0M735.7,318.3h0M742.5,317.7h0M749.3,317.2h0M756.1,316.6h0M762.9,315.9h0M769.7,315.3h0M776.5,314.6h0M783.3,313.8h0M790.1,313.1h0M796.9,312.3h0M803.6,311.4h0M810.4,310.6h0M817.2,309.7h0M824.0,308.7h0M830.7,307.8h0M837.5,306.8h0M844.2,305.7h0M851.0,304.7h0M857.7,303.5h0M864.4,302.4h0M871.2,301.2h0M877.9,300.0h0M884.6,298.8h0M891.3,297.5h0M898.0,296.2h0M904.7,294.9h0M911.4,293.5h0M918.1,292.1h0M924.7,290.7h0M931.4,289.2h0M938.1,287.7h0M944.7,286.2h0M951.4,284.6h0M958.0,283.0h0M964.6,281.4h0M971.3,279.7h0M977.9,278.1h0M984.5,276.3h0M991.1,274.6h0M293.1,290.4h0M299.7,292.0h0M306.4,293.7h0M313.1,295.2h0M319.8,296.8h0M326.5,298.3h0M333.2,299.8h0M339.9,301.3h0M346.7,302.7h0M353.4,304.1h0M360.1,305.4h0M366.9,306.7h0M373.6,308.0h0M380.4,309.3h0M387.2,310.5h0M393.9,311.7h0M400.7,312.8h0M407.5,314.0h0M414.3,315.0h0M421.1,316.1h0M427.9,317.1h0M434.7,318.1h0M441.5,319.1h0M448.3,320.0h0M455.1,320.9h0M462.0,321.7h0M468.8,322.5h0M475.6,323.3h0M482.5,324.1h0M489.3,324.8h0M496.1,325.5h0M729.6,328.5h0M736.5,328.0h0M743.3,327.5h0M750.2,326.9h0M757.0,326.3h0M763.9,325.6h0M770.7,325.0h0M777.5,324.3h0M784.4,323.5h0M791.2,322.8h0M798.0,321.9h0M804.9,321.1h0M811.7,320.2h0M818.5,319.3h0M825.3,318.4h0M832.1,317.4h0M838.9,316.4h0M845.7,315.4h0M852.5,314.3h0M859.3,313.2h0M866.1,312.0h0M872.8,310.8h0M879.6,309.6h0M886.4,308.4h0M893.1,307.1h0M899.9,305.8h0M906.6,304.5h0M913.4,303.1h0M920.1,301.7h0M926.8,300.2h0M933.5,298.8h0M940.2,297.2h0M946.9,295.7h0M953.6,294.1h0M960.3,292.5h0M967.0,290.9h0M973.7,289.2h0M980.3,287.5h0M987.0,285.8h0M993.6,284.0h0M290.7,299.8h0M297.4,301.5h0M304.1,303.1h0M310.9,304.7h0M317.6,306.3h0M324.4,307.8h0M331.1,309.3h0M337.9,310.8h0M344.7,312.2h0M351.5,313.6h0M358.2,315.0h0M365.0,316.3h0M371.8,317.6h0M378.7,318.9h0M385.5,320.1h0M392.3,321.3h0M399.1,322.5h0M405.9,323.6h0M412.8,324.7h0M419.6,325.7h0M426.5,326.8h0M433.3,327.8h0M440.2,328.7h0M447.0,329.6h0M453.9,330.5h0M460.8,331.4h0M467.7,332.2h0M474.5,333.0h0M481.4,333.8h0M488.3,334.5h0M495.2,335.2h0M502.1,335.8h0M716.5,339.1h0M723.4,338.7h0M730.3,338.2h0M737.2,337.7h0M744.1,337.2h0M751.0,336.6h0M757.9,336.0h0M764.8,335.4h0M771.7,334.7h0M778.6,334.0h0M785.5,333.2h0M792.3,332.4h0M799.2,331.6h0M806.1,330.8h0M812.9,329.9h0M819.8,329.0h0M826.7,328.0h0M833.5,327.1h0M840.4,326.0h0M847.2,325.0h0M854.1,323.9h0M860.9,322.8h0M867.7,321.6h0M874.5,320.4h0M881.4,319.2h0M888.2,318.0h0M895.0,316.7h0M901.8,315.4h0M908.6,314.0h0M915.3,312.6h0M922.1,311.2h0M928.9,309.8h0M935.6,308.3h0M942.4,306.7h0M949.1,305.2h0M955.9,303.6h0M962.6,302.0h0M969.3,300.3h0M976.1,298.6h0M982.8,296.9h0M989.5,295.2h0M996.1,293.4h0M288.3,309.3h0M295.1,311.0h0M301.9,312.6h0M308.7,314.2h0M315.4,315.8h0M322.2,317.3h0M329.1,318.8h0M335.9,320.3h0M342.7,321.8h0M349.5,323.2h0M356.4,324.5h0M363.2,325.9h0M370.0,327.2h0M376.9,328.5h0M383.8,329.7h0M390.6,330.9h0M397.5,332.1h0M404.4,333.2h0M411.3,334.3h0M418.2,335.4h0M425.0,336.4h0M431.9,337.4h0M438.9,338.4h0M445.8,339.3h0M452.7,340.2h0M459.6,341.1h0M466.5,341.9h0M473.4,342.7h0M480.4,343.4h0M487.3,344.2h0M494.2,344.9h0M501.2,345.5h0M508.1,346.1h0M515.1,346.7h0M522.0,347.3h0M529.0,347.8h0M535.9,348.3h0M710.1,349.3h0M717.1,348.9h0M724.0,348.4h0M731.0,348.0h0M737.9,347.4h0M744.9,346.9h0M751.8,346.3h0M758.8,345.7h0M765.7,345.1h0M772.7,344.4h0M779.6,343.7h0M786.5,342.9h0M793.5,342.1h0M800.4,341.3h0M807.3,340.5h0M814.2,339.6h0M821.1,338.6h0M828.0,337.7h0M834.9,336.7h0M841.8,335.7h0M848.7,334.6h0M855.6,333.5h0M862.5,332.4h0M869.4,331.2h0M876.2,330.0h0M883.1,328.8h0M889.9,327.6h0M896.8,326.3h0M903.6,324.9h0M910.5,323.6h0M917.3,322.2h0M924.1,320.7h0M931.0,319.3h0M937.8,317.8h0M944.6,316.3h0M951.4,314.7h0M958.1,313.1h0M964.9,311.5h0M971.7,309.8h0M978.5,308.1h0M992.0,304.6h0M279.2,317.0h0M286.0,318.8h0M292.8,320.4h0M299.6,322.1h0M306.4,323.7h0M313.3,325.3h0M320.1,326.9h0M327.0,328.4h0M333.8,329.9h0M340.7,331.3h0M347.6,332.7h0M354.5,334.1h0M361.3,335.5h0M368.2,336.8h0M375.1,338.0h0M382.1,339.3h0M389.0,340.5h0M395.9,341.7h0M402.8,342.8h0M409.7,343.9h0M416.7,345.0h0M423.6,346.1h0M430.6,347.1h0M437.5,348.0h0M444.5,349.0h0M451.4,349.9h0M458.4,350.7h0M465.4,351.6h0M472.4,352.4h0M479.3,353.1h0M486.3,353.9h0M493.3,354.6h0M500.3,355.2h0M507.3,355.9h0M514.3,356.5h0M521.3,357.0h0M528.3,357.5h0M535.3,358.0h0M542.3,358.5h0M549.3,358.9h0M556.3,359.3h0M563.3,359.6h0M570.3,360.0h0M577.3,360.2h0M584.4,360.5h0M661.6,360.9h0M668.6,360.8h0M675.6,360.6h0M682.6,360.3h0M689.6,360.0h0M696.6,359.7h0M703.6,359.4h0M710.7,359.0h0M717.7,358.6h0M724.7,358.2h0M731.7,357.7h0M738.7,357.2h0M745.7,356.6h0M752.7,356.0h0M759.7,355.4h0M766.7,354.8h0M773.6,354.1h0M780.6,353.4h0M787.6,352.6h0M794.6,351.8h0M801.5,351.0h0M808.5,350.1h0M815.5,349.2h0M822.4,348.3h0M829.4,347.3h0M836.3,346.3h0M843.3,345.3h0M850.2,344.3h0M857.2,343.2h0M864.1,342.0h0M871.0,340.9h0M877.9,339.7h0M884.8,338.4h0M891.7,337.1h0M898.6,335.8h0M905.5,334.5h0M912.4,333.1h0M919.3,331.7h0M926.2,330.3h0M933.0,328.8h0M939.9,327.3h0M946.7,325.8h0M953.6,324.2h0M960.4,322.6h0M967.2,320.9h0M974.0,319.3h0M269.9,324.7h0M276.7,326.5h0M283.6,328.2h0M290.5,329.9h0M297.3,331.6h0M304.2,333.2h0M311.1,334.8h0M318.0,336.4h0M324.9,337.9h0M331.8,339.4h0M338.7,340.9h0M345.6,342.3h0M352.6,343.7h0M359.5,345.0h0M366.4,346.3h0M373.4,347.6h0M380.3,348.9h0M387.3,350.1h0M394.3,351.3h0M401.3,352.4h0M408.2,353.6h0M415.2,354.6h0M422.2,355.7h0M429.2,356.7h0M436.2,357.7h0M443.2,358.6h0M450.2,359.5h0M457.2,360.4h0M464.2,361.3h0M471.3,362.1h0M478.3,362.8h0M485.3,363.6h0M492.4,364.3h0M499.4,364.9h0M506.4,365.6h0M513.5,366.2h0M520.5,366.7h0M527.6,367.3h0M534.6,367.8h0M541.7,368.2h0M548.7,368.6h0M555.8,369.0h0M562.8,369.4h0M569.9,369.7h0M577.0,370.0h0M584.0,370.2h0M591.1,370.4h0M598.2,370.6h0M605.2,370.8h0M612.3,370.9h0M633.5,371.0h0M640.6,371.0h0M647.6,370.9h0M654.7,370.8h0M661.8,370.7h0M668.8,370.5h0M675.9,370.3h0M683.0,370.1h0M690.0,369.8h0M697.1,369.5h0M704.1,369.1h0M711.2,368.8h0M718.3,368.3h0M725.3,367.9h0M732.4,367.4h0M739.4,366.9h0M746.5,366.3h0M753.5,365.8h0M760.5,365.1h0M767.6,364.5h0M774.6,363.8h0M781.6,363.1h0M837.7,356.0h0M844.7,355.0h0M851.7,353.9h0M858.7,352.8h0M865.7,351.6h0M872.7,350.5h0M879.6,349.3h0M886.6,348.0h0M893.5,346.7h0M900.5,345.4h0M907.4,344.1h0M914.3,342.7h0M921.3,341.3h0M928.2,339.8h0M935.1,338.3h0M942.0,336.8h0M948.9,335.3h0M955.8,333.7h0M240.0,326.7h0M246.8,328.6h0M253.7,330.5h0M260.6,332.3h0M267.4,334.2h0M274.3,335.9h0M281.2,337.7h0M288.1,339.4h0M295.1,341.1h0M302.0,342.7h0M308.9,344.3h0M315.9,345.9h0M322.8,347.4h0M329.8,348.9h0M336.7,350.4h0M343.7,351.8h0M350.7,353.2h0M357.7,354.6h0M364.6,355.9h0M371.6,357.2h0M378.6,358.5h0M385.7,359.7h0M392.7,360.9h0M399.7,362.1h0M406.7,363.2h0M413.7,364.3h0M420.8,365.3h0M427.8,366.4h0M434.9,367.3h0M441.9,368.3h0M449.0,369.2h0M456.0,370.1h0M463.1,370.9h0M470.2,371.8h0M477.3,372.5h0M484.3,373.3h0M491.4,374.0h0M498.5,374.6h0M505.6,375.3h0M512.7,375.9h0M519.8,376.5h0M526.9,377.0h0M534.0,377.5h0M541.1,377.9h0M548.2,378.4h0M555.3,378.8h0M562.4,379.1h0M569.5,379.4h0M576.6,379.7h0M583.7,380.0h0M590.8,380.2h0M597.9,380.4h0M605.1,380.5h0M612.2,380.6h0M619.3,380.7h0M626.4,380.7h0M633.5,380.7h0M640.6,380.7h0M647.7,380.7h0M654.9,380.6h0M662.0,380.4h0M669.1,380.2h0M676.2,380.0h0M683.3,379.8h0M690.4,379.5h0M697.5,379.2h0M704.6,378.9h0M711.8,378.5h0M718.9,378.1h0M726.0,377.6h0M733.1,377.1h0M740.2,376.6h0M747.2,376.1h0M754.3,375.5h0M761.4,374.8h0M768.5,374.2h0M775.6,373.5h0M846.2,364.6h0M860.3,362.4h0M867.3,361.3h0M874.3,360.1h0M881.3,358.9h0M888.3,357.6h0M895.3,356.3h0M902.3,355.0h0M909.3,353.6h0M916.3,352.2h0M923.2,350.8h0M930.2,349.4h0M937.2,347.9h0M223.6,332.1h0M230.4,334.1h0M237.3,336.1h0M244.2,338.0h0M251.1,339.9h0M258.1,341.8h0M265.0,343.6h0M271.9,345.4h0M278.9,347.1h0M285.8,348.9h0M292.8,350.5h0M299.8,352.2h0M306.7,353.8h0M313.7,355.4h0M320.7,356.9h0M327.7,358.5h0M334.7,359.9h0M341.7,361.4h0M348.8,362.8h0M355.8,364.2h0M362.8,365.5h0M369.9,366.8h0M376.9,368.1h0M384.0,369.3h0M391.1,370.5h0M398.1,371.7h0M405.2,372.8h0M412.3,373.9h0M419.4,375.0h0M426.5,376.0h0M433.5,377.0h0M440.6,378.0h0M447.8,378.9h0M454.9,379.8h0M462.0,380.6h0M469.1,381.4h0M476.2,382.2h0M483.3,383.0h0M490.5,383.7h0M497.6,384.4h0M504.7,385.0h0M511.9,385.6h0M519.0,386.2h0M526.2,386.7h0M533.3,387.2h0M540.5,387.7h0M547.6,388.1h0M554.8,388.5h0M561.9,388.9h0M569.1,389.2h0M576.2,389.5h0M583.4,389.7h0M590.6,389.9h0M597.7,390.1h0M604.9,390.3h0M612.0,390.4h0M619.2,390.5h0M626.4,390.5h0M633.5,390.5h0M640.7,390.5h0M647.9,390.4h0M655.0,390.3h0M662.2,390.2h0M669.4,390.0h0M676.5,389.8h0M683.7,389.5h0M690.8,389.3h0M698.0,389.0h0M705.1,388.6h0M712.3,388.2h0M719.5,387.8h0M726.6,387.3h0M733.7,386.9h0M740.9,386.3h0M748.0,385.8h0M755.2,385.2h0M762.3,384.5h0M840.6,375.3h0M847.6,374.2h0M854.7,373.2h0M861.8,372.0h0M883.0,368.5h0M890.1,367.2h0M897.1,365.9h0M904.1,364.6h0M911.2,363.2h0M918.2,361.8h0M925.2,360.4h0M193.2,333.1h0M200.1,335.3h0M207.0,337.4h0M213.9,339.5h0M220.8,341.5h0M227.7,343.5h0M234.7,345.5h0M241.6,347.4h0M248.6,349.3h0M255.6,351.2h0M262.5,353.0h0M269.5,354.8h0M276.5,356.6h0M283.5,358.3h0M290.5,360.0h0M297.5,361.7h0M304.6,363.3h0M311.6,364.9h0M318.6,366.5h0M325.7,368.0h0M332.7,369.5h0M339.8,370.9h0M346.9,372.4h0M354.0,373.7h0M361.0,375.1h0M368.1,376.4h0M375.2,377.7h0M382.3,378.9h0M389.4,380.1h0M396.6,381.3h0M403.7,382.5h0M410.8,383.6h0M417.9,384.6h0M425.1,385.7h0M432.2,386.7h0M439.4,387.6h0M446.5,388.6h0M453.7,389.5h0M460.8,390.3h0M468.0,391.1h0M475.2,391.9h0M482.3,392.7h0M489.5,393.4h0M496.7,394.1h0M503.9,394.7h0M511.1,395.3h0M518.3,395.9h0M525.5,396.4h0M532.7,396.9h0M539.8,397.4h0M547.0,397.8h0M554.2,398.2h0M561.5,398.6h0M568.7,398.9h0M575.9,399.2h0M583.1,399.5h0M590.3,399.7h0M597.5,399.9h0M604.7,400.0h0M611.9,400.1h0M619.1,400.2h0M626.3,400.2h0M633.6,400.2h0M640.8,400.2h0M648.0,400.2h0M655.2,400.0h0M662.4,399.9h0M669.6,399.7h0M676.8,399.5h0M684.0,399.3h0M691.2,399.0h0M698.4,398.7h0M705.6,398.3h0M712.8,398.0h0M856.2,382.8h0M884.7,378.1h0M891.8,376.8h0M898.9,375.5h0M906.0,374.1h0M913.1,372.8h0M176.5,338.0h0M183.4,340.2h0M190.3,342.4h0M197.2,344.6h0M204.2,346.7h0M211.1,348.8h0M218.1,350.9h0M225.1,352.9h0M232.0,354.9h0M239.0,356.8h0M246.0,358.7h0M253.0,360.6h0M260.1,362.5h0M267.1,364.3h0M274.1,366.1h0M281.2,367.8h0M288.2,369.5h0M295.3,371.2h0M302.4,372.8h0M309.5,374.4h0M316.5,376.0h0M323.6,377.5h0M330.7,379.0h0M337.9,380.5h0M345.0,381.9h0M352.1,383.3h0M359.2,384.7h0M366.4,386.0h0M373.5,387.3h0M380.7,388.5h0M387.8,389.8h0M395.0,390.9h0M402.2,392.1h0M409.3,393.2h0M416.5,394.3h0M423.7,395.3h0M430.9,396.3h0M438.1,397.3h0M445.3,398.2h0M452.5,399.1h0M459.7,400.0h0M466.9,400.8h0M474.1,401.6h0M481.4,402.4h0M488.6,403.1h0M495.8,403.8h0M503.0,404.4h0M510.3,405.0h0M517.5,405.6h0M524.8,406.2h0M532.0,406.7h0M539.2,407.1h0M546.5,407.6h0M553.7,408.0h0M561.0,408.3h0M568.2,408.7h0M575.5,409.0h0M582.8,409.2h0M590.0,409.4h0M597.3,409.6h0M604.5,409.8h0M611.8,409.9h0M619.0,410.0h0M626.3,410.0h0M633.6,410.0h0M640.8,410.0h0M648.1,409.9h0M655.3,409.8h0M662.6,409.7h0M669.9,409.5h0M677.1,409.3h0M684.4,409.0h0M691.6,408.7h0M698.9,408.4h0M879.2,388.9h0M886.4,387.7h0M893.5,386.4h0M900.7,385.1h0M173.4,347.3h0M180.4,349.5h0M187.4,351.7h0M194.3,353.9h0M201.3,356.0h0M208.3,358.1h0M215.3,360.2h0M222.4,362.2h0M229.4,364.2h0M236.4,366.2h0M243.5,368.1h0M250.5,370.0h0M257.6,371.9h0M264.7,373.7h0M271.8,375.5h0M278.9,377.3h0M286.0,379.0h0M293.1,380.7h0M300.2,382.3h0M307.3,383.9h0M314.5,385.5h0M321.6,387.1h0M328.8,388.6h0M335.9,390.1h0M343.1,391.5h0M350.3,392.9h0M357.4,394.3h0M364.6,395.6h0M371.8,396.9h0M379.0,398.2h0M386.2,399.4h0M393.4,400.6h0M400.6,401.7h0M407.9,402.8h0M415.1,403.9h0M422.3,405.0h0M429.6,406.0h0M436.8,407.0h0M444.1,407.9h0M451.3,408.8h0M458.6,409.7h0M465.8,410.5h0M473.1,411.3h0M480.4,412.1h0M487.6,412.8h0M494.9,413.5h0M502.2,414.1h0M509.5,414.8h0M516.8,415.3h0M524.0,415.9h0M531.3,416.4h0M538.6,416.9h0M545.9,417.3h0M553.2,417.7h0M560.5,418.1h0M567.8,418.4h0M575.1,418.7h0M582.4,419.0h0M589.7,419.2h0M597.0,419.4h0M604.4,419.5h0M611.7,419.6h0M619.0,419.7h0M626.3,419.7h0M633.6,419.7h0M640.9,419.7h0M648.2,419.7h0M655.5,419.5h0M662.8,419.4h0M670.1,419.2h0M677.4,419.0h0M684.7,418.8h0M873.7,399.7h0M880.9,398.5h0M888.1,397.3h0M170.4,356.6h0M177.4,358.8h0M184.4,361.0h0M191.5,363.2h0M198.5,365.4h0M205.6,367.5h0M212.6,369.6h0M219.7,371.6h0M226.7,373.6h0M233.8,375.6h0M240.9,377.6h0M248.0,379.5h0M255.1,381.3h0M262.3,383.2h0M269.4,385.0h0M276.5,386.7h0M283.7,388.5h0M290.9,390.2h0M298.0,391.8h0M305.2,393.5h0M312.4,395.0h0M319.6,396.6h0M326.8,398.1h0M334.0,399.6h0M341.2,401.1h0M348.4,402.5h0M355.6,403.8h0M362.9,405.2h0M370.1,406.5h0M377.4,407.8h0M384.6,409.0h0M391.9,410.2h0M399.1,411.4h0M406.4,412.5h0M413.7,413.6h0M421.0,414.6h0M428.2,415.6h0M435.5,416.6h0M442.8,417.6h0M450.1,418.5h0M457.4,419.4h0M464.7,420.2h0M472.1,421.0h0M479.4,421.8h0M486.7,422.5h0M494.0,423.2h0M501.3,423.8h0M508.7,424.5h0M516.0,425.1h0M552.7,427.4h0M560.1,427.8h0M567.4,428.1h0M574.8,428.4h0M582.1,428.7h0M589.5,428.9h0M596.8,429.1h0M604.2,429.3h0M611.5,429.4h0M618.9,429.5h0M626.2,429.5h0M633.6,429.5h0M641.0,429.5h0M648.3,429.4h0M655.7,429.3h0M663.0,429.2h0M670.4,429.0h0M677.7,428.8h0M685.1,428.5h0M181.5,370.3h0M188.6,372.5h0M195.7,374.7h0M202.8,376.8h0M209.9,378.9h0M217.0,381.0h0M224.1,383.0h0M231.2,385.0h0M238.4,387.0h0M245.5,388.9h0M252.7,390.8h0M259.9,392.6h0M267.0,394.4h0M274.2,396.2h0M281.4,398.0h0M288.6,399.7h0M295.8,401.3h0M303.1,403.0h0M310.3,404.6h0M317.5,406.1h0M324.8,407.7h0M332.0,409.2h0M339.3,410.6h0M346.6,412.0h0M353.8,413.4h0M361.1,414.8h0M368.4,416.1h0M375.7,417.4h0M383.0,418.6h0M390.3,419.8h0M397.6,421.0h0M404.9,422.1h0M412.3,423.2h0M419.6,424.3h0M426.9,425.3h0M434.3,426.3h0M441.6,427.2h0M448.9,428.2h0M456.3,429.0h0M463.7,429.9h0M471.0,430.7h0M478.4,431.5h0M485.7,432.2h0M493.1,432.9h0M500.5,433.6h0M507.9,434.2h0M552.2,437.2h0M559.6,437.5h0M567.0,437.9h0M574.4,438.2h0M581.8,438.4h0M589.2,438.7h0M596.6,438.9h0M604.0,439.0h0M611.4,439.1h0M618.8,439.2h0M626.2,439.2h0M633.6,439.2h0M641.0,439.2h0M648.4,439.1h0M655.8,439.0h0M663.2,438.9h0M670.6,438.7h0M678.0,438.5h0M685.4,438.3h0M178.6,379.6h0M185.7,381.9h0M192.8,384.0h0M200.0,386.2h0M207.1,388.3h0M214.3,390.4h0M221.5,392.4h0M228.6,394.4h0M235.8,396.4h0M243.0,398.3h0M250.2,400.2h0M257.4,402.1h0M264.7,403.9h0M271.9,405.7h0M279.2,407.4h0M286.4,409.2h0M293.7,410.8h0M300.9,412.5h0M308.2,414.1h0M315.5,415.7h0M322.8,417.2h0M330.1,418.7h0M337.4,420.2h0M344.7,421.6h0M352.0,423.0h0M359.4,424.4h0M366.7,425.7h0M381.4,428.2h0M388.7,429.4h0M396.1,430.6h0M403.5,431.8h0M410.8,432.9h0M418.2,433.9h0M440.4,436.9h0M447.8,437.8h0M455.2,438.7h0M462.6,439.6h0M470.0,440.4h0M477.4,441.2h0M484.8,441.9h0M492.2,442.6h0M499.6,443.3h0M507.1,443.9h0M514.5,444.5h0M521.9,445.1h0M559.1,447.3h0M566.6,447.6h0M574.0,447.9h0M581.5,448.2h0M588.9,448.4h0M596.4,448.6h0M603.8,448.8h0M611.3,448.9h0M618.7,449.0h0M626.2,449.0h0M633.6,449.0h0M641.1,449.0h0M648.5,448.9h0M656.0,448.8h0M663.4,448.7h0M670.9,448.5h0M678.3,448.3h0M685.8,448.0h0" fill="none" stroke="#b2aeae" stroke-width="4.75" stroke-linecap="round"/>
<path d="M175.7,388.9h0M182.8,391.2h0M190.0,393.4h0M197.2,395.5h0M204.4,397.6h0M211.6,399.7h0M218.8,401.8h0M226.0,403.8h0M233.3,405.8h0M240.5,407.7h0M247.8,409.6h0M255.0,411.5h0M262.3,413.3h0M269.6,415.2h0M276.9,416.9h0M284.2,418.6h0M291.5,420.3h0M298.8,422.0h0M306.1,423.6h0M313.5,425.2h0M320.8,426.8h0M328.1,428.3h0M335.5,429.7h0M342.9,431.2h0M350.2,432.6h0M357.6,434.0h0M454.0,448.4h0M461.5,449.3h0M468.9,450.1h0M476.4,450.9h0M483.9,451.6h0M491.3,452.3h0M498.8,453.0h0M506.3,453.6h0M513.8,454.2h0M521.2,454.8h0M528.7,455.3h0M536.2,455.8h0M543.7,456.2h0M551.2,456.7h0M558.7,457.0h0M566.2,457.4h0M573.7,457.7h0M581.2,457.9h0M588.7,458.2h0M596.1,458.4h0M603.6,458.5h0M611.1,458.6h0M618.7,458.7h0M626.2,458.7h0M633.7,458.7h0M641.2,458.7h0M648.7,458.6h0M656.2,458.5h0M663.7,458.4h0M671.2,458.2h0M678.7,458.0h0M686.1,457.7h0M187.2,402.7h0M194.4,404.9h0M201.7,407.0h0M208.9,409.1h0M216.2,411.2h0M223.4,413.2h0M230.7,415.2h0M238.0,417.2h0M245.3,419.1h0M252.6,421.0h0M259.9,422.8h0M267.3,424.6h0M274.6,426.4h0M282.0,428.1h0M289.3,429.8h0M296.7,431.5h0M304.0,433.1h0M318.8,436.3h0M326.2,437.8h0M333.6,439.3h0M341.0,440.8h0M348.4,442.2h0M355.9,443.5h0M363.3,444.9h0M370.7,446.2h0M378.2,447.5h0M385.6,448.7h0M452.9,458.1h0M460.4,459.0h0M467.9,459.8h0M475.4,460.6h0M482.9,461.3h0M490.4,462.0h0M498.0,462.7h0M505.5,463.3h0M513.0,463.9h0M520.5,464.5h0M528.1,465.0h0M535.6,465.5h0M543.1,466.0h0M550.7,466.4h0M558.2,466.8h0M565.7,467.1h0M573.3,467.4h0M580.8,467.7h0M588.4,467.9h0M595.9,468.1h0M603.5,468.3h0M611.0,468.4h0M618.6,468.4h0M626.1,468.5h0M633.7,468.5h0M641.2,468.5h0M648.8,468.4h0M656.3,468.3h0M663.9,468.1h0M671.4,468.0h0M679.0,467.7h0M686.5,467.5h0M694.0,467.2h0M896.5,445.3h0M184.4,412.0h0M191.6,414.2h0M198.9,416.4h0M206.2,418.5h0M213.5,420.6h0M220.8,422.6h0M228.2,424.6h0M235.5,426.6h0M242.9,428.5h0M250.2,430.4h0M257.6,432.3h0M265.0,434.1h0M272.3,435.9h0M279.7,437.6h0M287.1,439.3h0M294.5,441.0h0M302.0,442.7h0M316.8,445.8h0M324.3,447.4h0M331.7,448.9h0M339.2,450.3h0M346.6,451.8h0M354.1,453.1h0M361.6,454.5h0M369.1,455.8h0M376.5,457.1h0M384.0,458.3h0M391.5,459.5h0M399.1,460.7h0M444.2,466.9h0M451.8,467.8h0M459.3,468.6h0M466.9,469.5h0M474.4,470.3h0M482.0,471.0h0M489.5,471.7h0M497.1,472.4h0M504.7,473.1h0M512.2,473.7h0M519.8,474.2h0M542.6,475.7h0M550.2,476.1h0M557.7,476.5h0M565.3,476.8h0M572.9,477.2h0M580.5,477.4h0M588.1,477.7h0M595.7,477.8h0M603.3,478.0h0M610.9,478.1h0M618.5,478.2h0M626.1,478.2h0M633.7,478.2h0M641.3,478.2h0M648.9,478.1h0M656.5,478.0h0M664.1,477.9h0M671.7,477.7h0M679.3,477.5h0M686.9,477.2h0M694.4,476.9h0M188.9,423.6h0M196.2,425.7h0M203.5,427.8h0M210.9,429.9h0M218.2,432.0h0M225.6,434.0h0M233.0,436.0h0M240.4,437.9h0M247.8,439.9h0M255.2,441.7h0M262.6,443.6h0M270.1,445.4h0M277.5,447.1h0M285.0,448.9h0M292.4,450.5h0M299.9,452.2h0M314.8,455.4h0M322.3,456.9h0M329.8,458.4h0M337.3,459.9h0M344.8,461.3h0M352.3,462.7h0M359.9,464.1h0M367.4,465.4h0M382.5,467.9h0M390.0,469.1h0M397.6,470.3h0M412.7,472.5h0M420.3,473.6h0M427.9,474.6h0M435.4,475.6h0M443.0,476.6h0M450.6,477.5h0M458.2,478.3h0M465.8,479.2h0M473.4,480.0h0M511.5,483.4h0M519.1,484.0h0M542.0,485.4h0M549.6,485.9h0M557.3,486.2h0M564.9,486.6h0M572.6,486.9h0M580.2,487.2h0M587.8,487.4h0M595.5,487.6h0M603.1,487.7h0M610.8,487.9h0M618.4,487.9h0M626.1,488.0h0M633.7,488.0h0M641.3,488.0h0M649.0,487.9h0M656.6,487.8h0M664.3,487.6h0M671.9,487.5h0M679.6,487.2h0M687.2,487.0h0M694.8,486.7h0M215.6,441.4h0M223.1,443.4h0M230.5,445.4h0M237.9,447.4h0M245.4,449.3h0M252.8,451.2h0M260.3,453.0h0M267.8,454.8h0M275.3,456.6h0M282.8,458.4h0M290.3,460.1h0M297.8,461.7h0M403.7,481.1h0M411.3,482.2h0M419.0,483.3h0M426.6,484.3h0M434.2,485.3h0M441.8,486.2h0M449.5,487.1h0M457.1,488.0h0M464.8,488.9h0M526.1,494.2h0M533.8,494.7h0M541.4,495.2h0M549.1,495.6h0M556.8,496.0h0M564.5,496.3h0M572.2,496.6h0M579.9,496.9h0M587.6,497.1h0M595.3,497.3h0M602.9,497.5h0M610.6,497.6h0M618.3,497.7h0M626.0,497.7h0M633.7,497.7h0M641.4,497.7h0M649.1,497.6h0M656.8,497.5h0M664.5,497.4h0M672.2,497.2h0M679.9,497.0h0M687.6,496.7h0M695.3,496.4h0M702.9,496.1h0M213.1,450.8h0M220.5,452.8h0M228.0,454.8h0M235.5,456.8h0M243.0,458.7h0M250.5,460.6h0M258.0,462.5h0M265.5,464.3h0M273.1,466.1h0M394.6,489.6h0M402.3,490.7h0M410.0,491.8h0M417.6,492.9h0M425.3,494.0h0M433.0,495.0h0M440.7,495.9h0M448.3,496.8h0M456.0,497.7h0M463.7,498.6h0M471.4,499.4h0M525.4,503.9h0M533.2,504.4h0M540.9,504.9h0M548.6,505.3h0M556.3,505.7h0M564.1,506.1h0M571.8,506.4h0M579.6,506.7h0M587.3,506.9h0M595.0,507.1h0M602.8,507.2h0M610.5,507.4h0M618.3,507.4h0M626.0,507.5h0M633.7,507.5h0M641.5,507.5h0M649.2,507.4h0M657.0,507.3h0M664.7,507.1h0M672.4,507.0h0M680.2,506.7h0M687.9,506.5h0M695.7,506.2h0M703.4,505.8h0M218.0,462.2h0M225.5,464.3h0M233.0,466.2h0M240.6,468.2h0M263.3,473.8h0M270.8,475.6h0M278.4,477.4h0M385.5,498.0h0M393.2,499.2h0M400.9,500.4h0M408.6,501.5h0M416.3,502.6h0M424.0,503.6h0M431.7,504.6h0M439.5,505.6h0M447.2,506.5h0M455.0,507.4h0M462.7,508.3h0M524.8,513.7h0M540.3,514.6h0M548.1,515.1h0M555.9,515.5h0M563.7,515.8h0M571.4,516.1h0M579.2,516.4h0M587.0,516.6h0M594.8,516.8h0M602.6,517.0h0M610.4,517.1h0M618.2,517.2h0M626.0,517.2h0M633.8,517.2h0M641.5,517.2h0M649.3,517.1h0M657.1,517.0h0M664.9,516.9h0M672.7,516.7h0M680.5,516.5h0M688.3,516.2h0M696.1,515.9h0M703.8,515.6h0M711.6,515.2h0M719.4,514.8h0M727.2,514.3h0M734.9,513.8h0M858.9,500.7h0M215.4,471.7h0M223.0,473.7h0M230.6,475.7h0M238.2,477.6h0M245.8,479.6h0M261.0,483.3h0M268.6,485.1h0M276.2,486.9h0M283.9,488.6h0M291.5,490.3h0M299.2,491.9h0M306.9,493.6h0M314.5,495.1h0M322.2,496.7h0M329.9,498.2h0M337.6,499.7h0M345.3,501.1h0M353.0,502.5h0M360.8,503.8h0M368.5,505.2h0M376.2,506.4h0M384.0,507.7h0M391.7,508.9h0M399.5,510.0h0M407.2,511.2h0M415.0,512.2h0M422.7,513.3h0M430.5,514.3h0M438.3,515.3h0M446.1,516.2h0M453.9,517.1h0M539.8,524.4h0M547.6,524.8h0M555.4,525.2h0M563.2,525.6h0M571.1,525.9h0M578.9,526.1h0M586.7,526.4h0M594.6,526.6h0M602.4,526.7h0M610.3,526.9h0M618.1,526.9h0M625.9,527.0h0M633.8,527.0h0M641.6,527.0h0M649.4,526.9h0M657.3,526.8h0M665.1,526.6h0M673.0,526.4h0M680.8,526.2h0M688.6,526.0h0M696.5,525.7h0M704.3,525.3h0M712.1,524.9h0M719.9,524.5h0M727.8,524.0h0M735.6,523.6h0M743.4,523.0h0M751.2,522.4h0M860.3,510.4h0M868.0,509.2h0M220.5,483.1h0M228.1,485.1h0M235.7,487.1h0M243.4,489.0h0M251.0,490.9h0M258.7,492.8h0M266.4,494.6h0M274.1,496.4h0M281.8,498.1h0M289.5,499.8h0M297.2,501.5h0M304.9,503.1h0M312.6,504.7h0M320.3,506.3h0M328.1,507.8h0M335.8,509.2h0M343.6,510.7h0M351.3,512.1h0M359.1,513.4h0M366.9,514.8h0M374.7,516.1h0M382.4,517.3h0M390.2,518.5h0M398.0,519.7h0M405.8,520.8h0M413.7,521.9h0M421.5,523.0h0M429.3,524.0h0M437.1,524.9h0M444.9,525.9h0M539.2,534.1h0M547.1,534.5h0M555.0,534.9h0M562.8,535.3h0M570.7,535.6h0M578.6,535.9h0M586.5,536.1h0M594.4,536.3h0M602.2,536.5h0M610.1,536.6h0M618.0,536.7h0M625.9,536.7h0M633.8,536.7h0M641.7,536.7h0M649.6,536.6h0M657.4,536.5h0M665.3,536.4h0M673.2,536.2h0M681.1,536.0h0M689.0,535.7h0M696.9,535.4h0M704.7,535.0h0M712.6,534.7h0M720.5,534.2h0M728.4,533.8h0M736.2,533.3h0M744.1,532.7h0M752.0,532.2h0M759.8,531.5h0M861.7,520.0h0M869.5,518.9h0M877.3,517.7h0M225.6,494.6h0M233.3,496.5h0M241.0,498.5h0M248.7,500.4h0M256.4,502.3h0M264.2,504.1h0M271.9,505.9h0M279.6,507.6h0M287.4,509.3h0M295.1,511.0h0M302.9,512.7h0M310.7,514.3h0M318.4,515.8h0M326.2,517.3h0M334.0,518.8h0M341.8,520.3h0M349.6,521.7h0M357.4,523.1h0M365.3,524.4h0M373.1,525.7h0M380.9,526.9h0M388.8,528.1h0M396.6,529.3h0M404.5,530.5h0M412.3,531.6h0M420.2,532.6h0M428.1,533.6h0M435.9,534.6h0M538.6,543.8h0M546.6,544.3h0M554.5,544.7h0M562.4,545.0h0M570.3,545.4h0M578.3,545.6h0M586.2,545.9h0M594.1,546.1h0M602.1,546.2h0M610.0,546.4h0M617.9,546.4h0M625.9,546.5h0M633.8,546.5h0M641.7,546.5h0M649.7,546.4h0M657.6,546.3h0M665.5,546.1h0M673.5,545.9h0M681.4,545.7h0M689.3,545.4h0M697.3,545.1h0M705.2,544.8h0M713.1,544.4h0M721.0,544.0h0M729.0,543.5h0M736.9,543.0h0M744.8,542.5h0M752.7,541.9h0M760.6,541.3h0M768.5,540.6h0M776.4,539.9h0M784.3,539.2h0M792.2,538.4h0M831.6,533.9h0M839.5,532.9h0M847.4,531.9h0M855.2,530.8h0M863.1,529.7h0M870.9,528.5h0M878.8,527.3h0M223.2,504.0h0M230.9,506.0h0M238.7,507.9h0M246.4,509.9h0M254.2,511.7h0M261.9,513.6h0M269.7,515.4h0M277.5,517.1h0M285.3,518.9h0M293.1,520.6h0M300.9,522.2h0M308.7,523.8h0M316.5,525.4h0M324.4,526.9h0M332.2,528.4h0M340.1,529.9h0M347.9,531.3h0M355.8,532.7h0M363.7,534.0h0M371.5,535.3h0M379.4,536.6h0M387.3,537.8h0M395.2,539.0h0M403.1,540.1h0M411.0,541.2h0M418.9,542.3h0M538.1,553.6h0M546.1,554.0h0M554.0,554.4h0M562.0,554.8h0M570.0,555.1h0M578.0,555.4h0M585.9,555.6h0M593.9,555.8h0M601.9,556.0h0M609.9,556.1h0M617.9,556.2h0M625.8,556.2h0M633.8,556.2h0M641.8,556.2h0M649.8,556.1h0M657.8,556.0h0M665.7,555.9h0M673.7,555.7h0M681.7,555.5h0M689.7,555.2h0M697.7,554.9h0M705.6,554.5h0M713.6,554.1h0M721.6,553.7h0M729.6,553.2h0M737.5,552.7h0M745.5,552.2h0M753.4,551.6h0M761.4,551.0h0M769.4,550.3h0M777.3,549.6h0M785.3,548.9h0M793.2,548.1h0M801.1,547.3h0M809.1,546.4h0M817.0,545.5h0M824.9,544.6h0M832.9,543.6h0M840.8,542.6h0M848.7,541.5h0M856.6,540.4h0M864.5,539.3h0M872.4,538.1h0M880.3,536.9h0M888.2,535.7h0M236.3,517.4h0M244.1,519.3h0M251.9,521.2h0M259.7,523.1h0M267.5,524.9h0M275.4,526.7h0M283.2,528.4h0M291.1,530.1h0M298.9,531.7h0M306.8,533.4h0M314.6,534.9h0M322.5,536.5h0M330.4,538.0h0M338.3,539.5h0M346.2,540.9h0M354.1,542.3h0M362.0,543.6h0M370.0,544.9h0M377.9,546.2h0M385.8,547.4h0M393.8,548.6h0M529.5,562.8h0M537.5,563.3h0M545.5,563.8h0M553.6,564.2h0M561.6,564.5h0M569.6,564.8h0M577.6,565.1h0M585.7,565.4h0M593.7,565.6h0M601.7,565.7h0M609.7,565.9h0M617.8,565.9h0M625.8,566.0h0M633.8,566.0h0M641.9,566.0h0M649.9,565.9h0M657.9,565.8h0M666.0,565.6h0M674.0,565.4h0M682.0,565.2h0M690.0,564.9h0M698.1,564.6h0M706.1,564.3h0M714.1,563.9h0M722.1,563.4h0M730.1,563.0h0M738.2,562.5h0M746.2,561.9h0M754.2,561.3h0M762.2,560.7h0M770.2,560.0h0M778.2,559.3h0M786.2,558.6h0M794.2,557.8h0M802.2,557.0h0M810.1,556.1h0M818.1,555.2h0M826.1,554.3h0M834.1,553.3h0M842.0,552.3h0M850.0,551.2h0M858.0,550.1h0M865.9,549.0h0M873.8,547.8h0M881.8,546.6h0M889.7,545.3h0M897.6,544.0h0M241.8,528.8h0M249.6,530.7h0M257.5,532.6h0M265.4,534.4h0M273.2,536.2h0M281.1,537.9h0M289.0,539.6h0M296.9,541.3h0M304.8,542.9h0M312.8,544.5h0M320.7,546.1h0M328.6,547.6h0M336.6,549.0h0M344.5,550.5h0M352.5,551.9h0M360.4,553.2h0M368.4,554.5h0M376.4,555.8h0M496.7,570.2h0M504.7,570.9h0M512.8,571.5h0M520.8,572.0h0M528.9,572.6h0M537.0,573.0h0M545.0,573.5h0M553.1,573.9h0M561.2,574.3h0M569.2,574.6h0M577.3,574.9h0M585.4,575.1h0M593.5,575.3h0M601.5,575.5h0M609.6,575.6h0M617.7,575.7h0M625.8,575.7h0M633.9,575.7h0M641.9,575.7h0M650.0,575.6h0M658.1,575.5h0M666.2,575.4h0M674.2,575.2h0M682.3,574.9h0M690.4,574.7h0M698.5,574.4h0M706.5,574.0h0M714.6,573.6h0M722.7,573.2h0M730.7,572.7h0M738.8,572.2h0M746.9,571.6h0M754.9,571.1h0M763.0,570.4h0M771.0,569.7h0M779.1,569.0h0M787.1,568.3h0M795.2,567.5h0M803.2,566.7h0M811.2,565.8h0M819.2,564.9h0M827.3,563.9h0M835.3,563.0h0M843.3,561.9h0M851.3,560.9h0M859.3,559.7h0M867.3,558.6h0M875.3,557.4h0M883.3,556.2h0M891.3,554.9h0M899.2,553.6h0M907.2,552.3h0M263.2,543.9h0M271.1,545.7h0M279.0,547.4h0M287.0,549.2h0M294.9,550.8h0M302.9,552.5h0M310.9,554.1h0M318.8,555.6h0M326.8,557.2h0M334.8,558.6h0M342.8,560.1h0M350.8,561.5h0M358.8,562.8h0M366.8,564.2h0M374.9,565.5h0M382.9,566.7h0M463.5,577.0h0M471.6,577.8h0M479.7,578.5h0M487.8,579.3h0M495.9,579.9h0M504.0,580.6h0M512.1,581.2h0M520.2,581.8h0M528.3,582.3h0M536.4,582.8h0M544.5,583.2h0M552.6,583.6h0M560.8,584.0h0M568.9,584.3h0M577.0,584.6h0M585.1,584.9h0M593.2,585.1h0M601.4,585.2h0M609.5,585.4h0M617.6,585.4h0M625.7,585.5h0M633.9,585.5h0M642.0,585.5h0M650.1,585.4h0M658.3,585.3h0M666.4,585.1h0M674.5,584.9h0M682.6,584.7h0M690.7,584.4h0M698.9,584.1h0M707.0,583.7h0M715.1,583.4h0M723.2,582.9h0M731.3,582.4h0M739.4,581.9h0M747.6,581.4h0M755.7,580.8h0M763.8,580.1h0M771.9,579.5h0M780.0,578.7h0M788.0,578.0h0M796.1,577.2h0M804.2,576.4h0M812.3,575.5h0M820.4,574.6h0M828.4,573.6h0M836.5,572.6h0M844.6,571.6h0M852.6,570.5h0M860.7,569.4h0M868.7,568.2h0M876.8,567.1h0M884.8,565.8h0M892.8,564.6h0M900.8,563.2h0M908.8,561.9h0M292.9,560.4h0M300.9,562.0h0M309.0,563.6h0M317.0,565.2h0M325.0,566.7h0M333.1,568.2h0M341.1,569.7h0M349.1,571.1h0M357.2,572.5h0M365.3,573.8h0M373.3,575.1h0M381.4,576.3h0M454.4,585.8h0M462.5,586.7h0M470.6,587.5h0M478.8,588.2h0M486.9,589.0h0M495.1,589.7h0M503.2,590.3h0M511.4,590.9h0M519.5,591.5h0M527.7,592.0h0M535.8,592.5h0M544.0,593.0h0M552.2,593.4h0M560.3,593.7h0M568.5,594.1h0M576.7,594.4h0M584.8,594.6h0M593.0,594.8h0M601.2,595.0h0M609.4,595.1h0M617.5,595.2h0M625.7,595.2h0M633.9,595.2h0M642.1,595.2h0M650.2,595.1h0M658.4,595.0h0M666.6,594.9h0M674.8,594.7h0M682.9,594.4h0M691.1,594.2h0M699.3,593.8h0M707.4,593.5h0M715.6,593.1h0M723.8,592.7h0M731.9,592.2h0M740.1,591.7h0M748.2,591.1h0M756.4,590.5h0M764.5,589.9h0M772.7,589.2h0M780.8,588.5h0M789.0,587.7h0M797.1,586.9h0M805.2,586.1h0M813.4,585.2h0M821.5,584.3h0M829.6,583.3h0M837.7,582.3h0M845.8,581.3h0M853.9,580.2h0M862.0,579.1h0M870.1,577.9h0M878.2,576.7h0M886.3,575.5h0M894.4,574.2h0M315.1,574.8h0M323.2,576.3h0M331.3,577.8h0M339.4,579.3h0M347.5,580.7h0M355.6,582.1h0M363.7,583.4h0M371.8,584.7h0M380.0,586.0h0M437.0,593.7h0M445.2,594.6h0M453.3,595.5h0M461.5,596.4h0M469.7,597.2h0M477.9,597.9h0M486.1,598.7h0M494.3,599.4h0M502.5,600.0h0M510.7,600.6h0M518.9,601.2h0M527.1,601.8h0M535.3,602.2h0M543.5,602.7h0M551.7,603.1h0M559.9,603.5h0M568.1,603.8h0M576.4,604.1h0M584.6,604.4h0M592.8,604.6h0M601.0,604.7h0M609.2,604.9h0M617.5,604.9h0M625.7,605.0h0M633.9,605.0h0M642.1,605.0h0M650.4,604.9h0M658.6,604.8h0M666.8,604.6h0M675.0,604.4h0M683.2,604.2h0M691.5,603.9h0M699.7,603.6h0M707.9,603.2h0M716.1,602.8h0M724.3,602.4h0M732.5,601.9h0M740.7,601.4h0M748.9,600.8h0M757.1,600.2h0M765.3,599.6h0M773.5,598.9h0M781.7,598.2h0M789.9,597.4h0M798.1,596.6h0M806.3,595.8h0M814.4,594.9h0M822.6,593.9h0M830.8,593.0h0M838.9,592.0h0M847.1,590.9h0M855.2,589.8h0M863.4,588.7h0M871.5,587.5h0M879.7,586.3h0M887.8,585.1h0M895.9,583.8h0M904.0,582.5h0M912.1,581.1h0M427.6,602.4h0M435.9,603.3h0M444.1,604.3h0M452.3,605.2h0M460.5,606.1h0M468.8,606.9h0M477.0,607.7h0M485.2,608.4h0M493.5,609.1h0M501.7,609.8h0M510.0,610.4h0M518.2,611.0h0M526.5,611.5h0M534.7,612.0h0M543.0,612.4h0M551.2,612.9h0M559.5,613.2h0M567.8,613.6h0M576.0,613.8h0M584.3,614.1h0M592.6,614.3h0M600.8,614.5h0M609.1,614.6h0M617.4,614.7h0M625.7,614.7h0M633.9,614.7h0M642.2,614.7h0M650.5,614.6h0M658.7,614.5h0M667.0,614.4h0M675.3,614.2h0M683.5,613.9h0M691.8,613.6h0M700.1,613.3h0M708.3,613.0h0M716.6,612.6h0M724.9,612.1h0M733.1,611.6h0M741.4,611.1h0M749.6,610.5h0M757.9,609.9h0M766.1,609.3h0M774.4,608.6h0M782.6,607.9h0M790.8,607.1h0M799.1,606.3h0M807.3,605.5h0M815.5,604.6h0M823.7,603.6h0M831.9,602.7h0M840.2,601.6h0M848.4,600.6h0M856.6,599.5h0M864.8,598.4h0M872.9,597.2h0M881.1,596.0h0M889.3,594.7h0M897.5,593.4h0M905.6,592.1h0M913.8,590.7h0M385.2,606.5h0M393.5,607.7h0M401.7,608.8h0M410.0,609.9h0M418.2,611.0h0M426.5,612.0h0M434.7,613.0h0M443.0,614.0h0M451.3,614.9h0M459.5,615.8h0M467.8,616.6h0M476.1,617.4h0M484.4,618.1h0M492.7,618.8h0M501.0,619.5h0M509.3,620.1h0M517.6,620.7h0M525.9,621.2h0M534.2,621.7h0M542.5,622.2h0M550.8,622.6h0M559.1,623.0h0M567.4,623.3h0M575.7,623.6h0M584.0,623.8h0M592.3,624.1h0M600.7,624.2h0M609.0,624.4h0M617.3,624.4h0M625.6,624.5h0M633.9,624.5h0M642.3,624.5h0M650.6,624.4h0M658.9,624.3h0M667.2,624.1h0M675.5,623.9h0M683.8,623.7h0M692.2,623.4h0M700.5,623.1h0M708.8,622.7h0M717.1,622.3h0M725.4,621.9h0M733.7,621.4h0M742.0,620.8h0M750.3,620.3h0M758.6,619.7h0M766.9,619.0h0M775.2,618.3h0M783.5,617.6h0M791.8,616.8h0M800.0,616.0h0M808.3,615.1h0M816.6,614.3h0M824.9,613.3h0M833.1,612.3h0M841.4,611.3h0M849.6,610.3h0M857.9,609.2h0M866.1,608.0h0M874.3,606.8h0M882.6,605.6h0M890.8,604.4h0M899.0,603.1h0M907.2,601.7h0M915.4,600.3h0M392.1,617.3h0M400.4,618.5h0M408.7,619.6h0M417.0,620.7h0M425.3,621.7h0M433.6,622.7h0M441.9,623.7h0M450.2,624.6h0M458.5,625.5h0M466.9,626.3h0M475.2,627.1h0M483.5,627.8h0M491.9,628.5h0M500.2,629.2h0M508.6,629.8h0M516.9,630.4h0M525.3,630.9h0M533.6,631.4h0M542.0,631.9h0M550.3,632.3h0M558.7,632.7h0M567.0,633.0h0M575.4,633.3h0M583.8,633.6h0M592.1,633.8h0M600.5,634.0h0M608.9,634.1h0M617.2,634.2h0M625.6,634.2h0M634.0,634.2h0M642.3,634.2h0M650.7,634.1h0M659.1,634.0h0M667.4,633.9h0M675.8,633.7h0M684.2,633.4h0M692.5,633.1h0M700.9,632.8h0M709.2,632.4h0M717.6,632.0h0M726.0,631.6h0M734.3,631.1h0M742.7,630.6h0M751.0,630.0h0M759.3,629.4h0M767.7,628.7h0M776.0,628.0h0M784.4,627.3h0M792.7,626.5h0M801.0,625.7h0M809.3,624.8h0M817.7,623.9h0M826.0,623.0h0M834.3,622.0h0M842.6,621.0h0M850.9,619.9h0M859.2,618.8h0M867.5,617.7h0M875.8,616.5h0M884.0,615.3h0M892.3,614.0h0M900.6,612.7h0M908.8,611.3h0M917.1,609.9h0M390.7,627.0h0M399.1,628.2h0M407.4,629.3h0M415.7,630.4h0M424.1,631.4h0M432.5,632.4h0M440.8,633.4h0M449.2,634.3h0M457.6,635.2h0M491.1,638.2h0M516.2,640.1h0M524.6,640.7h0M533.0,641.2h0M541.4,641.6h0M549.9,642.1h0M558.3,642.4h0M566.7,642.8h0M575.1,643.1h0M583.5,643.3h0M591.9,643.6h0M600.3,643.7h0M608.7,643.9h0M617.1,643.9h0M625.6,644.0h0M634.0,644.0h0M642.4,644.0h0M650.8,643.9h0M659.2,643.8h0M667.6,643.6h0M676.0,643.4h0M684.5,643.2h0M692.9,642.9h0M701.3,642.6h0M709.7,642.2h0M718.1,641.8h0M726.5,641.3h0M734.9,640.8h0M743.3,640.3h0M751.7,639.7h0M760.1,639.1h0M768.5,638.4h0M776.9,637.7h0M785.2,637.0h0M793.6,636.2h0M802.0,635.4h0M810.4,634.5h0M818.7,633.6h0M827.1,632.7h0M835.5,631.7h0M843.8,630.7h0M852.2,629.6h0M860.5,628.5h0M868.8,627.3h0M877.2,626.1h0M885.5,624.9h0M893.8,623.6h0M902.1,622.3h0M406.1,638.9h0M414.5,640.0h0M422.9,641.1h0M431.3,642.1h0M439.7,643.0h0M448.1,644.0h0M524.0,650.4h0M532.5,650.9h0M540.9,651.4h0M549.4,651.8h0M557.8,652.2h0M566.3,652.5h0M574.8,652.8h0M583.2,653.1h0M591.7,653.3h0M600.1,653.5h0M608.6,653.6h0M617.1,653.7h0M625.5,653.7h0M634.0,653.7h0M642.5,653.7h0M650.9,653.6h0M659.4,653.5h0M667.8,653.4h0M676.3,653.2h0M684.8,652.9h0M693.2,652.6h0M701.7,652.3h0M710.1,651.9h0M718.6,651.5h0M727.0,651.1h0M735.5,650.6h0M743.9,650.0h0M752.4,649.4h0M760.8,648.8h0M769.3,648.2h0M777.7,647.5h0M786.1,646.7h0M794.6,645.9h0M803.0,645.1h0M811.4,644.2h0M819.8,643.3h0M828.2,642.4h0M836.6,641.4h0M845.0,640.3h0M853.4,639.3h0M861.8,638.1h0M870.2,637.0h0M878.6,635.8h0M886.9,634.5h0M895.3,633.3h0M903.7,631.9h0M413.3,649.7h0M421.7,650.8h0M430.2,651.8h0M438.6,652.7h0M531.9,660.7h0M540.4,661.1h0M548.9,661.5h0M557.4,661.9h0M565.9,662.3h0M574.4,662.6h0M582.9,662.8h0M591.5,663.0h0M600.0,663.2h0M608.5,663.4h0M617.0,663.4h0M625.5,663.5h0M634.0,663.5h0M642.5,663.5h0M651.0,663.4h0M659.5,663.3h0M668.1,663.1h0M676.6,662.9h0M685.1,662.7h0M693.6,662.4h0M702.1,662.0h0M710.6,661.7h0M719.1,661.2h0M727.6,660.8h0M736.1,660.3h0M744.6,659.8h0M753.1,659.2h0M761.6,658.6h0M770.0,657.9h0M778.5,657.2h0M787.0,656.4h0M795.5,655.6h0M804.0,654.8h0M812.4,653.9h0M820.9,653.0h0M829.3,652.1h0M837.8,651.1h0M846.2,650.0h0M854.7,648.9h0M863.1,647.8h0M871.6,646.6h0M880.0,645.4h0M888.4,644.2h0M896.8,642.9h0M522.8,669.9h0M531.4,670.4h0M539.9,670.9h0M548.5,671.3h0M557.0,671.7h0M565.6,672.0h0M574.1,672.3h0M582.7,672.6h0M591.2,672.8h0M599.8,673.0h0M608.3,673.1h0M616.9,673.2h0M625.5,673.2h0M634.0,673.2h0M642.6,673.2h0M651.1,673.1h0M659.7,673.0h0M668.3,672.8h0M676.8,672.6h0M685.4,672.4h0M693.9,672.1h0M702.5,671.8h0M711.0,671.4h0M719.6,671.0h0M728.1,670.5h0M736.7,670.0h0M745.2,669.5h0M753.8,668.9h0M762.3,668.3h0M770.8,667.6h0M779.4,666.9h0M787.9,666.1h0M796.4,665.3h0M804.9,664.5h0M813.4,663.6h0M822.0,662.7h0M830.5,661.7h0M839.0,660.7h0M847.5,659.7h0M855.9,658.6h0M864.4,657.5h0M872.9,656.3h0M881.4,655.1h0M889.9,653.8h0M522.2,679.6h0M530.8,680.1h0M539.4,680.6h0M548.0,681.0h0M556.6,681.4h0M565.2,681.8h0M573.8,682.1h0M582.4,682.3h0M591.0,682.5h0M599.6,682.7h0M608.2,682.9h0M616.8,682.9h0M625.4,683.0h0M634.0,683.0h0M642.7,683.0h0M651.3,682.9h0M659.9,682.8h0M668.5,682.6h0M677.1,682.4h0M685.7,682.1h0M694.3,681.9h0M702.9,681.5h0M711.5,681.1h0M720.1,680.7h0M728.7,680.3h0M737.3,679.8h0M745.9,679.2h0M754.5,678.6h0M763.0,678.0h0M771.6,677.3h0M780.2,676.6h0M788.8,675.8h0M797.3,675.0h0M805.9,674.2h0M814.5,673.3h0M823.0,672.4h0M831.6,671.4h0M840.1,670.4h0M848.7,669.4h0M857.2,668.3h0M865.7,667.1h0M874.3,665.9h0M882.8,664.7h0M891.3,663.5h0M521.6,689.3h0M530.2,689.9h0M538.9,690.3h0M547.5,690.8h0M556.2,691.2h0M564.8,691.5h0M573.5,691.8h0M582.1,692.1h0M590.8,692.3h0M599.4,692.5h0M608.1,692.6h0M616.7,692.7h0M625.4,692.7h0M634.1,692.7h0M642.7,692.7h0M651.4,692.6h0M660.0,692.5h0M668.7,692.3h0M677.3,692.1h0M686.0,691.9h0M694.6,691.6h0M703.3,691.3h0M711.9,690.9h0M720.6,690.5h0M729.2,690.0h0M737.9,689.5h0M746.5,688.9h0M755.1,688.4h0M763.8,687.7h0M772.4,687.0h0M781.0,686.3h0M789.7,685.6h0M798.3,684.8h0M806.9,683.9h0M815.5,683.0h0M824.1,682.1h0M832.7,681.1h0M841.3,680.1h0M849.9,679.0h0M858.5,677.9h0M867.1,676.8h0M875.6,675.6h0M884.2,674.4h0" fill="none" stroke="#b2aeae" stroke-width="5" stroke-linecap="round"/>
<path d="M512.3,698.5h0M521.0,699.1h0M529.7,699.6h0M538.4,700.1h0M547.1,700.5h0M555.8,700.9h0M564.5,701.2h0M573.2,701.6h0M581.9,701.8h0M590.6,702.0h0M599.3,702.2h0M608.0,702.3h0M616.7,702.4h0M625.4,702.5h0M634.1,702.5h0M642.8,702.5h0M651.5,702.4h0M660.2,702.3h0M668.9,702.1h0M677.6,701.9h0M686.3,701.6h0M695.0,701.3h0M703.7,701.0h0M712.4,700.6h0M721.1,700.2h0M729.8,699.7h0M738.5,699.2h0M747.1,698.7h0M755.8,698.1h0M764.5,697.4h0M773.2,696.8h0M781.9,696.0h0M790.5,695.3h0M799.2,694.5h0M807.9,693.6h0M816.5,692.7h0M825.2,691.8h0M833.8,690.8h0M842.5,689.8h0M851.1,688.7h0M859.7,687.6h0M868.4,686.5h0M877.0,685.3h0M502.9,707.6h0M511.7,708.2h0M520.4,708.8h0M529.1,709.3h0M537.9,709.8h0M546.6,710.2h0M555.3,710.6h0M564.1,711.0h0M572.8,711.3h0M581.6,711.6h0M590.3,711.8h0M599.1,712.0h0M607.8,712.1h0M616.6,712.2h0M625.3,712.2h0M634.1,712.2h0M642.8,712.2h0M651.6,712.1h0M660.4,712.0h0M669.1,711.8h0M677.9,711.6h0M686.6,711.4h0M695.3,711.1h0M704.1,710.7h0M712.8,710.4h0M721.6,709.9h0M730.3,709.5h0M739.1,709.0h0M782.7,705.7h0M791.4,705.0h0M800.1,704.2h0M808.8,703.3h0M817.5,702.4h0M826.3,701.5h0M834.9,700.5h0M843.6,699.5h0M852.3,698.4h0M861.0,697.3h0M869.7,696.1h0M511.0,718.0h0M519.8,718.5h0M528.6,719.1h0M537.3,719.5h0M546.1,720.0h0M554.9,720.4h0M563.7,720.7h0M572.5,721.0h0M581.3,721.3h0M590.1,721.5h0M598.9,721.7h0M607.7,721.8h0M616.5,721.9h0M625.3,722.0h0M634.1,722.0h0M642.9,722.0h0M651.7,721.9h0M660.5,721.8h0M669.3,721.6h0M678.1,721.4h0M686.9,721.1h0M695.7,720.8h0M704.5,720.5h0M713.3,720.1h0M722.1,719.7h0M818.6,712.1h0M827.3,711.2h0M836.1,710.2h0M844.8,709.1h0M853.5,708.1h0M862.3,706.9h0M519.2,728.3h0M528.0,728.8h0M536.8,729.3h0M545.7,729.7h0M554.5,730.1h0M563.4,730.5h0M572.2,730.8h0M581.0,731.1h0M589.9,731.3h0M598.7,731.5h0M607.6,731.6h0M616.4,731.7h0M625.3,731.7h0M634.1,731.7h0M643.0,731.7h0M651.8,731.6h0M660.7,731.5h0M669.5,731.3h0M678.4,731.1h0M687.2,730.9h0M696.1,730.6h0M704.9,730.2h0M713.7,729.8h0M828.4,720.8h0M837.2,719.9h0M846.0,718.8h0M527.4,738.5h0M536.3,739.0h0M545.2,739.5h0M554.1,739.9h0M563.0,740.2h0M571.9,740.5h0M580.8,740.8h0M589.7,741.0h0M598.6,741.2h0M607.5,741.3h0M616.4,741.4h0M625.2,741.5h0M634.1,741.5h0M651.9,741.4h0M660.8,741.3h0M669.7,741.1h0M678.6,740.9h0M687.5,740.6h0M696.4,740.3h0M705.3,740.0h0M829.5,730.5h0M838.3,729.5h0M526.9,748.3h0M535.8,748.7h0M544.7,749.2h0M553.7,749.6h0M562.6,750.0h0M571.6,750.3h0M589.4,750.8h0M607.3,751.1h0M661.0,751.0h0M669.9,750.8h0M678.9,750.6h0M687.8,750.4h0M696.8,750.1h0M705.7,749.7h0M526.3,758.0h0M535.3,758.5h0M544.3,758.9h0M553.3,759.3h0M562.3,759.7h0M571.2,760.0h0M670.1,760.6h0M679.1,760.4h0M688.1,760.1h0M697.1,759.8h0M706.1,759.5h0M543.8,768.7h0M561.9,769.4h0M570.9,769.8h0M688.4,769.8h0M697.5,769.5h0M725.1,778.1h0M725.6,787.8h0M734.7,787.3h0M708.1,808.2h0M717.3,807.8h0M726.6,807.3h0M735.8,806.8h0M708.5,817.9h0M717.8,817.5h0M727.1,817.0h0M736.3,816.5h0M708.9,827.6h0M718.2,827.2h0M727.6,826.8h0" fill="none" stroke="#b2aeae" stroke-width="5.25" stroke-linecap="round"/></g>
<path d="M537.8,438.2 549.5,440.2 561.2,447.0 569.0,450.9 588.5,458.7 608.0,462.6 623.6,456.7 639.2,452.8 643.1,437.2 647.0,421.6 652.9,413.8 650.9,402.1 647.0,394.3 650.9,382.6 658.7,374.8 674.3,370.9 689.9,368.0 699.7,372.9 709.4,380.7 717.2,384.6 725.0,378.7 736.7,376.8 744.5,384.6 742.6,394.3 736.7,406.0 740.6,421.6 742.6,437.2 754.3,439.2 756.2,447.0 760.1,452.8 748.4,460.6 746.5,472.3 754.3,480.1 760.1,493.8 758.2,499.6 773.8,495.7 787.4,486.0 803.0,474.3 812.8,464.5 822.5,454.8 834.2,443.1 842.0,437.2" fill="none" stroke="#777777" stroke-width="3.7" stroke-linejoin="round" stroke-linecap="round"/>
<path d="M537.8,438.2 545.6,445.0 557.3,448.9 569.0,450.9" fill="none" stroke="#777777" stroke-width="3.7" stroke-linejoin="round" stroke-linecap="round"/>
<path d="M828.4,250.0 832.3,269.5 828.4,289.0 822.5,304.6 812.8,318.3 806.9,328.0 799.1,341.7 789.4,351.4 781.6,361.2 773.8,363.1 779.6,370.9 775.7,374.8 754.3,378.7 752.3,386.5 744.5,384.6" fill="none" stroke="#777777" stroke-width="3.7" stroke-linejoin="round" stroke-linecap="round"/>
<path d="M799.1,341.7 810.8,347.5 818.6,359.2 826.4,367.0 836.2,370.9 842.0,382.6 845.9,390.4" fill="none" stroke="#777777" stroke-width="3.7" stroke-linejoin="round" stroke-linecap="round"/>
<path d="M742.6,526.9 750.4,519.1 760.1,511.3 771.8,503.5 783.5,499.6 793.3,489.9 803.0,480.1 810.8,482.1 818.6,478.2 830.3,476.2 832.3,466.5 822.5,464.5 814.7,466.5 803.0,474.3" fill="none" stroke="#777777" stroke-width="3.7" stroke-linejoin="round" stroke-linecap="round"/>
<path d="M592.4,525.0 608.0,521.1 627.5,519.1 647.0,523.0 666.5,525.0 678.2,528.9 689.9,530.8 705.5,523.0 717.2,525.0 732.8,525.0 742.6,526.9" fill="none" stroke="#777777" stroke-width="3.7" stroke-linejoin="round" stroke-linecap="round"/>
<path d="M484.1,497.5 495.8,495.6 505.5,493.6 517.2,497.5 528.9,497.5 536.7,505.3 538.7,493.6 540.6,483.9 554.3,483.9 564.0,476.1 567.9,466.3 566.0,456.6 567.9,448.8" fill="none" stroke="#777777" stroke-width="3.7" stroke-linejoin="round" stroke-linecap="round"/>
<path d="M484.1,497.5 491.9,509.2 505.5,519.0 513.3,520.9 525.0,528.7 536.7,536.5 556.2,534.6 573.8,538.5 581.6,548.2 587.4,561.9 599.1,554.1 606.9,544.3 601.1,524.8 591.3,522.9 593.3,519.0 603.0,518.6" fill="none" stroke="#777777" stroke-width="3.7" stroke-linejoin="round" stroke-linecap="round"/>
<path d="M413.9,536.5 423.6,532.6 439.2,536.5 454.8,534.6 452.9,526.8 462.6,519.0 478.2,524.8 489.9,532.6 501.6,540.4 513.3,556.0 511.4,575.5 517.2,587.2 521.1,598.9 523.1,614.5 525.0,630.1 529.9,628.2" fill="none" stroke="#777777" stroke-width="3.7" stroke-linejoin="round" stroke-linecap="round"/>
<path d="M220.7,491.7 227.5,501.5 239.2,505.4 249.0,513.2 252.9,522.9 249.0,538.5 254.8,544.4 266.5,547.3 278.2,548.3 284.1,556.1 288.0,569.7 293.8,563.9 301.6,571.7 309.4,575.6 317.2,577.5 327.0,583.4 336.7,573.6 348.4,575.6 360.1,579.5 373.8,581.4 380.6,587.3 391.3,579.5 403.0,575.6 409.9,571.7 405.0,561.9 408.9,554.1 410.8,538.5 403.0,519.0 401.1,505.4 410.8,491.7 412.8,483.9 422.5,472.2 434.2,470.2 449.8,472.2 465.4,478.0 479.1,485.9 488.8,497.6" fill="none" stroke="#777777" stroke-width="3.7" stroke-linejoin="round" stroke-linecap="round"/>
<path d="M530.0,628.3 533.9,647.8 541.7,665.3 545.6,680.9 551.5,692.6 561.2,698.5 569.0,704.3 580.7,696.5 584.6,714.1" fill="none" stroke="#777777" stroke-width="3.7" stroke-linejoin="round" stroke-linecap="round"/>
<path d="M611.9,673.1 611.9,686.8 610.0,700.4 604.1,704.3 592.4,708.2 584.6,714.1 584.6,725.8 588.5,731.6 600.2,733.6 608.0,729.7 621.7,731.6 631.4,735.5 639.2,741.4" fill="none" stroke="#777777" stroke-width="3.7" stroke-linejoin="round" stroke-linecap="round"/>
<path d="M611.9,673.1 621.7,669.2 631.4,677.0 647.0,680.9 666.5,679.0 686.0,677.0 697.7,675.1 705.5,680.9 717.2,680.9 728.9,679.0 732.8,692.6 744.5,696.5 746.5,704.3 756.2,702.4 764.0,692.6 775.7,686.8 789.4,688.7 799.1,690.7 803.0,700.4 799.1,704.3 810.8,702.4 818.6,692.6 828.4,686.8 832.3,675.1 832.3,661.4 838.1,647.8 842.0,638.0 857.6,628.3 863.5,622.4 859.6,608.8 853.7,599.0 845.9,595.1 851.8,589.3 871.3,585.4 890.8,579.5 900.6,571.7" fill="none" stroke="#777777" stroke-width="3.7" stroke-linejoin="round" stroke-linecap="round"/>
<path d="M832.3,675.1 838.1,680.9 845.9,696.5 847.9,708.2 845.9,721.9" fill="none" stroke="#777777" stroke-width="3.7" stroke-linejoin="round" stroke-linecap="round"/>
<path d="M730.0,524.8 741.7,528.7 753.4,532.6 765.1,544.3 769.0,554.1 776.8,561.9 788.5,567.7 802.2,571.6 811.9,575.5 819.7,573.6 821.7,563.8 827.5,556.0 839.2,548.2 847.0,538.5 858.7,540.4 870.4,538.5 882.1,538.5 891.9,536.5" fill="none" stroke="#777777" stroke-width="3.7" stroke-linejoin="round" stroke-linecap="round"/>
<path d="M650.9,382.6 647.0,376.8 639.2,371.9 635.3,369.9" fill="none" stroke="#777777" stroke-width="3.7" stroke-linejoin="round" stroke-linecap="round"/>
<path d="M215.8,480.0 212.9,460.8 211.9,439.4 188.5,425.7 184.6,414.0 181.7,402.3 175.8,395.5 170.0,393.6 178.8,382.8 176.8,367.2 167.1,357.5 169.0,347.7 177.8,336.0 196.3,330.2 208.0,336.0 215.8,338.0 225.6,328.2 235.3,326.3 245.1,324.3 250.9,327.2 266.5,323.3 278.2,318.5 284.1,306.8 290.9,299.0 289.9,281.4 291.9,271.7 288.9,265.8 301.6,264.8 315.3,262.9 325.0,268.7 323.1,260.0 330.9,248.3 340.6,231.7 350.4,236.6 373.8,240.5 375.7,222.9 381.6,216.1 394.3,213.2 397.2,205.4 410.8,206.3 411.8,219.0 420.6,227.8 432.3,232.7 438.1,238.5 440.1,248.3 445.0,261.9 442.0,273.6 436.2,279.5 437.2,287.3 445.9,293.1 459.6,297.0 473.2,299.0 488.8,309.7 498.6,314.6 502.5,328.2 510.3,345.8 530.0,346.7 549.5,351.4 569.0,351.4 584.6,356.3 592.4,363.1 608.0,369.0 623.6,371.9 635.3,369.9 650.9,363.1 666.5,358.2 686.0,356.3 701.6,351.4 713.3,341.7 725.0,330.9 728.9,327.0 721.1,318.3 722.1,308.5 728.9,302.7 741.7,305.0 751.5,307.0 759.3,297.2 765.1,293.3 776.8,289.4 784.6,279.7 788.5,271.9 798.3,266.0 808.0,262.1 817.8,260.2 827.5,259.2 832.4,256.3 827.5,250.4 819.7,242.6 808.0,236.8 796.3,240.7 792.4,246.5 776.8,248.5 770.0,240.7 772.9,227.0 776.8,213.4 780.7,205.6 794.4,207.5 804.1,199.7 811.9,195.8 815.8,174.4 821.7,158.8 825.6,151.0 815.8,147.1 817.8,139.3 823.6,131.5 837.3,125.6 854.8,120.7 866.5,123.7 878.2,123.7 888.0,129.5 895.8,139.3 903.6,151.0 911.4,162.7 917.2,172.4 919.2,182.2 930.9,182.2 944.5,184.1 960.1,190.0 964.0,197.8 969.9,209.5 983.5,205.6 991.3,199.7 999.1,191.9 1008.9,186.1 1020.6,182.2 1018.6,193.9 1016.7,211.4 1016.7,227.0 1012.8,242.6 1012.8,254.3 997.2,254.3 987.4,264.1 993.3,275.8 995.2,285.5 999.1,297.2 993.3,310.9 985.5,305.0 979.6,316.7 969.9,326.5 960.1,330.4 964.0,342.1 954.3,340.1 944.5,338.2 938.7,349.9 928.9,361.6 919.2,371.3 909.4,381.1 897.7,388.9 889.9,396.7 884.1,402.5 878.2,410.0 873.2,411.9 871.3,404.1 875.2,394.3 881.0,386.5 883.0,374.8 877.1,367.0 869.3,367.0 861.5,374.8 855.7,386.5 849.8,390.4 844.0,398.2 840.1,406.0 826.4,411.9 820.6,419.7 824.5,429.4 834.2,433.3 842.0,431.4 844.0,439.2 849.8,447.0 861.5,443.1 869.3,433.3 873.2,425.5 881.0,433.3 890.8,433.3 901.6,437.1 895.8,448.8 882.1,456.6 866.5,464.4 860.7,478.0 854.8,491.7 862.6,499.5 872.4,503.4 880.2,515.1 886.0,526.8 891.9,536.5 901.6,542.4 907.5,550.2 909.4,561.9 905.5,569.7 895.8,577.5 905.5,576.5 913.3,575.5 917.6,582.4 918.8,595.0 917.2,610.6 909.4,618.4 905.5,630.1 899.7,639.9 895.8,651.6 891.9,661.3 891.9,673.0 892.7,675.1 881.0,686.8 869.3,700.4 859.6,710.2 849.8,721.9 840.1,731.6 826.4,739.4 812.8,745.3 803.0,753.1 791.3,757.0 779.6,760.9 767.9,764.8 754.3,766.7 744.5,770.6 734.8,772.6 736.7,784.3 736.7,794.0 730.9,797.9 725.0,796.0 721.1,786.2 717.2,774.5 719.2,768.7 709.4,768.7 697.7,770.6 686.0,771.6 674.3,768.7 664.6,764.8 660.7,755.0 654.8,747.2 645.1,741.4 637.3,741.4 627.5,745.3 619.7,747.2 611.9,753.1 602.2,749.2 592.4,753.1 582.7,749.2 572.9,751.1 571.0,762.8 571.9,776.5 565.1,776.5 559.3,772.6 553.4,766.7 543.7,768.7 535.9,762.8 530.0,757.0 524.0,760.8 527.9,753.0 524.0,741.3 520.1,731.6 512.3,723.8 498.6,721.8 504.5,717.9 499.6,714.0 500.6,702.3 508.4,692.6 518.1,684.8 522.0,677.0 524.0,655.5 518.1,649.7 512.3,636.0 506.4,630.2 502.5,634.1 494.7,645.8 484.9,636.0 473.2,632.1 457.6,639.9 445.9,645.8 436.2,655.5 420.6,653.6 408.9,653.6 408.9,645.8 403.0,639.9 399.1,629.2 391.3,630.2 381.6,625.3 369.9,621.4 362.1,628.2 356.2,638.9 352.3,636.0 354.3,630.2 350.4,622.4 336.7,624.3 325.0,621.4 317.2,614.6 307.5,615.5 303.6,608.7 295.8,604.8 291.9,599.0 284.1,591.2 278.2,579.5 270.4,581.4 266.5,573.6 258.7,565.8 250.9,558.0 245.1,553.1 236.3,558.0 233.4,550.2 225.6,544.4 217.8,536.6 208.0,531.7 203.1,524.9 204.1,519.0 202.2,507.3 203.1,498.5 210.0,496.6 211.9,501.5 218.7,498.5 220.7,491.7Z" fill="none" stroke="#777777" stroke-width="4.1" stroke-linejoin="round"/>
<path d="M705.5,805.7 717.2,799.9 727.0,798.9 736.7,799.9 746.5,799.9 742.6,809.6 738.7,819.4 728.9,827.2 719.2,835.0 705.5,833.0 699.7,823.3 699.7,813.5Z" fill="none" stroke="#777777" stroke-width="4.1" stroke-linejoin="round"/>
<path d="M927.5,674.1 931.9,678.5 931.9,690.2 929.7,701.9 929.0,713.6 926.1,725.3 923.1,735.6 921.7,744.3 917.3,741.4 911.4,735.6 907.0,725.3 902.7,715.1 903.4,704.8 908.5,693.1 912.9,682.9 920.2,675.6Z" fill="none" stroke="#777777" stroke-width="3.2" stroke-linejoin="round"/>
<path d="M945.8,685.8 946.5,706.3" fill="none" stroke="#777777" stroke-width="3"/>
<path d="M939.2,744.3 930.4,760.4" fill="none" stroke="#777777" stroke-width="3"/>
<path d="M912.9,798.4 907.0,817.5" fill="none" stroke="#777777" stroke-width="3"/>
<path d="M958.2,655.1 954.6,659.5" fill="none" stroke="#777777" stroke-width="3"/>
</g>
<path d="M906.5,550.2 910.4,561.9 906.5,571.6 913.3,576.5 920.2,585.3 920.2,595.0 918.2,610.6 910.4,619.4 906.5,631.1 900.6,640.9 896.7,652.6 893.4,662.3 893.0,673.0 887.2,683.8 879.4,691.6 871.6,700.3" fill="none" stroke="#777777" stroke-width="6.5" stroke-linejoin="round" stroke-linecap="round" stroke-dasharray="9 2.5 5 1.5 12 3"/>
<path d="M893.9,675.1 882.2,687.7 870.5,701.6 860.8,711.3 851.0,723.0 841.3,732.8 827.6,740.6 814.0,746.4 804.2,754.2 792.5,758.1 780.8,762.0" fill="none" stroke="#777777" stroke-width="6.5" stroke-linejoin="round" stroke-linecap="round" stroke-dasharray="9 2.5 5 1.5 12 3"/>
<ellipse cx="921" cy="571" rx="6" ry="9" fill="#777777" transform="rotate(30 921 571)"/>
<ellipse cx="917" cy="585" rx="4" ry="6" fill="#777777" transform="rotate(0 917 585)"/>
<ellipse cx="875" cy="407" rx="7" ry="4" fill="#777777" transform="rotate(-30 875 407)"/>
<ellipse cx="893" cy="714" rx="3.2" ry="4.5" fill="#777777" transform="rotate(0 893 714)"/>
<ellipse cx="851.5" cy="775" rx="2.2" ry="2.2" fill="#777777" transform="rotate(0 851.5 775)"/>
<ellipse cx="732" cy="786" rx="3" ry="5" fill="#777777" transform="rotate(10 732 786)"/>
<ellipse cx="707" cy="778" rx="1.5" ry="2.5" fill="#777777" transform="rotate(0 707 778)"/>
<ellipse cx="927" cy="664" rx="1.8" ry="3" fill="#777777" transform="rotate(20 927 664)"/>
<rect x="969.6" y="640.9" width="176.9999999999999" height="213.5" fill="#fff"/>
<clipPath id="ilc"><polygon points="971.3,642.5 1112.8,642.5 1110.2,648.0 1107.6,654.4 1103.8,659.5 1098.7,664.7 1093.5,668.5 1088.4,672.4 1082.0,675.6 1075.5,678.1 1069.1,680.7 1062.7,681.4 1058.9,685.2 1052.4,687.1 1047.3,687.8 1042.2,688.4 1038.6,689.3 1038.6,699.3 1034.5,699.3 1033.8,689.3 1031.9,689.1 1026.8,687.8 1021.6,686.5 1016.5,685.2 1011.4,682.6 1007.5,678.8 1002.4,675.6 997.2,674.9 993.4,676.9 988.2,678.8 983.1,679.4 976.7,680.1 971.3,681.4"/></clipPath>
<g clip-path="url(#ilc)"><rect x="968" y="640" width="180" height="60" fill="#ff5a5a"/><ellipse cx="985" cy="650" rx="16" ry="12" fill="#ff3030" filter="url(#ib)"/><ellipse cx="1045" cy="676" rx="24" ry="14" fill="#ffb4b4" filter="url(#ib)"/><ellipse cx="1105" cy="655" rx="22" ry="14" fill="#ff7070" filter="url(#ib)"/>
<polyline points="971.3,662.1 975.4,660.8 976.7,667.2 981.8,671.1 984.4,667.2 987.6,649.3 990.8,648.0 998.5,650.5 1007.5,651.2 1015.2,649.9 1021.6,650.5 1026.8,653.8 1034.5,652.5 1039.6,657.0 1044.7,662.1 1049.9,657.6 1057.6,657.0 1065.3,662.1 1071.7,660.2 1078.1,655.7 1081.3,649.3 1083.3,644.1" fill="none" stroke="#8a8a8a" stroke-width="1.2"/>
<polyline points="1081.3,649.3 1085.2,655.7 1086.5,663.4 1085.2,668.5" fill="none" stroke="#8a8a8a" stroke-width="1.2"/>
<polyline points="976.7,667.2 981.8,672.4 989.5,669.8 994.7,672.4" fill="none" stroke="#8a8a8a" stroke-width="1.2"/>
</g>
<polyline points="1112.8,642.5 1110.2,648.0 1107.6,654.4 1103.8,659.5 1098.7,664.7 1093.5,668.5 1088.4,672.4 1082.0,675.6 1075.5,678.1 1069.1,680.7 1062.7,681.4 1058.9,685.2 1052.4,687.1 1047.3,687.8 1042.2,688.4 1038.6,689.3 1038.6,699.3 1034.5,699.3 1033.8,689.3 1031.9,689.1 1026.8,687.8 1021.6,686.5 1016.5,685.2 1011.4,682.6 1007.5,678.8 1002.4,675.6 997.2,674.9 993.4,676.9 988.2,678.8 983.1,679.4 976.7,680.1 971.3,681.4" fill="none" stroke="#777777" stroke-width="1.6" stroke-linejoin="round"/>
<polygon points="1024.2,703.2 1029.3,700.0 1035.7,699.3 1040.2,701.3 1039.0,705.7 1035.7,709.0 1030.6,711.5 1025.5,712.2 1022.9,708.3" fill="#ff7a7a" stroke="#777777" stroke-width="0.8"/>
<polygon points="1122.4,657.6 1123.1,662.1 1121.1,668.5 1118.6,674.9 1116.0,680.7 1113.4,682.0 1110.2,677.5 1107.6,672.4 1110.2,668.5 1115.3,663.4 1119.2,658.9" fill="none" stroke="#666" stroke-width="1"/>
<path d="M1028.1,731.7L1030.6,727.3M1045.6,724.8L1050.3,726.5M1063.1,730.1L1067.4,727.6M1090.0,734.6L1092.0,734.6M1100.6,730.7L1100.6,734.7M1104.8,711.5L1108.0,707.7M1117.6,689.7L1120.8,685.9M1082.9,693.6L1084.9,693.6M1127.8,665.3L1128.5,669.2M1133.6,655.7L1135.6,655.7M1034.5,758.5L1034.5,763.5M1064.9,764.4L1066.9,767.8M1066.8,774.2L1068.8,770.8M1075.8,769.5L1077.8,773.0M1082.0,769.4L1084.5,767.9M1097.8,764.6L1099.5,759.9M1054.0,776.4L1056.0,776.4M1046.0,785.6L1048.6,782.5M1031.4,790.2L1034.9,788.2M1059.9,784.1L1063.0,786.6M1059.6,791.6L1060.7,794.5M1069.0,788.4L1071.8,787.4M1076.5,793.7L1079.7,789.9M1019.1,797.0L1019.1,802.0M1051.2,804.5L1051.2,808.5M1048.0,822.6L1051.7,821.3" stroke="#555" stroke-width="2.2" fill="none"/>
<rect x="969.6" y="640.9" width="176.9999999999999" height="213.5" fill="none" stroke="#000" stroke-width="3.3"/>
<rect x="134.6" y="104.9" width="1011.9999999999999" height="749.5" fill="none" stroke="#000" stroke-width="4.8"/>
</g>
<g transform="translate(1065,804)">
<g filter="url(#sb)">
<g clip-path="url(#cn)"><path fill="#ff0000" d="M616,570h8v8h-8zM608,578h32v8h-32zM600,586h48v8h-48zM592,594h56v8h-56zM592,602h56v8h-56zM592,610h64v8h-64zM592,618h72v8h-72zM592,626h80v8h-80zM736,626h8v8h-8zM592,634h80v8h-80zM728,634h24v8h-24zM584,642h80v8h-80zM728,642h32v8h-32zM584,650h72v8h-72zM736,650h24v8h-24zM592,658h64v8h-64zM736,658h16v8h-16zM600,666h56v8h-56zM616,674h32v8h-32z"/>
<path fill="#ff0d0d" d="M632,530h8v8h-8zM608,570h8v8h-8zM624,570h16v8h-16zM600,578h8v8h-8zM640,578h16v8h-16zM592,586h8v8h-8zM648,586h8v8h-8zM648,594h8v8h-8zM648,602h8v8h-8zM584,610h8v8h-8zM584,618h8v8h-8zM664,618h16v8h-16zM584,626h8v8h-8zM672,626h16v8h-16zM720,626h16v8h-16zM744,626h16v8h-16zM584,634h8v8h-8zM672,634h16v8h-16zM720,634h8v8h-8zM752,634h8v8h-8zM664,642h24v8h-24zM720,642h8v8h-8zM576,650h8v8h-8zM672,650h16v8h-16zM728,650h8v8h-8zM584,658h8v8h-8zM656,658h32v8h-32zM728,658h8v8h-8zM752,658h8v8h-8zM584,666h16v8h-16zM656,666h16v8h-16zM736,666h8v8h-8zM592,674h24v8h-24zM648,674h16v8h-16zM608,682h48v8h-48z"/>
<path fill="#ff1919" d="M640,530h8v8h-8zM632,538h24v8h-24zM632,546h24v8h-24zM624,554h32v8h-32zM616,562h48v8h-48zM640,570h24v8h-24zM592,578h8v8h-8zM656,578h16v8h-16zM656,586h16v8h-16zM584,594h8v8h-8zM656,594h24v8h-24zM584,602h8v8h-8zM656,602h24v8h-24zM656,610h32v8h-32zM712,610h24v8h-24zM680,618h88v8h-88zM688,626h32v8h-32zM760,626h8v8h-8zM576,634h8v8h-8zM688,634h32v8h-32zM760,634h16v8h-16zM576,642h8v8h-8zM688,642h32v8h-32zM760,642h8v8h-8zM656,650h16v8h-16zM688,650h8v8h-8zM712,650h16v8h-16zM760,650h8v8h-8zM576,658h8v8h-8zM688,658h16v8h-16zM712,658h16v8h-16zM576,666h8v8h-8zM672,666h32v8h-32zM720,666h16v8h-16zM744,666h8v8h-8zM576,674h16v8h-16zM664,674h32v8h-32zM584,682h24v8h-24zM656,682h16v8h-16zM592,690h64v8h-64zM608,698h32v8h-32z"/>
<path fill="#ff2626" d="M632,522h16v8h-16zM648,530h8v8h-8zM656,538h8v8h-8zM624,546h8v8h-8zM656,546h8v8h-8zM656,554h16v8h-16zM664,562h16v8h-16zM600,570h8v8h-8zM664,570h24v8h-24zM584,578h8v8h-8zM672,578h24v8h-24zM584,586h8v8h-8zM672,586h40v8h-40zM680,594h72v8h-72zM576,602h8v8h-8zM680,602h88v8h-88zM688,610h24v8h-24zM736,610h48v8h-48zM576,618h8v8h-8zM768,618h16v8h-16zM576,626h8v8h-8zM768,626h16v8h-16zM776,634h8v8h-8zM568,642h8v8h-8zM768,642h16v8h-16zM568,650h8v8h-8zM696,650h16v8h-16zM768,650h8v8h-8zM568,658h8v8h-8zM704,658h8v8h-8zM760,658h8v8h-8zM568,666h8v8h-8zM704,666h16v8h-16zM752,666h8v8h-8zM568,674h8v8h-8zM696,674h56v8h-56zM576,682h8v8h-8zM672,682h40v8h-40zM576,690h16v8h-16zM656,690h24v8h-24zM512,698h8v8h-8zM576,698h32v8h-32zM640,698h24v8h-24zM576,706h72v8h-72zM568,714h56v8h-56zM568,722h40v8h-40z"/>
<path fill="#ff3333" d="M648,522h8v8h-8zM624,530h8v8h-8zM656,530h8v8h-8zM624,538h8v8h-8zM664,538h8v8h-8zM664,546h16v8h-16zM616,554h8v8h-8zM672,554h24v8h-24zM608,562h8v8h-8zM680,562h32v8h-32zM688,570h40v8h-40zM696,578h72v8h-72zM864,578h16v8h-16zM712,586h64v8h-64zM864,586h16v8h-16zM576,594h8v8h-8zM752,594h40v8h-40zM768,602h32v8h-32zM576,610h8v8h-8zM784,610h16v8h-16zM784,618h16v8h-16zM784,626h16v8h-16zM568,634h8v8h-8zM784,634h16v8h-16zM784,642h16v8h-16zM560,650h8v8h-8zM776,650h24v8h-24zM560,658h8v8h-8zM768,658h24v8h-24zM560,666h8v8h-8zM760,666h8v8h-8zM520,674h8v8h-8zM560,674h8v8h-8zM752,674h8v8h-8zM512,682h24v8h-24zM560,682h16v8h-16zM712,682h24v8h-24zM504,690h32v8h-32zM560,690h16v8h-16zM680,690h24v8h-24zM504,698h8v8h-8zM520,698h16v8h-16zM560,698h16v8h-16zM664,698h8v8h-8zM504,706h40v8h-40zM552,706h24v8h-24zM648,706h8v8h-8zM504,714h64v8h-64zM624,714h24v8h-24zM504,722h32v8h-32zM544,722h24v8h-24zM608,722h16v8h-16zM520,730h8v8h-8zM552,730h64v8h-64zM552,738h48v8h-48z"/>
<path fill="#ff4040" d="M624,522h8v8h-8zM656,522h8v8h-8zM664,530h8v8h-8zM672,538h8v8h-8zM616,546h8v8h-8zM680,546h32v8h-32zM696,554h32v8h-32zM712,562h32v8h-32zM592,570h8v8h-8zM728,570h40v8h-40zM832,570h48v8h-48zM768,578h96v8h-96zM880,578h8v8h-8zM576,586h8v8h-8zM776,586h88v8h-88zM880,586h8v8h-8zM792,594h88v8h-88zM800,602h80v8h-80zM568,610h8v8h-8zM800,610h72v8h-72zM568,618h8v8h-8zM800,618h32v8h-32zM856,618h8v8h-8zM568,626h8v8h-8zM800,626h24v8h-24zM800,634h8v8h-8zM560,642h8v8h-8zM800,642h16v8h-16zM800,650h16v8h-16zM552,658h8v8h-8zM792,658h16v8h-16zM520,666h40v8h-40zM768,666h24v8h-24zM528,674h32v8h-32zM536,682h24v8h-24zM736,682h16v8h-16zM536,690h24v8h-24zM704,690h24v8h-24zM496,698h8v8h-8zM536,698h24v8h-24zM672,698h24v8h-24zM496,706h8v8h-8zM544,706h8v8h-8zM656,706h16v8h-16zM496,714h8v8h-8zM648,714h8v8h-8zM536,722h8v8h-8zM624,722h16v8h-16zM528,730h24v8h-24zM616,730h16v8h-16zM520,738h32v8h-32zM600,738h16v8h-16zM520,746h88v8h-88zM520,754h16v8h-16z"/>
<path fill="#ff4d4d" d="M632,514h24v8h-24zM664,522h8v8h-8zM616,530h8v8h-8zM616,538h8v8h-8zM680,538h40v8h-40zM712,546h24v8h-24zM608,554h8v8h-8zM728,554h24v8h-24zM600,562h8v8h-8zM744,562h24v8h-24zM832,562h56v8h-56zM584,570h8v8h-8zM768,570h64v8h-64zM880,570h16v8h-16zM888,578h8v8h-8zM880,594h8v8h-8zM568,602h8v8h-8zM880,602h8v8h-8zM872,610h32v8h-32zM832,618h24v8h-24zM864,618h16v8h-16zM432,626h16v8h-16zM824,626h16v8h-16zM416,634h8v8h-8zM432,634h16v8h-16zM560,634h8v8h-8zM808,634h24v8h-24zM432,642h8v8h-8zM816,642h8v8h-8zM408,650h32v8h-32zM552,650h8v8h-8zM816,650h8v8h-8zM528,658h24v8h-24zM808,658h8v8h-8zM792,666h8v8h-8zM760,674h8v8h-8zM752,682h8v8h-8zM728,690h8v8h-8zM696,698h16v8h-16zM672,706h16v8h-16zM656,714h16v8h-16zM640,722h16v8h-16zM632,730h8v8h-8zM616,738h16v8h-16zM608,746h16v8h-16zM536,754h40v8h-40zM536,762h40v8h-40z"/>
<path fill="#ff5959" d="M624,514h8v8h-8zM656,514h8v8h-8zM616,522h8v8h-8zM672,530h8v8h-8zM688,530h24v8h-24zM720,538h16v8h-16zM608,546h8v8h-8zM736,546h16v8h-16zM752,554h16v8h-16zM832,554h56v8h-56zM768,562h16v8h-16zM792,562h40v8h-40zM888,562h8v8h-8zM576,578h8v8h-8zM896,578h8v8h-8zM888,586h16v8h-16zM568,594h8v8h-8zM888,594h16v8h-16zM888,602h24v8h-24zM904,610h8v8h-8zM432,618h16v8h-16zM560,618h8v8h-8zM880,618h32v8h-32zM416,626h16v8h-16zM560,626h8v8h-8zM840,626h40v8h-40zM400,634h16v8h-16zM832,634h8v8h-8zM408,642h24v8h-24zM440,642h8v8h-8zM552,642h8v8h-8zM824,642h16v8h-16zM536,650h16v8h-16zM824,650h8v8h-8zM520,658h8v8h-8zM816,658h8v8h-8zM800,666h16v8h-16zM768,674h16v8h-16zM736,690h8v8h-8zM712,698h16v8h-16zM688,706h16v8h-16zM672,714h16v8h-16zM656,722h8v8h-8zM640,730h16v8h-16zM632,738h8v8h-8zM552,770h24v8h-24z"/>
<path fill="#ff6666" d="M632,506h24v8h-24zM616,514h8v8h-8zM664,514h8v8h-8zM672,522h32v8h-32zM608,530h8v8h-8zM680,530h8v8h-8zM712,530h24v8h-24zM608,538h8v8h-8zM736,538h16v8h-16zM752,546h16v8h-16zM824,546h72v8h-72zM768,554h16v8h-16zM792,554h40v8h-40zM888,554h16v8h-16zM592,562h8v8h-8zM784,562h8v8h-8zM896,562h16v8h-16zM904,570h8v8h-8zM904,578h16v8h-16zM568,586h8v8h-8zM904,586h16v8h-16zM904,594h16v8h-16zM560,602h8v8h-8zM912,602h8v8h-8zM440,610h24v8h-24zM560,610h8v8h-8zM912,610h8v8h-8zM424,618h8v8h-8zM448,618h8v8h-8zM400,626h16v8h-16zM448,626h8v8h-8zM880,626h32v8h-32zM424,634h8v8h-8zM448,634h8v8h-8zM552,634h8v8h-8zM840,634h40v8h-40zM448,642h8v8h-8zM544,642h8v8h-8zM840,642h32v8h-32zM520,650h16v8h-16zM832,650h16v8h-16zM824,658h8v8h-8zM816,666h8v8h-8zM784,674h16v8h-16zM760,682h8v8h-8zM744,690h8v8h-8zM728,698h8v8h-8zM704,706h8v8h-8zM688,714h16v8h-16zM664,722h16v8h-16zM656,730h8v8h-8zM640,738h16v8h-16z"/>
<path fill="#ff7373" d="M624,506h8v8h-8zM656,506h16v8h-16zM672,514h24v8h-24zM608,522h8v8h-8zM704,522h24v8h-24zM736,530h16v8h-16zM752,538h16v8h-16zM824,538h80v8h-80zM768,546h56v8h-56zM896,546h16v8h-16zM600,554h8v8h-8zM784,554h8v8h-8zM904,554h8v8h-8zM576,570h8v8h-8zM912,570h8v8h-8zM568,578h8v8h-8zM440,602h24v8h-24zM432,610h8v8h-8zM552,610h8v8h-8zM416,618h8v8h-8zM552,618h8v8h-8zM392,626h8v8h-8zM552,626h8v8h-8zM880,634h24v8h-24zM536,642h8v8h-8zM872,642h16v8h-16zM848,650h32v8h-32zM832,658h24v8h-24zM824,666h8v8h-8zM800,674h8v8h-8zM768,682h8v8h-8zM736,698h8v8h-8zM712,706h8v8h-8zM704,714h8v8h-8zM680,722h16v8h-16zM664,730h8v8h-8zM656,738h8v8h-8z"/>
<path fill="#ff8080" d="M632,498h32v8h-32zM616,506h8v8h-8zM672,506h16v8h-16zM608,514h8v8h-8zM696,514h16v8h-16zM728,522h24v8h-24zM752,530h16v8h-16zM824,530h72v8h-72zM600,538h8v8h-8zM768,538h56v8h-56zM600,546h8v8h-8zM584,562h8v8h-8zM448,594h24v8h-24zM560,594h8v8h-8zM464,602h8v8h-8zM552,602h8v8h-8zM424,610h8v8h-8zM464,610h8v8h-8zM544,610h8v8h-8zM400,618h16v8h-16zM456,618h8v8h-8zM544,618h8v8h-8zM384,626h8v8h-8zM456,626h8v8h-8zM544,626h8v8h-8zM456,634h8v8h-8zM544,634h8v8h-8zM520,642h16v8h-16zM888,642h16v8h-16zM880,650h16v8h-16zM856,658h24v8h-24zM832,666h24v8h-24zM808,674h16v8h-16zM776,682h16v8h-16zM752,690h8v8h-8zM720,706h8v8h-8zM712,714h8v8h-8zM696,722h8v8h-8zM672,730h16v8h-16zM664,738h8v8h-8zM656,746h8v8h-8z"/>
<path fill="#ff8c8c" d="M640,490h32v8h-32zM616,498h16v8h-16zM664,498h32v8h-32zM688,506h16v8h-16zM712,514h24v8h-24zM600,522h8v8h-8zM752,522h32v8h-32zM832,522h56v8h-56zM600,530h8v8h-8zM768,530h56v8h-56zM592,554h8v8h-8zM560,578h8v8h-8zM456,586h16v8h-16zM560,586h8v8h-8zM440,594h8v8h-8zM472,594h16v8h-16zM552,594h8v8h-8zM432,602h8v8h-8zM472,602h8v8h-8zM544,602h8v8h-8zM416,610h8v8h-8zM536,618h8v8h-8zM536,634h8v8h-8zM512,642h8v8h-8zM880,658h16v8h-16zM856,666h24v8h-24zM824,674h8v8h-8zM792,682h8v8h-8zM760,690h16v8h-16zM744,698h8v8h-8zM728,706h8v8h-8zM704,722h8v8h-8zM688,730h16v8h-16zM672,738h8v8h-8zM664,746h8v8h-8zM656,754h8v8h-8z"/>
<path fill="#ff9999" d="M656,482h16v8h-16zM616,490h24v8h-24zM672,490h16v8h-16zM696,498h8v8h-8zM608,506h8v8h-8zM704,506h24v8h-24zM600,514h8v8h-8zM736,514h48v8h-48zM832,514h56v8h-56zM784,522h48v8h-48zM592,546h8v8h-8zM576,562h8v8h-8zM568,570h8v8h-8zM472,586h8v8h-8zM536,586h8v8h-8zM488,594h16v8h-16zM544,594h8v8h-8zM480,602h8v8h-8zM512,602h16v8h-16zM472,610h8v8h-8zM520,610h8v8h-8zM536,610h8v8h-8zM392,618h8v8h-8zM464,618h8v8h-8zM528,618h8v8h-8zM536,626h8v8h-8zM352,634h8v8h-8zM464,634h8v8h-8zM512,634h24v8h-24zM880,666h16v8h-16zM832,674h32v8h-32zM888,674h8v8h-8zM800,682h16v8h-16zM776,690h8v8h-8zM752,698h8v8h-8zM736,706h8v8h-8zM720,714h8v8h-8zM712,722h8v8h-8zM704,730h8v8h-8zM680,738h16v8h-16zM672,746h8v8h-8zM664,754h8v8h-8zM664,762h8v8h-8z"/>
<path fill="#ffa6a6" d="M656,474h16v8h-16zM624,482h32v8h-32zM672,482h16v8h-16zM688,490h16v8h-16zM608,498h8v8h-8zM704,498h16v8h-16zM600,506h8v8h-8zM728,506h16v8h-16zM840,506h40v8h-40zM784,514h48v8h-48zM592,522h8v8h-8zM208,530h8v8h-8zM592,530h8v8h-8zM216,538h16v8h-16zM592,538h8v8h-8zM224,546h16v8h-16zM232,554h8v8h-8zM584,554h8v8h-8zM560,570h8v8h-8zM448,586h8v8h-8zM480,586h8v8h-8zM552,586h8v8h-8zM432,594h8v8h-8zM504,594h8v8h-8zM536,594h8v8h-8zM424,602h8v8h-8zM488,602h24v8h-24zM536,602h8v8h-8zM400,610h16v8h-16zM512,610h8v8h-8zM528,610h8v8h-8zM376,618h16v8h-16zM520,618h8v8h-8zM360,626h8v8h-8zM464,626h8v8h-8zM512,626h24v8h-24zM496,634h8v8h-8zM488,642h8v8h-8zM864,674h24v8h-24zM816,682h8v8h-8zM880,682h8v8h-8zM784,690h8v8h-8zM760,698h8v8h-8zM744,706h8v8h-8zM728,714h8v8h-8zM720,722h8v8h-8zM712,730h8v8h-8zM696,738h8v8h-8zM680,746h16v8h-16zM672,754h8v8h-8zM672,762h8v8h-8z"/>
<path fill="#ffb2b2" d="M288,394h16v8h-16zM656,466h16v8h-16zM616,474h16v8h-16zM648,474h8v8h-8zM672,474h16v8h-16zM616,482h8v8h-8zM688,482h8v8h-8zM608,490h8v8h-8zM704,490h8v8h-8zM600,498h8v8h-8zM720,498h16v8h-16zM840,498h32v8h-32zM744,506h96v8h-96zM200,514h8v8h-8zM592,514h8v8h-8zM200,522h24v8h-24zM216,530h24v8h-24zM232,538h16v8h-16zM240,546h16v8h-16zM584,546h8v8h-8zM248,554h8v8h-8zM256,562h8v8h-8zM264,578h8v8h-8zM456,578h16v8h-16zM552,578h8v8h-8zM488,586h16v8h-16zM528,586h8v8h-8zM544,586h8v8h-8zM512,594h24v8h-24zM528,602h8v8h-8zM480,610h8v8h-8zM320,618h8v8h-8zM368,618h8v8h-8zM472,618h8v8h-8zM512,618h8v8h-8zM352,626h8v8h-8zM504,626h8v8h-8zM824,682h24v8h-24zM856,682h24v8h-24zM792,690h16v8h-16zM856,690h24v8h-24zM768,698h16v8h-16zM752,706h8v8h-8zM736,714h8v8h-8zM728,722h8v8h-8zM704,738h8v8h-8zM696,746h8v8h-8zM680,754h16v8h-16zM680,762h16v8h-16zM680,770h16v8h-16zM696,810h8v8h-8zM696,818h8v8h-8zM696,826h8v8h-8z"/>
<path fill="#ffbfbf" d="M264,370h8v8h-8zM264,378h48v8h-48zM272,386h48v8h-48zM280,394h8v8h-8zM304,394h16v8h-16zM280,402h32v8h-32zM296,410h8v8h-8zM656,426h8v8h-8zM656,434h8v8h-8zM648,442h16v8h-16zM648,450h16v8h-16zM648,458h24v8h-24zM616,466h16v8h-16zM648,466h8v8h-8zM672,466h16v8h-16zM608,474h8v8h-8zM632,474h16v8h-16zM688,474h8v8h-8zM600,482h16v8h-16zM696,482h16v8h-16zM600,490h8v8h-8zM712,490h16v8h-16zM832,490h32v8h-32zM592,498h8v8h-8zM736,498h16v8h-16zM768,498h16v8h-16zM792,498h48v8h-48zM200,506h8v8h-8zM224,506h8v8h-8zM592,506h8v8h-8zM208,514h24v8h-24zM224,522h16v8h-16zM240,530h8v8h-8zM584,530h8v8h-8zM248,538h8v8h-8zM584,538h8v8h-8zM256,546h8v8h-8zM256,554h8v8h-8zM576,554h8v8h-8zM264,562h8v8h-8zM568,562h8v8h-8zM264,570h8v8h-8zM272,578h8v8h-8zM472,578h8v8h-8zM280,586h8v8h-8zM440,586h8v8h-8zM504,586h8v8h-8zM416,602h8v8h-8zM304,610h16v8h-16zM392,610h8v8h-8zM488,610h8v8h-8zM504,610h8v8h-8zM328,618h24v8h-24zM360,618h8v8h-8zM504,618h8v8h-8zM472,626h8v8h-8zM496,626h8v8h-8zM480,634h16v8h-16zM848,682h8v8h-8zM808,690h16v8h-16zM840,690h16v8h-16zM784,698h8v8h-8zM848,698h24v8h-24zM760,706h16v8h-16zM856,706h8v8h-8zM744,714h16v8h-16zM736,722h8v8h-8zM720,730h8v8h-8zM712,738h8v8h-8zM704,746h16v8h-16zM696,754h16v8h-16zM696,762h24v8h-24zM712,770h16v8h-16zM712,778h24v8h-24zM720,786h16v8h-16zM712,794h24v8h-24zM704,802h32v8h-32zM704,810h32v8h-32zM704,818h32v8h-32zM704,826h24v8h-24zM712,834h8v8h-8z"/>
<path fill="#ffcccc" d="M264,362h8v8h-8zM256,370h8v8h-8zM272,370h48v8h-48zM256,378h8v8h-8zM312,378h16v8h-16zM264,386h8v8h-8zM320,386h16v8h-16zM272,394h8v8h-8zM320,394h16v8h-16zM664,394h8v8h-8zM272,402h8v8h-8zM312,402h16v8h-16zM288,410h8v8h-8zM304,410h8v8h-8zM656,410h8v8h-8zM648,418h24v8h-24zM648,426h8v8h-8zM664,426h8v8h-8zM648,434h8v8h-8zM664,434h8v8h-8zM640,442h8v8h-8zM664,442h8v8h-8zM632,450h16v8h-16zM664,450h16v8h-16zM616,458h32v8h-32zM672,458h16v8h-16zM600,466h16v8h-16zM632,466h16v8h-16zM688,466h8v8h-8zM592,474h16v8h-16zM696,474h16v8h-16zM592,482h8v8h-8zM712,482h16v8h-16zM832,482h32v8h-32zM592,490h8v8h-8zM728,490h24v8h-24zM792,490h40v8h-40zM200,498h16v8h-16zM752,498h16v8h-16zM784,498h8v8h-8zM208,506h16v8h-16zM232,506h8v8h-8zM232,514h8v8h-8zM584,514h8v8h-8zM240,522h8v8h-8zM584,522h8v8h-8zM248,530h8v8h-8zM256,538h8v8h-8zM576,546h8v8h-8zM264,554h8v8h-8zM272,562h8v8h-8zM272,570h8v8h-8zM552,570h8v8h-8zM280,578h8v8h-8zM448,578h8v8h-8zM480,578h16v8h-16zM544,578h8v8h-8zM288,586h8v8h-8zM512,586h16v8h-16zM288,594h8v8h-8zM296,602h16v8h-16zM320,610h16v8h-16zM376,610h8v8h-8zM496,610h8v8h-8zM352,618h8v8h-8zM480,618h8v8h-8zM480,626h8v8h-8zM824,690h16v8h-16zM792,698h8v8h-8zM840,698h8v8h-8zM776,706h16v8h-16zM848,706h8v8h-8zM760,714h16v8h-16zM848,714h8v8h-8zM744,722h16v8h-16zM808,722h8v8h-8zM728,730h16v8h-16zM720,738h16v8h-16zM760,738h8v8h-8zM720,746h16v8h-16zM760,746h8v8h-8zM712,754h32v8h-32zM752,754h16v8h-16zM720,762h48v8h-48zM728,770h16v8h-16zM736,786h8v8h-8zM736,794h16v8h-16zM736,802h8v8h-8zM736,810h8v8h-8zM736,818h8v8h-8z"/>
<path fill="#ffd9d9" d="M720,354h8v8h-8zM248,362h16v8h-16zM272,362h8v8h-8zM296,362h16v8h-16zM720,362h8v8h-8zM248,370h8v8h-8zM320,370h8v8h-8zM248,378h8v8h-8zM328,378h8v8h-8zM664,378h8v8h-8zM808,378h40v8h-40zM256,386h8v8h-8zM336,386h8v8h-8zM656,386h24v8h-24zM808,386h48v8h-48zM264,394h8v8h-8zM336,394h8v8h-8zM648,394h16v8h-16zM672,394h8v8h-8zM816,394h32v8h-32zM328,402h8v8h-8zM648,402h24v8h-24zM824,402h24v8h-24zM280,410h8v8h-8zM312,410h8v8h-8zM648,410h8v8h-8zM664,410h8v8h-8zM296,418h8v8h-8zM192,426h8v8h-8zM640,426h8v8h-8zM672,426h8v8h-8zM840,426h8v8h-8zM864,426h32v8h-32zM640,434h8v8h-8zM672,434h8v8h-8zM864,434h40v8h-40zM632,442h8v8h-8zM672,442h8v8h-8zM848,442h56v8h-56zM624,450h8v8h-8zM680,450h8v8h-8zM840,450h56v8h-56zM600,458h16v8h-16zM688,458h8v8h-8zM832,458h48v8h-48zM208,466h8v8h-8zM584,466h16v8h-16zM696,466h16v8h-16zM816,466h8v8h-8zM840,466h32v8h-32zM208,474h8v8h-8zM584,474h8v8h-8zM712,474h24v8h-24zM808,474h56v8h-56zM584,482h8v8h-8zM728,482h24v8h-24zM792,482h40v8h-40zM208,490h16v8h-16zM584,490h8v8h-8zM752,490h40v8h-40zM216,498h24v8h-24zM584,498h8v8h-8zM584,506h8v8h-8zM240,514h8v8h-8zM248,522h8v8h-8zM576,538h8v8h-8zM264,546h8v8h-8zM272,554h8v8h-8zM568,554h8v8h-8zM560,562h8v8h-8zM280,570h8v8h-8zM288,578h8v8h-8zM496,578h8v8h-8zM528,578h16v8h-16zM296,586h8v8h-8zM432,586h8v8h-8zM296,594h16v8h-16zM424,594h8v8h-8zM312,602h16v8h-16zM336,610h16v8h-16zM360,610h8v8h-8zM384,610h8v8h-8zM488,618h16v8h-16zM488,626h8v8h-8zM800,698h40v8h-40zM792,706h56v8h-56zM776,714h72v8h-72zM760,722h48v8h-48zM816,722h32v8h-32zM744,730h96v8h-96zM736,738h24v8h-24zM768,738h64v8h-64zM736,746h24v8h-24zM768,746h48v8h-48zM744,754h8v8h-8zM768,754h32v8h-32zM768,762h8v8h-8z"/>
<path fill="#ffe6e6" d="M696,346h56v8h-56zM248,354h16v8h-16zM672,354h48v8h-48zM728,354h40v8h-40zM240,362h8v8h-8zM280,362h16v8h-16zM312,362h16v8h-16zM672,362h48v8h-48zM728,362h40v8h-40zM776,362h40v8h-40zM240,370h8v8h-8zM328,370h8v8h-8zM648,370h96v8h-96zM776,370h80v8h-80zM336,378h8v8h-8zM640,378h24v8h-24zM672,378h24v8h-24zM784,378h24v8h-24zM848,378h16v8h-16zM248,386h8v8h-8zM344,386h8v8h-8zM640,386h16v8h-16zM680,386h8v8h-8zM792,386h16v8h-16zM256,394h8v8h-8zM344,394h8v8h-8zM640,394h8v8h-8zM680,394h8v8h-8zM792,394h24v8h-24zM872,394h8v8h-8zM264,402h8v8h-8zM336,402h8v8h-8zM640,402h8v8h-8zM672,402h16v8h-16zM792,402h32v8h-32zM872,402h16v8h-16zM272,410h8v8h-8zM320,410h8v8h-8zM640,410h8v8h-8zM672,410h8v8h-8zM808,410h24v8h-24zM872,410h8v8h-8zM184,418h16v8h-16zM288,418h8v8h-8zM304,418h8v8h-8zM640,418h8v8h-8zM672,418h8v8h-8zM816,418h8v8h-8zM200,426h8v8h-8zM680,426h8v8h-8zM824,426h16v8h-16zM200,434h8v8h-8zM632,434h8v8h-8zM680,434h8v8h-8zM824,434h24v8h-24zM624,442h8v8h-8zM680,442h8v8h-8zM824,442h24v8h-24zM208,450h8v8h-8zM608,450h16v8h-16zM688,450h8v8h-8zM816,450h24v8h-24zM208,458h8v8h-8zM576,458h24v8h-24zM696,458h24v8h-24zM808,458h24v8h-24zM216,466h8v8h-8zM576,466h8v8h-8zM712,466h24v8h-24zM800,466h16v8h-16zM824,466h16v8h-16zM216,474h8v8h-8zM576,474h8v8h-8zM736,474h16v8h-16zM792,474h16v8h-16zM216,482h8v8h-8zM576,482h8v8h-8zM752,482h40v8h-40zM224,490h8v8h-8zM576,490h8v8h-8zM240,498h8v8h-8zM240,506h8v8h-8zM248,514h8v8h-8zM576,514h8v8h-8zM256,522h8v8h-8zM576,522h8v8h-8zM256,530h8v8h-8zM576,530h8v8h-8zM264,538h8v8h-8zM272,546h8v8h-8zM280,562h8v8h-8zM552,562h8v8h-8zM288,570h8v8h-8zM456,570h40v8h-40zM296,578h8v8h-8zM504,578h16v8h-16zM304,586h8v8h-8zM312,594h8v8h-8zM328,602h8v8h-8zM408,602h8v8h-8zM352,610h8v8h-8zM368,610h8v8h-8z"/>
<path fill="#fff2f2" d="M720,330h32v8h-32zM704,338h72v8h-72zM232,346h24v8h-24zM752,346h32v8h-32zM232,354h16v8h-16zM264,354h16v8h-16zM304,354h8v8h-8zM656,354h16v8h-16zM768,354h48v8h-48zM232,362h8v8h-8zM632,362h40v8h-40zM768,362h8v8h-8zM816,362h32v8h-32zM336,370h8v8h-8zM616,370h32v8h-32zM744,370h32v8h-32zM856,370h8v8h-8zM888,370h24v8h-24zM240,378h8v8h-8zM344,378h16v8h-16zM624,378h16v8h-16zM696,378h88v8h-88zM880,378h32v8h-32zM240,386h8v8h-8zM352,386h8v8h-8zM624,386h16v8h-16zM688,386h16v8h-16zM768,386h24v8h-24zM872,386h32v8h-32zM248,394h8v8h-8zM352,394h8v8h-8zM624,394h16v8h-16zM688,394h8v8h-8zM784,394h8v8h-8zM880,394h16v8h-16zM256,402h8v8h-8zM344,402h8v8h-8zM632,402h8v8h-8zM784,402h8v8h-8zM184,410h16v8h-16zM264,410h8v8h-8zM328,410h8v8h-8zM632,410h8v8h-8zM680,410h8v8h-8zM784,410h24v8h-24zM200,418h8v8h-8zM280,418h8v8h-8zM632,418h8v8h-8zM680,418h8v8h-8zM792,418h24v8h-24zM208,426h8v8h-8zM632,426h8v8h-8zM688,426h8v8h-8zM800,426h24v8h-24zM208,434h8v8h-8zM688,434h8v8h-8zM800,434h24v8h-24zM208,442h8v8h-8zM616,442h8v8h-8zM688,442h16v8h-16zM800,442h24v8h-24zM576,450h32v8h-32zM696,450h32v8h-32zM792,450h24v8h-24zM216,458h8v8h-8zM568,458h8v8h-8zM720,458h32v8h-32zM792,458h16v8h-16zM736,466h24v8h-24zM768,466h32v8h-32zM752,474h40v8h-40zM224,482h8v8h-8zM232,490h16v8h-16zM576,498h8v8h-8zM248,506h8v8h-8zM576,506h8v8h-8zM256,514h8v8h-8zM264,522h8v8h-8zM264,530h16v8h-16zM272,538h8v8h-8zM568,538h8v8h-8zM280,546h8v8h-8zM568,546h8v8h-8zM280,554h8v8h-8zM560,554h8v8h-8zM288,562h8v8h-8zM296,570h8v8h-8zM448,570h8v8h-8zM496,570h8v8h-8zM536,570h16v8h-16zM304,578h8v8h-8zM440,578h8v8h-8zM520,578h8v8h-8zM312,586h8v8h-8zM320,594h8v8h-8zM416,594h8v8h-8zM336,602h16v8h-16zM384,602h24v8h-24z"/>
<path fill="#ffffff" d="M728,298h8v8h-8zM720,306h24v8h-24zM720,314h32v8h-32zM720,322h48v8h-48zM232,330h16v8h-16zM752,330h40v8h-40zM216,338h40v8h-40zM776,338h32v8h-32zM216,346h16v8h-16zM256,346h16v8h-16zM504,346h40v8h-40zM560,346h16v8h-16zM784,346h40v8h-40zM216,354h16v8h-16zM280,354h24v8h-24zM312,354h8v8h-8zM504,354h40v8h-40zM568,354h24v8h-24zM816,354h32v8h-32zM856,354h16v8h-16zM224,362h8v8h-8zM328,362h8v8h-8zM496,362h48v8h-48zM568,362h40v8h-40zM848,362h80v8h-80zM232,370h8v8h-8zM344,370h24v8h-24zM496,370h48v8h-48zM576,370h40v8h-40zM880,370h8v8h-8zM912,370h8v8h-8zM232,378h8v8h-8zM360,378h16v8h-16zM504,378h40v8h-40zM576,378h48v8h-48zM232,386h8v8h-8zM360,386h24v8h-24zM400,386h8v8h-8zM512,386h16v8h-16zM584,386h40v8h-40zM704,386h64v8h-64zM192,394h16v8h-16zM240,394h8v8h-8zM360,394h8v8h-8zM592,394h32v8h-32zM696,394h16v8h-16zM760,394h24v8h-24zM176,402h32v8h-32zM248,402h8v8h-8zM352,402h8v8h-8zM608,402h24v8h-24zM688,402h16v8h-16zM768,402h16v8h-16zM200,410h16v8h-16zM256,410h8v8h-8zM336,410h16v8h-16zM624,410h8v8h-8zM688,410h16v8h-16zM768,410h16v8h-16zM208,418h8v8h-8zM264,418h16v8h-16zM312,418h16v8h-16zM616,418h16v8h-16zM688,418h16v8h-16zM768,418h24v8h-24zM216,426h8v8h-8zM288,426h8v8h-8zM616,426h16v8h-16zM696,426h8v8h-8zM760,426h40v8h-40zM216,434h8v8h-8zM464,434h8v8h-8zM608,434h24v8h-24zM696,434h32v8h-32zM744,434h56v8h-56zM216,442h8v8h-8zM464,442h16v8h-16zM584,442h32v8h-32zM704,442h96v8h-96zM216,450h8v8h-8zM472,450h16v8h-16zM568,450h8v8h-8zM728,450h64v8h-64zM752,458h40v8h-40zM224,466h8v8h-8zM568,466h8v8h-8zM760,466h8v8h-8zM224,474h8v8h-8zM568,474h8v8h-8zM232,482h8v8h-8zM568,482h8v8h-8zM248,490h8v8h-8zM568,490h8v8h-8zM248,498h16v8h-16zM568,498h8v8h-8zM256,506h16v8h-16zM264,514h8v8h-8zM568,514h8v8h-8zM272,522h16v8h-16zM568,522h8v8h-8zM280,530h8v8h-8zM568,530h8v8h-8zM280,538h16v8h-16zM288,546h8v8h-8zM560,546h8v8h-8zM288,554h16v8h-16zM552,554h8v8h-8zM296,562h8v8h-8zM456,562h48v8h-48zM528,562h24v8h-24zM304,570h8v8h-8zM440,570h8v8h-8zM504,570h32v8h-32zM312,578h8v8h-8zM432,578h8v8h-8zM320,586h16v8h-16zM424,586h8v8h-8zM328,594h16v8h-16zM408,594h8v8h-8zM352,602h32v8h-32z"/>
<path fill="#f2f2ff" d="M888,186h24v8h-24zM896,194h8v8h-8zM736,298h8v8h-8zM880,298h8v8h-8zM744,306h16v8h-16zM752,314h24v8h-24zM224,322h24v8h-24zM440,322h40v8h-40zM768,322h32v8h-32zM216,330h16v8h-16zM248,330h8v8h-8zM456,330h24v8h-24zM496,330h16v8h-16zM792,330h24v8h-24zM208,338h8v8h-8zM256,338h16v8h-16zM496,338h16v8h-16zM808,338h16v8h-16zM208,346h8v8h-8zM272,346h8v8h-8zM488,346h16v8h-16zM544,346h16v8h-16zM824,346h56v8h-56zM208,354h8v8h-8zM320,354h8v8h-8zM488,354h16v8h-16zM544,354h24v8h-24zM848,354h8v8h-8zM872,354h64v8h-64zM208,362h16v8h-16zM336,362h8v8h-8zM488,362h8v8h-8zM544,362h24v8h-24zM224,370h8v8h-8zM488,370h8v8h-8zM544,370h32v8h-32zM224,378h8v8h-8zM376,378h16v8h-16zM408,378h24v8h-24zM488,378h16v8h-16zM544,378h32v8h-32zM192,386h16v8h-16zM224,386h8v8h-8zM384,386h16v8h-16zM408,386h32v8h-32zM496,386h16v8h-16zM528,386h56v8h-56zM168,394h24v8h-24zM208,394h8v8h-8zM224,394h16v8h-16zM368,394h72v8h-72zM496,394h96v8h-96zM712,394h48v8h-48zM208,402h8v8h-8zM224,402h24v8h-24zM360,402h8v8h-8zM536,402h16v8h-16zM576,402h32v8h-32zM704,402h16v8h-16zM744,402h8v8h-8zM760,402h8v8h-8zM216,410h16v8h-16zM248,410h8v8h-8zM352,410h8v8h-8zM576,410h48v8h-48zM704,410h8v8h-8zM752,410h16v8h-16zM216,418h8v8h-8zM328,418h8v8h-8zM592,418h24v8h-24zM704,418h64v8h-64zM280,426h8v8h-8zM296,426h16v8h-16zM456,426h24v8h-24zM576,426h40v8h-40zM704,426h56v8h-56zM224,434h8v8h-8zM456,434h8v8h-8zM472,434h8v8h-8zM560,434h48v8h-48zM728,434h16v8h-16zM224,442h8v8h-8zM480,442h8v8h-8zM560,442h24v8h-24zM464,450h8v8h-8zM560,450h8v8h-8zM224,458h8v8h-8zM472,458h16v8h-16zM560,458h8v8h-8zM560,466h8v8h-8zM232,474h8v8h-8zM560,474h8v8h-8zM240,482h8v8h-8zM568,506h8v8h-8zM272,514h8v8h-8zM288,522h8v8h-8zM288,530h8v8h-8zM296,538h8v8h-8zM560,538h8v8h-8zM296,546h8v8h-8zM304,554h8v8h-8zM488,554h8v8h-8zM504,554h8v8h-8zM544,554h8v8h-8zM304,562h8v8h-8zM440,562h16v8h-16zM504,562h24v8h-24zM312,570h8v8h-8zM432,570h8v8h-8zM320,578h16v8h-16zM424,578h8v8h-8zM336,586h8v8h-8zM416,586h8v8h-8zM344,594h64v8h-64z"/>
<path fill="#e6e6ff" d="M904,170h8v8h-8zM888,178h32v8h-32zM912,186h16v8h-16zM880,194h16v8h-16zM904,194h16v8h-16zM888,202h24v8h-24zM872,282h32v8h-32zM848,290h56v8h-56zM752,298h16v8h-16zM856,298h24v8h-24zM888,298h16v8h-16zM760,306h16v8h-16zM864,306h40v8h-40zM440,314h64v8h-64zM776,314h32v8h-32zM864,314h40v8h-40zM248,322h8v8h-8zM432,322h8v8h-8zM480,322h24v8h-24zM800,322h16v8h-16zM864,322h40v8h-40zM208,330h8v8h-8zM256,330h8v8h-8zM440,330h16v8h-16zM480,330h16v8h-16zM816,330h16v8h-16zM848,330h8v8h-8zM864,330h32v8h-32zM200,338h8v8h-8zM272,338h8v8h-8zM440,338h56v8h-56zM824,338h88v8h-88zM200,346h8v8h-8zM280,346h32v8h-32zM448,346h40v8h-40zM880,346h64v8h-64zM200,354h8v8h-8zM328,354h8v8h-8zM456,354h32v8h-32zM200,362h8v8h-8zM344,362h16v8h-16zM472,362h16v8h-16zM192,370h32v8h-32zM368,370h8v8h-8zM424,370h24v8h-24zM472,370h16v8h-16zM192,378h16v8h-16zM392,378h16v8h-16zM432,378h16v8h-16zM472,378h16v8h-16zM176,386h16v8h-16zM208,386h8v8h-8zM440,386h8v8h-8zM480,386h16v8h-16zM216,394h8v8h-8zM440,394h8v8h-8zM480,394h16v8h-16zM216,402h8v8h-8zM368,402h24v8h-24zM408,402h32v8h-32zM488,402h48v8h-48zM552,402h24v8h-24zM720,402h24v8h-24zM752,402h8v8h-8zM232,410h16v8h-16zM360,410h8v8h-8zM456,410h24v8h-24zM544,410h32v8h-32zM712,410h40v8h-40zM224,418h16v8h-16zM256,418h8v8h-8zM336,418h8v8h-8zM448,418h32v8h-32zM568,418h24v8h-24zM224,426h8v8h-8zM272,426h8v8h-8zM312,426h8v8h-8zM448,426h8v8h-8zM480,426h8v8h-8zM568,426h8v8h-8zM448,434h8v8h-8zM480,434h8v8h-8zM456,442h8v8h-8zM488,442h8v8h-8zM224,450h8v8h-8zM488,450h8v8h-8zM248,482h8v8h-8zM560,482h8v8h-8zM256,490h8v8h-8zM560,490h8v8h-8zM264,498h8v8h-8zM560,498h8v8h-8zM272,506h8v8h-8zM280,514h8v8h-8zM296,530h8v8h-8zM560,530h8v8h-8zM304,538h8v8h-8zM552,538h8v8h-8zM304,546h8v8h-8zM552,546h8v8h-8zM312,554h8v8h-8zM456,554h32v8h-32zM496,554h8v8h-8zM512,554h32v8h-32zM312,562h8v8h-8zM320,570h8v8h-8zM424,570h8v8h-8zM344,586h8v8h-8z"/>
<path fill="#d9d9ff" d="M912,162h8v8h-8zM896,170h8v8h-8zM912,170h8v8h-8zM920,178h24v8h-24zM880,186h8v8h-8zM928,186h16v8h-16zM872,194h8v8h-8zM920,194h24v8h-24zM880,202h8v8h-8zM912,202h24v8h-24zM888,210h32v8h-32zM784,218h8v8h-8zM784,226h16v8h-16zM864,274h40v8h-40zM840,282h32v8h-32zM904,282h8v8h-8zM760,290h16v8h-16zM840,290h8v8h-8zM904,290h8v8h-8zM768,298h24v8h-24zM848,298h8v8h-8zM904,298h16v8h-16zM432,306h64v8h-64zM776,306h32v8h-32zM848,306h16v8h-16zM904,306h8v8h-8zM432,314h8v8h-8zM808,314h16v8h-16zM848,314h16v8h-16zM904,314h8v8h-8zM256,322h8v8h-8zM816,322h48v8h-48zM904,322h8v8h-8zM968,322h8v8h-8zM200,330h8v8h-8zM264,330h8v8h-8zM432,330h8v8h-8zM832,330h16v8h-16zM856,330h8v8h-8zM896,330h72v8h-72zM280,338h16v8h-16zM432,338h8v8h-8zM912,338h56v8h-56zM192,346h8v8h-8zM312,346h8v8h-8zM440,346h8v8h-8zM192,354h8v8h-8zM336,354h8v8h-8zM440,354h16v8h-16zM192,362h8v8h-8zM360,362h8v8h-8zM432,362h40v8h-40zM184,370h8v8h-8zM376,370h8v8h-8zM392,370h32v8h-32zM448,370h24v8h-24zM176,378h16v8h-16zM208,378h16v8h-16zM448,378h24v8h-24zM168,386h8v8h-8zM216,386h8v8h-8zM448,386h8v8h-8zM464,386h16v8h-16zM448,394h8v8h-8zM464,394h16v8h-16zM392,402h16v8h-16zM440,402h48v8h-48zM416,410h24v8h-24zM448,410h8v8h-8zM480,410h32v8h-32zM536,410h8v8h-8zM240,418h16v8h-16zM344,418h8v8h-8zM432,418h16v8h-16zM480,418h8v8h-8zM552,418h16v8h-16zM232,426h8v8h-8zM264,426h8v8h-8zM320,426h8v8h-8zM440,426h8v8h-8zM560,426h8v8h-8zM552,434h8v8h-8zM552,442h8v8h-8zM552,450h8v8h-8zM488,458h8v8h-8zM552,458h8v8h-8zM232,466h8v8h-8zM480,466h8v8h-8zM240,474h8v8h-8zM264,490h8v8h-8zM272,498h8v8h-8zM280,506h8v8h-8zM560,506h8v8h-8zM288,514h8v8h-8zM560,514h8v8h-8zM296,522h8v8h-8zM560,522h8v8h-8zM304,530h8v8h-8zM552,530h8v8h-8zM312,538h8v8h-8zM544,538h8v8h-8zM312,546h8v8h-8zM464,546h88v8h-88zM440,554h8v8h-8zM432,562h8v8h-8zM328,570h8v8h-8zM336,578h8v8h-8zM352,586h64v8h-64z"/>
<path fill="#ccccff" d="M896,162h16v8h-16zM888,170h8v8h-8zM880,178h8v8h-8zM944,178h8v8h-8zM872,186h8v8h-8zM944,186h24v8h-24zM944,194h24v8h-24zM984,194h8v8h-8zM776,202h16v8h-16zM872,202h8v8h-8zM936,202h72v8h-72zM776,210h24v8h-24zM872,210h16v8h-16zM920,210h64v8h-64zM1000,210h8v8h-8zM768,218h16v8h-16zM792,218h16v8h-16zM888,218h88v8h-88zM768,226h16v8h-16zM800,226h16v8h-16zM944,226h32v8h-32zM768,234h48v8h-48zM960,234h16v8h-16zM1000,234h16v8h-16zM768,242h32v8h-32zM968,242h48v8h-48zM968,250h48v8h-48zM864,258h8v8h-8zM888,258h16v8h-16zM968,258h24v8h-24zM784,266h8v8h-8zM848,266h64v8h-64zM968,266h24v8h-24zM784,274h8v8h-8zM832,274h32v8h-32zM904,274h16v8h-16zM968,274h32v8h-32zM776,282h32v8h-32zM824,282h16v8h-16zM912,282h16v8h-16zM968,282h32v8h-32zM776,290h32v8h-32zM824,290h16v8h-16zM912,290h16v8h-16zM968,290h32v8h-32zM432,298h48v8h-48zM792,298h16v8h-16zM816,298h32v8h-32zM920,298h16v8h-16zM960,298h40v8h-40zM424,306h8v8h-8zM808,306h24v8h-24zM840,306h8v8h-8zM912,306h88v8h-88zM424,314h8v8h-8zM824,314h24v8h-24zM912,314h72v8h-72zM264,322h8v8h-8zM424,322h8v8h-8zM912,322h56v8h-56zM192,330h8v8h-8zM272,330h16v8h-16zM424,330h8v8h-8zM192,338h8v8h-8zM296,338h16v8h-16zM424,338h8v8h-8zM320,346h8v8h-8zM432,346h8v8h-8zM344,354h16v8h-16zM432,354h8v8h-8zM184,362h8v8h-8zM368,362h8v8h-8zM408,362h24v8h-24zM384,370h8v8h-8zM456,386h8v8h-8zM456,394h8v8h-8zM368,410h24v8h-24zM408,410h8v8h-8zM440,410h8v8h-8zM512,410h24v8h-24zM352,418h8v8h-8zM416,418h16v8h-16zM488,418h8v8h-8zM544,418h8v8h-8zM240,426h8v8h-8zM256,426h8v8h-8zM328,426h8v8h-8zM424,426h16v8h-16zM488,426h8v8h-8zM544,426h16v8h-16zM232,434h8v8h-8zM440,434h8v8h-8zM488,434h8v8h-8zM232,442h8v8h-8zM448,442h8v8h-8zM456,450h8v8h-8zM472,466h8v8h-8zM552,466h8v8h-8zM552,474h8v8h-8zM256,482h8v8h-8zM552,490h8v8h-8zM552,498h8v8h-8zM288,506h8v8h-8zM552,506h8v8h-8zM296,514h8v8h-8zM304,522h8v8h-8zM312,530h8v8h-8zM496,530h56v8h-56zM464,538h80v8h-80zM320,546h8v8h-8zM440,546h24v8h-24zM320,554h8v8h-8zM432,554h8v8h-8zM448,554h8v8h-8zM320,562h8v8h-8zM424,562h8v8h-8zM336,570h8v8h-8zM344,578h8v8h-8zM416,578h8v8h-8z"/>
<path fill="#bfbfff" d="M904,154h8v8h-8zM888,162h8v8h-8zM880,170h8v8h-8zM872,178h8v8h-8zM1008,178h16v8h-16zM992,186h32v8h-32zM864,194h8v8h-8zM992,194h32v8h-32zM792,202h8v8h-8zM864,202h8v8h-8zM1008,202h16v8h-16zM800,210h16v8h-16zM864,210h8v8h-8zM984,210h16v8h-16zM1008,210h16v8h-16zM808,218h16v8h-16zM864,218h24v8h-24zM976,218h48v8h-48zM816,226h16v8h-16zM880,226h64v8h-64zM976,226h40v8h-40zM816,234h48v8h-48zM888,234h72v8h-72zM976,234h24v8h-24zM816,242h56v8h-56zM888,242h80v8h-80zM824,250h144v8h-144zM800,258h64v8h-64zM872,258h16v8h-16zM904,258h64v8h-64zM792,266h16v8h-16zM816,266h32v8h-32zM912,266h56v8h-56zM792,274h40v8h-40zM920,274h48v8h-48zM808,282h16v8h-16zM928,282h40v8h-40zM424,290h40v8h-40zM808,290h16v8h-16zM928,290h40v8h-40zM416,298h16v8h-16zM808,298h8v8h-8zM936,298h24v8h-24zM416,306h8v8h-8zM832,306h8v8h-8zM416,314h8v8h-8zM272,322h8v8h-8zM416,322h8v8h-8zM184,330h8v8h-8zM288,330h8v8h-8zM416,330h8v8h-8zM184,338h8v8h-8zM312,338h8v8h-8zM416,338h8v8h-8zM184,346h8v8h-8zM328,346h16v8h-16zM424,346h8v8h-8zM184,354h8v8h-8zM360,354h8v8h-8zM416,354h16v8h-16zM400,362h8v8h-8zM176,370h8v8h-8zM392,410h16v8h-16zM360,418h8v8h-8zM408,418h8v8h-8zM496,418h8v8h-8zM536,418h8v8h-8zM248,426h8v8h-8zM336,426h8v8h-8zM416,426h8v8h-8zM280,434h24v8h-24zM432,434h8v8h-8zM544,434h8v8h-8zM496,442h8v8h-8zM544,442h8v8h-8zM232,450h8v8h-8zM496,450h8v8h-8zM544,450h8v8h-8zM232,458h8v8h-8zM464,458h8v8h-8zM240,466h8v8h-8zM488,466h8v8h-8zM248,474h8v8h-8zM552,482h8v8h-8zM272,490h8v8h-8zM280,498h8v8h-8zM544,498h8v8h-8zM296,506h8v8h-8zM504,506h16v8h-16zM536,506h16v8h-16zM304,514h8v8h-8zM480,514h80v8h-80zM312,522h8v8h-8zM480,522h80v8h-80zM320,530h8v8h-8zM456,530h40v8h-40zM320,538h8v8h-8zM432,538h8v8h-8zM448,538h16v8h-16zM432,546h8v8h-8zM328,554h8v8h-8zM328,562h8v8h-8zM416,562h8v8h-8zM416,570h8v8h-8zM352,578h64v8h-64z"/>
<path fill="#b2b2ff" d="M896,154h8v8h-8zM864,186h8v8h-8zM800,194h8v8h-8zM856,194h8v8h-8zM800,202h16v8h-16zM856,202h8v8h-8zM816,210h8v8h-8zM848,210h16v8h-16zM824,218h40v8h-40zM832,226h48v8h-48zM864,234h24v8h-24zM872,242h16v8h-16zM808,266h8v8h-8zM416,282h24v8h-24zM408,290h16v8h-16zM408,298h8v8h-8zM408,306h8v8h-8zM272,314h16v8h-16zM408,314h8v8h-8zM280,322h16v8h-16zM408,322h8v8h-8zM296,330h16v8h-16zM408,330h8v8h-8zM320,338h16v8h-16zM344,346h16v8h-16zM408,346h16v8h-16zM368,354h8v8h-8zM400,354h16v8h-16zM176,362h8v8h-8zM376,362h24v8h-24zM368,418h40v8h-40zM504,418h32v8h-32zM344,426h8v8h-8zM408,426h8v8h-8zM536,426h8v8h-8zM240,434h8v8h-8zM272,434h8v8h-8zM304,434h16v8h-16zM424,434h8v8h-8zM496,434h8v8h-8zM440,442h8v8h-8zM448,450h8v8h-8zM496,458h8v8h-8zM544,458h8v8h-8zM544,466h8v8h-8zM472,474h16v8h-16zM264,482h8v8h-8zM544,490h8v8h-8zM288,498h8v8h-8zM504,498h40v8h-40zM304,506h8v8h-8zM488,506h16v8h-16zM520,506h16v8h-16zM312,514h8v8h-8zM400,514h32v8h-32zM472,514h8v8h-8zM320,522h8v8h-8zM392,522h48v8h-48zM448,522h32v8h-32zM328,530h8v8h-8zM400,530h56v8h-56zM328,538h8v8h-8zM416,538h16v8h-16zM440,538h8v8h-8zM328,546h8v8h-8zM424,546h8v8h-8zM424,554h8v8h-8zM336,562h8v8h-8zM408,562h8v8h-8zM344,570h16v8h-16zM400,570h16v8h-16z"/>
<path fill="#a6a6ff" d="M896,146h8v8h-8zM888,154h8v8h-8zM880,162h8v8h-8zM872,170h8v8h-8zM864,178h8v8h-8zM856,186h8v8h-8zM808,194h8v8h-8zM816,202h16v8h-16zM848,202h8v8h-8zM824,210h24v8h-24zM408,274h32v8h-32zM392,282h24v8h-24zM392,290h16v8h-16zM400,298h8v8h-8zM280,306h8v8h-8zM400,306h8v8h-8zM288,314h8v8h-8zM400,314h8v8h-8zM296,322h16v8h-16zM400,322h8v8h-8zM176,330h8v8h-8zM312,330h16v8h-16zM176,338h8v8h-8zM336,338h16v8h-16zM408,338h8v8h-8zM176,346h8v8h-8zM360,346h8v8h-8zM400,346h8v8h-8zM176,354h8v8h-8zM376,354h8v8h-8zM392,354h8v8h-8zM352,426h16v8h-16zM496,426h8v8h-8zM248,434h8v8h-8zM320,434h8v8h-8zM416,434h8v8h-8zM240,442h8v8h-8zM504,442h8v8h-8zM536,442h8v8h-8zM504,450h8v8h-8zM536,450h8v8h-8zM240,458h8v8h-8zM456,458h8v8h-8zM504,458h8v8h-8zM248,466h8v8h-8zM464,466h8v8h-8zM256,474h8v8h-8zM488,474h8v8h-8zM520,474h8v8h-8zM544,474h8v8h-8zM272,482h8v8h-8zM472,482h24v8h-24zM520,482h32v8h-32zM280,490h8v8h-8zM472,490h24v8h-24zM512,490h32v8h-32zM296,498h8v8h-8zM480,498h24v8h-24zM312,506h8v8h-8zM400,506h24v8h-24zM464,506h24v8h-24zM320,514h16v8h-16zM384,514h16v8h-16zM432,514h40v8h-40zM328,522h16v8h-16zM368,522h24v8h-24zM440,522h8v8h-8zM336,530h8v8h-8zM376,530h24v8h-24zM336,538h8v8h-8zM392,538h24v8h-24zM336,546h8v8h-8zM400,546h24v8h-24zM336,554h8v8h-8zM400,554h24v8h-24zM344,562h8v8h-8zM384,562h24v8h-24zM360,570h40v8h-40z"/>
<path fill="#9999ff" d="M896,138h8v8h-8zM888,146h8v8h-8zM880,154h8v8h-8zM872,162h8v8h-8zM864,170h8v8h-8zM808,178h8v8h-8zM856,178h8v8h-8zM808,186h16v8h-16zM848,186h8v8h-8zM816,194h16v8h-16zM840,194h16v8h-16zM832,202h16v8h-16zM440,266h8v8h-8zM376,274h32v8h-32zM376,282h16v8h-16zM384,290h8v8h-8zM280,298h16v8h-16zM384,298h16v8h-16zM288,306h8v8h-8zM392,306h8v8h-8zM296,314h8v8h-8zM392,314h8v8h-8zM312,322h16v8h-16zM392,322h8v8h-8zM328,330h24v8h-24zM400,330h8v8h-8zM168,338h8v8h-8zM352,338h16v8h-16zM400,338h8v8h-8zM368,346h16v8h-16zM392,346h8v8h-8zM384,354h8v8h-8zM168,362h8v8h-8zM368,426h40v8h-40zM504,426h16v8h-16zM528,426h8v8h-8zM256,434h16v8h-16zM328,434h8v8h-8zM408,434h8v8h-8zM504,434h8v8h-8zM536,434h8v8h-8zM432,442h8v8h-8zM240,450h8v8h-8zM512,458h8v8h-8zM536,458h8v8h-8zM496,466h32v8h-32zM536,466h8v8h-8zM264,474h8v8h-8zM464,474h8v8h-8zM512,474h8v8h-8zM528,474h16v8h-16zM464,482h8v8h-8zM496,482h24v8h-24zM288,490h16v8h-16zM464,490h8v8h-8zM496,490h16v8h-16zM304,498h16v8h-16zM456,498h24v8h-24zM320,506h80v8h-80zM424,506h40v8h-40zM336,514h48v8h-48zM344,522h24v8h-24zM344,530h32v8h-32zM344,538h48v8h-48zM344,546h32v8h-32zM384,546h16v8h-16zM344,554h16v8h-16zM368,554h8v8h-8zM384,554h16v8h-16zM352,562h32v8h-32z"/>
<path fill="#8c8cff" d="M888,130h8v8h-8zM888,138h8v8h-8zM872,154h8v8h-8zM864,162h8v8h-8zM856,170h8v8h-8zM816,178h16v8h-16zM848,178h8v8h-8zM824,186h24v8h-24zM832,194h8v8h-8zM288,266h8v8h-8zM376,266h64v8h-64zM288,274h16v8h-16zM368,274h8v8h-8zM288,282h16v8h-16zM368,282h8v8h-8zM288,290h16v8h-16zM368,290h16v8h-16zM296,298h8v8h-8zM368,298h16v8h-16zM296,306h24v8h-24zM376,306h16v8h-16zM304,314h40v8h-40zM384,314h8v8h-8zM328,322h32v8h-32zM384,322h8v8h-8zM352,330h16v8h-16zM384,330h16v8h-16zM368,338h32v8h-32zM168,346h8v8h-8zM384,346h8v8h-8zM160,354h16v8h-16zM520,426h8v8h-8zM336,434h24v8h-24zM512,434h24v8h-24zM248,442h8v8h-8zM416,442h16v8h-16zM512,442h24v8h-24zM440,450h8v8h-8zM512,450h24v8h-24zM248,458h8v8h-8zM448,458h8v8h-8zM520,458h16v8h-16zM256,466h8v8h-8zM528,466h8v8h-8zM496,474h16v8h-16zM280,482h8v8h-8zM304,490h8v8h-8zM456,490h8v8h-8zM320,498h64v8h-64zM392,498h64v8h-64zM376,546h8v8h-8zM360,554h8v8h-8zM376,554h8v8h-8z"/>
<path fill="#8080ff" d="M880,122h8v8h-8zM880,130h8v8h-8zM880,138h8v8h-8zM872,146h16v8h-16zM864,154h8v8h-8zM816,162h8v8h-8zM856,162h8v8h-8zM816,170h40v8h-40zM832,178h16v8h-16zM288,258h24v8h-24zM424,258h24v8h-24zM296,266h24v8h-24zM368,266h8v8h-8zM304,274h32v8h-32zM360,274h8v8h-8zM304,282h64v8h-64zM304,290h64v8h-64zM304,298h64v8h-64zM320,306h56v8h-56zM344,314h40v8h-40zM360,322h24v8h-24zM368,330h16v8h-16zM360,434h48v8h-48zM272,442h48v8h-48zM344,442h8v8h-8zM248,450h8v8h-8zM432,450h8v8h-8zM440,458h8v8h-8zM456,466h8v8h-8zM272,474h8v8h-8zM288,482h16v8h-16zM456,482h8v8h-8zM312,490h8v8h-8zM400,490h56v8h-56zM384,498h8v8h-8z"/>
<path fill="#7373ff" d="M824,122h8v8h-8zM864,122h16v8h-16zM816,130h16v8h-16zM872,130h8v8h-8zM816,138h16v8h-16zM864,138h16v8h-16zM816,146h16v8h-16zM856,146h16v8h-16zM816,154h16v8h-16zM840,154h24v8h-24zM824,162h32v8h-32zM440,250h8v8h-8zM312,258h24v8h-24zM368,258h56v8h-56zM320,266h48v8h-48zM336,274h24v8h-24zM256,442h8v8h-8zM320,442h24v8h-24zM352,442h8v8h-8zM384,442h8v8h-8zM408,442h8v8h-8zM424,450h8v8h-8zM256,458h8v8h-8zM264,466h8v8h-8zM448,466h8v8h-8zM280,474h16v8h-16zM448,474h16v8h-16zM304,482h8v8h-8zM408,482h48v8h-48zM320,490h80v8h-80z"/>
<path fill="#6666ff" d="M848,114h8v8h-8zM832,122h32v8h-32zM832,130h40v8h-40zM832,138h32v8h-32zM832,146h24v8h-24zM832,154h8v8h-8zM320,250h24v8h-24zM376,250h32v8h-32zM424,250h16v8h-16zM336,258h32v8h-32zM264,442h8v8h-8zM360,442h24v8h-24zM392,442h16v8h-16zM256,450h8v8h-8zM296,450h16v8h-16zM336,450h24v8h-24zM408,450h16v8h-16zM264,458h8v8h-8zM432,458h8v8h-8zM272,466h16v8h-16zM432,466h16v8h-16zM296,474h8v8h-8zM416,474h32v8h-32zM312,482h8v8h-8zM336,482h72v8h-72z"/>
<path fill="#5959ff" d="M328,242h24v8h-24zM432,242h8v8h-8zM344,250h32v8h-32zM408,250h16v8h-16zM264,450h32v8h-32zM312,450h8v8h-8zM328,450h8v8h-8zM376,450h32v8h-32zM272,458h32v8h-32zM344,458h16v8h-16zM400,458h32v8h-32zM288,466h16v8h-16zM400,466h32v8h-32zM304,474h8v8h-8zM344,474h24v8h-24zM384,474h32v8h-32zM320,482h16v8h-16z"/>
<path fill="#4d4dff" d="M336,226h8v8h-8zM336,234h32v8h-32zM432,234h8v8h-8zM352,242h80v8h-80zM320,450h8v8h-8zM360,450h16v8h-16zM304,458h16v8h-16zM328,458h16v8h-16zM360,458h40v8h-40zM304,466h8v8h-8zM336,466h64v8h-64zM312,474h32v8h-32zM368,474h16v8h-16z"/>
<path fill="#4040ff" d="M368,226h8v8h-8zM424,226h8v8h-8zM368,234h24v8h-24zM400,234h16v8h-16zM424,234h8v8h-8zM320,458h8v8h-8zM312,466h24v8h-24z"/>
<path fill="#3333ff" d="M392,202h24v8h-24zM376,210h40v8h-40zM376,218h40v8h-40zM376,226h48v8h-48zM392,234h8v8h-8zM416,234h8v8h-8z"/>
<path d="M828.9,130.4h0M834.8,129.4h0M840.7,128.4h0M846.6,127.4h0M852.4,126.3h0M858.3,125.2h0M864.1,124.0h0M818.7,142.0h0M824.6,141.0h0M830.5,140.0h0M836.5,139.0h0M842.4,138.0h0M848.3,137.0h0M854.2,135.9h0M860.1,134.7h0M866.0,133.6h0M871.9,132.4h0M877.8,131.2h0M883.7,130.0h0M826.1,150.6h0M832.1,149.7h0M838.1,148.6h0M844.1,147.6h0M850.0,146.5h0M856.0,145.5h0M861.9,144.3h0M867.9,143.2h0M873.8,142.0h0M879.8,140.8h0M885.7,139.5h0M891.6,138.3h0M821.7,161.2h0M827.7,160.3h0M833.7,159.3h0M839.7,158.3h0M845.8,157.2h0M851.8,156.1h0M857.8,155.0h0M863.8,153.9h0M869.8,152.7h0M875.8,151.5h0M881.7,150.3h0M887.7,149.1h0M893.7,147.8h0M817.1,171.8h0M823.2,170.9h0M829.2,169.9h0M835.3,168.9h0M841.4,167.9h0M847.5,166.8h0M853.5,165.7h0M859.6,164.6h0M865.6,163.5h0M871.7,162.3h0M877.7,161.1h0M883.7,159.9h0M818.5,181.4h0M824.7,180.5h0M830.8,179.5h0M836.9,178.5h0M843.0,177.5h0M849.1,176.4h0M855.3,175.3h0M861.4,174.2h0M820.0,191.1h0M826.2,190.1h0M832.3,189.1h0M838.5,188.1h0M844.7,187.1h0M850.8,186.0h0M857.0,184.9h0M863.1,183.8h0M827.7,199.8h0M833.9,198.8h0M840.1,197.7h0M846.3,196.7h0" fill="none" stroke="#b2aeae" stroke-width="4.5" stroke-linecap="round"/>
<path d="M397.9,213.4h0M404.2,214.5h0M410.5,215.6h0M383.5,220.6h0M389.9,221.8h0M396.2,223.0h0M402.5,224.1h0M408.9,225.2h0M415.2,226.3h0M375.3,228.9h0M381.7,230.1h0M388.1,231.4h0M394.4,232.5h0M400.8,233.7h0M407.2,234.8h0M413.6,235.9h0M420.0,237.0h0M426.4,238.0h0M432.8,239.0h0M379.8,239.7h0M386.3,240.9h0M392.7,242.1h0M399.1,243.3h0M405.6,244.4h0M412.0,245.5h0M418.5,246.6h0M424.9,247.6h0M431.4,248.6h0M437.8,249.6h0M339.3,241.2h0M345.7,242.7h0M352.2,244.0h0M358.6,245.4h0M365.1,246.7h0M371.5,248.0h0M378.0,249.3h0M384.5,250.5h0M390.9,251.7h0M397.4,252.9h0M403.9,254.0h0M410.4,255.1h0M416.9,256.2h0M423.4,257.3h0M429.9,258.3h0M436.4,259.2h0M442.9,260.2h0M330.7,249.3h0M337.2,250.7h0M343.6,252.2h0M350.1,253.6h0M356.6,254.9h0M363.1,256.3h0M369.6,257.6h0M376.1,258.9h0M382.7,260.1h0M389.2,261.3h0M395.7,262.5h0M402.2,263.6h0M408.8,264.8h0M415.3,265.8h0M421.9,266.9h0M428.4,267.9h0M435.0,268.9h0M441.6,269.8h0M328.5,258.8h0M335.0,260.3h0M341.6,261.7h0M348.1,263.1h0M354.6,264.5h0M361.2,265.8h0M367.7,267.2h0M374.3,268.4h0M380.9,269.7h0M387.4,270.9h0M394.0,272.1h0M400.6,273.3h0M313.2,265.2h0M319.8,266.8h0M326.3,268.3h0M332.9,269.8h0M339.5,271.2h0M346.1,272.6h0M352.6,274.0h0M359.2,275.4h0M365.8,276.7h0M372.4,278.0h0M379.1,279.3h0M291.2,269.8h0M297.8,271.5h0M304.4,273.1h0M311.0,274.7h0M317.6,276.3h0M324.2,277.8h0M330.8,279.3h0M337.4,280.8h0M344.0,282.2h0M350.7,283.6h0M357.3,285.0h0M363.9,286.3h0M370.6,287.6h0M377.2,288.9h0M383.9,290.1h0M295.4,280.9h0M302.1,282.6h0M308.7,284.2h0M315.3,285.7h0M322.0,287.3h0M328.6,288.8h0M335.3,290.3h0M342.0,291.7h0M348.7,293.1h0M355.3,294.5h0M362.0,295.8h0M368.7,297.2h0M375.4,298.4h0M382.2,299.7h0M388.9,300.9h0M293.1,290.4h0M299.7,292.0h0M306.4,293.7h0M313.1,295.2h0M319.8,296.8h0M326.5,298.3h0M333.2,299.8h0M339.9,301.3h0M346.7,302.7h0M353.4,304.1h0M360.1,305.4h0M366.9,306.7h0M373.6,308.0h0M380.4,309.3h0M387.2,310.5h0M290.7,299.8h0M297.4,301.5h0M304.1,303.1h0M310.9,304.7h0M317.6,306.3h0M324.4,307.8h0M331.1,309.3h0M337.9,310.8h0M344.7,312.2h0M351.5,313.6h0M358.2,315.0h0M365.0,316.3h0M371.8,317.6h0M378.7,318.9h0M385.5,320.1h0M392.3,321.3h0M399.1,322.5h0M301.9,312.6h0M308.7,314.2h0M315.4,315.8h0M322.2,317.3h0M329.1,318.8h0M335.9,320.3h0M342.7,321.8h0M349.5,323.2h0M356.4,324.5h0M363.2,325.9h0M370.0,327.2h0M376.9,328.5h0M383.8,329.7h0M390.6,330.9h0M397.5,332.1h0M320.1,326.9h0M327.0,328.4h0M333.8,329.9h0M347.6,332.7h0M354.5,334.1h0M361.3,335.5h0M368.2,336.8h0M375.1,338.0h0M382.1,339.3h0M389.0,340.5h0M395.9,341.7h0M380.3,348.9h0M387.3,350.1h0M394.3,351.3h0M173.4,347.3h0M170.4,356.6h0M507.9,434.2h0M515.3,434.8h0M522.6,435.3h0M530.0,435.8h0M396.1,430.6h0M514.5,444.5h0M521.9,445.1h0M529.4,445.6h0" fill="none" stroke="#b2aeae" stroke-width="4.75" stroke-linecap="round"/>
<path d="M365.0,435.3h0M372.4,436.6h0M379.8,437.8h0M387.2,439.1h0M394.6,440.2h0M402.0,441.4h0M409.4,442.5h0M416.8,443.6h0M424.3,444.6h0M431.7,445.6h0M513.8,454.2h0M521.2,454.8h0M528.7,455.3h0M341.0,440.8h0M348.4,442.2h0M355.9,443.5h0M363.3,444.9h0M370.7,446.2h0M378.2,447.5h0M385.6,448.7h0M393.1,449.9h0M400.5,451.0h0M408.0,452.2h0M415.5,453.2h0M422.9,454.3h0M430.4,455.3h0M437.9,456.3h0M445.4,457.2h0M452.9,458.1h0M513.0,463.9h0M520.5,464.5h0M528.1,465.0h0M535.6,465.5h0M543.1,466.0h0M302.0,442.7h0M309.4,444.3h0M316.8,445.8h0M324.3,447.4h0M331.7,448.9h0M339.2,450.3h0M346.6,451.8h0M354.1,453.1h0M361.6,454.5h0M369.1,455.8h0M376.5,457.1h0M384.0,458.3h0M391.5,459.5h0M399.1,460.7h0M406.6,461.8h0M414.1,462.9h0M421.6,463.9h0M429.1,465.0h0M436.7,465.9h0M444.2,466.9h0M451.8,467.8h0M459.3,468.6h0M504.7,473.1h0M512.2,473.7h0M262.6,443.6h0M270.1,445.4h0M277.5,447.1h0M285.0,448.9h0M292.4,450.5h0M299.9,452.2h0M307.3,453.8h0M314.8,455.4h0M322.3,456.9h0M329.8,458.4h0M337.3,459.9h0M344.8,461.3h0M352.3,462.7h0M359.9,464.1h0M367.4,465.4h0M374.9,466.7h0M382.5,467.9h0M390.0,469.1h0M397.6,470.3h0M405.1,471.4h0M412.7,472.5h0M420.3,473.6h0M427.9,474.6h0M435.4,475.6h0M443.0,476.6h0M450.6,477.5h0M458.2,478.3h0M465.8,479.2h0M496.3,482.1h0M503.9,482.8h0M511.5,483.4h0M252.8,451.2h0M260.3,453.0h0M267.8,454.8h0M275.3,456.6h0M282.8,458.4h0M290.3,460.1h0M297.8,461.7h0M305.3,463.3h0M312.8,464.9h0M320.4,466.5h0M327.9,468.0h0M335.5,469.5h0M343.0,470.9h0M350.6,472.3h0M358.2,473.7h0M365.7,475.0h0M373.3,476.3h0M380.9,477.6h0M388.5,478.8h0M396.1,480.0h0M403.7,481.1h0M411.3,482.2h0M419.0,483.3h0M426.6,484.3h0M434.2,485.3h0M441.8,486.2h0M449.5,487.1h0M457.1,488.0h0M641.4,497.7h0M649.1,497.6h0M656.8,497.5h0M664.5,497.4h0M250.5,460.6h0M258.0,462.5h0M265.5,464.3h0M273.1,466.1h0M280.6,467.9h0M288.1,469.6h0M295.7,471.2h0M303.3,472.9h0M310.8,474.5h0M318.4,476.0h0M326.0,477.6h0M333.6,479.1h0M341.2,480.5h0M348.8,481.9h0M356.5,483.3h0M364.1,484.6h0M371.7,485.9h0M379.4,487.2h0M387.0,488.4h0M394.6,489.6h0M402.3,490.7h0M410.0,491.8h0M417.6,492.9h0M425.3,494.0h0M433.0,495.0h0M440.7,495.9h0M448.3,496.8h0M456.0,497.7h0M463.7,498.6h0M618.3,507.4h0M626.0,507.5h0M633.7,507.5h0M641.5,507.5h0M649.2,507.4h0M657.0,507.3h0M664.7,507.1h0M672.4,507.0h0M680.2,506.7h0M687.9,506.5h0M695.7,506.2h0M263.3,473.8h0M270.8,475.6h0M278.4,477.4h0M286.0,479.1h0M293.6,480.8h0M301.2,482.4h0M308.9,484.0h0M316.5,485.6h0M324.1,487.1h0M331.8,488.6h0M339.4,490.1h0M347.1,491.5h0M354.7,492.9h0M362.4,494.2h0M370.1,495.5h0M377.8,496.8h0M385.5,498.0h0M393.2,499.2h0M400.9,500.4h0M408.6,501.5h0M416.3,502.6h0M424.0,503.6h0M431.7,504.6h0M439.5,505.6h0M610.4,517.1h0M618.2,517.2h0M626.0,517.2h0M633.8,517.2h0M641.5,517.2h0M649.3,517.1h0M657.1,517.0h0M664.9,516.9h0M672.7,516.7h0M680.5,516.5h0M688.3,516.2h0M696.1,515.9h0M703.8,515.6h0M711.6,515.2h0M719.4,514.8h0M727.2,514.3h0M283.9,488.6h0M299.2,491.9h0M306.9,493.6h0M314.5,495.1h0M322.2,496.7h0M329.9,498.2h0M337.6,499.7h0M345.3,501.1h0M353.0,502.5h0M360.8,503.8h0M368.5,505.2h0M376.2,506.4h0M384.0,507.7h0M391.7,508.9h0M602.4,526.7h0M610.3,526.9h0M618.1,526.9h0M625.9,527.0h0M633.8,527.0h0M641.6,527.0h0M649.4,526.9h0M657.3,526.8h0M665.1,526.6h0M673.0,526.4h0M680.8,526.2h0M688.6,526.0h0M696.5,525.7h0M704.3,525.3h0M712.1,524.9h0M719.9,524.5h0M727.8,524.0h0M735.6,523.6h0M743.4,523.0h0M751.2,522.4h0M312.6,504.7h0M328.1,507.8h0M335.8,509.2h0M343.6,510.7h0M351.3,512.1h0M359.1,513.4h0M602.2,536.5h0M610.1,536.6h0M618.0,536.7h0M625.9,536.7h0M633.8,536.7h0M641.7,536.7h0M649.6,536.6h0M657.4,536.5h0M665.3,536.4h0M673.2,536.2h0M681.1,536.0h0M689.0,535.7h0M696.9,535.4h0M704.7,535.0h0M712.6,534.7h0M720.5,534.2h0M728.4,533.8h0M736.2,533.3h0M744.1,532.7h0M752.0,532.2h0M759.8,531.5h0M767.7,530.9h0M775.5,530.2h0M783.4,529.5h0M838.2,523.3h0M846.1,522.2h0M602.1,546.2h0M610.0,546.4h0M617.9,546.4h0M625.9,546.5h0M633.8,546.5h0M641.7,546.5h0M649.7,546.4h0M657.6,546.3h0M665.5,546.1h0M673.5,545.9h0M681.4,545.7h0M689.3,545.4h0M697.3,545.1h0M705.2,544.8h0M713.1,544.4h0M721.0,544.0h0M729.0,543.5h0M736.9,543.0h0M744.8,542.5h0M752.7,541.9h0M760.6,541.3h0M768.5,540.6h0M776.4,539.9h0M784.3,539.2h0M792.2,538.4h0M800.1,537.6h0M808.0,536.7h0M815.9,535.8h0M823.8,534.9h0M831.6,533.9h0M839.5,532.9h0M847.4,531.9h0M855.2,530.8h0M863.1,529.7h0M870.9,528.5h0M878.8,527.3h0M593.9,555.8h0M601.9,556.0h0M609.9,556.1h0M617.9,556.2h0M625.8,556.2h0M633.8,556.2h0M641.8,556.2h0M649.8,556.1h0M657.8,556.0h0M665.7,555.9h0M673.7,555.7h0M681.7,555.5h0M689.7,555.2h0M697.7,554.9h0M705.6,554.5h0M713.6,554.1h0M721.6,553.7h0M729.6,553.2h0M737.5,552.7h0M745.5,552.2h0M753.4,551.6h0M761.4,551.0h0M769.4,550.3h0M777.3,549.6h0M785.3,548.9h0M793.2,548.1h0M801.1,547.3h0M809.1,546.4h0M817.0,545.5h0M824.9,544.6h0M832.9,543.6h0M840.8,542.6h0M848.7,541.5h0M856.6,540.4h0M864.5,539.3h0M872.4,538.1h0M880.3,536.9h0M888.2,535.7h0M377.9,546.2h0M385.8,547.4h0M585.7,565.4h0M593.7,565.6h0M601.7,565.7h0M609.7,565.9h0M617.8,565.9h0M625.8,566.0h0M633.8,566.0h0M641.9,566.0h0M649.9,565.9h0M657.9,565.8h0M666.0,565.6h0M674.0,565.4h0M682.0,565.2h0M690.0,564.9h0M698.1,564.6h0M706.1,564.3h0M714.1,563.9h0M722.1,563.4h0M730.1,563.0h0M738.2,562.5h0M746.2,561.9h0M754.2,561.3h0M762.2,560.7h0M770.2,560.0h0M778.2,559.3h0M786.2,558.6h0M794.2,557.8h0M802.2,557.0h0M810.1,556.1h0M818.1,555.2h0M826.1,554.3h0M834.1,553.3h0M842.0,552.3h0M850.0,551.2h0M858.0,550.1h0M865.9,549.0h0M873.8,547.8h0M881.8,546.6h0M889.7,545.3h0M897.6,544.0h0M352.5,551.9h0M360.4,553.2h0M368.4,554.5h0M376.4,555.8h0M384.4,557.1h0M577.3,574.9h0M585.4,575.1h0M593.5,575.3h0M601.5,575.5h0M609.6,575.6h0M617.7,575.7h0M625.8,575.7h0M633.9,575.7h0M641.9,575.7h0M650.0,575.6h0M658.1,575.5h0M666.2,575.4h0M674.2,575.2h0M682.3,574.9h0M690.4,574.7h0M698.5,574.4h0M706.5,574.0h0M714.6,573.6h0M722.7,573.2h0M730.7,572.7h0M738.8,572.2h0M746.9,571.6h0M754.9,571.1h0M763.0,570.4h0M771.0,569.7h0M779.1,569.0h0M787.1,568.3h0M795.2,567.5h0M803.2,566.7h0M811.2,565.8h0M819.2,564.9h0M827.3,563.9h0M835.3,563.0h0M843.3,561.9h0M851.3,560.9h0M859.3,559.7h0M867.3,558.6h0M875.3,557.4h0M883.3,556.2h0M891.3,554.9h0M899.2,553.6h0M907.2,552.3h0M366.8,564.2h0M374.9,565.5h0M560.8,584.0h0M568.9,584.3h0M577.0,584.6h0M585.1,584.9h0M593.2,585.1h0M601.4,585.2h0M609.5,585.4h0M617.6,585.4h0M625.7,585.5h0M633.9,585.5h0M642.0,585.5h0M650.1,585.4h0M658.3,585.3h0M666.4,585.1h0M674.5,584.9h0M682.6,584.7h0M690.7,584.4h0M698.9,584.1h0M707.0,583.7h0M715.1,583.4h0M723.2,582.9h0M731.3,582.4h0M739.4,581.9h0M747.6,581.4h0M755.7,580.8h0M763.8,580.1h0M771.9,579.5h0M780.0,578.7h0M788.0,578.0h0M796.1,577.2h0M804.2,576.4h0M812.3,575.5h0M820.4,574.6h0M828.4,573.6h0M836.5,572.6h0M844.6,571.6h0M852.6,570.5h0M860.7,569.4h0M868.7,568.2h0M876.8,567.1h0M884.8,565.8h0M892.8,564.6h0M900.8,563.2h0M908.8,561.9h0M462.5,586.7h0M470.6,587.5h0M560.3,593.7h0M568.5,594.1h0M576.7,594.4h0M584.8,594.6h0M593.0,594.8h0M601.2,595.0h0M609.4,595.1h0M617.5,595.2h0M625.7,595.2h0M633.9,595.2h0M642.1,595.2h0M650.2,595.1h0M658.4,595.0h0M666.6,594.9h0M674.8,594.7h0M682.9,594.4h0M691.1,594.2h0M699.3,593.8h0M707.4,593.5h0M715.6,593.1h0M723.8,592.7h0M731.9,592.2h0M740.1,591.7h0M748.2,591.1h0M756.4,590.5h0M764.5,589.9h0M772.7,589.2h0M780.8,588.5h0M789.0,587.7h0M797.1,586.9h0M805.2,586.1h0M813.4,585.2h0M821.5,584.3h0M829.6,583.3h0M837.7,582.3h0M845.8,581.3h0M853.9,580.2h0M862.0,579.1h0M870.1,577.9h0M878.2,576.7h0M886.3,575.5h0M894.4,574.2h0M445.2,594.6h0M453.3,595.5h0M461.5,596.4h0M469.7,597.2h0M477.9,597.9h0M486.1,598.7h0M551.7,603.1h0M559.9,603.5h0M568.1,603.8h0M576.4,604.1h0M584.6,604.4h0M592.8,604.6h0M601.0,604.7h0M609.2,604.9h0M617.5,604.9h0M625.7,605.0h0M633.9,605.0h0M642.1,605.0h0M650.4,604.9h0M658.6,604.8h0M666.8,604.6h0M675.0,604.4h0M683.2,604.2h0M691.5,603.9h0M699.7,603.6h0M707.9,603.2h0M716.1,602.8h0M724.3,602.4h0M732.5,601.9h0M740.7,601.4h0M748.9,600.8h0M757.1,600.2h0M765.3,599.6h0M773.5,598.9h0M781.7,598.2h0M789.9,597.4h0M798.1,596.6h0M806.3,595.8h0M814.4,594.9h0M822.6,593.9h0M830.8,593.0h0M838.9,592.0h0M847.1,590.9h0M855.2,589.8h0M863.4,588.7h0M871.5,587.5h0M879.7,586.3h0M887.8,585.1h0M895.9,583.8h0M904.0,582.5h0M912.1,581.1h0M435.9,603.3h0M444.1,604.3h0M452.3,605.2h0M460.5,606.1h0M468.8,606.9h0M477.0,607.7h0M551.2,612.9h0M559.5,613.2h0M567.8,613.6h0M576.0,613.8h0M584.3,614.1h0M592.6,614.3h0M600.8,614.5h0M609.1,614.6h0M617.4,614.7h0M625.7,614.7h0M633.9,614.7h0M642.2,614.7h0M650.5,614.6h0M658.7,614.5h0M667.0,614.4h0M675.3,614.2h0M683.5,613.9h0M691.8,613.6h0M700.1,613.3h0M708.3,613.0h0M716.6,612.6h0M724.9,612.1h0M733.1,611.6h0M741.4,611.1h0M749.6,610.5h0M757.9,609.9h0M766.1,609.3h0M774.4,608.6h0M782.6,607.9h0M790.8,607.1h0M799.1,606.3h0M807.3,605.5h0M815.5,604.6h0M823.7,603.6h0M831.9,602.7h0M840.2,601.6h0M848.4,600.6h0M856.6,599.5h0M864.8,598.4h0M872.9,597.2h0M881.1,596.0h0M889.3,594.7h0M897.5,593.4h0M905.6,592.1h0M913.8,590.7h0M418.2,611.0h0M426.5,612.0h0M434.7,613.0h0M443.0,614.0h0M451.3,614.9h0M459.5,615.8h0M467.8,616.6h0M542.5,622.2h0M550.8,622.6h0M559.1,623.0h0M567.4,623.3h0M575.7,623.6h0M584.0,623.8h0M592.3,624.1h0M600.7,624.2h0M609.0,624.4h0M617.3,624.4h0M625.6,624.5h0M633.9,624.5h0M642.3,624.5h0M650.6,624.4h0M658.9,624.3h0M667.2,624.1h0M675.5,623.9h0M683.8,623.7h0M692.2,623.4h0M700.5,623.1h0M708.8,622.7h0M717.1,622.3h0M725.4,621.9h0M733.7,621.4h0M742.0,620.8h0M750.3,620.3h0M758.6,619.7h0M766.9,619.0h0M775.2,618.3h0M783.5,617.6h0M791.8,616.8h0M800.0,616.0h0M808.3,615.1h0M816.6,614.3h0M824.9,613.3h0M833.1,612.3h0M841.4,611.3h0M849.6,610.3h0M857.9,609.2h0M866.1,608.0h0M874.3,606.8h0M882.6,605.6h0M890.8,604.4h0M899.0,603.1h0M907.2,601.7h0M915.4,600.3h0M400.4,618.5h0M408.7,619.6h0M417.0,620.7h0M425.3,621.7h0M433.6,622.7h0M441.9,623.7h0M450.2,624.6h0M458.5,625.5h0M550.3,632.3h0M558.7,632.7h0M567.0,633.0h0M575.4,633.3h0M583.8,633.6h0M592.1,633.8h0M600.5,634.0h0M608.9,634.1h0M617.2,634.2h0M625.6,634.2h0M634.0,634.2h0M642.3,634.2h0M650.7,634.1h0M659.1,634.0h0M667.4,633.9h0M675.8,633.7h0M684.2,633.4h0M692.5,633.1h0M700.9,632.8h0M709.2,632.4h0M717.6,632.0h0M726.0,631.6h0M734.3,631.1h0M742.7,630.6h0M751.0,630.0h0M759.3,629.4h0M767.7,628.7h0M776.0,628.0h0M784.4,627.3h0M792.7,626.5h0M801.0,625.7h0M809.3,624.8h0M817.7,623.9h0M826.0,623.0h0M834.3,622.0h0M842.6,621.0h0M850.9,619.9h0M859.2,618.8h0M867.5,617.7h0M875.8,616.5h0M884.0,615.3h0M892.3,614.0h0M900.6,612.7h0M908.8,611.3h0M917.1,609.9h0M390.7,627.0h0M399.1,628.2h0M407.4,629.3h0M415.7,630.4h0M424.1,631.4h0M432.5,632.4h0M440.8,633.4h0M449.2,634.3h0M457.6,635.2h0M541.4,641.6h0M549.9,642.1h0M558.3,642.4h0M566.7,642.8h0M575.1,643.1h0M583.5,643.3h0M591.9,643.6h0M600.3,643.7h0M608.7,643.9h0M617.1,643.9h0M625.6,644.0h0M634.0,644.0h0M642.4,644.0h0M650.8,643.9h0M659.2,643.8h0M667.6,643.6h0M676.0,643.4h0M684.5,643.2h0M692.9,642.9h0M701.3,642.6h0M709.7,642.2h0M718.1,641.8h0M726.5,641.3h0M734.9,640.8h0M743.3,640.3h0M751.7,639.7h0M760.1,639.1h0M768.5,638.4h0M776.9,637.7h0M785.2,637.0h0M793.6,636.2h0M802.0,635.4h0M810.4,634.5h0M818.7,633.6h0M827.1,632.7h0M835.5,631.7h0M843.8,630.7h0M852.2,629.6h0M860.5,628.5h0M868.8,627.3h0M877.2,626.1h0M885.5,624.9h0M893.8,623.6h0M902.1,622.3h0M406.1,638.9h0M414.5,640.0h0M422.9,641.1h0M431.3,642.1h0M439.7,643.0h0M448.1,644.0h0M524.0,650.4h0M532.5,650.9h0M540.9,651.4h0M549.4,651.8h0M557.8,652.2h0M566.3,652.5h0M574.8,652.8h0M583.2,653.1h0M591.7,653.3h0M600.1,653.5h0M608.6,653.6h0M617.1,653.7h0M625.5,653.7h0M634.0,653.7h0M642.5,653.7h0M650.9,653.6h0M659.4,653.5h0M667.8,653.4h0M676.3,653.2h0M684.8,652.9h0M693.2,652.6h0M701.7,652.3h0M710.1,651.9h0M718.6,651.5h0M727.0,651.1h0M735.5,650.6h0M743.9,650.0h0M752.4,649.4h0M760.8,648.8h0M769.3,648.2h0M777.7,647.5h0M786.1,646.7h0M794.6,645.9h0M803.0,645.1h0M811.4,644.2h0M819.8,643.3h0M828.2,642.4h0M836.6,641.4h0M845.0,640.3h0M853.4,639.3h0M861.8,638.1h0M870.2,637.0h0M878.6,635.8h0M886.9,634.5h0M895.3,633.3h0M903.7,631.9h0M413.3,649.7h0M421.7,650.8h0M430.2,651.8h0M438.6,652.7h0M531.9,660.7h0M540.4,661.1h0M548.9,661.5h0M557.4,661.9h0M565.9,662.3h0M574.4,662.6h0M582.9,662.8h0M591.5,663.0h0M600.0,663.2h0M608.5,663.4h0M617.0,663.4h0M625.5,663.5h0M634.0,663.5h0M642.5,663.5h0M651.0,663.4h0M659.5,663.3h0M668.1,663.1h0M676.6,662.9h0M685.1,662.7h0M693.6,662.4h0M702.1,662.0h0M710.6,661.7h0M719.1,661.2h0M727.6,660.8h0M736.1,660.3h0M744.6,659.8h0M753.1,659.2h0M761.6,658.6h0M770.0,657.9h0M778.5,657.2h0M787.0,656.4h0M795.5,655.6h0M804.0,654.8h0M812.4,653.9h0M820.9,653.0h0M829.3,652.1h0M837.8,651.1h0M846.2,650.0h0M854.7,648.9h0M863.1,647.8h0M871.6,646.6h0M880.0,645.4h0M888.4,644.2h0M896.8,642.9h0M522.8,669.9h0M531.4,670.4h0M539.9,670.9h0M548.5,671.3h0M557.0,671.7h0M565.6,672.0h0M574.1,672.3h0M582.7,672.6h0M591.2,672.8h0M599.8,673.0h0M608.3,673.1h0M616.9,673.2h0M625.5,673.2h0M634.0,673.2h0M642.6,673.2h0M651.1,673.1h0M659.7,673.0h0M668.3,672.8h0M676.8,672.6h0M685.4,672.4h0M693.9,672.1h0M702.5,671.8h0M711.0,671.4h0M719.6,671.0h0M728.1,670.5h0M736.7,670.0h0M745.2,669.5h0M753.8,668.9h0M762.3,668.3h0M770.8,667.6h0M779.4,666.9h0M787.9,666.1h0M796.4,665.3h0M804.9,664.5h0M813.4,663.6h0M822.0,662.7h0M830.5,661.7h0M839.0,660.7h0M847.5,659.7h0M855.9,658.6h0M864.4,657.5h0M872.9,656.3h0M881.4,655.1h0M889.9,653.8h0M522.2,679.6h0M530.8,680.1h0M539.4,680.6h0M548.0,681.0h0M556.6,681.4h0M565.2,681.8h0M573.8,682.1h0M582.4,682.3h0M591.0,682.5h0M599.6,682.7h0M608.2,682.9h0M616.8,682.9h0M625.4,683.0h0M634.0,683.0h0M642.7,683.0h0M651.3,682.9h0M659.9,682.8h0M668.5,682.6h0M677.1,682.4h0M685.7,682.1h0M694.3,681.9h0M702.9,681.5h0M711.5,681.1h0M720.1,680.7h0M728.7,680.3h0M737.3,679.8h0M745.9,679.2h0M754.5,678.6h0M763.0,678.0h0M771.6,677.3h0M780.2,676.6h0M788.8,675.8h0M797.3,675.0h0M805.9,674.2h0M814.5,673.3h0M823.0,672.4h0M831.6,671.4h0M840.1,670.4h0M848.7,669.4h0M857.2,668.3h0M865.7,667.1h0M874.3,665.9h0M882.8,664.7h0M891.3,663.5h0M521.6,689.3h0M530.2,689.9h0M538.9,690.3h0M547.5,690.8h0M556.2,691.2h0M564.8,691.5h0M573.5,691.8h0M582.1,692.1h0M590.8,692.3h0M599.4,692.5h0M608.1,692.6h0M616.7,692.7h0M625.4,692.7h0M634.1,692.7h0M642.7,692.7h0M651.4,692.6h0M660.0,692.5h0M668.7,692.3h0M677.3,692.1h0M686.0,691.9h0M694.6,691.6h0M703.3,691.3h0M711.9,690.9h0M720.6,690.5h0M729.2,690.0h0M737.9,689.5h0M746.5,688.9h0M755.1,688.4h0M763.8,687.7h0M772.4,687.0h0M781.0,686.3h0M789.7,685.6h0M798.3,684.8h0" fill="none" stroke="#b2aeae" stroke-width="5" stroke-linecap="round"/>
<path d="M512.3,698.5h0M521.0,699.1h0M529.7,699.6h0M538.4,700.1h0M547.1,700.5h0M555.8,700.9h0M564.5,701.2h0M573.2,701.6h0M581.9,701.8h0M590.6,702.0h0M599.3,702.2h0M608.0,702.3h0M616.7,702.4h0M625.4,702.5h0M634.1,702.5h0M642.8,702.5h0M651.5,702.4h0M660.2,702.3h0M668.9,702.1h0M677.6,701.9h0M686.3,701.6h0M695.0,701.3h0M703.7,701.0h0M712.4,700.6h0M721.1,700.2h0M729.8,699.7h0M738.5,699.2h0M747.1,698.7h0M764.5,697.4h0M502.9,707.6h0M511.7,708.2h0M520.4,708.8h0M529.1,709.3h0M537.9,709.8h0M546.6,710.2h0M555.3,710.6h0M564.1,711.0h0M572.8,711.3h0M581.6,711.6h0M590.3,711.8h0M599.1,712.0h0M607.8,712.1h0M616.6,712.2h0M625.3,712.2h0M634.1,712.2h0M642.8,712.2h0M651.6,712.1h0M660.4,712.0h0M669.1,711.8h0M677.9,711.6h0M686.6,711.4h0M695.3,711.1h0M704.1,710.7h0M712.8,710.4h0M721.6,709.9h0M730.3,709.5h0M511.0,718.0h0M519.8,718.5h0M528.6,719.1h0M537.3,719.5h0M546.1,720.0h0M554.9,720.4h0M563.7,720.7h0M572.5,721.0h0M581.3,721.3h0M590.1,721.5h0M598.9,721.7h0M607.7,721.8h0M616.5,721.9h0M625.3,722.0h0M634.1,722.0h0M642.9,722.0h0M651.7,721.9h0M660.5,721.8h0M669.3,721.6h0M678.1,721.4h0M686.9,721.1h0M695.7,720.8h0M704.5,720.5h0M713.3,720.1h0M519.2,728.3h0M528.0,728.8h0M536.8,729.3h0M545.7,729.7h0M554.5,730.1h0M563.4,730.5h0M572.2,730.8h0M581.0,731.1h0M589.9,731.3h0M598.7,731.5h0M607.6,731.6h0M616.4,731.7h0M625.3,731.7h0M634.1,731.7h0M643.0,731.7h0M651.8,731.6h0M660.7,731.5h0M669.5,731.3h0M678.4,731.1h0M687.2,730.9h0M527.4,738.5h0M536.3,739.0h0M545.2,739.5h0M554.1,739.9h0M563.0,740.2h0M571.9,740.5h0M580.8,740.8h0M589.7,741.0h0M598.6,741.2h0M607.5,741.3h0M616.4,741.4h0M625.2,741.5h0M634.1,741.5h0M651.9,741.4h0M660.8,741.3h0M669.7,741.1h0M678.6,740.9h0M526.9,748.3h0M535.8,748.7h0M544.7,749.2h0M553.7,749.6h0M562.6,750.0h0M571.6,750.3h0M589.4,750.8h0M607.3,751.1h0M661.0,751.0h0M669.9,750.8h0M526.3,758.0h0M535.3,758.5h0M544.3,758.9h0M553.3,759.3h0M562.3,759.7h0M571.2,760.0h0M543.8,768.7h0M561.9,769.4h0M570.9,769.8h0" fill="none" stroke="#b2aeae" stroke-width="5.25" stroke-linecap="round"/></g>
<path d="M537.8,438.2 549.5,440.2 561.2,447.0 569.0,450.9 588.5,458.7 608.0,462.6 623.6,456.7 639.2,452.8 643.1,437.2 647.0,421.6 652.9,413.8 650.9,402.1 647.0,394.3 650.9,382.6 658.7,374.8 674.3,370.9 689.9,368.0 699.7,372.9 709.4,380.7 717.2,384.6 725.0,378.7 736.7,376.8 744.5,384.6 742.6,394.3 736.7,406.0 740.6,421.6 742.6,437.2 754.3,439.2 756.2,447.0 760.1,452.8 748.4,460.6 746.5,472.3 754.3,480.1 760.1,493.8 758.2,499.6 773.8,495.7 787.4,486.0 803.0,474.3 812.8,464.5 822.5,454.8 834.2,443.1 842.0,437.2" fill="none" stroke="#777777" stroke-width="3.7" stroke-linejoin="round" stroke-linecap="round"/>
<path d="M537.8,438.2 545.6,445.0 557.3,448.9 569.0,450.9" fill="none" stroke="#777777" stroke-width="3.7" stroke-linejoin="round" stroke-linecap="round"/>
<path d="M828.4,250.0 832.3,269.5 828.4,289.0 822.5,304.6 812.8,318.3 806.9,328.0 799.1,341.7 789.4,351.4 781.6,361.2 773.8,363.1 779.6,370.9 775.7,374.8 754.3,378.7 752.3,386.5 744.5,384.6" fill="none" stroke="#777777" stroke-width="3.7" stroke-linejoin="round" stroke-linecap="round"/>
<path d="M799.1,341.7 810.8,347.5 818.6,359.2 826.4,367.0 836.2,370.9 842.0,382.6 845.9,390.4" fill="none" stroke="#777777" stroke-width="3.7" stroke-linejoin="round" stroke-linecap="round"/>
<path d="M742.6,526.9 750.4,519.1 760.1,511.3 771.8,503.5 783.5,499.6 793.3,489.9 803.0,480.1 810.8,482.1 818.6,478.2 830.3,476.2 832.3,466.5 822.5,464.5 814.7,466.5 803.0,474.3" fill="none" stroke="#777777" stroke-width="3.7" stroke-linejoin="round" stroke-linecap="round"/>
<path d="M592.4,525.0 608.0,521.1 627.5,519.1 647.0,523.0 666.5,525.0 678.2,528.9 689.9,530.8 705.5,523.0 717.2,525.0 732.8,525.0 742.6,526.9" fill="none" stroke="#777777" stroke-width="3.7" stroke-linejoin="round" stroke-linecap="round"/>
<path d="M484.1,497.5 495.8,495.6 505.5,493.6 517.2,497.5 528.9,497.5 536.7,505.3 538.7,493.6 540.6,483.9 554.3,483.9 564.0,476.1 567.9,466.3 566.0,456.6 567.9,448.8" fill="none" stroke="#777777" stroke-width="3.7" stroke-linejoin="round" stroke-linecap="round"/>
<path d="M484.1,497.5 491.9,509.2 505.5,519.0 513.3,520.9 525.0,528.7 536.7,536.5 556.2,534.6 573.8,538.5 581.6,548.2 587.4,561.9 599.1,554.1 606.9,544.3 601.1,524.8 591.3,522.9 593.3,519.0 603.0,518.6" fill="none" stroke="#777777" stroke-width="3.7" stroke-linejoin="round" stroke-linecap="round"/>
<path d="M413.9,536.5 423.6,532.6 439.2,536.5 454.8,534.6 452.9,526.8 462.6,519.0 478.2,524.8 489.9,532.6 501.6,540.4 513.3,556.0 511.4,575.5 517.2,587.2 521.1,598.9 523.1,614.5 525.0,630.1 529.9,628.2" fill="none" stroke="#777777" stroke-width="3.7" stroke-linejoin="round" stroke-linecap="round"/>
<path d="M220.7,491.7 227.5,501.5 239.2,505.4 249.0,513.2 252.9,522.9 249.0,538.5 254.8,544.4 266.5,547.3 278.2,548.3 284.1,556.1 288.0,569.7 293.8,563.9 301.6,571.7 309.4,575.6 317.2,577.5 327.0,583.4 336.7,573.6 348.4,575.6 360.1,579.5 373.8,581.4 380.6,587.3 391.3,579.5 403.0,575.6 409.9,571.7 405.0,561.9 408.9,554.1 410.8,538.5 403.0,519.0 401.1,505.4 410.8,491.7 412.8,483.9 422.5,472.2 434.2,470.2 449.8,472.2 465.4,478.0 479.1,485.9 488.8,497.6" fill="none" stroke="#777777" stroke-width="3.7" stroke-linejoin="round" stroke-linecap="round"/>
<path d="M530.0,628.3 533.9,647.8 541.7,665.3 545.6,680.9 551.5,692.6 561.2,698.5 569.0,704.3 580.7,696.5 584.6,714.1" fill="none" stroke="#777777" stroke-width="3.7" stroke-linejoin="round" stroke-linecap="round"/>
<path d="M611.9,673.1 611.9,686.8 610.0,700.4 604.1,704.3 592.4,708.2 584.6,714.1 584.6,725.8 588.5,731.6 600.2,733.6 608.0,729.7 621.7,731.6 631.4,735.5 639.2,741.4" fill="none" stroke="#777777" stroke-width="3.7" stroke-linejoin="round" stroke-linecap="round"/>
<path d="M611.9,673.1 621.7,669.2 631.4,677.0 647.0,680.9 666.5,679.0 686.0,677.0 697.7,675.1 705.5,680.9 717.2,680.9 728.9,679.0 732.8,692.6 744.5,696.5 746.5,704.3 756.2,702.4 764.0,692.6 775.7,686.8 789.4,688.7 799.1,690.7 803.0,700.4 799.1,704.3 810.8,702.4 818.6,692.6 828.4,686.8 832.3,675.1 832.3,661.4 838.1,647.8 842.0,638.0 857.6,628.3 863.5,622.4 859.6,608.8 853.7,599.0 845.9,595.1 851.8,589.3 871.3,585.4 890.8,579.5 900.6,571.7" fill="none" stroke="#777777" stroke-width="3.7" stroke-linejoin="round" stroke-linecap="round"/>
<path d="M832.3,675.1 838.1,680.9 845.9,696.5 847.9,708.2 845.9,721.9" fill="none" stroke="#777777" stroke-width="3.7" stroke-linejoin="round" stroke-linecap="round"/>
<path d="M730.0,524.8 741.7,528.7 753.4,532.6 765.1,544.3 769.0,554.1 776.8,561.9 788.5,567.7 802.2,571.6 811.9,575.5 819.7,573.6 821.7,563.8 827.5,556.0 839.2,548.2 847.0,538.5 858.7,540.4 870.4,538.5 882.1,538.5 891.9,536.5" fill="none" stroke="#777777" stroke-width="3.7" stroke-linejoin="round" stroke-linecap="round"/>
<path d="M650.9,382.6 647.0,376.8 639.2,371.9 635.3,369.9" fill="none" stroke="#777777" stroke-width="3.7" stroke-linejoin="round" stroke-linecap="round"/>
<path d="M215.8,480.0 212.9,460.8 211.9,439.4 188.5,425.7 184.6,414.0 181.7,402.3 175.8,395.5 170.0,393.6 178.8,382.8 176.8,367.2 167.1,357.5 169.0,347.7 177.8,336.0 196.3,330.2 208.0,336.0 215.8,338.0 225.6,328.2 235.3,326.3 245.1,324.3 250.9,327.2 266.5,323.3 278.2,318.5 284.1,306.8 290.9,299.0 289.9,281.4 291.9,271.7 288.9,265.8 301.6,264.8 315.3,262.9 325.0,268.7 323.1,260.0 330.9,248.3 340.6,231.7 350.4,236.6 373.8,240.5 375.7,222.9 381.6,216.1 394.3,213.2 397.2,205.4 410.8,206.3 411.8,219.0 420.6,227.8 432.3,232.7 438.1,238.5 440.1,248.3 445.0,261.9 442.0,273.6 436.2,279.5 437.2,287.3 445.9,293.1 459.6,297.0 473.2,299.0 488.8,309.7 498.6,314.6 502.5,328.2 510.3,345.8 530.0,346.7 549.5,351.4 569.0,351.4 584.6,356.3 592.4,363.1 608.0,369.0 623.6,371.9 635.3,369.9 650.9,363.1 666.5,358.2 686.0,356.3 701.6,351.4 713.3,341.7 725.0,330.9 728.9,327.0 721.1,318.3 722.1,308.5 728.9,302.7 741.7,305.0 751.5,307.0 759.3,297.2 765.1,293.3 776.8,289.4 784.6,279.7 788.5,271.9 798.3,266.0 808.0,262.1 817.8,260.2 827.5,259.2 832.4,256.3 827.5,250.4 819.7,242.6 808.0,236.8 796.3,240.7 792.4,246.5 776.8,248.5 770.0,240.7 772.9,227.0 776.8,213.4 780.7,205.6 794.4,207.5 804.1,199.7 811.9,195.8 815.8,174.4 821.7,158.8 825.6,151.0 815.8,147.1 817.8,139.3 823.6,131.5 837.3,125.6 854.8,120.7 866.5,123.7 878.2,123.7 888.0,129.5 895.8,139.3 903.6,151.0 911.4,162.7 917.2,172.4 919.2,182.2 930.9,182.2 944.5,184.1 960.1,190.0 964.0,197.8 969.9,209.5 983.5,205.6 991.3,199.7 999.1,191.9 1008.9,186.1 1020.6,182.2 1018.6,193.9 1016.7,211.4 1016.7,227.0 1012.8,242.6 1012.8,254.3 997.2,254.3 987.4,264.1 993.3,275.8 995.2,285.5 999.1,297.2 993.3,310.9 985.5,305.0 979.6,316.7 969.9,326.5 960.1,330.4 964.0,342.1 954.3,340.1 944.5,338.2 938.7,349.9 928.9,361.6 919.2,371.3 909.4,381.1 897.7,388.9 889.9,396.7 884.1,402.5 878.2,410.0 873.2,411.9 871.3,404.1 875.2,394.3 881.0,386.5 883.0,374.8 877.1,367.0 869.3,367.0 861.5,374.8 855.7,386.5 849.8,390.4 844.0,398.2 840.1,406.0 826.4,411.9 820.6,419.7 824.5,429.4 834.2,433.3 842.0,431.4 844.0,439.2 849.8,447.0 861.5,443.1 869.3,433.3 873.2,425.5 881.0,433.3 890.8,433.3 901.6,437.1 895.8,448.8 882.1,456.6 866.5,464.4 860.7,478.0 854.8,491.7 862.6,499.5 872.4,503.4 880.2,515.1 886.0,526.8 891.9,536.5 901.6,542.4 907.5,550.2 909.4,561.9 905.5,569.7 895.8,577.5 905.5,576.5 913.3,575.5 917.6,582.4 918.8,595.0 917.2,610.6 909.4,618.4 905.5,630.1 899.7,639.9 895.8,651.6 891.9,661.3 891.9,673.0 892.7,675.1 881.0,686.8 869.3,700.4 859.6,710.2 849.8,721.9 840.1,731.6 826.4,739.4 812.8,745.3 803.0,753.1 791.3,757.0 779.6,760.9 767.9,764.8 754.3,766.7 744.5,770.6 734.8,772.6 736.7,784.3 736.7,794.0 730.9,797.9 725.0,796.0 721.1,786.2 717.2,774.5 719.2,768.7 709.4,768.7 697.7,770.6 686.0,771.6 674.3,768.7 664.6,764.8 660.7,755.0 654.8,747.2 645.1,741.4 637.3,741.4 627.5,745.3 619.7,747.2 611.9,753.1 602.2,749.2 592.4,753.1 582.7,749.2 572.9,751.1 571.0,762.8 571.9,776.5 565.1,776.5 559.3,772.6 553.4,766.7 543.7,768.7 535.9,762.8 530.0,757.0 524.0,760.8 527.9,753.0 524.0,741.3 520.1,731.6 512.3,723.8 498.6,721.8 504.5,717.9 499.6,714.0 500.6,702.3 508.4,692.6 518.1,684.8 522.0,677.0 524.0,655.5 518.1,649.7 512.3,636.0 506.4,630.2 502.5,634.1 494.7,645.8 484.9,636.0 473.2,632.1 457.6,639.9 445.9,645.8 436.2,655.5 420.6,653.6 408.9,653.6 408.9,645.8 403.0,639.9 399.1,629.2 391.3,630.2 381.6,625.3 369.9,621.4 362.1,628.2 356.2,638.9 352.3,636.0 354.3,630.2 350.4,622.4 336.7,624.3 325.0,621.4 317.2,614.6 307.5,615.5 303.6,608.7 295.8,604.8 291.9,599.0 284.1,591.2 278.2,579.5 270.4,581.4 266.5,573.6 258.7,565.8 250.9,558.0 245.1,553.1 236.3,558.0 233.4,550.2 225.6,544.4 217.8,536.6 208.0,531.7 203.1,524.9 204.1,519.0 202.2,507.3 203.1,498.5 210.0,496.6 211.9,501.5 218.7,498.5 220.7,491.7Z" fill="none" stroke="#777777" stroke-width="4.1" stroke-linejoin="round"/>
<path d="M705.5,805.7 717.2,799.9 727.0,798.9 736.7,799.9 746.5,799.9 742.6,809.6 738.7,819.4 728.9,827.2 719.2,835.0 705.5,833.0 699.7,823.3 699.7,813.5Z" fill="none" stroke="#777777" stroke-width="4.1" stroke-linejoin="round"/>
<path d="M927.5,674.1 931.9,678.5 931.9,690.2 929.7,701.9 929.0,713.6 926.1,725.3 923.1,735.6 921.7,744.3 917.3,741.4 911.4,735.6 907.0,725.3 902.7,715.1 903.4,704.8 908.5,693.1 912.9,682.9 920.2,675.6Z" fill="none" stroke="#777777" stroke-width="3.2" stroke-linejoin="round"/>
<path d="M945.8,685.8 946.5,706.3" fill="none" stroke="#777777" stroke-width="3"/>
<path d="M939.2,744.3 930.4,760.4" fill="none" stroke="#777777" stroke-width="3"/>
<path d="M912.9,798.4 907.0,817.5" fill="none" stroke="#777777" stroke-width="3"/>
<path d="M958.2,655.1 954.6,659.5" fill="none" stroke="#777777" stroke-width="3"/>
</g>
<path d="M906.5,550.2 910.4,561.9 906.5,571.6 913.3,576.5 920.2,585.3 920.2,595.0 918.2,610.6 910.4,619.4 906.5,631.1 900.6,640.9 896.7,652.6 893.4,662.3 893.0,673.0 887.2,683.8 879.4,691.6 871.6,700.3" fill="none" stroke="#777777" stroke-width="6.5" stroke-linejoin="round" stroke-linecap="round" stroke-dasharray="9 2.5 5 1.5 12 3"/>
<path d="M893.9,675.1 882.2,687.7 870.5,701.6 860.8,711.3 851.0,723.0 841.3,732.8 827.6,740.6 814.0,746.4 804.2,754.2 792.5,758.1 780.8,762.0" fill="none" stroke="#777777" stroke-width="6.5" stroke-linejoin="round" stroke-linecap="round" stroke-dasharray="9 2.5 5 1.5 12 3"/>
<ellipse cx="921" cy="571" rx="6" ry="9" fill="#777777" transform="rotate(30 921 571)"/>
<ellipse cx="917" cy="585" rx="4" ry="6" fill="#777777" transform="rotate(0 917 585)"/>
<ellipse cx="875" cy="407" rx="7" ry="4" fill="#777777" transform="rotate(-30 875 407)"/>
<ellipse cx="893" cy="714" rx="3.2" ry="4.5" fill="#777777" transform="rotate(0 893 714)"/>
<ellipse cx="851.5" cy="775" rx="2.2" ry="2.2" fill="#777777" transform="rotate(0 851.5 775)"/>
<ellipse cx="732" cy="786" rx="3" ry="5" fill="#777777" transform="rotate(10 732 786)"/>
<ellipse cx="707" cy="778" rx="1.5" ry="2.5" fill="#777777" transform="rotate(0 707 778)"/>
<ellipse cx="927" cy="664" rx="1.8" ry="3" fill="#777777" transform="rotate(20 927 664)"/>
<rect x="969.6" y="640.9" width="176.9999999999999" height="213.5" fill="#fff"/>
<clipPath id="ild"><polygon points="971.3,642.5 1112.8,642.5 1110.2,648.0 1107.6,654.4 1103.8,659.5 1098.7,664.7 1093.5,668.5 1088.4,672.4 1082.0,675.6 1075.5,678.1 1069.1,680.7 1062.7,681.4 1058.9,685.2 1052.4,687.1 1047.3,687.8 1042.2,688.4 1038.6,689.3 1038.6,699.3 1034.5,699.3 1033.8,689.3 1031.9,689.1 1026.8,687.8 1021.6,686.5 1016.5,685.2 1011.4,682.6 1007.5,678.8 1002.4,675.6 997.2,674.9 993.4,676.9 988.2,678.8 983.1,679.4 976.7,680.1 971.3,681.4"/></clipPath>
<g clip-path="url(#ild)"><rect x="968" y="640" width="180" height="62" fill="#fdc968"/><polygon points="967.9,639.9 1112.3,639.9 1100.6,653.5 1084.9,659.4 1069.3,662.3 1051.8,667.2 1034.2,673.0 1020.6,680.8 1010.8,686.7 967.9,688.6" fill="#f98a45"/><polygon points="967.9,639.9 1075.2,639.9 1063.5,650.6 1044.0,658.4 1024.5,666.2 1008.9,673.0 993.3,676.9 967.9,676.0" fill="#de3b2a"/><polygon points="967.9,639.9 1046.9,639.9 1035.2,651.2 1021.6,657.0 1004.0,661.3 989.4,661.7 975.7,659.8 967.9,658.4" fill="#a80d26"/><polygon points="1061.5,669.1 1073.2,667.2 1075.2,671.1 1065.4,673.0" fill="#fff0a0"/><polygon points="1042.0,677.9 1057.6,674.0 1059.6,677.9 1045.9,680.8" fill="#fff0a0"/><polygon points="1030.3,686.7 1042.0,683.8 1042.0,688.6 1032.3,690.6" fill="#fff0a0"/>
<polyline points="971.3,662.1 975.4,660.8 976.7,667.2 981.8,671.1 984.4,667.2 987.6,649.3 990.8,648.0 998.5,650.5 1007.5,651.2 1015.2,649.9 1021.6,650.5 1026.8,653.8 1034.5,652.5 1039.6,657.0 1044.7,662.1 1049.9,657.6 1057.6,657.0 1065.3,662.1 1071.7,660.2 1078.1,655.7 1081.3,649.3 1083.3,644.1" fill="none" stroke="#c8b8a0" stroke-width="1.2"/>
<polyline points="1081.3,649.3 1085.2,655.7 1086.5,663.4 1085.2,668.5" fill="none" stroke="#c8b8a0" stroke-width="1.2"/>
<polyline points="976.7,667.2 981.8,672.4 989.5,669.8 994.7,672.4" fill="none" stroke="#c8b8a0" stroke-width="1.2"/>
</g>
<polyline points="1112.8,642.5 1110.2,648.0 1107.6,654.4 1103.8,659.5 1098.7,664.7 1093.5,668.5 1088.4,672.4 1082.0,675.6 1075.5,678.1 1069.1,680.7 1062.7,681.4 1058.9,685.2 1052.4,687.1 1047.3,687.8 1042.2,688.4 1038.6,689.3 1038.6,699.3 1034.5,699.3 1033.8,689.3 1031.9,689.1 1026.8,687.8 1021.6,686.5 1016.5,685.2 1011.4,682.6 1007.5,678.8 1002.4,675.6 997.2,674.9 993.4,676.9 988.2,678.8 983.1,679.4 976.7,680.1 971.3,681.4" fill="none" stroke="#777777" stroke-width="1.6" stroke-linejoin="round"/>
<polygon points="1024.2,703.2 1029.3,700.0 1035.7,699.3 1040.2,701.3 1039.0,705.7 1035.7,709.0 1030.6,711.5 1025.5,712.2 1022.9,708.3" fill="#fdc070" stroke="#777777" stroke-width="0.8"/>
<polygon points="1122.4,657.6 1123.1,662.1 1121.1,668.5 1118.6,674.9 1116.0,680.7 1113.4,682.0 1110.2,677.5 1107.6,672.4 1110.2,668.5 1115.3,663.4 1119.2,658.9" fill="none" stroke="#666" stroke-width="1"/>
<path d="M1028.1,731.7L1030.6,727.3M1045.6,724.8L1050.3,726.5M1063.1,730.1L1067.4,727.6M1090.0,734.6L1092.0,734.6M1100.6,730.7L1100.6,734.7M1104.8,711.5L1108.0,707.7M1117.6,689.7L1120.8,685.9M1082.9,693.6L1084.9,693.6M1127.8,665.3L1128.5,669.2M1133.6,655.7L1135.6,655.7M1034.5,758.5L1034.5,763.5M1064.9,764.4L1066.9,767.8M1066.8,774.2L1068.8,770.8M1075.8,769.5L1077.8,773.0M1082.0,769.4L1084.5,767.9M1097.8,764.6L1099.5,759.9M1054.0,776.4L1056.0,776.4M1046.0,785.6L1048.6,782.5M1031.4,790.2L1034.9,788.2M1059.9,784.1L1063.0,786.6M1059.6,791.6L1060.7,794.5M1069.0,788.4L1071.8,787.4M1076.5,793.7L1079.7,789.9M1019.1,797.0L1019.1,802.0M1051.2,804.5L1051.2,808.5M1048.0,822.6L1051.7,821.3" stroke="#555" stroke-width="2.2" fill="none"/>
<rect x="969.6" y="640.9" width="176.9999999999999" height="213.5" fill="none" stroke="#000" stroke-width="3.3"/>
<rect x="134.6" y="104.9" width="1011.9999999999999" height="749.5" fill="none" stroke="#000" stroke-width="4.8"/>
</g>
<text class="ser" x="152.5" y="165.5" font-size="49">(a) Spring</text>
<text class="ser" x="1209.5" y="161.5" font-size="49">(b) Summer</text>
<text class="ser" x="149.5" y="965" font-size="49">(c) Autumn</text>
<text class="ser" x="1209.5" y="961" font-size="49">(d) Winter</text>
<rect x="134.6" y="107.1" width="17" height="4.4" fill="#000"/>
<text class="ser" font-size="48" text-anchor="middle" transform="translate(104.5,110.8) rotate(-90)">50°N</text>
<rect x="134.6" y="318.6" width="17" height="4.4" fill="#000"/>
<text class="ser" font-size="48" text-anchor="middle" transform="translate(104.5,322.3) rotate(-90)">40°N</text>
<rect x="134.6" y="528.2" width="17" height="4.4" fill="#000"/>
<text class="ser" font-size="48" text-anchor="middle" transform="translate(104.5,531.9) rotate(-90)">30°N</text>
<rect x="134.6" y="732.0" width="17" height="4.4" fill="#000"/>
<text class="ser" font-size="48" text-anchor="middle" transform="translate(104.5,735.7) rotate(-90)">20°N</text>
<rect x="134.6" y="911.1" width="17" height="4.4" fill="#000"/>
<text class="ser" font-size="48" text-anchor="middle" transform="translate(104.5,914.8) rotate(-90)">50°N</text>
<rect x="134.6" y="1122.6" width="17" height="4.4" fill="#000"/>
<text class="ser" font-size="48" text-anchor="middle" transform="translate(104.5,1126.3) rotate(-90)">40°N</text>
<rect x="134.6" y="1332.2" width="17" height="4.4" fill="#000"/>
<text class="ser" font-size="48" text-anchor="middle" transform="translate(104.5,1335.9) rotate(-90)">30°N</text>
<rect x="134.6" y="1536.0" width="17" height="4.4" fill="#000"/>
<text class="ser" font-size="48" text-anchor="middle" transform="translate(104.5,1539.7) rotate(-90)">20°N</text>
<rect x="137.1" y="1642.4" width="4.4" height="16" fill="#000"/>
<text class="ser" font-size="48" text-anchor="middle" x="138.0" y="1722.5">80°E</text>
<rect x="532.2" y="1642.4" width="4.4" height="16" fill="#000"/>
<text class="ser" font-size="48" text-anchor="middle" x="534.4" y="1722.5">100°E</text>
<rect x="920.4" y="1642.4" width="4.4" height="16" fill="#000"/>
<text class="ser" font-size="48" text-anchor="middle" x="922.6" y="1722.5">120°E</text>
<rect x="1202.1" y="1642.4" width="4.4" height="16" fill="#000"/>
<text class="ser" font-size="48" text-anchor="middle" x="1203.0" y="1722.5">80°E</text>
<rect x="1597.2" y="1642.4" width="4.4" height="16" fill="#000"/>
<text class="ser" font-size="48" text-anchor="middle" x="1599.4" y="1722.5">100°E</text>
<rect x="1985.4" y="1642.4" width="4.4" height="16" fill="#000"/>
<text class="ser" font-size="48" text-anchor="middle" x="1987.6" y="1722.5">120°E</text>
<path d="M1254.1,1615 V1641.1 H1431.2 V1615 M1342.8,1622.5 V1641.1" fill="none" stroke="#000" stroke-width="3"/>
<text class="san" font-size="36" text-anchor="middle" x="1254" y="1595.6">0</text>
<text class="san" font-size="36" text-anchor="middle" x="1342.5" y="1595.6">500</text>
<text class="san" font-size="36" x="1386.7" y="1595.6">1,000 km</text>
<linearGradient id="cb" x1="0" x2="1" y1="0" y2="0"><stop offset="0" stop-color="#ff0000"/><stop offset="0.5" stop-color="#ffffff"/><stop offset="1" stop-color="#0000ff"/></linearGradient>
<rect x="119.6" y="1815" width="2077.6" height="67.8" fill="url(#cb)"/>
<rect x="118.8" y="1882.8" width="1.6" height="6" fill="#b0b0b0"/>
<rect x="326.4" y="1882.8" width="1.6" height="6" fill="#b0b0b0"/>
<rect x="534.0" y="1882.8" width="1.6" height="6" fill="#b0b0b0"/>
<rect x="741.6" y="1882.8" width="1.6" height="6" fill="#b0b0b0"/>
<rect x="949.2" y="1882.8" width="1.6" height="6" fill="#b0b0b0"/>
<rect x="1156.8" y="1882.8" width="1.6" height="6" fill="#b0b0b0"/>
<rect x="1364.4" y="1882.8" width="1.6" height="6" fill="#b0b0b0"/>
<rect x="1572.0" y="1882.8" width="1.6" height="6" fill="#b0b0b0"/>
<rect x="1779.6" y="1882.8" width="1.6" height="6" fill="#b0b0b0"/>
<rect x="1987.2" y="1882.8" width="1.6" height="6" fill="#b0b0b0"/>
<rect x="2194.8" y="1882.8" width="1.6" height="6" fill="#b0b0b0"/>
<text class="ser" font-size="62" x="122.5" y="1793.6">Sen's trend (/10a)</text>
<text class="ser" font-size="60" x="50.2" y="1945.7">&lt;-0.5</text>
<text class="ser" font-size="60" x="473" y="1945.7">-0.3</text>
<text class="ser" font-size="60" x="896.6" y="1945.7">-0.1</text>
<text class="ser" font-size="60" x="1327" y="1945.7">0.1</text>
<text class="ser" font-size="60" x="1741" y="1945.7">0.3</text>
<text class="ser" font-size="60" x="2128.5" y="1945.7">&gt;0.5</text>
</svg></body></html>
